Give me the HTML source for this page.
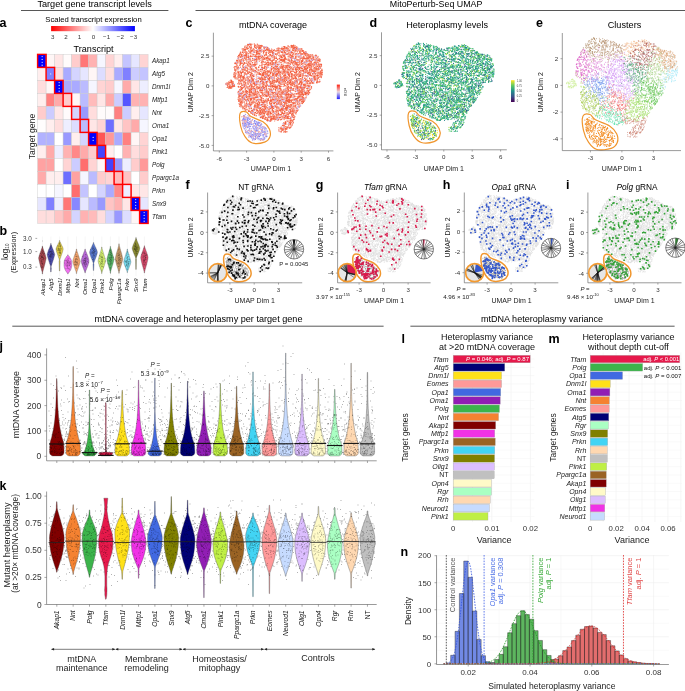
<!DOCTYPE html>
<html><head><meta charset="utf-8"><style>html,body{margin:0;padding:0;background:#fff;overflow:hidden}svg{display:block;will-change:transform}text{font-family:"Liberation Sans",sans-serif}</style></head>
<body><svg width="685" height="691" viewBox="0 0 685 691" font-family='"Liberation Sans", sans-serif'>
<text x="94.60" y="6.60" font-size="9" text-anchor="middle" textLength="114.4" lengthAdjust="spacingAndGlyphs">Target gene transcript levels</text>
<line x1="21.00" y1="10.50" x2="168.40" y2="10.50" stroke="#444" stroke-width="0.9"/>
<text x="436.10" y="6.60" font-size="9" text-anchor="middle" textLength="92.5" lengthAdjust="spacingAndGlyphs">MitoPerturb-Seq UMAP</text>
<line x1="195.50" y1="10.50" x2="685.00" y2="10.50" stroke="#444" stroke-width="0.9"/>
<text x="198.50" y="322.00" font-size="9" text-anchor="middle" textLength="207.9" lengthAdjust="spacingAndGlyphs">mtDNA coverage and heteroplasmy per target gene</text>
<line x1="12.30" y1="326.20" x2="383.60" y2="326.20" stroke="#444" stroke-width="0.9"/>
<text x="542.00" y="322.00" font-size="9" text-anchor="middle" textLength="122" lengthAdjust="spacingAndGlyphs">mtDNA heteroplasmy variance</text>
<line x1="410.40" y1="326.20" x2="674.60" y2="326.20" stroke="#444" stroke-width="0.9"/>
<text x="-0.60" y="26.80" font-size="12.5" font-weight="bold">a</text>
<text x="93.50" y="22.40" font-size="7.6" text-anchor="middle" textLength="96.3" lengthAdjust="spacingAndGlyphs">Scaled transcript expression</text>
<defs><linearGradient id="hmg" x1="0" x2="1" y1="0" y2="0"><stop offset="0" stop-color="#ff0000"/><stop offset="0.5" stop-color="#ffffff"/><stop offset="1" stop-color="#0000ff"/></linearGradient></defs>
<rect x="51.10" y="26.00" width="83.80" height="5.20" fill="url(#hmg)"/>
<text x="52.70" y="39.00" font-size="6.2" text-anchor="middle" fill="#333">3</text>
<text x="66.10" y="39.00" font-size="6.2" text-anchor="middle" fill="#333">2</text>
<text x="79.60" y="39.00" font-size="6.2" text-anchor="middle" fill="#333">1</text>
<text x="93.40" y="39.00" font-size="6.2" text-anchor="middle" fill="#333">0</text>
<text x="106.60" y="39.00" font-size="6.2" text-anchor="middle" fill="#333">−1</text>
<text x="120.30" y="39.00" font-size="6.2" text-anchor="middle" fill="#333">−2</text>
<text x="133.60" y="39.00" font-size="6.2" text-anchor="middle" fill="#333">−3</text>
<text x="93.60" y="51.80" font-size="9" text-anchor="middle" textLength="40" lengthAdjust="spacingAndGlyphs">Transcript</text>
<rect x="37.60" y="54.40" width="8.50" height="13.00" fill="#0000ff" stroke="#c8c8c8" stroke-width="0.4"/>
<rect x="46.10" y="54.40" width="8.50" height="13.00" fill="#fff6f6" stroke="#c8c8c8" stroke-width="0.4"/>
<rect x="54.60" y="54.40" width="8.50" height="13.00" fill="#ffe6e6" stroke="#c8c8c8" stroke-width="0.4"/>
<rect x="63.10" y="54.40" width="8.50" height="13.00" fill="#fffbfb" stroke="#c8c8c8" stroke-width="0.4"/>
<rect x="71.60" y="54.40" width="8.50" height="13.00" fill="#ffcccc" stroke="#c8c8c8" stroke-width="0.4"/>
<rect x="80.10" y="54.40" width="8.50" height="13.00" fill="#ff7777" stroke="#c8c8c8" stroke-width="0.4"/>
<rect x="88.60" y="54.40" width="8.50" height="13.00" fill="#ffb2b2" stroke="#c8c8c8" stroke-width="0.4"/>
<rect x="97.10" y="54.40" width="8.50" height="13.00" fill="#f6f6ff" stroke="#c8c8c8" stroke-width="0.4"/>
<rect x="105.60" y="54.40" width="8.50" height="13.00" fill="#ffd4d4" stroke="#c8c8c8" stroke-width="0.4"/>
<rect x="114.10" y="54.40" width="8.50" height="13.00" fill="#ffeeee" stroke="#c8c8c8" stroke-width="0.4"/>
<rect x="122.60" y="54.40" width="8.50" height="13.00" fill="#c4c4ff" stroke="#c8c8c8" stroke-width="0.4"/>
<rect x="131.10" y="54.40" width="8.50" height="13.00" fill="#e6e6ff" stroke="#c8c8c8" stroke-width="0.4"/>
<rect x="139.60" y="54.40" width="8.50" height="13.00" fill="#ffd4d4" stroke="#c8c8c8" stroke-width="0.4"/>
<rect x="37.60" y="67.40" width="8.50" height="13.00" fill="#ffeeee" stroke="#c8c8c8" stroke-width="0.4"/>
<rect x="46.10" y="67.40" width="8.50" height="13.00" fill="#8080ff" stroke="#c8c8c8" stroke-width="0.4"/>
<rect x="54.60" y="67.40" width="8.50" height="13.00" fill="#ffdddd" stroke="#c8c8c8" stroke-width="0.4"/>
<rect x="63.10" y="67.40" width="8.50" height="13.00" fill="#aaaaff" stroke="#c8c8c8" stroke-width="0.4"/>
<rect x="71.60" y="67.40" width="8.50" height="13.00" fill="#d4d4ff" stroke="#c8c8c8" stroke-width="0.4"/>
<rect x="80.10" y="67.40" width="8.50" height="13.00" fill="#e6e6ff" stroke="#c8c8c8" stroke-width="0.4"/>
<rect x="88.60" y="67.40" width="8.50" height="13.00" fill="#fff6f6" stroke="#c8c8c8" stroke-width="0.4"/>
<rect x="97.10" y="67.40" width="8.50" height="13.00" fill="#ddddff" stroke="#c8c8c8" stroke-width="0.4"/>
<rect x="105.60" y="67.40" width="8.50" height="13.00" fill="#ffdddd" stroke="#c8c8c8" stroke-width="0.4"/>
<rect x="114.10" y="67.40" width="8.50" height="13.00" fill="#aaaaff" stroke="#c8c8c8" stroke-width="0.4"/>
<rect x="122.60" y="67.40" width="8.50" height="13.00" fill="#8080ff" stroke="#c8c8c8" stroke-width="0.4"/>
<rect x="131.10" y="67.40" width="8.50" height="13.00" fill="#ccccff" stroke="#c8c8c8" stroke-width="0.4"/>
<rect x="139.60" y="67.40" width="8.50" height="13.00" fill="#c4c4ff" stroke="#c8c8c8" stroke-width="0.4"/>
<rect x="37.60" y="80.40" width="8.50" height="13.00" fill="#ffdddd" stroke="#c8c8c8" stroke-width="0.4"/>
<rect x="46.10" y="80.40" width="8.50" height="13.00" fill="#fff6f6" stroke="#c8c8c8" stroke-width="0.4"/>
<rect x="54.60" y="80.40" width="8.50" height="13.00" fill="#0000ff" stroke="#c8c8c8" stroke-width="0.4"/>
<rect x="63.10" y="80.40" width="8.50" height="13.00" fill="#aaaaff" stroke="#c8c8c8" stroke-width="0.4"/>
<rect x="71.60" y="80.40" width="8.50" height="13.00" fill="#aaaaff" stroke="#c8c8c8" stroke-width="0.4"/>
<rect x="80.10" y="80.40" width="8.50" height="13.00" fill="#bbbbff" stroke="#c8c8c8" stroke-width="0.4"/>
<rect x="88.60" y="80.40" width="8.50" height="13.00" fill="#f6f6ff" stroke="#c8c8c8" stroke-width="0.4"/>
<rect x="97.10" y="80.40" width="8.50" height="13.00" fill="#ffd4d4" stroke="#c8c8c8" stroke-width="0.4"/>
<rect x="105.60" y="80.40" width="8.50" height="13.00" fill="#ffcccc" stroke="#c8c8c8" stroke-width="0.4"/>
<rect x="114.10" y="80.40" width="8.50" height="13.00" fill="#f6f6ff" stroke="#c8c8c8" stroke-width="0.4"/>
<rect x="122.60" y="80.40" width="8.50" height="13.00" fill="#ffaaaa" stroke="#c8c8c8" stroke-width="0.4"/>
<rect x="131.10" y="80.40" width="8.50" height="13.00" fill="#ffe6e6" stroke="#c8c8c8" stroke-width="0.4"/>
<rect x="139.60" y="80.40" width="8.50" height="13.00" fill="#eeeeff" stroke="#c8c8c8" stroke-width="0.4"/>
<rect x="37.60" y="93.40" width="8.50" height="13.00" fill="#ffeeee" stroke="#c8c8c8" stroke-width="0.4"/>
<rect x="46.10" y="93.40" width="8.50" height="13.00" fill="#ff8080" stroke="#c8c8c8" stroke-width="0.4"/>
<rect x="54.60" y="93.40" width="8.50" height="13.00" fill="#ffaaaa" stroke="#c8c8c8" stroke-width="0.4"/>
<rect x="63.10" y="93.40" width="8.50" height="13.00" fill="#ffcccc" stroke="#c8c8c8" stroke-width="0.4"/>
<rect x="71.60" y="93.40" width="8.50" height="13.00" fill="#fff6f6" stroke="#c8c8c8" stroke-width="0.4"/>
<rect x="80.10" y="93.40" width="8.50" height="13.00" fill="#bbbbff" stroke="#c8c8c8" stroke-width="0.4"/>
<rect x="88.60" y="93.40" width="8.50" height="13.00" fill="#ffbbbb" stroke="#c8c8c8" stroke-width="0.4"/>
<rect x="97.10" y="93.40" width="8.50" height="13.00" fill="#ffe6e6" stroke="#c8c8c8" stroke-width="0.4"/>
<rect x="105.60" y="93.40" width="8.50" height="13.00" fill="#ffaaaa" stroke="#c8c8c8" stroke-width="0.4"/>
<rect x="114.10" y="93.40" width="8.50" height="13.00" fill="#ccccff" stroke="#c8c8c8" stroke-width="0.4"/>
<rect x="122.60" y="93.40" width="8.50" height="13.00" fill="#5555ff" stroke="#c8c8c8" stroke-width="0.4"/>
<rect x="131.10" y="93.40" width="8.50" height="13.00" fill="#ffb2b2" stroke="#c8c8c8" stroke-width="0.4"/>
<rect x="139.60" y="93.40" width="8.50" height="13.00" fill="#ffb2b2" stroke="#c8c8c8" stroke-width="0.4"/>
<rect x="37.60" y="106.40" width="8.50" height="13.00" fill="#ffcccc" stroke="#c8c8c8" stroke-width="0.4"/>
<rect x="46.10" y="106.40" width="8.50" height="13.00" fill="#ccccff" stroke="#c8c8c8" stroke-width="0.4"/>
<rect x="54.60" y="106.40" width="8.50" height="13.00" fill="#ffe6e6" stroke="#c8c8c8" stroke-width="0.4"/>
<rect x="63.10" y="106.40" width="8.50" height="13.00" fill="#fffbfb" stroke="#c8c8c8" stroke-width="0.4"/>
<rect x="71.60" y="106.40" width="8.50" height="13.00" fill="#d4d4ff" stroke="#c8c8c8" stroke-width="0.4"/>
<rect x="80.10" y="106.40" width="8.50" height="13.00" fill="#9999ff" stroke="#c8c8c8" stroke-width="0.4"/>
<rect x="88.60" y="106.40" width="8.50" height="13.00" fill="#ffdddd" stroke="#c8c8c8" stroke-width="0.4"/>
<rect x="97.10" y="106.40" width="8.50" height="13.00" fill="#fffbfb" stroke="#c8c8c8" stroke-width="0.4"/>
<rect x="105.60" y="106.40" width="8.50" height="13.00" fill="#fffbfb" stroke="#c8c8c8" stroke-width="0.4"/>
<rect x="114.10" y="106.40" width="8.50" height="13.00" fill="#ff8080" stroke="#c8c8c8" stroke-width="0.4"/>
<rect x="122.60" y="106.40" width="8.50" height="13.00" fill="#ccccff" stroke="#c8c8c8" stroke-width="0.4"/>
<rect x="131.10" y="106.40" width="8.50" height="13.00" fill="#ffeeee" stroke="#c8c8c8" stroke-width="0.4"/>
<rect x="139.60" y="106.40" width="8.50" height="13.00" fill="#e6e6ff" stroke="#c8c8c8" stroke-width="0.4"/>
<rect x="37.60" y="119.40" width="8.50" height="13.00" fill="#fffdfd" stroke="#c8c8c8" stroke-width="0.4"/>
<rect x="46.10" y="119.40" width="8.50" height="13.00" fill="#ffeeee" stroke="#c8c8c8" stroke-width="0.4"/>
<rect x="54.60" y="119.40" width="8.50" height="13.00" fill="#ffdddd" stroke="#c8c8c8" stroke-width="0.4"/>
<rect x="63.10" y="119.40" width="8.50" height="13.00" fill="#eeeeff" stroke="#c8c8c8" stroke-width="0.4"/>
<rect x="71.60" y="119.40" width="8.50" height="13.00" fill="#ddddff" stroke="#c8c8c8" stroke-width="0.4"/>
<rect x="80.10" y="119.40" width="8.50" height="13.00" fill="#bbbbff" stroke="#c8c8c8" stroke-width="0.4"/>
<rect x="88.60" y="119.40" width="8.50" height="13.00" fill="#ffe6e6" stroke="#c8c8c8" stroke-width="0.4"/>
<rect x="97.10" y="119.40" width="8.50" height="13.00" fill="#ffd4d4" stroke="#c8c8c8" stroke-width="0.4"/>
<rect x="105.60" y="119.40" width="8.50" height="13.00" fill="#6e6eff" stroke="#c8c8c8" stroke-width="0.4"/>
<rect x="114.10" y="119.40" width="8.50" height="13.00" fill="#ffe6e6" stroke="#c8c8c8" stroke-width="0.4"/>
<rect x="122.60" y="119.40" width="8.50" height="13.00" fill="#ffc4c4" stroke="#c8c8c8" stroke-width="0.4"/>
<rect x="131.10" y="119.40" width="8.50" height="13.00" fill="#ffaaaa" stroke="#c8c8c8" stroke-width="0.4"/>
<rect x="139.60" y="119.40" width="8.50" height="13.00" fill="#f6f6ff" stroke="#c8c8c8" stroke-width="0.4"/>
<rect x="37.60" y="132.40" width="8.50" height="13.00" fill="#b2b2ff" stroke="#c8c8c8" stroke-width="0.4"/>
<rect x="46.10" y="132.40" width="8.50" height="13.00" fill="#b2b2ff" stroke="#c8c8c8" stroke-width="0.4"/>
<rect x="54.60" y="132.40" width="8.50" height="13.00" fill="#ffffff" stroke="#c8c8c8" stroke-width="0.4"/>
<rect x="63.10" y="132.40" width="8.50" height="13.00" fill="#9999ff" stroke="#c8c8c8" stroke-width="0.4"/>
<rect x="71.60" y="132.40" width="8.50" height="13.00" fill="#ffeeee" stroke="#c8c8c8" stroke-width="0.4"/>
<rect x="80.10" y="132.40" width="8.50" height="13.00" fill="#d4d4ff" stroke="#c8c8c8" stroke-width="0.4"/>
<rect x="88.60" y="132.40" width="8.50" height="13.00" fill="#0000ff" stroke="#c8c8c8" stroke-width="0.4"/>
<rect x="97.10" y="132.40" width="8.50" height="13.00" fill="#ff5555" stroke="#c8c8c8" stroke-width="0.4"/>
<rect x="105.60" y="132.40" width="8.50" height="13.00" fill="#ff9999" stroke="#c8c8c8" stroke-width="0.4"/>
<rect x="114.10" y="132.40" width="8.50" height="13.00" fill="#aaaaff" stroke="#c8c8c8" stroke-width="0.4"/>
<rect x="122.60" y="132.40" width="8.50" height="13.00" fill="#ff8080" stroke="#c8c8c8" stroke-width="0.4"/>
<rect x="131.10" y="132.40" width="8.50" height="13.00" fill="#fff6f6" stroke="#c8c8c8" stroke-width="0.4"/>
<rect x="139.60" y="132.40" width="8.50" height="13.00" fill="#ffd4d4" stroke="#c8c8c8" stroke-width="0.4"/>
<rect x="37.60" y="145.40" width="8.50" height="13.00" fill="#ffeeee" stroke="#c8c8c8" stroke-width="0.4"/>
<rect x="46.10" y="145.40" width="8.50" height="13.00" fill="#ffaaaa" stroke="#c8c8c8" stroke-width="0.4"/>
<rect x="54.60" y="145.40" width="8.50" height="13.00" fill="#eeeeff" stroke="#c8c8c8" stroke-width="0.4"/>
<rect x="63.10" y="145.40" width="8.50" height="13.00" fill="#ffb2b2" stroke="#c8c8c8" stroke-width="0.4"/>
<rect x="71.60" y="145.40" width="8.50" height="13.00" fill="#ff8888" stroke="#c8c8c8" stroke-width="0.4"/>
<rect x="80.10" y="145.40" width="8.50" height="13.00" fill="#ffaaaa" stroke="#c8c8c8" stroke-width="0.4"/>
<rect x="88.60" y="145.40" width="8.50" height="13.00" fill="#ffcccc" stroke="#c8c8c8" stroke-width="0.4"/>
<rect x="97.10" y="145.40" width="8.50" height="13.00" fill="#4444ff" stroke="#c8c8c8" stroke-width="0.4"/>
<rect x="105.60" y="145.40" width="8.50" height="13.00" fill="#ffeeee" stroke="#c8c8c8" stroke-width="0.4"/>
<rect x="114.10" y="145.40" width="8.50" height="13.00" fill="#ffffff" stroke="#c8c8c8" stroke-width="0.4"/>
<rect x="122.60" y="145.40" width="8.50" height="13.00" fill="#ffb2b2" stroke="#c8c8c8" stroke-width="0.4"/>
<rect x="131.10" y="145.40" width="8.50" height="13.00" fill="#ffdddd" stroke="#c8c8c8" stroke-width="0.4"/>
<rect x="139.60" y="145.40" width="8.50" height="13.00" fill="#ffcccc" stroke="#c8c8c8" stroke-width="0.4"/>
<rect x="37.60" y="158.40" width="8.50" height="13.00" fill="#ffa2a2" stroke="#c8c8c8" stroke-width="0.4"/>
<rect x="46.10" y="158.40" width="8.50" height="13.00" fill="#ffa2a2" stroke="#c8c8c8" stroke-width="0.4"/>
<rect x="54.60" y="158.40" width="8.50" height="13.00" fill="#ffffff" stroke="#c8c8c8" stroke-width="0.4"/>
<rect x="63.10" y="158.40" width="8.50" height="13.00" fill="#ffd4d4" stroke="#c8c8c8" stroke-width="0.4"/>
<rect x="71.60" y="158.40" width="8.50" height="13.00" fill="#ccccff" stroke="#c8c8c8" stroke-width="0.4"/>
<rect x="80.10" y="158.40" width="8.50" height="13.00" fill="#ff6e6e" stroke="#c8c8c8" stroke-width="0.4"/>
<rect x="88.60" y="158.40" width="8.50" height="13.00" fill="#ffd4d4" stroke="#c8c8c8" stroke-width="0.4"/>
<rect x="97.10" y="158.40" width="8.50" height="13.00" fill="#fff6f6" stroke="#c8c8c8" stroke-width="0.4"/>
<rect x="105.60" y="158.40" width="8.50" height="13.00" fill="#4444ff" stroke="#c8c8c8" stroke-width="0.4"/>
<rect x="114.10" y="158.40" width="8.50" height="13.00" fill="#9999ff" stroke="#c8c8c8" stroke-width="0.4"/>
<rect x="122.60" y="158.40" width="8.50" height="13.00" fill="#eeeeff" stroke="#c8c8c8" stroke-width="0.4"/>
<rect x="131.10" y="158.40" width="8.50" height="13.00" fill="#ffcccc" stroke="#c8c8c8" stroke-width="0.4"/>
<rect x="139.60" y="158.40" width="8.50" height="13.00" fill="#ff9999" stroke="#c8c8c8" stroke-width="0.4"/>
<rect x="37.60" y="171.40" width="8.50" height="13.00" fill="#ffaaaa" stroke="#c8c8c8" stroke-width="0.4"/>
<rect x="46.10" y="171.40" width="8.50" height="13.00" fill="#ffeeee" stroke="#c8c8c8" stroke-width="0.4"/>
<rect x="54.60" y="171.40" width="8.50" height="13.00" fill="#ffeeee" stroke="#c8c8c8" stroke-width="0.4"/>
<rect x="63.10" y="171.40" width="8.50" height="13.00" fill="#6e6eff" stroke="#c8c8c8" stroke-width="0.4"/>
<rect x="71.60" y="171.40" width="8.50" height="13.00" fill="#ffa2a2" stroke="#c8c8c8" stroke-width="0.4"/>
<rect x="80.10" y="171.40" width="8.50" height="13.00" fill="#f6f6ff" stroke="#c8c8c8" stroke-width="0.4"/>
<rect x="88.60" y="171.40" width="8.50" height="13.00" fill="#bbbbff" stroke="#c8c8c8" stroke-width="0.4"/>
<rect x="97.10" y="171.40" width="8.50" height="13.00" fill="#ffcccc" stroke="#c8c8c8" stroke-width="0.4"/>
<rect x="105.60" y="171.40" width="8.50" height="13.00" fill="#ffd4d4" stroke="#c8c8c8" stroke-width="0.4"/>
<rect x="114.10" y="171.40" width="8.50" height="13.00" fill="#ffbbbb" stroke="#c8c8c8" stroke-width="0.4"/>
<rect x="122.60" y="171.40" width="8.50" height="13.00" fill="#ffc4c4" stroke="#c8c8c8" stroke-width="0.4"/>
<rect x="131.10" y="171.40" width="8.50" height="13.00" fill="#ffffff" stroke="#c8c8c8" stroke-width="0.4"/>
<rect x="139.60" y="171.40" width="8.50" height="13.00" fill="#ffcccc" stroke="#c8c8c8" stroke-width="0.4"/>
<rect x="37.60" y="184.40" width="8.50" height="13.00" fill="#ffffff" stroke="#c8c8c8" stroke-width="0.4"/>
<rect x="46.10" y="184.40" width="8.50" height="13.00" fill="#ffffff" stroke="#c8c8c8" stroke-width="0.4"/>
<rect x="54.60" y="184.40" width="8.50" height="13.00" fill="#f6f6ff" stroke="#c8c8c8" stroke-width="0.4"/>
<rect x="63.10" y="184.40" width="8.50" height="13.00" fill="#ffffff" stroke="#c8c8c8" stroke-width="0.4"/>
<rect x="71.60" y="184.40" width="8.50" height="13.00" fill="#ff6e6e" stroke="#c8c8c8" stroke-width="0.4"/>
<rect x="80.10" y="184.40" width="8.50" height="13.00" fill="#c4c4ff" stroke="#c8c8c8" stroke-width="0.4"/>
<rect x="88.60" y="184.40" width="8.50" height="13.00" fill="#ffffff" stroke="#c8c8c8" stroke-width="0.4"/>
<rect x="97.10" y="184.40" width="8.50" height="13.00" fill="#d4d4ff" stroke="#c8c8c8" stroke-width="0.4"/>
<rect x="105.60" y="184.40" width="8.50" height="13.00" fill="#aaaaff" stroke="#c8c8c8" stroke-width="0.4"/>
<rect x="114.10" y="184.40" width="8.50" height="13.00" fill="#ff8888" stroke="#c8c8c8" stroke-width="0.4"/>
<rect x="122.60" y="184.40" width="8.50" height="13.00" fill="#eeeeff" stroke="#c8c8c8" stroke-width="0.4"/>
<rect x="131.10" y="184.40" width="8.50" height="13.00" fill="#ffe6e6" stroke="#c8c8c8" stroke-width="0.4"/>
<rect x="139.60" y="184.40" width="8.50" height="13.00" fill="#ffe6e6" stroke="#c8c8c8" stroke-width="0.4"/>
<rect x="37.60" y="197.40" width="8.50" height="13.00" fill="#e6e6ff" stroke="#c8c8c8" stroke-width="0.4"/>
<rect x="46.10" y="197.40" width="8.50" height="13.00" fill="#8080ff" stroke="#c8c8c8" stroke-width="0.4"/>
<rect x="54.60" y="197.40" width="8.50" height="13.00" fill="#eeeeff" stroke="#c8c8c8" stroke-width="0.4"/>
<rect x="63.10" y="197.40" width="8.50" height="13.00" fill="#ff7777" stroke="#c8c8c8" stroke-width="0.4"/>
<rect x="71.60" y="197.40" width="8.50" height="13.00" fill="#8888ff" stroke="#c8c8c8" stroke-width="0.4"/>
<rect x="80.10" y="197.40" width="8.50" height="13.00" fill="#e6e6ff" stroke="#c8c8c8" stroke-width="0.4"/>
<rect x="88.60" y="197.40" width="8.50" height="13.00" fill="#bbbbff" stroke="#c8c8c8" stroke-width="0.4"/>
<rect x="97.10" y="197.40" width="8.50" height="13.00" fill="#9999ff" stroke="#c8c8c8" stroke-width="0.4"/>
<rect x="105.60" y="197.40" width="8.50" height="13.00" fill="#ffc4c4" stroke="#c8c8c8" stroke-width="0.4"/>
<rect x="114.10" y="197.40" width="8.50" height="13.00" fill="#ffb2b2" stroke="#c8c8c8" stroke-width="0.4"/>
<rect x="122.60" y="197.40" width="8.50" height="13.00" fill="#ffe6e6" stroke="#c8c8c8" stroke-width="0.4"/>
<rect x="131.10" y="197.40" width="8.50" height="13.00" fill="#0000ff" stroke="#c8c8c8" stroke-width="0.4"/>
<rect x="139.60" y="197.40" width="8.50" height="13.00" fill="#e6e6ff" stroke="#c8c8c8" stroke-width="0.4"/>
<rect x="37.60" y="210.40" width="8.50" height="13.00" fill="#ffdddd" stroke="#c8c8c8" stroke-width="0.4"/>
<rect x="46.10" y="210.40" width="8.50" height="13.00" fill="#ffdddd" stroke="#c8c8c8" stroke-width="0.4"/>
<rect x="54.60" y="210.40" width="8.50" height="13.00" fill="#ffc4c4" stroke="#c8c8c8" stroke-width="0.4"/>
<rect x="63.10" y="210.40" width="8.50" height="13.00" fill="#ffaaaa" stroke="#c8c8c8" stroke-width="0.4"/>
<rect x="71.60" y="210.40" width="8.50" height="13.00" fill="#d4d4ff" stroke="#c8c8c8" stroke-width="0.4"/>
<rect x="80.10" y="210.40" width="8.50" height="13.00" fill="#ffb2b2" stroke="#c8c8c8" stroke-width="0.4"/>
<rect x="88.60" y="210.40" width="8.50" height="13.00" fill="#ffbbbb" stroke="#c8c8c8" stroke-width="0.4"/>
<rect x="97.10" y="210.40" width="8.50" height="13.00" fill="#ffdddd" stroke="#c8c8c8" stroke-width="0.4"/>
<rect x="105.60" y="210.40" width="8.50" height="13.00" fill="#d4d4ff" stroke="#c8c8c8" stroke-width="0.4"/>
<rect x="114.10" y="210.40" width="8.50" height="13.00" fill="#9999ff" stroke="#c8c8c8" stroke-width="0.4"/>
<rect x="122.60" y="210.40" width="8.50" height="13.00" fill="#ddddff" stroke="#c8c8c8" stroke-width="0.4"/>
<rect x="131.10" y="210.40" width="8.50" height="13.00" fill="#fff6f6" stroke="#c8c8c8" stroke-width="0.4"/>
<rect x="139.60" y="210.40" width="8.50" height="13.00" fill="#0000ff" stroke="#c8c8c8" stroke-width="0.4"/>
<rect x="37.60" y="54.40" width="8.50" height="13.00" fill="none" stroke="#ff0000" stroke-width="1.45"/>
<circle cx="42.15" cy="56.55" r="0.65" fill="#dde" />
<circle cx="42.15" cy="59.45" r="0.65" fill="#dde" />
<circle cx="42.15" cy="62.35" r="0.65" fill="#dde" />
<circle cx="42.15" cy="65.25" r="0.65" fill="#dde" />
<rect x="46.10" y="67.40" width="8.50" height="13.00" fill="none" stroke="#ff0000" stroke-width="1.45"/>
<circle cx="50.65" cy="73.90" r="0.65" fill="#dde" />
<rect x="54.60" y="80.40" width="8.50" height="13.00" fill="none" stroke="#ff0000" stroke-width="1.45"/>
<circle cx="59.15" cy="82.55" r="0.65" fill="#dde" />
<circle cx="59.15" cy="85.45" r="0.65" fill="#dde" />
<circle cx="59.15" cy="88.35" r="0.65" fill="#dde" />
<circle cx="59.15" cy="91.25" r="0.65" fill="#dde" />
<rect x="63.10" y="93.40" width="8.50" height="13.00" fill="none" stroke="#ff0000" stroke-width="1.45"/>
<rect x="71.60" y="106.40" width="8.50" height="13.00" fill="none" stroke="#ff0000" stroke-width="1.45"/>
<rect x="80.10" y="119.40" width="8.50" height="13.00" fill="none" stroke="#ff0000" stroke-width="1.45"/>
<rect x="88.60" y="132.40" width="8.50" height="13.00" fill="none" stroke="#ff0000" stroke-width="1.45"/>
<circle cx="93.15" cy="137.45" r="0.65" fill="#dde" />
<circle cx="93.15" cy="140.35" r="0.65" fill="#dde" />
<rect x="97.10" y="145.40" width="8.50" height="13.00" fill="none" stroke="#ff0000" stroke-width="1.45"/>
<rect x="105.60" y="158.40" width="8.50" height="13.00" fill="none" stroke="#ff0000" stroke-width="1.45"/>
<rect x="114.10" y="171.40" width="8.50" height="13.00" fill="none" stroke="#ff0000" stroke-width="1.45"/>
<rect x="122.60" y="184.40" width="8.50" height="13.00" fill="none" stroke="#ff0000" stroke-width="1.45"/>
<rect x="131.10" y="197.40" width="8.50" height="13.00" fill="none" stroke="#ff0000" stroke-width="1.45"/>
<circle cx="135.65" cy="199.55" r="0.65" fill="#dde" />
<circle cx="135.65" cy="202.45" r="0.65" fill="#dde" />
<circle cx="135.65" cy="205.35" r="0.65" fill="#dde" />
<circle cx="135.65" cy="208.25" r="0.65" fill="#dde" />
<rect x="139.60" y="210.40" width="8.50" height="13.00" fill="none" stroke="#ff0000" stroke-width="1.45"/>
<circle cx="144.15" cy="212.55" r="0.65" fill="#dde" />
<circle cx="144.15" cy="215.45" r="0.65" fill="#dde" />
<circle cx="144.15" cy="218.35" r="0.65" fill="#dde" />
<circle cx="144.15" cy="221.25" r="0.65" fill="#dde" />
<text x="152.00" y="63.10" font-size="6.3" font-style="italic" fill="#222">Akap1</text>
<text x="152.00" y="76.10" font-size="6.3" font-style="italic" fill="#222">Atg5</text>
<text x="152.00" y="89.10" font-size="6.3" font-style="italic" fill="#222">Dnm1l</text>
<text x="152.00" y="102.10" font-size="6.3" font-style="italic" fill="#222">Mtfp1</text>
<text x="152.00" y="115.10" font-size="6.3" font-style="italic" fill="#222">Nnt</text>
<text x="152.00" y="128.10" font-size="6.3" font-style="italic" fill="#222">Oma1</text>
<text x="152.00" y="141.10" font-size="6.3" font-style="italic" fill="#222">Opa1</text>
<text x="152.00" y="154.10" font-size="6.3" font-style="italic" fill="#222">Pink1</text>
<text x="152.00" y="167.10" font-size="6.3" font-style="italic" fill="#222">Polg</text>
<text x="152.00" y="180.10" font-size="6.3" font-style="italic" fill="#222">Ppargc1a</text>
<text x="152.00" y="193.10" font-size="6.3" font-style="italic" fill="#222">Prkn</text>
<text x="152.00" y="206.10" font-size="6.3" font-style="italic" fill="#222">Snx9</text>
<text x="152.00" y="219.10" font-size="6.3" font-style="italic" fill="#222">Tfam</text>
<text transform="translate(34.60,136.50) rotate(-90)" font-size="8.6" text-anchor="middle" fill="#222">Target gene</text>
<text x="-0.50" y="234.50" font-size="12.5" font-weight="bold">b</text>
<text x="31.80" y="240.50" font-size="6.3" text-anchor="end" fill="#333">3.0</text>
<line x1="35.40" y1="238.40" x2="37.20" y2="238.40" stroke="#555" stroke-width="0.5"/>
<text x="31.80" y="253.70" font-size="6.3" text-anchor="end" fill="#333">1.0</text>
<line x1="35.40" y1="251.60" x2="37.20" y2="251.60" stroke="#555" stroke-width="0.5"/>
<text x="31.80" y="269.20" font-size="6.3" text-anchor="end" fill="#333">0.3</text>
<line x1="35.40" y1="267.10" x2="37.20" y2="267.10" stroke="#555" stroke-width="0.5"/>
<text transform="translate(7.6,251.8) rotate(-90)" font-size="8.6" text-anchor="middle" fill="#222">log<tspan font-size="4.6" dy="1.4">10</tspan></text>
<text transform="translate(15.80,252.40) rotate(-90)" font-size="7.3" text-anchor="middle" fill="#222">(Expression)</text>
<line x1="42.40" y1="236.50" x2="42.40" y2="276.00" stroke="#e4e4e4" stroke-width="0.35"/>
<line x1="50.90" y1="236.50" x2="50.90" y2="276.00" stroke="#e4e4e4" stroke-width="0.35"/>
<line x1="59.60" y1="236.50" x2="59.60" y2="276.00" stroke="#e4e4e4" stroke-width="0.35"/>
<line x1="67.90" y1="236.50" x2="67.90" y2="276.00" stroke="#e4e4e4" stroke-width="0.35"/>
<line x1="76.50" y1="236.50" x2="76.50" y2="276.00" stroke="#e4e4e4" stroke-width="0.35"/>
<line x1="85.10" y1="236.50" x2="85.10" y2="276.00" stroke="#e4e4e4" stroke-width="0.35"/>
<line x1="93.50" y1="236.50" x2="93.50" y2="276.00" stroke="#e4e4e4" stroke-width="0.35"/>
<line x1="101.80" y1="236.50" x2="101.80" y2="276.00" stroke="#e4e4e4" stroke-width="0.35"/>
<line x1="110.40" y1="236.50" x2="110.40" y2="276.00" stroke="#e4e4e4" stroke-width="0.35"/>
<line x1="119.00" y1="236.50" x2="119.00" y2="276.00" stroke="#e4e4e4" stroke-width="0.35"/>
<line x1="127.30" y1="236.50" x2="127.30" y2="276.00" stroke="#e4e4e4" stroke-width="0.35"/>
<line x1="136.00" y1="236.50" x2="136.00" y2="276.00" stroke="#e4e4e4" stroke-width="0.35"/>
<line x1="144.40" y1="236.50" x2="144.40" y2="276.00" stroke="#e4e4e4" stroke-width="0.35"/>
<path d="M42.2 246.0L42.2 246.7L42.1 247.3L41.9 248.0L41.6 248.7L41.4 249.3L41.2 250.0L40.9 250.7L40.7 251.3L40.4 252.0L40.2 252.7L39.9 253.3L39.7 254.0L39.5 254.7L39.3 255.3L39.1 256.0L38.9 256.7L38.7 257.3L38.6 258.0L38.7 258.9L38.9 259.8L39.1 260.7L39.3 261.6L39.5 262.4L39.7 263.3L39.9 264.2L40.2 265.1L40.4 266.0L40.7 266.9L40.9 267.8L41.2 268.7L41.4 269.6L41.6 270.4L41.9 271.3L42.1 272.2L42.2 273.1L42.2 274.0L42.6 274.0L42.6 273.1L42.7 272.2L42.9 271.3L43.2 270.4L43.4 269.6L43.6 268.7L43.9 267.8L44.1 266.9L44.4 266.0L44.6 265.1L44.9 264.2L45.1 263.3L45.3 262.4L45.5 261.6L45.7 260.7L45.9 259.8L46.1 258.9L46.2 258.0L46.1 257.3L45.9 256.7L45.7 256.0L45.5 255.3L45.3 254.7L45.1 254.0L44.9 253.3L44.6 252.7L44.4 252.0L44.1 251.3L43.9 250.7L43.6 250.0L43.4 249.3L43.2 248.7L42.9 248.0L42.7 247.3L42.6 246.7L42.6 246.0Z" fill="#a84850" stroke="#444" stroke-width="0.3"/>
<path d="M50.7 243.5L50.7 244.1L50.6 244.7L50.4 245.3L50.1 245.9L49.9 246.6L49.7 247.2L49.4 247.8L49.2 248.4L48.9 249.0L48.7 249.6L48.4 250.2L48.2 250.8L48.0 251.4L47.8 252.1L47.6 252.7L47.4 253.3L47.2 253.9L47.1 254.5L47.2 255.2L47.4 256.0L47.6 256.8L47.8 257.5L48.0 258.2L48.2 259.0L48.4 259.8L48.7 260.5L48.9 261.2L49.2 262.0L49.4 262.8L49.7 263.5L49.9 264.2L50.1 265.0L50.4 265.8L50.6 266.5L50.7 267.2L50.4 268.0L50.7 272.0L51.1 272.0L51.4 268.0L51.1 267.2L51.2 266.5L51.4 265.8L51.7 265.0L51.9 264.2L52.1 263.5L52.4 262.8L52.6 262.0L52.9 261.2L53.1 260.5L53.4 259.8L53.6 259.0L53.8 258.2L54.0 257.5L54.2 256.8L54.4 256.0L54.6 255.2L54.7 254.5L54.6 253.9L54.4 253.3L54.2 252.7L54.0 252.1L53.8 251.4L53.6 250.8L53.4 250.2L53.1 249.6L52.9 249.0L52.6 248.4L52.4 247.8L52.1 247.2L51.9 246.6L51.7 245.9L51.4 245.3L51.2 244.7L51.1 244.1L51.1 243.5Z" fill="#4c4cac" stroke="#444" stroke-width="0.3"/>
<path d="M59.4 240.5L59.4 241.0L59.3 241.4L59.1 241.9L58.9 242.4L58.6 242.9L58.4 243.3L58.2 243.8L58.0 244.3L57.7 244.8L57.5 245.2L57.3 245.7L57.0 246.2L56.8 246.6L56.6 247.1L56.4 247.6L56.3 248.1L56.1 248.5L56.0 249.0L56.1 249.7L56.3 250.3L56.4 251.0L56.6 251.7L56.8 252.3L57.0 253.0L57.3 253.7L57.5 254.3L57.7 255.0L58.0 255.7L58.2 256.3L58.4 257.0L58.6 257.7L58.9 258.3L59.1 259.0L59.3 259.7L59.4 260.3L59.1 261.0L59.4 271.0L59.8 271.0L60.1 261.0L59.8 260.3L59.9 259.7L60.1 259.0L60.3 258.3L60.6 257.7L60.8 257.0L61.0 256.3L61.2 255.7L61.5 255.0L61.7 254.3L61.9 253.7L62.2 253.0L62.4 252.3L62.6 251.7L62.8 251.0L62.9 250.3L63.1 249.7L63.2 249.0L63.1 248.5L62.9 248.1L62.8 247.6L62.6 247.1L62.4 246.6L62.2 246.2L61.9 245.7L61.7 245.2L61.5 244.8L61.2 244.3L61.0 243.8L60.8 243.3L60.6 242.9L60.3 242.4L60.1 241.9L59.9 241.4L59.8 241.0L59.8 240.5Z" fill="#e0cc48" stroke="#444" stroke-width="0.3"/>
<path d="M67.7 254.8L67.6 255.3L67.2 255.8L66.7 256.3L66.3 256.8L66.0 257.4L65.6 257.9L65.3 258.4L65.0 258.9L64.8 259.4L64.6 259.9L64.4 260.4L64.3 260.9L64.2 261.4L64.1 262.0L64.0 262.5L64.0 263.0L64.0 263.5L64.0 264.0L64.0 264.6L64.0 265.1L64.0 265.7L64.1 266.2L64.2 266.8L64.3 267.3L64.4 267.9L64.6 268.4L64.8 269.0L65.0 269.6L65.3 270.1L65.6 270.7L66.0 271.2L66.3 271.8L66.7 272.3L67.2 272.9L67.6 273.4L67.7 274.0L68.1 274.0L68.2 273.4L68.6 272.9L69.1 272.3L69.5 271.8L69.8 271.2L70.2 270.7L70.5 270.1L70.8 269.6L71.0 269.0L71.2 268.4L71.4 267.9L71.5 267.3L71.6 266.8L71.7 266.2L71.8 265.7L71.8 265.1L71.8 264.6L71.8 264.0L71.8 263.5L71.8 263.0L71.8 262.5L71.7 262.0L71.6 261.4L71.5 260.9L71.4 260.4L71.2 259.9L71.0 259.4L70.8 258.9L70.5 258.4L70.2 257.9L69.8 257.4L69.5 256.8L69.1 256.3L68.6 255.8L68.2 255.3L68.1 254.8Z" fill="#f070f0" stroke="#444" stroke-width="0.3"/>
<path d="M76.3 249.0L76.3 249.7L76.2 250.4L76.0 251.1L75.8 251.8L75.5 252.5L75.3 253.2L75.0 253.9L74.8 254.6L74.6 255.2L74.3 255.9L74.1 256.6L73.9 257.3L73.7 258.0L73.4 258.7L73.2 259.4L73.1 260.1L72.9 260.8L72.8 261.5L72.9 262.2L73.1 262.8L73.2 263.5L73.4 264.2L73.7 264.9L73.9 265.5L74.1 266.2L74.3 266.9L74.6 267.6L74.8 268.2L75.0 268.9L75.3 269.6L75.5 270.2L75.8 270.9L76.0 271.6L76.2 272.3L76.3 272.9L76.3 273.6L76.7 273.6L76.7 272.9L76.8 272.3L77.0 271.6L77.2 270.9L77.5 270.2L77.7 269.6L78.0 268.9L78.2 268.2L78.4 267.6L78.7 266.9L78.9 266.2L79.1 265.5L79.3 264.9L79.6 264.2L79.8 263.5L79.9 262.8L80.1 262.2L80.2 261.5L80.1 260.8L79.9 260.1L79.8 259.4L79.6 258.7L79.3 258.0L79.1 257.3L78.9 256.6L78.7 255.9L78.4 255.2L78.2 254.6L78.0 253.9L77.7 253.2L77.5 252.5L77.2 251.8L77.0 251.1L76.8 250.4L76.7 249.7L76.7 249.0Z" fill="#f8a870" stroke="#444" stroke-width="0.3"/>
<path d="M84.9 249.0L84.9 249.7L84.7 250.3L84.4 251.0L84.2 251.7L83.9 252.3L83.6 253.0L83.4 253.7L83.1 254.3L82.8 255.0L82.6 255.7L82.3 256.3L82.1 257.0L81.9 257.7L81.7 258.3L81.5 259.0L81.4 259.7L81.3 260.3L81.2 261.0L81.3 261.7L81.4 262.3L81.5 263.0L81.7 263.7L81.9 264.3L82.1 265.0L82.3 265.7L82.6 266.3L82.8 267.0L83.1 267.7L83.4 268.3L83.6 269.0L83.9 269.7L84.2 270.3L84.4 271.0L84.7 271.7L84.9 272.3L84.9 273.0L85.3 273.0L85.3 272.3L85.5 271.7L85.8 271.0L86.0 270.3L86.3 269.7L86.6 269.0L86.8 268.3L87.1 267.7L87.4 267.0L87.6 266.3L87.9 265.7L88.1 265.0L88.3 264.3L88.5 263.7L88.7 263.0L88.8 262.3L88.9 261.7L89.0 261.0L88.9 260.3L88.8 259.7L88.7 259.0L88.5 258.3L88.3 257.7L88.1 257.0L87.9 256.3L87.6 255.7L87.4 255.0L87.1 254.3L86.8 253.7L86.6 253.0L86.3 252.3L86.0 251.7L85.8 251.0L85.5 250.3L85.3 249.7L85.3 249.0Z" fill="#b466d4" stroke="#444" stroke-width="0.3"/>
<path d="M93.3 242.5L93.3 243.0L93.1 243.6L92.9 244.1L92.6 244.7L92.4 245.2L92.1 245.8L91.9 246.3L91.6 246.9L91.3 247.4L91.1 247.9L90.9 248.5L90.6 249.0L90.4 249.6L90.2 250.1L90.0 250.7L89.8 251.2L89.7 251.8L89.6 252.3L89.7 253.0L89.8 253.6L90.0 254.2L90.2 254.9L90.4 255.6L90.6 256.2L90.9 256.9L91.1 257.5L91.3 258.1L91.6 258.8L91.9 259.4L92.1 260.1L92.4 260.8L92.6 261.4L92.9 262.1L93.1 262.7L93.3 263.4L93.0 264.0L93.3 270.5L93.7 270.5L94.0 264.0L93.7 263.4L93.9 262.7L94.1 262.1L94.4 261.4L94.6 260.8L94.9 260.1L95.1 259.4L95.4 258.8L95.7 258.1L95.9 257.5L96.1 256.9L96.4 256.2L96.6 255.6L96.8 254.9L97.0 254.2L97.2 253.6L97.3 253.0L97.4 252.3L97.3 251.8L97.2 251.2L97.0 250.7L96.8 250.1L96.6 249.6L96.4 249.0L96.1 248.5L95.9 247.9L95.7 247.4L95.4 246.9L95.1 246.3L94.9 245.8L94.6 245.2L94.4 244.7L94.1 244.1L93.9 243.6L93.7 243.0L93.7 242.5Z" fill="#5878d0" stroke="#444" stroke-width="0.3"/>
<path d="M101.6 247.0L101.6 247.8L101.5 248.6L101.3 249.3L101.1 250.1L100.8 250.9L100.6 251.7L100.3 252.4L100.1 253.2L99.9 254.0L99.6 254.8L99.4 255.6L99.2 256.3L99.0 257.1L98.7 257.9L98.5 258.7L98.4 259.4L98.2 260.2L98.1 261.0L98.2 261.7L98.4 262.4L98.5 263.1L98.7 263.8L99.0 264.5L99.2 265.2L99.4 265.9L99.6 266.6L99.9 267.2L100.1 267.9L100.3 268.6L100.6 269.3L100.8 270.0L101.1 270.7L101.3 271.4L101.5 272.1L101.6 272.8L101.6 273.5L102.0 273.5L102.0 272.8L102.1 272.1L102.3 271.4L102.5 270.7L102.8 270.0L103.0 269.3L103.3 268.6L103.5 267.9L103.7 267.2L104.0 266.6L104.2 265.9L104.4 265.2L104.6 264.5L104.9 263.8L105.1 263.1L105.2 262.4L105.4 261.7L105.5 261.0L105.4 260.2L105.2 259.4L105.1 258.7L104.9 257.9L104.6 257.1L104.4 256.3L104.2 255.6L104.0 254.8L103.7 254.0L103.5 253.2L103.3 252.4L103.0 251.7L102.8 250.9L102.5 250.1L102.3 249.3L102.1 248.6L102.0 247.8L102.0 247.0Z" fill="#d4f070" stroke="#444" stroke-width="0.3"/>
<path d="M110.2 246.4L110.2 247.1L110.1 247.9L109.9 248.6L109.7 249.3L109.5 250.1L109.3 250.8L109.0 251.5L108.8 252.3L108.6 253.0L108.4 253.7L108.1 254.5L107.9 255.2L107.7 255.9L107.5 256.7L107.3 257.4L107.1 258.1L107.0 258.9L106.9 259.6L107.0 260.3L107.1 261.1L107.3 261.8L107.5 262.6L107.7 263.3L107.9 264.1L108.1 264.8L108.4 265.6L108.6 266.3L108.8 267.0L109.0 267.8L109.3 268.5L109.5 269.3L109.7 270.0L109.9 270.8L110.1 271.5L110.2 272.3L110.2 273.0L110.6 273.0L110.6 272.3L110.7 271.5L110.9 270.8L111.1 270.0L111.3 269.3L111.5 268.5L111.8 267.8L112.0 267.0L112.2 266.3L112.4 265.6L112.7 264.8L112.9 264.1L113.1 263.3L113.3 262.6L113.5 261.8L113.7 261.1L113.8 260.3L113.9 259.6L113.8 258.9L113.7 258.1L113.5 257.4L113.3 256.7L113.1 255.9L112.9 255.2L112.7 254.5L112.4 253.7L112.2 253.0L112.0 252.3L111.8 251.5L111.5 250.8L111.3 250.1L111.1 249.3L110.9 248.6L110.7 247.9L110.6 247.1L110.6 246.4Z" fill="#58b468" stroke="#444" stroke-width="0.3"/>
<path d="M118.8 243.8L118.8 244.6L118.7 245.5L118.5 246.3L118.2 247.2L118.0 248.0L117.8 248.9L117.5 249.7L117.3 250.6L117.0 251.4L116.8 252.2L116.5 253.1L116.3 253.9L116.1 254.8L115.9 255.6L115.7 256.5L115.5 257.3L115.3 258.2L115.2 259.0L115.3 259.8L115.5 260.6L115.7 261.4L115.9 262.2L116.1 263.0L116.3 263.8L116.5 264.6L116.8 265.4L117.0 266.1L117.3 266.9L117.5 267.7L117.8 268.5L118.0 269.3L118.2 270.1L118.5 270.9L118.7 271.7L118.8 272.5L118.8 273.3L119.2 273.3L119.2 272.5L119.3 271.7L119.5 270.9L119.8 270.1L120.0 269.3L120.2 268.5L120.5 267.7L120.7 266.9L121.0 266.1L121.2 265.4L121.5 264.6L121.7 263.8L121.9 263.0L122.1 262.2L122.3 261.4L122.5 260.6L122.7 259.8L122.8 259.0L122.7 258.2L122.5 257.3L122.3 256.5L122.1 255.6L121.9 254.8L121.7 253.9L121.5 253.1L121.2 252.2L121.0 251.4L120.7 250.6L120.5 249.7L120.2 248.9L120.0 248.0L119.8 247.2L119.5 246.3L119.3 245.5L119.2 244.6L119.2 243.8Z" fill="#c89868" stroke="#444" stroke-width="0.3"/>
<path d="M127.1 249.0L127.1 249.7L127.0 250.4L126.8 251.2L126.6 251.9L126.3 252.6L126.1 253.3L125.9 254.1L125.7 254.8L125.4 255.5L125.2 256.2L125.0 256.9L124.7 257.7L124.5 258.4L124.3 259.1L124.1 259.8L124.0 260.6L123.8 261.3L123.7 262.0L123.8 262.6L124.0 263.2L124.1 263.8L124.3 264.4L124.5 264.9L124.7 265.5L125.0 266.1L125.2 266.7L125.4 267.3L125.7 267.9L125.9 268.5L126.1 269.1L126.3 269.7L126.6 270.2L126.8 270.8L127.0 271.4L127.1 272.0L127.1 272.6L127.5 272.6L127.5 272.0L127.6 271.4L127.8 270.8L128.0 270.2L128.3 269.7L128.5 269.1L128.7 268.5L128.9 267.9L129.2 267.3L129.4 266.7L129.6 266.1L129.9 265.5L130.1 264.9L130.3 264.4L130.5 263.8L130.6 263.2L130.8 262.6L130.9 262.0L130.8 261.3L130.6 260.6L130.5 259.8L130.3 259.1L130.1 258.4L129.9 257.7L129.6 256.9L129.4 256.2L129.2 255.5L128.9 254.8L128.7 254.1L128.5 253.3L128.3 252.6L128.0 251.9L127.8 251.2L127.6 250.4L127.5 249.7L127.5 249.0Z" fill="#78dcf0" stroke="#444" stroke-width="0.3"/>
<path d="M135.8 237.9L135.8 238.5L135.6 239.1L135.4 239.7L135.2 240.2L134.9 240.8L134.7 241.4L134.4 242.0L134.2 242.6L133.9 243.2L133.7 243.7L133.4 244.3L133.2 244.9L133.0 245.5L132.8 246.1L132.6 246.7L132.4 247.2L132.3 247.8L132.2 248.4L132.3 249.0L132.4 249.6L132.6 250.2L132.8 250.8L133.0 251.3L133.2 251.9L133.4 252.5L133.7 253.1L133.9 253.7L134.2 254.3L134.4 254.9L134.7 255.5L134.9 256.1L135.2 256.6L135.4 257.2L135.6 257.8L135.8 258.4L135.6 259.0L135.8 269.4L136.2 269.4L136.4 259.0L136.2 258.4L136.4 257.8L136.6 257.2L136.8 256.6L137.1 256.1L137.3 255.5L137.6 254.9L137.8 254.3L138.1 253.7L138.3 253.1L138.6 252.5L138.8 251.9L139.0 251.3L139.2 250.8L139.4 250.2L139.6 249.6L139.7 249.0L139.8 248.4L139.7 247.8L139.6 247.2L139.4 246.7L139.2 246.1L139.0 245.5L138.8 244.9L138.6 244.3L138.3 243.7L138.1 243.2L137.8 242.6L137.6 242.0L137.3 241.4L137.1 240.8L136.8 240.2L136.6 239.7L136.4 239.1L136.2 238.5L136.2 237.9Z" fill="#8c8c34" stroke="#444" stroke-width="0.3"/>
<path d="M144.2 245.8L144.2 246.5L144.0 247.1L143.8 247.8L143.6 248.4L143.3 249.1L143.1 249.7L142.9 250.4L142.6 251.0L142.4 251.7L142.1 252.4L141.9 253.0L141.7 253.7L141.5 254.3L141.3 255.0L141.1 255.6L140.9 256.3L140.8 256.9L140.7 257.6L140.8 258.5L140.9 259.3L141.1 260.2L141.3 261.0L141.5 261.9L141.7 262.7L141.9 263.6L142.1 264.4L142.4 265.3L142.6 266.2L142.9 267.0L143.1 267.9L143.3 268.7L143.6 269.6L143.8 270.4L144.0 271.3L144.2 272.1L144.2 273.0L144.6 273.0L144.6 272.1L144.8 271.3L145.0 270.4L145.2 269.6L145.5 268.7L145.7 267.9L145.9 267.0L146.2 266.2L146.4 265.3L146.7 264.4L146.9 263.6L147.1 262.7L147.3 261.9L147.5 261.0L147.7 260.2L147.9 259.3L148.0 258.5L148.1 257.6L148.0 256.9L147.9 256.3L147.7 255.6L147.5 255.0L147.3 254.3L147.1 253.7L146.9 253.0L146.7 252.4L146.4 251.7L146.2 251.0L145.9 250.4L145.7 249.7L145.5 249.1L145.2 248.4L145.0 247.8L144.8 247.1L144.6 246.5L144.6 245.8Z" fill="#d44c6c" stroke="#444" stroke-width="0.3"/>
<path transform="scale(0.5)" d="M88 517h0M87 507h0M84 514h0M85 534h0M87 516h0M85 527h0M83 521h0M84 513h0M83 504h0M85 501h0M84 514h0M81 517h0M85 515h0M83 523h0M80 512h0M80 511h0M86 503h0M85 495h0M84 519h0M86 520h0M84 526h0M83 510h0M85 507h0M87 509h0M84 499h0M81 507h0M82 534h0M83 513h0M82 531h0M83 526h0M83 515h0M82 522h0M86 515h0M82 533h0M86 530h0M86 511h0M89 512h0M84 518h0M84 514h0M83 514h0M83 535h0M85 482h0M86 515h0M84 514h0M87 519h0M84 512h0M85 534h0M89 507h0M84 523h0M85 505h0M83 508h0M84 504h0M84 526h0M86 502h0M87 517h0M85 527h0M85 515h0M86 505h0M85 529h0M84 514h0M100 503h0M100 506h0M98 505h0M102 512h0M98 500h0M105 509h0M101 503h0M103 504h0M104 502h0M104 507h0M101 509h0M101 497h0M104 507h0M100 511h0M104 512h0M101 508h0M104 506h0M100 513h0M101 512h0M104 503h0M100 516h0M103 510h0M102 504h0M98 514h0M104 512h0M99 513h0M100 512h0M103 514h0M100 511h0M104 504h0M103 502h0M101 513h0M102 529h0M100 527h0M102 491h0M101 514h0M97 509h0M100 504h0M104 507h0M103 509h0M101 503h0M101 510h0M100 519h0M101 524h0M100 518h0M102 522h0M104 512h0M100 504h0M103 492h0M100 503h0M107 509h0M102 495h0M103 506h0M101 494h0M105 516h0M101 522h0M102 509h0M100 498h0M102 515h0M105 508h0M120 491h0M119 498h0M120 501h0M120 500h0M119 511h0M120 505h0M121 496h0M121 492h0M118 492h0M121 500h0M121 504h0M117 497h0M120 502h0M121 491h0M117 499h0M116 501h0M120 492h0M119 487h0M120 489h0M120 493h0M119 488h0M120 504h0M120 485h0M118 504h0M118 508h0M122 497h0M121 507h0M116 491h0M116 501h0M116 497h0M121 505h0M119 502h0M118 498h0M120 501h0M118 501h0M120 511h0M121 508h0M116 492h0M119 507h0M119 499h0M116 499h0M118 497h0M113 498h0M120 504h0M119 486h0M121 498h0M123 498h0M117 498h0M121 493h0M121 494h0M120 505h0M119 505h0M118 498h0M116 494h0M117 494h0M119 488h0M118 501h0M121 507h0M118 505h0M120 488h0M138 530h0M139 531h0M138 526h0M130 522h0M140 525h0M138 517h0M135 524h0M136 528h0M136 522h0M138 531h0M140 523h0M140 540h0M136 519h0M136 516h0M133 532h0M136 518h0M134 532h0M129 526h0M136 523h0M140 529h0M130 521h0M134 531h0M138 530h0M140 532h0M132 537h0M141 528h0M138 525h0M135 528h0M138 538h0M138 526h0M134 520h0M136 534h0M137 521h0M139 530h0M135 534h0M135 525h0M140 527h0M139 538h0M135 530h0M135 534h0M131 530h0M140 525h0M132 521h0M140 527h0M135 537h0M135 525h0M136 522h0M132 526h0M135 524h0M133 522h0M141 534h0M135 526h0M135 531h0M140 523h0M134 521h0M133 524h0M137 526h0M137 537h0M132 528h0M133 528h0M156 522h0M152 525h0M153 517h0M151 524h0M155 519h0M152 509h0M156 513h0M154 528h0M154 526h0M149 525h0M154 525h0M154 511h0M150 528h0M152 519h0M154 519h0M153 513h0M155 525h0M152 523h0M149 529h0M152 531h0M152 513h0M151 508h0M151 520h0M151 529h0M151 512h0M153 537h0M151 518h0M153 514h0M156 527h0M153 532h0M151 518h0M152 504h0M152 526h0M150 526h0M154 530h0M154 523h0M153 505h0M157 516h0M152 521h0M151 530h0M152 535h0M151 523h0M149 530h0M151 529h0M150 523h0M153 525h0M154 528h0M155 528h0M150 520h0M154 513h0M156 520h0M150 523h0M157 530h0M151 522h0M155 516h0M152 518h0M153 529h0M152 524h0M153 518h0M154 524h0M171 518h0M170 526h0M173 527h0M170 524h0M171 514h0M169 521h0M172 515h0M170 542h0M171 523h0M170 517h0M169 517h0M171 524h0M168 521h0M167 524h0M169 528h0M172 522h0M167 526h0M171 520h0M165 513h0M170 521h0M170 525h0M171 523h0M171 533h0M169 526h0M170 531h0M165 528h0M170 524h0M174 518h0M170 525h0M175 518h0M172 528h0M173 516h0M170 526h0M166 521h0M168 527h0M169 529h0M171 517h0M167 524h0M172 521h0M167 520h0M168 520h0M170 517h0M170 522h0M171 509h0M169 520h0M175 523h0M167 512h0M168 528h0M168 532h0M172 518h0M171 529h0M170 526h0M170 518h0M171 532h0M171 522h0M173 529h0M170 521h0M177 525h0M173 524h0M172 510h0M185 495h0M187 500h0M188 506h0M186 506h0M187 523h0M192 509h0M188 511h0M192 507h0M185 497h0M182 506h0M189 499h0M187 501h0M184 510h0M185 507h0M186 497h0M186 504h0M189 500h0M188 513h0M184 504h0M185 499h0M189 506h0M187 511h0M187 502h0M189 505h0M186 515h0M185 519h0M185 492h0M187 497h0M186 519h0M186 512h0M184 506h0M187 521h0M192 500h0M188 506h0M185 504h0M187 494h0M188 516h0M190 503h0M190 498h0M185 504h0M188 509h0M188 502h0M190 512h0M181 499h0M187 519h0M188 502h0M190 502h0M187 496h0M190 496h0M190 503h0M185 514h0M189 503h0M187 505h0M189 511h0M187 500h0M187 509h0M184 506h0M187 517h0M187 507h0M187 505h0M204 515h0M204 533h0M205 528h0M208 522h0M204 516h0M204 531h0M201 513h0M202 536h0M205 522h0M199 523h0M203 505h0M203 515h0M204 523h0M201 510h0M202 530h0M200 512h0M201 527h0M205 513h0M205 525h0M199 511h0M203 513h0M206 516h0M201 525h0M203 527h0M206 518h0M205 507h0M200 532h0M203 520h0M203 512h0M204 515h0M199 517h0M205 533h0M205 515h0M203 540h0M202 518h0M203 527h0M206 510h0M205 519h0M203 542h0M206 518h0M205 521h0M211 522h0M204 528h0M205 523h0M203 508h0M201 529h0M203 522h0M210 517h0M204 528h0M204 515h0M203 519h0M210 524h0M206 534h0M207 534h0M201 516h0M204 524h0M202 522h0M207 528h0M203 524h0M203 533h0M222 516h0M222 499h0M222 518h0M222 522h0M223 507h0M221 524h0M221 547h0M221 526h0M223 506h0M221 505h0M221 518h0M223 511h0M218 521h0M221 508h0M222 509h0M219 522h0M220 502h0M220 522h0M220 536h0M222 523h0M222 520h0M221 528h0M220 522h0M221 537h0M216 527h0M218 515h0M220 520h0M220 510h0M223 526h0M223 515h0M222 514h0M223 512h0M221 540h0M219 530h0M227 514h0M222 519h0M221 505h0M223 512h0M226 515h0M221 510h0M220 501h0M221 530h0M222 508h0M222 528h0M218 528h0M221 535h0M222 501h0M222 515h0M220 502h0M222 503h0M219 517h0M223 516h0M222 512h0M218 509h0M220 515h0M223 521h0M220 516h0M222 526h0M221 519h0M220 500h0M238 502h0M235 527h0M237 527h0M237 516h0M237 525h0M238 498h0M240 517h0M235 524h0M238 520h0M238 517h0M237 521h0M241 517h0M238 508h0M236 508h0M238 514h0M238 533h0M239 527h0M230 519h0M238 519h0M238 508h0M237 533h0M240 513h0M237 500h0M240 521h0M239 530h0M238 541h0M238 505h0M239 524h0M238 499h0M238 510h0M238 532h0M238 511h0M243 512h0M240 526h0M237 511h0M233 521h0M236 528h0M239 519h0M239 510h0M242 525h0M242 522h0M238 523h0M237 526h0M240 519h0M238 529h0M240 504h0M237 520h0M239 510h0M240 521h0M242 517h0M239 515h0M241 520h0M237 511h0M236 516h0M235 512h0M241 525h0M240 508h0M236 507h0M238 515h0M233 522h0M255 514h0M260 522h0M253 522h0M251 533h0M258 509h0M255 519h0M252 523h0M251 523h0M256 532h0M253 529h0M254 509h0M255 515h0M253 511h0M256 525h0M252 525h0M259 519h0M253 531h0M255 539h0M253 524h0M255 536h0M252 523h0M255 514h0M258 524h0M254 517h0M256 532h0M258 519h0M256 528h0M257 527h0M254 521h0M255 532h0M257 527h0M256 526h0M254 507h0M253 530h0M255 522h0M257 523h0M254 528h0M254 532h0M255 518h0M254 529h0M254 516h0M256 526h0M254 538h0M249 522h0M256 534h0M253 524h0M255 503h0M258 518h0M257 530h0M258 523h0M257 513h0M252 524h0M252 521h0M253 526h0M254 514h0M255 522h0M257 529h0M258 527h0M255 505h0M252 531h0M273 495h0M271 486h0M271 501h0M275 508h0M269 496h0M270 497h0M271 487h0M271 493h0M274 503h0M271 500h0M272 500h0M270 498h0M272 475h0M271 493h0M272 497h0M276 495h0M273 498h0M272 491h0M272 500h0M270 499h0M270 499h0M270 494h0M275 498h0M270 499h0M275 498h0M273 502h0M271 489h0M271 492h0M272 498h0M273 494h0M271 492h0M268 498h0M269 491h0M272 489h0M273 496h0M269 499h0M273 510h0M271 488h0M272 493h0M272 501h0M273 479h0M274 503h0M272 492h0M271 503h0M272 505h0M272 508h0M270 507h0M273 507h0M275 494h0M274 495h0M274 503h0M273 512h0M272 514h0M273 498h0M269 497h0M269 498h0M271 495h0M269 493h0M272 498h0M273 506h0M288 524h0M286 512h0M290 507h0M288 513h0M292 510h0M292 515h0M291 515h0M286 506h0M288 525h0M291 518h0M289 521h0M288 504h0M290 516h0M290 520h0M289 508h0M287 524h0M291 510h0M289 529h0M286 515h0M287 514h0M291 516h0M292 519h0M286 506h0M290 527h0M289 506h0M289 506h0M291 518h0M286 506h0M288 520h0M287 528h0M283 509h0M291 525h0M288 519h0M288 497h0M293 510h0M288 523h0M290 519h0M287 520h0M291 511h0M288 521h0M289 537h0M291 512h0M289 522h0M290 531h0M291 515h0M288 521h0M288 522h0M290 513h0M288 504h0M290 507h0M293 510h0M288 529h0M288 517h0M291 515h0M292 529h0M287 532h0M288 511h0M289 512h0M288 521h0M294 510h0" stroke="#000" stroke-width="1.0" stroke-linecap="round" opacity="0.5"/>
<text transform="translate(44.50,278.50) rotate(-90)" font-size="6.0" text-anchor="end" font-style="italic" fill="#111">Akap1</text>
<text transform="translate(53.00,278.50) rotate(-90)" font-size="6.0" text-anchor="end" font-style="italic" fill="#111">Atg5</text>
<text transform="translate(61.70,278.50) rotate(-90)" font-size="6.0" text-anchor="end" font-style="italic" fill="#111">Dnm1l</text>
<text transform="translate(70.00,278.50) rotate(-90)" font-size="6.0" text-anchor="end" font-style="italic" fill="#111">Mtfp1</text>
<text transform="translate(78.60,278.50) rotate(-90)" font-size="6.0" text-anchor="end" font-style="italic" fill="#111">Nnt</text>
<text transform="translate(87.20,278.50) rotate(-90)" font-size="6.0" text-anchor="end" font-style="italic" fill="#111">Oma1</text>
<text transform="translate(95.60,278.50) rotate(-90)" font-size="6.0" text-anchor="end" font-style="italic" fill="#111">Opa1</text>
<text transform="translate(103.90,278.50) rotate(-90)" font-size="6.0" text-anchor="end" font-style="italic" fill="#111">Pink1</text>
<text transform="translate(112.50,278.50) rotate(-90)" font-size="6.0" text-anchor="end" font-style="italic" fill="#111">Polg</text>
<text transform="translate(121.10,278.50) rotate(-90)" font-size="6.0" text-anchor="end" font-style="italic" fill="#111">Ppargc1a</text>
<text transform="translate(129.40,278.50) rotate(-90)" font-size="6.0" text-anchor="end" font-style="italic" fill="#111">Prkn</text>
<text transform="translate(138.10,278.50) rotate(-90)" font-size="6.0" text-anchor="end" font-style="italic" fill="#111">Snx9</text>
<text transform="translate(146.50,278.50) rotate(-90)" font-size="6.0" text-anchor="end" font-style="italic" fill="#111">Tfam</text>
<defs>
<g id="K0">
<path id="p0_0" vector-effect="non-scaling-stroke" d="M-105 139h0M-85 119h0M-49 100h0M-88 85h0M-107 132h0M-102 112h0M-121 94h0M-86 89h0M-105 141h0M-101 108h0M-85 131h0M-147 97h0M-117 125h0M-111 96h0"/>
<path id="p0_1" vector-effect="non-scaling-stroke" d="M-136 119h0M-126 118h0M-157 91h0M-117 125h0M-63 126h0M-120 106h0M-128 113h0"/>
<path id="p0_2" vector-effect="non-scaling-stroke" d="M-55 95h0M-134 111h0M-139 113h0M-72 108h0M-75 131h0M-80 89h0M-77 112h0M-116 71h0M-76 108h0M-88 123h0M-99 118h0"/>
<path id="p0_3" vector-effect="non-scaling-stroke" d="M-62 109h0M-123 101h0M-132 103h0M-115 139h0M-127 94h0M-111 100h0M-85 113h0M-103 128h0"/>
<path id="p0_4" vector-effect="non-scaling-stroke" d="M-147 113h0M-105 87h0M-94 118h0M-103 138h0M-52 70h0M-103 100h0M-79 72h0M-121 104h0M-92 106h0M-104 99h0"/>
<path id="p0_5" vector-effect="non-scaling-stroke" d="M-125 101h0M-74 90h0M-147 109h0M-73 140h0M-111 108h0M-114 76h0M-133 121h0M-89 105h0M-106 141h0"/>
<path id="p0_6" vector-effect="non-scaling-stroke" d="M-80 128h0M-139 124h0M-128 57h0M-95 86h0M-105 115h0M-60 129h0"/>
<path id="p0_7" vector-effect="non-scaling-stroke" d="M-128 119h0M-127 133h0M-157 84h0M-136 116h0M-111 118h0M-99 129h0M-90 125h0M-126 92h0M-118 110h0"/>
<path id="p0_8" vector-effect="non-scaling-stroke" d="M-77 126h0M-88 120h0M-107 141h0M-117 89h0M-121 131h0"/>
<path id="p0_9" vector-effect="non-scaling-stroke" d="M-103 87h0M-134 86h0M-111 88h0M-113 98h0M-64 91h0M-76 82h0M-61 38h0M-105 129h0"/>
<path id="p0_10" vector-effect="non-scaling-stroke" d="M-102 101h0M-75 91h0M-120 113h0M-123 103h0M-128 103h0M-100 134h0"/>
<path id="p0_11" vector-effect="non-scaling-stroke" d="M-54 115h0M-121 128h0M-105 138h0M-99 82h0M-104 121h0M-122 110h0M-118 96h0M-112 101h0M-132 125h0"/>
<path id="p0_12" vector-effect="non-scaling-stroke" d="M-112 138h0M-129 122h0M-137 100h0M-112 96h0M-73 117h0M-106 76h0M-110 93h0M-70 134h0M-74 99h0M-123 107h0"/>
<path id="p0_13" vector-effect="non-scaling-stroke" d="M-119 104h0M-150 106h0M-120 104h0M-103 125h0M-113 126h0M-96 119h0M-128 130h0M-115 131h0M-74 96h0M-77 90h0M-121 98h0M-75 134h0"/>
<path id="p0_14" vector-effect="non-scaling-stroke" d="M-80 98h0M-98 127h0M-123 123h0M-126 123h0M-100 116h0M-84 132h0M-123 114h0"/>
<path id="p0_15" vector-effect="non-scaling-stroke" d="M-99 124h0M-107 73h0M-120 114h0M-106 111h0M-64 83h0M-111 116h0M-144 97h0M-123 134h0M-122 85h0M-92 100h0"/>
<path id="p0_16" vector-effect="non-scaling-stroke" d="M-107 91h0M-66 127h0M-97 140h0M-109 56h0M-85 77h0M-97 99h0M-155 102h0"/>
<path id="p0_17" vector-effect="non-scaling-stroke" d="M-88 113h0M-102 125h0M-63 134h0M-106 113h0M-117 111h0M-117 136h0"/>
<path id="p0_18" vector-effect="non-scaling-stroke" d="M-96 108h0M-107 79h0M-70 131h0M-132 114h0M-115 111h0M-137 120h0M-65 103h0M-86 120h0M-92 102h0"/>
<path id="p0_19" vector-effect="non-scaling-stroke" d="M-72 80h0M-139 94h0M-60 122h0M-108 143h0M-109 91h0M-82 94h0M-114 101h0"/>
</g>
<g id="K1">
<path id="p1_0" vector-effect="non-scaling-stroke" d="M-9 120h0M-30 93h0M-7 115h0M-13 118h0M-84 137h0M-65 128h0M-7 102h0M-44 119h0M-20 120h0"/>
<path id="p1_1" vector-effect="non-scaling-stroke" d="M-65 88h0M-20 123h0M-11 84h0M-6 110h0M-1 111h0M-16 105h0M-65 120h0M-63 98h0M-39 90h0M-17 119h0M-34 108h0M-61 116h0M-62 133h0M-23 110h0"/>
<path id="p1_2" vector-effect="non-scaling-stroke" d="M-20 113h0M-41 128h0M-48 80h0M-67 131h0M-42 125h0M-1 119h0M-9 99h0M-15 91h0"/>
<path id="p1_3" vector-effect="non-scaling-stroke" d="M-65 124h0M-73 130h0M-53 63h0M-41 63h0M-66 137h0M-55 102h0M-44 128h0M-26 84h0"/>
<path id="p1_4" vector-effect="non-scaling-stroke" d="M-4 113h0M-40 101h0M-49 89h0M-34 106h0M-35 130h0M-34 94h0"/>
<path id="p1_5" vector-effect="non-scaling-stroke" d="M-7 95h0M-80 103h0M-58 126h0M-77 106h0M-92 122h0M10 117h0M-70 115h0M-29 129h0M-35 105h0M-86 100h0M-41 92h0M-67 94h0M-10 123h0"/>
<path id="p1_6" vector-effect="non-scaling-stroke" d="M-66 91h0M0 89h0M-13 118h0M-31 87h0M-1 97h0M-41 103h0M-27 128h0M-33 123h0M-5 113h0"/>
<path id="p1_7" vector-effect="non-scaling-stroke" d="M-31 125h0M-71 121h0M-31 79h0M-20 122h0M-50 77h0M-44 89h0M-33 103h0M-80 118h0M-65 126h0M-17 85h0M-69 110h0"/>
<path id="p1_8" vector-effect="non-scaling-stroke" d="M-11 75h0M-38 82h0M-32 106h0M-22 86h0M-6 97h0M-11 102h0M1 102h0M-1 101h0M-51 76h0M-44 98h0"/>
<path id="p1_9" vector-effect="non-scaling-stroke" d="M-59 100h0M-47 116h0M-61 120h0M-75 105h0M-16 113h0M-46 95h0M-77 126h0M-46 82h0M-31 119h0M-20 114h0M-52 101h0M-25 120h0M-85 134h0M-78 128h0M-65 134h0M-86 141h0M-33 111h0"/>
<path id="p1_10" vector-effect="non-scaling-stroke" d="M-59 119h0M-65 129h0M-76 117h0M-51 134h0M-56 136h0M-42 93h0M-56 131h0M-58 117h0"/>
<path id="p1_11" vector-effect="non-scaling-stroke" d="M-78 98h0M-13 102h0M-29 96h0M-33 106h0M-26 99h0M-43 116h0M-65 108h0M-83 84h0M-28 121h0"/>
<path id="p1_12" vector-effect="non-scaling-stroke" d="M-65 128h0M2 121h0M-24 124h0M-74 114h0M-82 137h0M-19 89h0M-32 112h0"/>
<path id="p1_13" vector-effect="non-scaling-stroke" d="M-13 114h0M-62 100h0M-34 95h0M-65 127h0M-3 104h0M-63 134h0M-21 91h0M-11 114h0M7 107h0M-114 137h0M-53 121h0"/>
<path id="p1_14" vector-effect="non-scaling-stroke" d="M-90 114h0M-52 97h0M-28 78h0M-74 119h0M-55 78h0M-22 117h0M-70 114h0M-68 108h0"/>
<path id="p1_15" vector-effect="non-scaling-stroke" d="M-68 104h0M-61 113h0M-52 89h0M-49 85h0M-53 121h0"/>
<path id="p1_16" vector-effect="non-scaling-stroke" d="M-15 106h0M-16 104h0M-3 107h0M-70 131h0M-38 120h0M-37 119h0M-31 122h0M-29 123h0M-62 106h0M-67 96h0M-45 112h0M-61 118h0M-59 135h0M-34 112h0M-86 119h0M-33 93h0M-67 99h0"/>
<path id="p1_17" vector-effect="non-scaling-stroke" d="M-53 83h0M-25 101h0M-18 103h0M-49 93h0M-13 117h0M-38 129h0M-58 93h0M-44 132h0M-3 78h0M-46 108h0M-25 89h0M-33 110h0"/>
<path id="p1_18" vector-effect="non-scaling-stroke" d="M-31 117h0M-18 99h0M-75 131h0M-9 122h0M-22 98h0"/>
<path id="p1_19" vector-effect="non-scaling-stroke" d="M-32 131h0M-72 121h0M-2 104h0M-54 102h0M-42 132h0M-42 123h0M1 110h0M-56 116h0M-20 125h0"/>
</g>
<g id="K2">
<path id="p2_0" vector-effect="non-scaling-stroke" d="M-134 84h0M-170 53h0M-173 30h0"/>
<path id="p2_1" vector-effect="non-scaling-stroke" d="M-140 32h0M-167 65h0M-141 54h0M-159 78h0M-122 61h0M-137 29h0M-172 57h0"/>
<path id="p2_2" vector-effect="non-scaling-stroke" d="M-135 87h0M-174 37h0M-144 86h0M-151 84h0M-138 92h0M-148 72h0M-155 45h0M-130 93h0"/>
<path id="p2_3" vector-effect="non-scaling-stroke" d="M-130 97h0M-131 28h0M-158 98h0M-153 48h0M-169 33h0M-169 51h0M-166 27h0M-130 76h0M-146 45h0M-147 49h0M-170 35h0"/>
<path id="p2_4" vector-effect="non-scaling-stroke" d="M-171 55h0M-163 84h0M-170 51h0M-152 103h0M-152 32h0M-139 76h0M-146 83h0M-144 75h0M-157 44h0M-156 38h0"/>
<path id="p2_5" vector-effect="non-scaling-stroke" d="M-141 105h0M-174 62h0M-159 84h0M-171 75h0M-142 99h0M-138 54h0M-136 46h0M-137 67h0"/>
<path id="p2_6" vector-effect="non-scaling-stroke" d="M-147 23h0M-146 77h0M-133 29h0M-154 20h0"/>
<path id="p2_7" vector-effect="non-scaling-stroke" d="M-97 39h0M-158 25h0M-176 43h0M-157 57h0M-147 63h0M-155 11h0M-158 65h0M-136 62h0M-130 33h0M-129 60h0M-126 41h0"/>
<path id="p2_8" vector-effect="non-scaling-stroke" d="M-154 78h0M-150 48h0M-135 89h0M-164 84h0M-138 67h0M-164 72h0M-172 40h0M-163 78h0M-145 36h0M-141 56h0M-172 42h0M-143 15h0"/>
<path id="p2_9" vector-effect="non-scaling-stroke" d="M-153 29h0M-109 14h0M-136 67h0M-167 51h0M-155 96h0M-156 61h0M-143 81h0M-135 74h0"/>
<path id="p2_10" vector-effect="non-scaling-stroke" d="M-144 99h0M-134 31h0M-135 54h0M-154 29h0M-130 37h0M-136 55h0M-124 20h0M-162 85h0"/>
<path id="p2_11" vector-effect="non-scaling-stroke" d="M-162 62h0M-141 105h0M-150 69h0M-108 79h0M-148 35h0M-126 43h0M-142 103h0M-169 75h0M-161 58h0M-143 45h0M-163 67h0M-153 33h0M-156 39h0M-138 46h0M-171 64h0M-163 57h0"/>
<path id="p2_12" vector-effect="non-scaling-stroke" d="M-147 14h0M-169 78h0M-124 61h0M-151 31h0M-162 86h0M-147 77h0M-144 20h0M-167 40h0M-176 31h0"/>
<path id="p2_13" vector-effect="non-scaling-stroke" d="M-132 21h0M-162 23h0M-158 49h0M-171 28h0M-143 80h0M-156 62h0M-143 42h0M-139 22h0"/>
<path id="p2_14" vector-effect="non-scaling-stroke" d="M-144 104h0M-168 78h0M-156 33h0M-160 67h0M-151 39h0M-142 20h0M-153 18h0M-110 79h0M-173 64h0M-163 74h0"/>
<path id="p2_15" vector-effect="non-scaling-stroke" d="M-129 52h0M-140 58h0M-135 47h0M-173 63h0M-146 21h0M-125 39h0M-165 43h0M-126 45h0M-140 22h0M-152 99h0"/>
<path id="p2_16" vector-effect="non-scaling-stroke" d="M-133 62h0M-146 30h0M-172 44h0M-144 89h0M-142 36h0M-153 87h0M-156 35h0M-133 72h0"/>
<path id="p2_17" vector-effect="non-scaling-stroke" d="M-155 92h0M-170 41h0M-169 79h0M-172 55h0M-128 44h0M-145 108h0M-151 7h0M-149 43h0M-168 43h0"/>
<path id="p2_18" vector-effect="non-scaling-stroke" d="M-160 66h0M-140 78h0M-154 37h0M-129 86h0M-155 85h0M-177 37h0M-132 13h0M-153 31h0"/>
<path id="p2_19" vector-effect="non-scaling-stroke" d="M-165 79h0M-158 93h0M-141 83h0M-142 58h0M-129 62h0M-134 100h0M-153 59h0"/>
</g>
<g id="K3">
<path id="p3_0" vector-effect="non-scaling-stroke" d="M-156 -20h0M-154 13h0M-192 12h0M-182 12h0M-196 10h0"/>
<path id="p3_1" vector-effect="non-scaling-stroke" d="M-191 17h0M-198 -8h0M-201 -5h0M-205 -5h0M-186 12h0"/>
<path id="p3_2" vector-effect="non-scaling-stroke" d="M-157 44h0M-135 -5h0M-185 14h0M-179 9h0M-188 17h0"/>
<path id="p3_3" vector-effect="non-scaling-stroke" d="M-146 -15h0M-158 7h0M-179 4h0M-175 3h0"/>
<path id="p3_4" vector-effect="non-scaling-stroke" d="M-145 27h0M-202 9h0M-187 -3h0M-189 11h0M-200 6h0"/>
<path id="p3_5" vector-effect="non-scaling-stroke" d="M-194 -3h0M-186 -7h0M-191 0h0"/>
<path id="p3_6" vector-effect="non-scaling-stroke" d="M-138 -9h0M-176 38h0M-174 39h0M-152 6h0M-210 8h0M-179 -2h0M-186 18h0"/>
<path id="p3_7" vector-effect="non-scaling-stroke" d="M-170 24h0M-159 30h0M-184 -3h0M-180 -1h0M-206 10h0M-194 5h0"/>
<path id="p3_8" vector-effect="non-scaling-stroke" d="M-148 -13h0M-156 -4h0M-205 9h0"/>
<path id="p3_9" vector-effect="non-scaling-stroke" d="M-184 5h0M-175 5h0M-186 -5h0"/>
<path id="p3_11" vector-effect="non-scaling-stroke" d="M-146 31h0M-156 -2h0M-191 -6h0M-193 -7h0M-183 1h0"/>
<path id="p3_12" vector-effect="non-scaling-stroke" d="M-147 -3h0M-144 -5h0M-196 -4h0M-192 -7h0M-204 1h0M-198 13h0M-189 19h0M-184 8h0"/>
<path id="p3_13" vector-effect="non-scaling-stroke" d="M-201 -4h0M-183 -2h0M-180 14h0M-173 -1h0"/>
<path id="p3_14" vector-effect="non-scaling-stroke" d="M-155 -3h0M-149 18h0M-145 -5h0M-210 5h0M-175 1h0M-181 6h0M-195 0h0"/>
<path id="p3_15" vector-effect="non-scaling-stroke" d="M-154 -5h0M-155 8h0M-200 -4h0M-179 12h0M-191 17h0"/>
<path id="p3_16" vector-effect="non-scaling-stroke" d="M-172 32h0M-202 6h0M-204 6h0M-179 0h0"/>
<path id="p3_17" vector-effect="non-scaling-stroke" d="M-173 28h0M-145 9h0M-135 21h0M-202 -4h0M-203 -4h0M-201 4h0"/>
<path id="p3_18" vector-effect="non-scaling-stroke" d="M-158 23h0M-147 -6h0M-188 6h0"/>
<path id="p3_19" vector-effect="non-scaling-stroke" d="M-151 -18h0M-177 5h0M-210 6h0"/>
</g>
<g id="K4">
<path id="p4_0" vector-effect="non-scaling-stroke" d="M-54 23h0M-84 8h0M-142 3h0M-91 -30h0M-107 -13h0M-77 -39h0M-90 8h0M-73 -18h0M-114 31h0M-86 8h0M-89 16h0M-69 26h0"/>
<path id="p4_1" vector-effect="non-scaling-stroke" d="M-80 2h0M-66 -24h0M-78 -29h0M-103 3h0M-95 -8h0M-75 5h0M-126 -13h0M-42 -13h0M-104 -8h0M-77 -6h0M-148 -12h0M-133 11h0M-97 -31h0M-112 -11h0M-57 -22h0M-129 -2h0M-124 11h0M-130 2h0M-68 -53h0M-139 1h0"/>
<path id="p4_2" vector-effect="non-scaling-stroke" d="M-74 12h0M-96 3h0M-77 14h0M-83 -39h0M-116 -19h0M-50 -24h0M-104 -21h0M-54 -23h0M-97 2h0M-96 14h0M-82 -28h0M-60 11h0M-89 -8h0"/>
<path id="p4_3" vector-effect="non-scaling-stroke" d="M-106 -16h0M-131 10h0M-61 -3h0M-52 8h0M-79 -24h0M-116 12h0M-68 -21h0M-99 -19h0"/>
<path id="p4_4" vector-effect="non-scaling-stroke" d="M-84 -21h0M-41 -7h0M-108 -35h0M-110 14h0M-80 -22h0M-20 13h0M-78 21h0M-52 -16h0M-62 -16h0M-133 -21h0M-101 -43h0M-85 8h0M-116 20h0M-79 9h0M-65 -30h0"/>
<path id="p4_5" vector-effect="non-scaling-stroke" d="M-127 26h0M-117 -26h0M-57 16h0M-68 17h0M-102 7h0M-122 -21h0M-112 6h0M-107 18h0M-100 -19h0M-31 1h0M-137 -26h0M-142 21h0M-133 -39h0M-97 -3h0M-91 -14h0M-74 -47h0"/>
<path id="p4_6" vector-effect="non-scaling-stroke" d="M-98 -22h0M-75 -25h0M-102 -14h0M-49 -7h0M-105 19h0M-87 9h0M-85 -45h0M-97 18h0M-60 -35h0M-120 -17h0M-34 10h0M-85 -10h0"/>
<path id="p4_7" vector-effect="non-scaling-stroke" d="M-87 -28h0M-89 -9h0M-112 19h0M-129 -53h0M-37 -20h0M-107 11h0M-82 -21h0M-73 -24h0M-125 -9h0M-82 -13h0"/>
<path id="p4_8" vector-effect="non-scaling-stroke" d="M-88 -37h0M-63 22h0M-64 -11h0M-59 6h0M-96 1h0M-106 1h0M-115 12h0M-72 15h0M-64 -2h0M-66 -45h0M-72 12h0M-95 -32h0M-129 -1h0M-124 17h0M-68 5h0M-95 -39h0M-75 43h0"/>
<path id="p4_9" vector-effect="non-scaling-stroke" d="M-53 -43h0M-71 -2h0M-99 5h0M-135 -38h0M-75 6h0M-68 14h0M-74 16h0M-86 -1h0M-128 13h0M-112 -8h0M-88 -12h0M-137 -6h0M-64 24h0M-137 -34h0M-114 8h0M-56 -12h0M-125 -8h0M-93 -2h0M-132 -32h0"/>
<path id="p4_10" vector-effect="non-scaling-stroke" d="M-52 -12h0M-42 -6h0M-131 4h0M-99 -4h0M-62 -6h0M-106 -21h0M-89 8h0M-66 -6h0M-74 -10h0"/>
<path id="p4_11" vector-effect="non-scaling-stroke" d="M-99 14h0M-96 -7h0M-57 26h0M-72 -7h0M-84 -68h0M-91 9h0M-124 7h0M-82 4h0M-82 -40h0M-129 14h0M-115 17h0M-102 11h0M-55 -16h0M-112 24h0M-54 15h0M-49 23h0"/>
<path id="p4_12" vector-effect="non-scaling-stroke" d="M-50 13h0M-100 0h0M-86 -44h0M-47 -25h0M-71 -36h0M-154 -19h0M-80 7h0M-109 20h0M-121 -4h0M-90 32h0M-68 -8h0M-59 38h0M-82 -10h0M-60 24h0M-87 -9h0M-80 -18h0M-98 -12h0"/>
<path id="p4_13" vector-effect="non-scaling-stroke" d="M-92 19h0M-82 -15h0M-120 -27h0M-89 -4h0M-54 -6h0M-87 12h0M-24 -23h0M-64 -6h0M-78 4h0M-84 -30h0M-82 -14h0M-142 8h0M-97 29h0"/>
<path id="p4_14" vector-effect="non-scaling-stroke" d="M-73 -39h0M-99 -75h0M-96 -9h0M-73 -58h0M-107 -17h0M-93 -26h0M-88 -26h0M-94 22h0M-107 -29h0M-69 -47h0M-84 -27h0M-80 -38h0M-59 -11h0M-59 -16h0"/>
<path id="p4_15" vector-effect="non-scaling-stroke" d="M-120 1h0M-86 -22h0M-88 -17h0M-82 -47h0M-137 -22h0M-90 -54h0M-113 -6h0M-71 6h0M-81 3h0M-86 -13h0M-81 -56h0M-71 -32h0M-74 -10h0"/>
<path id="p4_16" vector-effect="non-scaling-stroke" d="M-133 24h0M-98 -33h0M-87 -32h0M-108 -1h0M-92 35h0M-74 -27h0M-93 17h0M-125 3h0M-85 4h0M-109 -17h0M-130 -3h0M-96 22h0M-114 -37h0M-48 -8h0M-115 -6h0"/>
<path id="p4_17" vector-effect="non-scaling-stroke" d="M-63 3h0M-135 -20h0M-82 -72h0M-77 -3h0M-84 -54h0M-90 -21h0M-102 16h0M-74 -36h0M-109 -7h0M-136 4h0M-77 8h0"/>
<path id="p4_18" vector-effect="non-scaling-stroke" d="M-99 -51h0M-93 13h0M-110 12h0M-69 5h0M-115 23h0M-92 -21h0M-56 -10h0M-45 -26h0M-39 -26h0M-145 12h0M-80 -9h0M-77 21h0M-94 -6h0M-122 4h0M-112 -11h0M-114 -40h0M-76 -24h0"/>
<path id="p4_19" vector-effect="non-scaling-stroke" d="M-108 -67h0M-101 17h0M-114 18h0M-89 37h0M-54 -11h0M-102 11h0M-89 -12h0M-80 8h0M-91 -15h0M-74 9h0M-102 12h0M-133 1h0M-60 9h0M-71 19h0M-68 -40h0M-81 14h0"/>
</g>
<g id="K5">
<path id="p5_0" vector-effect="non-scaling-stroke" d="M-30 64h0M8 41h0M-57 27h0M-49 81h0M-39 79h0M-44 23h0M-51 35h0M-6 34h0M24 48h0M43 68h0M-22 34h0M5 41h0M-28 16h0"/>
<path id="p5_1" vector-effect="non-scaling-stroke" d="M-33 11h0M51 40h0M-15 75h0M-38 46h0M-54 28h0M-40 25h0M-45 46h0M-8 80h0M41 6h0"/>
<path id="p5_2" vector-effect="non-scaling-stroke" d="M31 89h0M-15 42h0M8 75h0M-26 34h0M-19 19h0M-42 61h0M9 39h0M-11 59h0M-48 35h0M-37 22h0M-36 64h0M-31 13h0M10 65h0"/>
<path id="p5_3" vector-effect="non-scaling-stroke" d="M-39 42h0M-11 55h0M-37 56h0M-10 75h0M-4 27h0M-5 59h0M-22 48h0M-64 28h0M5 49h0M-19 51h0M6 54h0M-16 9h0M-24 79h0M-21 -10h0M22 55h0M-6 77h0M-26 46h0M-48 6h0M-2 36h0"/>
<path id="p5_4" vector-effect="non-scaling-stroke" d="M-31 35h0M-14 77h0M-35 36h0M-46 12h0M-43 51h0M-23 93h0M-15 86h0M-32 10h0M11 40h0M-33 14h0M-12 53h0M-48 2h0M-60 22h0M-2 40h0M-13 32h0M7 58h0M10 38h0"/>
<path id="p5_5" vector-effect="non-scaling-stroke" d="M7 64h0M10 17h0M-32 -10h0M-48 7h0M-48 15h0M33 65h0M-47 39h0M-40 66h0M21 47h0M-32 34h0M-33 75h0M-4 17h0M-7 83h0"/>
<path id="p5_6" vector-effect="non-scaling-stroke" d="M-24 35h0M-65 41h0M-51 41h0M-39 46h0M-36 14h0M-45 35h0M-44 21h0M-62 42h0M0 -10h0"/>
<path id="p5_7" vector-effect="non-scaling-stroke" d="M-27 51h0M7 15h0M-28 29h0M-29 3h0M-12 24h0M10 48h0M-36 22h0M-6 22h0M-27 26h0"/>
<path id="p5_8" vector-effect="non-scaling-stroke" d="M-1 5h0M-1 76h0M-30 28h0M-29 11h0M-22 39h0M0 48h0M-32 36h0M-41 50h0M10 98h0M-36 -4h0M-2 87h0M-39 25h0M16 43h0M-32 61h0M10 32h0M-60 26h0M-7 87h0M-24 17h0M10 12h0M-58 3h0M4 36h0M-45 43h0M-3 96h0"/>
<path id="p5_9" vector-effect="non-scaling-stroke" d="M-10 65h0M-48 46h0M-21 77h0M1 72h0M-40 3h0M-17 106h0M-42 10h0M-1 86h0M-58 38h0M-48 27h0M-28 85h0M-7 40h0M-37 21h0M27 37h0M-21 22h0"/>
<path id="p5_10" vector-effect="non-scaling-stroke" d="M4 77h0M-47 41h0M-39 39h0M11 93h0M-19 24h0M-45 45h0M-29 41h0M-59 55h0M-17 70h0M-30 49h0M-8 72h0M0 40h0M-31 -14h0"/>
<path id="p5_11" vector-effect="non-scaling-stroke" d="M-25 70h0M-23 33h0M17 35h0M-8 46h0M-42 31h0M-40 52h0M-34 55h0M-25 24h0M-51 26h0M-23 70h0M-7 85h0M-9 66h0M-37 72h0"/>
<path id="p5_12" vector-effect="non-scaling-stroke" d="M4 64h0M-30 39h0M21 23h0M-59 15h0M-31 60h0M-30 70h0M-25 71h0M-5 40h0M-39 28h0M-1 62h0M-46 37h0M-15 46h0M-34 30h0M-35 48h0M-26 49h0M-52 55h0M-51 61h0"/>
<path id="p5_13" vector-effect="non-scaling-stroke" d="M4 54h0M-6 15h0M-46 4h0M-13 27h0M-34 30h0M-14 15h0M-50 60h0M-1 51h0M-35 30h0M-4 71h0M-40 21h0M-37 0h0M11 34h0M-33 43h0"/>
<path id="p5_14" vector-effect="non-scaling-stroke" d="M-6 28h0M-27 94h0M-21 24h0M-23 74h0M-43 72h0M-2 60h0M0 17h0M-24 22h0M-44 59h0M-19 28h0M-51 54h0M-45 -3h0M-18 37h0M-2 58h0M-14 0h0M14 41h0M-3 77h0M-10 55h0M-51 21h0"/>
<path id="p5_15" vector-effect="non-scaling-stroke" d="M-1 23h0M-51 4h0M-21 0h0M-33 78h0M-16 93h0M6 47h0M-28 43h0M2 32h0M0 58h0M-4 46h0M-45 49h0"/>
<path id="p5_16" vector-effect="non-scaling-stroke" d="M-44 6h0M-64 39h0M-50 39h0M-27 45h0M4 59h0M7 71h0M-28 -27h0M35 86h0M48 27h0M20 47h0M-16 76h0M-33 74h0M16 66h0"/>
<path id="p5_17" vector-effect="non-scaling-stroke" d="M-55 26h0M21 71h0M-31 2h0M29 38h0M-25 63h0M-17 -17h0M-3 58h0M12 81h0M-27 27h0M5 54h0M-28 46h0M-16 72h0"/>
<path id="p5_18" vector-effect="non-scaling-stroke" d="M31 15h0M-53 46h0M-36 56h0M4 85h0M6 62h0M21 80h0M-8 61h0M-40 -21h0M8 73h0M4 53h0"/>
<path id="p5_19" vector-effect="non-scaling-stroke" d="M7 42h0M-29 20h0M2 74h0M1 67h0M-50 -7h0M-61 28h0M-53 16h0M-30 29h0M-36 34h0M-16 60h0M21 61h0M-38 15h0M-27 63h0M11 71h0M-60 10h0"/>
</g>
<g id="K6">
<path id="p6_0" vector-effect="non-scaling-stroke" d="M36 114h0M121 108h0M76 113h0M29 100h0M47 130h0M27 119h0M65 132h0M46 132h0M4 97h0M37 123h0M126 107h0M58 124h0M95 126h0M66 114h0"/>
<path id="p6_1" vector-effect="non-scaling-stroke" d="M63 109h0M108 122h0M44 132h0M89 131h0M95 93h0M83 106h0M42 126h0"/>
<path id="p6_2" vector-effect="non-scaling-stroke" d="M85 135h0M54 129h0M33 86h0M93 134h0M70 98h0M55 128h0M49 89h0M94 120h0M91 126h0M76 131h0M114 113h0"/>
<path id="p6_3" vector-effect="non-scaling-stroke" d="M46 112h0M53 126h0M64 122h0M35 115h0M49 112h0"/>
<path id="p6_4" vector-effect="non-scaling-stroke" d="M76 136h0M81 80h0M2 91h0M100 131h0M33 99h0M83 112h0M106 122h0M46 102h0M23 114h0M46 125h0M33 113h0M7 106h0"/>
<path id="p6_5" vector-effect="non-scaling-stroke" d="M117 117h0M98 107h0M22 102h0M87 126h0M15 108h0M39 121h0M76 101h0"/>
<path id="p6_6" vector-effect="non-scaling-stroke" d="M91 128h0M40 102h0M44 102h0M16 89h0M21 113h0M92 121h0M85 108h0"/>
<path id="p6_7" vector-effect="non-scaling-stroke" d="M70 131h0M11 93h0M100 121h0M12 104h0M17 124h0M23 110h0M42 122h0M43 98h0M10 107h0M84 131h0M29 97h0"/>
<path id="p6_8" vector-effect="non-scaling-stroke" d="M24 103h0M72 127h0M54 118h0M102 116h0M37 104h0M107 125h0M93 134h0M65 123h0M93 115h0M120 119h0M12 125h0M37 85h0M104 106h0"/>
<path id="p6_9" vector-effect="non-scaling-stroke" d="M45 90h0M36 95h0M21 124h0M36 115h0M39 122h0M47 120h0M77 115h0M61 119h0M63 110h0"/>
<path id="p6_10" vector-effect="non-scaling-stroke" d="M22 127h0M84 121h0M48 91h0M80 134h0M74 95h0M106 118h0M39 113h0"/>
<path id="p6_11" vector-effect="non-scaling-stroke" d="M80 101h0M79 113h0M55 128h0M56 106h0M116 110h0M35 126h0M40 90h0M23 81h0M9 93h0M54 126h0"/>
<path id="p6_12" vector-effect="non-scaling-stroke" d="M81 127h0M40 107h0M19 119h0M92 128h0M52 111h0M77 112h0"/>
<path id="p6_13" vector-effect="non-scaling-stroke" d="M18 127h0M58 117h0M16 108h0M27 125h0M56 127h0M34 124h0"/>
<path id="p6_14" vector-effect="non-scaling-stroke" d="M114 117h0M106 125h0M46 87h0M77 84h0M62 126h0M80 131h0M50 96h0M25 92h0M87 137h0"/>
<path id="p6_15" vector-effect="non-scaling-stroke" d="M92 121h0M27 118h0M25 103h0M91 111h0M25 98h0M48 119h0M32 77h0M17 112h0M72 112h0M33 115h0M28 117h0M90 117h0M36 130h0"/>
<path id="p6_16" vector-effect="non-scaling-stroke" d="M8 79h0M77 110h0M46 115h0M36 96h0M17 123h0M60 107h0M35 126h0M84 134h0M31 103h0M109 108h0M44 85h0M78 135h0M48 132h0M33 114h0M62 134h0"/>
<path id="p6_17" vector-effect="non-scaling-stroke" d="M59 128h0M7 117h0M12 119h0M16 109h0M4 118h0M51 125h0M72 114h0M58 117h0M68 104h0M39 103h0M23 126h0"/>
<path id="p6_18" vector-effect="non-scaling-stroke" d="M54 109h0M19 91h0M74 121h0M24 87h0M77 108h0M15 123h0M65 106h0M104 120h0"/>
<path id="p6_19" vector-effect="non-scaling-stroke" d="M110 125h0M36 118h0M57 120h0M107 124h0"/>
</g>
<g id="K7">
<path id="p7_0" vector-effect="non-scaling-stroke" d="M70 105h0M62 54h0M92 74h0M116 93h0M88 34h0M114 77h0M96 85h0M97 60h0M91 64h0M47 86h0M60 68h0M52 119h0"/>
<path id="p7_1" vector-effect="non-scaling-stroke" d="M78 61h0M96 77h0M92 80h0M84 77h0M39 82h0M96 96h0M16 72h0M123 124h0M114 84h0M63 105h0M103 66h0M94 123h0M65 87h0"/>
<path id="p7_2" vector-effect="non-scaling-stroke" d="M62 120h0M48 93h0M52 106h0M84 95h0M48 81h0M69 120h0"/>
<path id="p7_3" vector-effect="non-scaling-stroke" d="M80 33h0M40 58h0M100 98h0M72 48h0M77 90h0M82 121h0M68 69h0M44 81h0M78 86h0M97 80h0M108 71h0"/>
<path id="p7_4" vector-effect="non-scaling-stroke" d="M103 115h0M120 124h0M94 92h0M96 120h0M126 90h0M114 124h0M55 61h0M112 99h0M53 107h0M109 87h0M86 130h0M94 116h0M102 121h0"/>
<path id="p7_5" vector-effect="non-scaling-stroke" d="M95 100h0M81 101h0M72 94h0M94 125h0M87 61h0M114 73h0M72 105h0M100 77h0"/>
<path id="p7_6" vector-effect="non-scaling-stroke" d="M77 78h0M118 104h0M2 97h0M83 99h0M62 68h0M104 87h0M99 126h0"/>
<path id="p7_7" vector-effect="non-scaling-stroke" d="M110 72h0M74 65h0M82 85h0M86 79h0M114 116h0M121 117h0M88 104h0M126 95h0M49 68h0"/>
<path id="p7_8" vector-effect="non-scaling-stroke" d="M120 115h0M98 91h0M64 133h0M80 64h0M89 120h0M61 41h0M88 63h0M70 53h0M125 85h0M66 60h0M7 66h0M113 83h0M41 74h0M104 78h0"/>
<path id="p7_9" vector-effect="non-scaling-stroke" d="M87 48h0M73 112h0M102 89h0M97 71h0M54 108h0M126 85h0M112 62h0M62 79h0M57 64h0M128 74h0M40 89h0"/>
<path id="p7_10" vector-effect="non-scaling-stroke" d="M68 62h0M125 117h0M82 74h0M75 80h0M44 118h0M44 49h0M71 64h0M88 126h0M130 97h0M85 54h0"/>
<path id="p7_11" vector-effect="non-scaling-stroke" d="M106 79h0M98 108h0M130 117h0M88 93h0M40 86h0M86 119h0M52 92h0M68 66h0M33 95h0M81 96h0M124 65h0"/>
<path id="p7_12" vector-effect="non-scaling-stroke" d="M95 106h0M96 54h0M120 108h0M67 87h0M70 107h0M33 88h0M96 128h0M78 48h0M118 109h0M90 84h0M33 97h0M42 86h0M86 69h0M78 97h0M75 102h0M50 107h0"/>
<path id="p7_13" vector-effect="non-scaling-stroke" d="M47 98h0M102 59h0M53 68h0M49 105h0M57 77h0M80 92h0M103 61h0M93 74h0M86 81h0M98 39h0M129 93h0M67 76h0M60 60h0M79 131h0"/>
<path id="p7_14" vector-effect="non-scaling-stroke" d="M99 36h0M67 65h0M45 102h0M70 63h0M104 73h0M-3 77h0M57 89h0M47 53h0M57 69h0M126 119h0"/>
<path id="p7_15" vector-effect="non-scaling-stroke" d="M28 79h0M119 109h0M104 129h0M61 76h0M54 80h0M114 90h0M73 63h0M30 67h0M38 70h0M116 101h0M67 100h0M103 107h0M63 91h0"/>
<path id="p7_16" vector-effect="non-scaling-stroke" d="M97 63h0M43 101h0M68 40h0M100 105h0M68 84h0M15 118h0M71 84h0"/>
<path id="p7_17" vector-effect="non-scaling-stroke" d="M81 95h0M115 88h0M109 124h0M95 107h0M64 76h0M61 108h0M101 88h0M109 52h0M122 96h0M44 61h0M72 76h0"/>
<path id="p7_18" vector-effect="non-scaling-stroke" d="M60 87h0M76 54h0M88 72h0M113 97h0M84 93h0M103 100h0M99 105h0M102 98h0M105 107h0M55 53h0M123 97h0M56 78h0"/>
<path id="p7_19" vector-effect="non-scaling-stroke" d="M116 95h0M73 92h0M91 89h0M93 63h0M23 74h0M122 64h0M110 103h0M94 86h0M94 125h0M103 105h0M50 105h0M85 95h0M74 115h0M70 67h0"/>
</g>
<g id="K8">
<path id="p8_0" vector-effect="non-scaling-stroke" d="M172 94h0M137 108h0M193 57h0M187 88h0M175 74h0M161 70h0M175 68h0M178 71h0M173 94h0M140 102h0M161 102h0M163 75h0"/>
<path id="p8_1" vector-effect="non-scaling-stroke" d="M131 48h0M169 73h0M137 105h0M166 90h0M209 52h0"/>
<path id="p8_2" vector-effect="non-scaling-stroke" d="M144 68h0M184 90h0M162 104h0M180 77h0M192 55h0M170 50h0M171 42h0M153 93h0M184 84h0M166 54h0M191 65h0M164 81h0M178 22h0M186 74h0M153 91h0M160 98h0M170 104h0M164 78h0M170 86h0"/>
<path id="p8_3" vector-effect="non-scaling-stroke" d="M159 67h0M179 80h0M142 102h0M187 72h0M192 56h0M190 70h0M191 87h0M150 99h0M150 87h0M173 90h0M157 69h0M186 57h0M191 55h0M195 77h0M193 53h0M162 57h0M165 57h0M182 59h0M193 86h0M140 91h0"/>
<path id="p8_4" vector-effect="non-scaling-stroke" d="M168 91h0M162 82h0M151 95h0M135 78h0M158 75h0M209 72h0M169 85h0M206 73h0M171 96h0"/>
<path id="p8_5" vector-effect="non-scaling-stroke" d="M154 86h0M137 109h0M124 107h0M163 68h0M211 56h0M154 104h0M204 49h0M153 106h0M165 63h0M183 73h0M198 59h0M151 101h0M184 97h0"/>
<path id="p8_6" vector-effect="non-scaling-stroke" d="M167 75h0M155 61h0M145 100h0M155 72h0M200 67h0M192 80h0M139 72h0M147 91h0M172 49h0M202 85h0M155 81h0M177 79h0M140 111h0M153 72h0M163 50h0"/>
<path id="p8_7" vector-effect="non-scaling-stroke" d="M158 101h0M186 72h0M140 106h0M188 92h0M194 84h0M186 66h0M178 57h0M147 104h0M196 85h0"/>
<path id="p8_8" vector-effect="non-scaling-stroke" d="M143 96h0M194 70h0M170 95h0M165 103h0M176 69h0M179 87h0M188 61h0M138 90h0M164 62h0M185 73h0M143 77h0M181 88h0M197 64h0"/>
<path id="p8_9" vector-effect="non-scaling-stroke" d="M136 107h0M201 82h0M203 89h0M133 80h0M188 80h0M161 83h0M180 43h0M179 90h0M186 86h0M135 92h0M192 95h0M201 88h0"/>
<path id="p8_10" vector-effect="non-scaling-stroke" d="M165 64h0M182 49h0M186 74h0M142 79h0M178 61h0M144 69h0M132 108h0M125 58h0M158 99h0"/>
<path id="p8_11" vector-effect="non-scaling-stroke" d="M173 89h0M163 91h0M171 92h0M185 50h0M165 73h0M184 78h0M155 45h0M151 96h0"/>
<path id="p8_12" vector-effect="non-scaling-stroke" d="M155 67h0M145 93h0M176 50h0M202 64h0M145 70h0M127 117h0M169 53h0M206 64h0M187 58h0M159 61h0M145 108h0M183 64h0M198 60h0M185 103h0M198 55h0M199 73h0M172 64h0"/>
<path id="p8_13" vector-effect="non-scaling-stroke" d="M183 102h0M155 95h0M200 65h0M187 101h0M196 91h0M197 70h0M165 18h0M148 98h0M159 95h0"/>
<path id="p8_14" vector-effect="non-scaling-stroke" d="M134 94h0M151 68h0M165 51h0M128 87h0M133 92h0M149 103h0M141 92h0M205 47h0M207 70h0M163 69h0M137 114h0"/>
<path id="p8_15" vector-effect="non-scaling-stroke" d="M171 91h0M175 57h0M189 53h0M200 91h0M150 82h0M143 102h0M173 100h0M163 53h0M160 61h0M169 96h0"/>
<path id="p8_16" vector-effect="non-scaling-stroke" d="M175 96h0M139 109h0M157 86h0M135 111h0M163 56h0M148 58h0M185 54h0M199 86h0M199 63h0M161 105h0"/>
<path id="p8_17" vector-effect="non-scaling-stroke" d="M168 50h0M194 99h0M202 83h0M146 97h0M186 63h0M145 89h0M183 39h0M163 101h0M184 60h0M168 98h0M159 78h0M148 106h0M154 102h0M144 83h0M146 108h0"/>
<path id="p8_18" vector-effect="non-scaling-stroke" d="M147 100h0M196 93h0M182 97h0M178 101h0M162 104h0M130 105h0M167 74h0M140 85h0M172 57h0M191 53h0M151 89h0M183 67h0M201 59h0"/>
<path id="p8_19" vector-effect="non-scaling-stroke" d="M149 85h0M183 73h0M141 112h0M184 99h0M170 88h0M187 87h0M201 61h0M164 86h0"/>
</g>
<g id="K9">
<path id="p9_0" vector-effect="non-scaling-stroke" d="M70 53h0M72 11h0M79 36h0M84 98h0M40 22h0M56 19h0M57 63h0M63 98h0M54 47h0M56 65h0M86 25h0"/>
<path id="p9_1" vector-effect="non-scaling-stroke" d="M52 -18h0M17 50h0M51 57h0M51 12h0M59 49h0M99 77h0M87 61h0M34 62h0M69 31h0M52 64h0M45 27h0M36 17h0M94 54h0M79 38h0"/>
<path id="p9_2" vector-effect="non-scaling-stroke" d="M67 34h0M52 10h0M101 55h0M11 84h0M40 50h0M78 32h0M75 20h0M47 20h0M65 16h0"/>
<path id="p9_3" vector-effect="non-scaling-stroke" d="M67 37h0M62 23h0M15 39h0M37 64h0M63 43h0M29 61h0M41 65h0M56 26h0M55 48h0M61 14h0M62 87h0M79 24h0M71 -17h0M61 3h0M36 67h0M31 86h0"/>
<path id="p9_4" vector-effect="non-scaling-stroke" d="M45 63h0M33 71h0M47 1h0M104 62h0M62 45h0M68 -7h0M62 -1h0M70 55h0M38 22h0M36 19h0M76 49h0M47 34h0M89 38h0"/>
<path id="p9_5" vector-effect="non-scaling-stroke" d="M64 26h0M91 45h0M81 40h0M75 60h0M48 10h0M44 33h0M100 47h0M52 35h0M46 24h0M62 78h0"/>
<path id="p9_6" vector-effect="non-scaling-stroke" d="M36 46h0M43 55h0M69 19h0M19 22h0M34 60h0M12 56h0M21 57h0M34 27h0M24 46h0M113 57h0M61 -20h0"/>
<path id="p9_7" vector-effect="non-scaling-stroke" d="M3 45h0M43 34h0M32 14h0M92 38h0M41 -2h0M38 29h0M14 78h0M20 27h0"/>
<path id="p9_8" vector-effect="non-scaling-stroke" d="M27 22h0M69 25h0M65 15h0M53 1h0M79 20h0M39 61h0"/>
<path id="p9_9" vector-effect="non-scaling-stroke" d="M52 61h0M12 33h0M28 62h0M67 7h0M27 65h0M-1 6h0M72 44h0M91 35h0M45 35h0"/>
<path id="p9_10" vector-effect="non-scaling-stroke" d="M58 43h0M22 58h0M54 30h0M84 23h0M58 43h0M16 58h0M46 17h0M63 55h0M31 63h0M114 97h0M49 1h0M38 57h0M9 47h0M74 17h0M55 19h0M27 87h0M70 8h0M50 15h0M67 35h0M63 50h0"/>
<path id="p9_11" vector-effect="non-scaling-stroke" d="M51 23h0M31 46h0M83 49h0M23 42h0M62 45h0M28 31h0M82 9h0M94 29h0"/>
<path id="p9_12" vector-effect="non-scaling-stroke" d="M54 -28h0M24 13h0M89 26h0M38 62h0M77 40h0M21 72h0M65 -3h0M101 49h0M47 37h0M73 20h0M65 39h0M62 38h0M50 48h0M31 30h0"/>
<path id="p9_13" vector-effect="non-scaling-stroke" d="M96 43h0M62 -29h0M50 -10h0M51 49h0M59 6h0M66 27h0M22 53h0M114 20h0M9 66h0M44 43h0M72 73h0"/>
<path id="p9_14" vector-effect="non-scaling-stroke" d="M26 13h0M80 28h0M49 78h0M62 14h0M77 40h0M9 66h0M50 35h0M81 56h0M44 46h0"/>
<path id="p9_15" vector-effect="non-scaling-stroke" d="M44 9h0M30 35h0M26 46h0M56 9h0M57 -1h0M95 21h0M44 -1h0M76 19h0M80 50h0M51 51h0M55 48h0M42 -17h0M28 43h0"/>
<path id="p9_16" vector-effect="non-scaling-stroke" d="M46 5h0M62 70h0M76 -7h0M51 28h0M73 45h0M29 46h0M1 -3h0M76 31h0M45 50h0M8 84h0M32 80h0"/>
<path id="p9_17" vector-effect="non-scaling-stroke" d="M42 32h0M35 24h0M89 27h0M12 62h0M20 35h0M45 40h0M32 61h0M83 58h0M53 -17h0M33 20h0M31 49h0M27 59h0M27 37h0"/>
<path id="p9_18" vector-effect="non-scaling-stroke" d="M35 45h0M62 51h0M73 37h0M96 20h0M17 35h0M35 50h0M23 61h0"/>
<path id="p9_19" vector-effect="non-scaling-stroke" d="M38 25h0M62 17h0M59 39h0M22 22h0M21 33h0M33 16h0M49 -12h0"/>
</g>
<g id="K10">
<path id="p10_0" vector-effect="non-scaling-stroke" d="M119 -3h0M129 -5h0M85 -14h0M113 -4h0M82 14h0M105 -55h0M106 -26h0M71 -16h0M129 -11h0M88 -46h0M76 -33h0M127 -56h0M101 -44h0M93 -26h0M107 -21h0M123 -12h0M92 -48h0M97 19h0M132 -52h0M111 -28h0M118 -29h0M89 -34h0M68 -55h0M125 -40h0M122 14h0"/>
<path id="p10_1" vector-effect="non-scaling-stroke" d="M101 2h0M100 -49h0M63 -48h0M99 17h0M71 14h0M62 -40h0M138 -28h0M103 -6h0M120 -29h0M112 -50h0M94 -43h0M139 -23h0M90 4h0M108 -12h0M125 -29h0M64 -34h0M129 -53h0"/>
<path id="p10_2" vector-effect="non-scaling-stroke" d="M130 -10h0M95 -68h0M152 -28h0M107 -10h0M142 -20h0M88 11h0M120 -28h0M111 -12h0M58 -9h0M125 -42h0M76 -6h0M76 5h0M129 4h0M100 -2h0M119 -34h0M128 -56h0"/>
<path id="p10_3" vector-effect="non-scaling-stroke" d="M120 -47h0M156 0h0M125 -22h0M87 -9h0M118 -34h0M109 -5h0M60 -21h0M55 -64h0M125 -58h0M97 -8h0M68 -72h0M138 -23h0M65 -26h0M103 -9h0M110 -24h0M139 18h0M151 -18h0M132 3h0M124 -28h0M85 -30h0"/>
<path id="p10_4" vector-effect="non-scaling-stroke" d="M132 5h0M51 -26h0M106 33h0M60 30h0M122 -54h0M95 0h0M131 -48h0M134 -50h0M83 -10h0M121 3h0M83 9h0M132 -42h0M100 -26h0M113 -48h0M122 -21h0M117 38h0M115 -19h0"/>
<path id="p10_5" vector-effect="non-scaling-stroke" d="M128 -4h0M125 -46h0M130 -28h0M108 5h0M102 13h0M130 -46h0M131 -39h0M135 -17h0M103 -10h0M151 -1h0M116 12h0M57 -15h0M147 -8h0M144 -26h0M75 -15h0M127 -49h0M114 -51h0M49 -13h0M93 7h0M69 -44h0M124 12h0M110 -38h0M117 -7h0M142 16h0M84 9h0M125 -18h0M73 -21h0"/>
<path id="p10_6" vector-effect="non-scaling-stroke" d="M74 16h0M37 -18h0M114 6h0M123 -16h0M123 8h0M130 -30h0M79 -47h0M120 -45h0M83 7h0M129 -32h0"/>
<path id="p10_7" vector-effect="non-scaling-stroke" d="M125 -25h0M79 -13h0M121 -55h0M54 -4h0M145 -17h0M124 -36h0M85 -38h0M155 -16h0M48 1h0M114 -69h0M92 -31h0M119 -38h0M100 -6h0M154 -7h0"/>
<path id="p10_8" vector-effect="non-scaling-stroke" d="M158 -8h0M127 8h0M135 -1h0M148 8h0M136 -48h0M81 -72h0M62 23h0M110 -7h0M85 -63h0M111 -66h0"/>
<path id="p10_9" vector-effect="non-scaling-stroke" d="M93 -3h0M80 8h0M111 -30h0M106 -36h0M89 -45h0M86 -49h0M95 -19h0M112 -35h0M119 -5h0M124 -6h0M75 -8h0"/>
<path id="p10_10" vector-effect="non-scaling-stroke" d="M79 -49h0M57 -38h0M86 -47h0M114 -58h0M84 -29h0M151 -28h0M144 -25h0M102 10h0M81 1h0"/>
<path id="p10_11" vector-effect="non-scaling-stroke" d="M120 -16h0M112 -35h0M154 -23h0M64 -17h0M126 -26h0M63 6h0M147 -10h0M54 -42h0M104 -16h0M84 -45h0M125 -36h0M145 -9h0M73 -35h0M103 -16h0"/>
<path id="p10_12" vector-effect="non-scaling-stroke" d="M125 -42h0M94 9h0M140 -28h0M113 -37h0M116 -8h0M92 13h0M91 -36h0M73 4h0M137 -23h0M116 -16h0M84 -15h0M132 -19h0M133 1h0M135 -7h0M108 -17h0M118 -4h0M123 -9h0M103 -6h0M75 -7h0M74 12h0M128 -8h0"/>
<path id="p10_13" vector-effect="non-scaling-stroke" d="M114 -15h0M77 -27h0M106 -15h0M89 -2h0M146 -23h0M130 -11h0M112 -47h0M124 -14h0M75 -7h0M108 -24h0M136 -44h0M111 7h0M103 22h0M68 11h0M84 5h0M106 -63h0M112 -24h0M59 -37h0"/>
<path id="p10_14" vector-effect="non-scaling-stroke" d="M77 8h0M157 -23h0M93 -48h0M139 -25h0M72 -31h0M119 -21h0M64 -12h0M149 -24h0M120 4h0M124 -52h0M54 -21h0M90 -29h0M87 -67h0M136 -5h0M104 -3h0M137 -29h0M117 -47h0M111 -21h0M115 -44h0M102 2h0"/>
<path id="p10_15" vector-effect="non-scaling-stroke" d="M96 -36h0M95 9h0M118 -17h0M97 -2h0M108 -3h0M74 -12h0M132 -14h0"/>
<path id="p10_16" vector-effect="non-scaling-stroke" d="M134 -23h0M107 -35h0M115 14h0M107 -40h0M128 -55h0M99 -48h0M104 -51h0M123 -52h0M109 43h0M141 -40h0M146 8h0M105 -12h0M63 -7h0M119 1h0M118 -20h0"/>
<path id="p10_17" vector-effect="non-scaling-stroke" d="M77 1h0M119 -27h0M109 -70h0M83 -30h0M142 -34h0M111 -4h0M76 -10h0M95 -13h0M114 -47h0M80 -29h0M90 1h0M115 23h0M141 13h0M97 -62h0M71 -31h0M77 21h0M75 -1h0M78 10h0M60 -13h0M97 -49h0"/>
<path id="p10_18" vector-effect="non-scaling-stroke" d="M95 -26h0M115 -40h0M64 -42h0M128 -47h0M123 -56h0M107 -20h0M48 -20h0M150 5h0M117 -10h0M90 -30h0M88 -49h0M146 -19h0M107 -13h0M85 15h0M138 8h0M109 -66h0M90 -16h0M117 -68h0"/>
<path id="p10_19" vector-effect="non-scaling-stroke" d="M102 -19h0M131 14h0M102 -77h0M101 -13h0M52 -24h0M103 20h0M94 9h0M121 0h0M133 -20h0M76 -12h0M97 13h0M99 -10h0M128 -8h0M149 -31h0M123 -42h0M136 -44h0M75 -25h0M96 -50h0"/>
</g>
<g id="K11">
<path id="p11_0" vector-effect="non-scaling-stroke" d="M169 35h0M208 44h0M211 37h0M190 24h0M181 27h0"/>
<path id="p11_1" vector-effect="non-scaling-stroke" d="M203 32h0M189 43h0M161 8h0M190 43h0M192 23h0M156 37h0"/>
<path id="p11_2" vector-effect="non-scaling-stroke" d="M157 54h0"/>
<path id="p11_3" vector-effect="non-scaling-stroke" d="M165 -7h0M209 67h0M163 20h0M191 36h0M192 37h0"/>
<path id="p11_4" vector-effect="non-scaling-stroke" d="M176 42h0M181 23h0M211 47h0M157 26h0M175 43h0M206 37h0"/>
<path id="p11_5" vector-effect="non-scaling-stroke" d="M207 32h0M204 45h0M150 33h0M206 43h0M156 10h0M168 10h0"/>
<path id="p11_6" vector-effect="non-scaling-stroke" d="M154 -2h0M165 -3h0M156 -14h0M189 11h0M182 42h0M197 45h0"/>
<path id="p11_7" vector-effect="non-scaling-stroke" d="M153 -7h0M183 33h0M185 30h0M149 32h0M159 1h0M175 30h0M187 35h0M190 17h0"/>
<path id="p11_8" vector-effect="non-scaling-stroke" d="M178 17h0M185 21h0M165 19h0M206 46h0M163 17h0M201 21h0M191 46h0"/>
<path id="p11_9" vector-effect="non-scaling-stroke" d="M160 20h0M211 40h0M204 37h0M197 35h0M208 31h0M192 29h0M165 -4h0M195 26h0"/>
<path id="p11_10" vector-effect="non-scaling-stroke" d="M189 11h0M188 56h0M171 50h0M193 44h0"/>
<path id="p11_11" vector-effect="non-scaling-stroke" d="M188 22h0M176 36h0M180 25h0M208 28h0M211 39h0M175 10h0M176 46h0M196 28h0M179 32h0"/>
<path id="p11_12" vector-effect="non-scaling-stroke" d="M149 18h0M206 42h0M152 -18h0M191 16h0M191 35h0M168 11h0M165 15h0M189 13h0"/>
<path id="p11_13" vector-effect="non-scaling-stroke" d="M199 42h0M175 58h0M178 50h0M209 32h0M201 43h0M204 59h0M158 37h0M140 0h0"/>
<path id="p11_14" vector-effect="non-scaling-stroke" d="M169 36h0M178 31h0M182 21h0M199 40h0M201 61h0M170 19h0M172 33h0"/>
<path id="p11_15" vector-effect="non-scaling-stroke" d="M192 44h0M185 87h0M174 24h0M207 31h0M164 23h0M179 18h0M157 19h0"/>
<path id="p11_16" vector-effect="non-scaling-stroke" d="M199 13h0M192 30h0M178 46h0M202 15h0M212 45h0M170 71h0M197 86h0"/>
<path id="p11_17" vector-effect="non-scaling-stroke" d="M201 41h0M174 29h0M182 55h0M174 29h0M196 44h0M176 41h0M199 29h0M213 52h0M195 13h0"/>
<path id="p11_18" vector-effect="non-scaling-stroke" d="M147 -3h0M173 36h0M204 15h0M188 22h0M170 34h0M165 9h0M194 49h0M188 27h0M190 29h0"/>
<path id="p11_19" vector-effect="non-scaling-stroke" d="M169 23h0M153 -5h0M176 15h0"/>
</g>
<g id="K12">
<path id="p12_0" vector-effect="non-scaling-stroke" d="M-120 -32h0M-93 -38h0M-86 -74h0M-141 -44h0M-96 -91h0M-106 -77h0M-147 -61h0M-153 -52h0M-143 -23h0M-146 -56h0M-101 -27h0M-154 -19h0M-126 -36h0M-135 14h0M-136 -18h0M-121 -17h0"/>
<path id="p12_1" vector-effect="non-scaling-stroke" d="M-111 -33h0M-71 -64h0M-94 -54h0M-124 -65h0M-144 -65h0M-156 -27h0M-129 -68h0M-150 -68h0M-145 -57h0M-136 -68h0"/>
<path id="p12_2" vector-effect="non-scaling-stroke" d="M-119 -65h0M-107 -68h0M-154 -49h0M-154 -51h0M-129 -77h0M-122 -48h0M-95 -40h0M-132 1h0M-106 -29h0M-122 -48h0M-103 -50h0"/>
<path id="p12_3" vector-effect="non-scaling-stroke" d="M-86 -76h0M-142 -52h0M-154 -36h0M-129 -45h0M-96 -86h0M-107 -54h0M-103 -64h0M-137 -38h0M-105 -70h0M-120 -54h0M-115 -63h0M-111 -50h0M-100 -45h0M-117 -45h0M-128 -41h0M-98 -62h0M-113 -47h0"/>
<path id="p12_4" vector-effect="non-scaling-stroke" d="M-100 -45h0M-149 -42h0M-122 -72h0M-105 -33h0M-76 -84h0M-127 -76h0M-145 -4h0M-151 -47h0M-129 -29h0M-106 -57h0"/>
<path id="p12_5" vector-effect="non-scaling-stroke" d="M-101 -61h0M-136 -45h0M-141 -59h0M-126 -24h0M-75 -38h0M-111 -31h0M-103 -88h0M-122 -70h0M-54 -51h0M-139 18h0M-142 -37h0M-150 -27h0M-136 -37h0"/>
<path id="p12_6" vector-effect="non-scaling-stroke" d="M-109 -22h0M-88 -78h0M-96 -22h0M-96 -82h0M-140 -48h0M-88 -56h0M-106 -85h0M-104 -43h0"/>
<path id="p12_7" vector-effect="non-scaling-stroke" d="M-153 -21h0M-128 -61h0M-142 -23h0M-156 -39h0M-134 -20h0M-126 -30h0M-147 -46h0M-88 -57h0M-111 -31h0"/>
<path id="p12_8" vector-effect="non-scaling-stroke" d="M-99 -75h0M-78 -69h0M-113 -82h0M-158 -21h0M-124 -77h0M-136 -71h0M-84 -64h0M-150 -29h0M-75 -32h0M-135 -40h0M-69 -70h0M-105 -38h0M-87 -89h0"/>
<path id="p12_9" vector-effect="non-scaling-stroke" d="M-91 -43h0M-97 -50h0M-115 -49h0M-137 -39h0M-72 -58h0M-104 -46h0M-89 -52h0M-148 -35h0M-96 -57h0M-135 -18h0M-153 -60h0M-136 -51h0M-80 -68h0M-99 -56h0M-88 -56h0"/>
<path id="p12_10" vector-effect="non-scaling-stroke" d="M-126 -18h0M-119 -23h0M-153 -32h0M-133 -43h0M-145 -7h0M-138 -71h0M-152 -28h0M-106 -35h0M-110 -84h0M-121 -60h0M-126 -66h0M-149 -33h0M-122 -80h0M-78 -80h0M-73 -47h0M-147 -49h0"/>
<path id="p12_11" vector-effect="non-scaling-stroke" d="M-102 -45h0M-157 -45h0M-152 -51h0M-104 -68h0M-83 -64h0M-87 -79h0M-134 -73h0M-86 -68h0M-146 -26h0"/>
<path id="p12_12" vector-effect="non-scaling-stroke" d="M-141 -25h0M-90 -54h0M-120 -39h0M-143 -63h0M-144 -28h0M-78 -34h0M-144 -31h0M-119 -25h0M-150 -63h0M-138 -22h0M-124 -47h0M-151 -34h0M-96 -83h0M-140 -56h0"/>
<path id="p12_13" vector-effect="non-scaling-stroke" d="M-102 -67h0M-97 -60h0M-108 -27h0M-105 -31h0M-90 -47h0M-144 -66h0M-141 -53h0M-101 -14h0M-126 -82h0"/>
<path id="p12_14" vector-effect="non-scaling-stroke" d="M-143 -7h0M-101 -63h0M-126 -30h0M-92 -57h0M-138 -70h0M-114 -43h0M-107 -64h0M-89 -83h0M-110 -62h0M-91 -41h0M-121 -16h0M-119 -37h0M-100 -42h0M-136 -41h0M-142 -12h0"/>
<path id="p12_15" vector-effect="non-scaling-stroke" d="M-151 -52h0M-137 -73h0M-124 -14h0M-82 -74h0M-88 -47h0M-147 -70h0M-100 -60h0M-118 -7h0M-143 -61h0M-157 -22h0M-110 -74h0M-143 -68h0M-123 -67h0M-138 -47h0M-116 -79h0M-137 -50h0M-148 -50h0"/>
<path id="p12_16" vector-effect="non-scaling-stroke" d="M-109 -60h0M-85 -70h0M-149 -53h0M-113 -36h0M-123 -35h0M-102 -46h0M-113 -69h0M-95 -83h0M-150 -14h0M-133 -31h0M-109 -41h0M-136 -77h0M-111 -85h0"/>
<path id="p12_17" vector-effect="non-scaling-stroke" d="M-150 -53h0M-131 -56h0M-127 -65h0M-88 -22h0M-132 -73h0M-153 -40h0M-101 -33h0M-78 -64h0M-78 -64h0M-139 -69h0M-91 -85h0M-110 -33h0M-139 -72h0"/>
<path id="p12_18" vector-effect="non-scaling-stroke" d="M-128 -63h0M-126 -5h0M-111 -65h0M-98 -38h0M-131 -51h0M-111 -32h0M-123 -74h0M-107 -71h0M-97 -31h0M-115 -59h0M-141 -23h0M-143 -43h0"/>
<path id="p12_19" vector-effect="non-scaling-stroke" d="M-86 24h0M-124 -32h0M-96 -89h0M-149 -30h0M-87 -76h0M-89 -82h0M-146 -20h0M-132 -40h0M-135 -45h0M-69 -49h0M-98 -38h0M-113 -63h0M-119 -27h0M-102 -69h0M-156 -26h0M-145 -29h0M-126 -36h0M-117 -50h0"/>
</g>
<g id="K13">
<path id="p13_0" vector-effect="non-scaling-stroke" d="M-3 -97h0M29 -82h0M-9 -57h0M-73 -60h0M10 -72h0M2 -101h0M-13 -19h0M-77 -51h0M-31 -54h0M-17 -58h0M-24 -49h0M-46 -56h0M-14 -118h0M-31 -18h0"/>
<path id="p13_1" vector-effect="non-scaling-stroke" d="M-42 -64h0M-27 -34h0M3 -50h0M-34 -23h0M-17 -61h0M-24 -79h0M-30 -48h0M-47 -26h0M-17 -104h0M-24 -25h0"/>
<path id="p13_2" vector-effect="non-scaling-stroke" d="M-6 -73h0M12 -111h0M-4 -51h0M-62 -56h0M-5 -40h0M-2 -26h0M3 -47h0M-12 -67h0M-59 -75h0M28 -49h0"/>
<path id="p13_3" vector-effect="non-scaling-stroke" d="M-1 -69h0M-13 -60h0M-61 -84h0M-10 -69h0M-50 -30h0M-19 -36h0M14 -62h0M2 -58h0M-13 -63h0M15 -33h0M-50 -69h0M-57 -50h0M-1 -75h0M-41 -75h0M-12 -52h0"/>
<path id="p13_4" vector-effect="non-scaling-stroke" d="M-51 -2h0M13 -77h0M-36 -49h0M5 -65h0M-63 -81h0M-49 -16h0M-3 -37h0M-8 -30h0"/>
<path id="p13_5" vector-effect="non-scaling-stroke" d="M-79 -58h0M-19 -56h0M4 -107h0M-15 -40h0M-7 -46h0M-60 -45h0M-25 -24h0M-35 -69h0M-4 -108h0M12 -73h0M-55 -40h0M-53 -13h0M-39 -54h0M28 -40h0M-45 -70h0M-13 -60h0M-7 -72h0M14 -28h0"/>
<path id="p13_6" vector-effect="non-scaling-stroke" d="M-4 -86h0M-38 -56h0M-38 -13h0M-69 -63h0M59 -90h0M-67 -65h0"/>
<path id="p13_7" vector-effect="non-scaling-stroke" d="M-16 -76h0M8 -31h0M-54 -38h0M-48 -6h0M-35 -23h0M-11 -63h0M-46 -59h0M1 -58h0M-16 -39h0M-22 -33h0M-41 -22h0M10 -40h0M22 -50h0M-30 -35h0M24 -62h0M6 -30h0M0 -57h0"/>
<path id="p13_8" vector-effect="non-scaling-stroke" d="M-12 -60h0M-32 -32h0M-41 -67h0M-39 -16h0M-48 -35h0M23 -52h0M16 -74h0M-33 -43h0M5 -86h0M38 -109h0M15 -57h0M-36 -46h0M-2 -60h0M6 -80h0M12 -64h0"/>
<path id="p13_9" vector-effect="non-scaling-stroke" d="M10 -102h0M-50 -84h0M-11 -23h0M-6 -44h0M-83 -68h0M-13 -36h0M-22 -105h0M7 -68h0M7 -25h0M-24 -19h0M-38 -29h0M-17 -60h0M1 -59h0"/>
<path id="p13_10" vector-effect="non-scaling-stroke" d="M-38 -33h0M-54 -40h0M-2 -46h0M-4 -76h0M19 -91h0M-29 -29h0M-10 -67h0M-27 -74h0M5 -69h0M-36 -64h0M-10 -50h0M-7 -70h0M-16 -76h0M3 -58h0M-44 -61h0M-15 -91h0"/>
<path id="p13_11" vector-effect="non-scaling-stroke" d="M26 -29h0M-32 -32h0M-9 -37h0M43 -68h0M-45 -50h0M-27 -22h0M-27 -47h0M-53 -49h0M-60 -65h0M-11 -59h0M29 -65h0M6 -44h0M-47 -32h0M-46 -7h0M9 -36h0"/>
<path id="p13_12" vector-effect="non-scaling-stroke" d="M-75 -93h0M-10 -74h0M-32 -36h0M1 -59h0M13 -82h0M-42 -29h0M-43 -83h0M-42 -53h0M-14 -49h0M-23 -31h0M-16 -52h0M-13 -46h0M24 -50h0"/>
<path id="p13_13" vector-effect="non-scaling-stroke" d="M-22 -29h0M-66 -54h0M-69 -70h0M-33 3h0M-62 -47h0M7 -55h0M-3 -34h0M-16 -69h0M-35 -33h0M13 -46h0M15 -62h0M-39 -52h0M-15 -90h0"/>
<path id="p13_14" vector-effect="non-scaling-stroke" d="M-49 -91h0M-3 -46h0M-25 -42h0M-15 -87h0M-30 -87h0M-25 -27h0M-34 -85h0"/>
<path id="p13_15" vector-effect="non-scaling-stroke" d="M-36 -23h0M44 -39h0M15 -70h0M-55 -67h0M26 -62h0M-75 -75h0M-41 -48h0M12 -59h0M7 -104h0M29 -53h0M-28 -66h0M-55 -32h0M-69 -48h0M-39 -65h0M11 -44h0M-42 -76h0"/>
<path id="p13_16" vector-effect="non-scaling-stroke" d="M-6 -22h0M-35 -2h0M14 -8h0M22 -56h0M-30 -53h0M-1 -34h0M-42 -52h0M2 -92h0M-32 -19h0M-2 -84h0M-50 -55h0M-1 -85h0M-60 -33h0M-9 -71h0M-56 -8h0M-49 -84h0M13 -61h0"/>
<path id="p13_17" vector-effect="non-scaling-stroke" d="M-37 -64h0M-28 -30h0M-30 -22h0M-39 -36h0M4 -106h0M-28 -47h0M-28 -50h0M15 -72h0M-22 -83h0M-12 -15h0M-4 -56h0M-30 -60h0M-66 -66h0"/>
<path id="p13_18" vector-effect="non-scaling-stroke" d="M-16 -69h0M-5 -35h0M-49 -35h0M-32 -84h0M2 -71h0M-9 -36h0M-3 -39h0M-37 -55h0M-18 -22h0M23 -46h0M-2 -29h0M14 -101h0M11 -66h0M22 -46h0"/>
<path id="p13_19" vector-effect="non-scaling-stroke" d="M-6 -17h0M-59 -65h0M5 -49h0M-29 -27h0M-16 -73h0M28 -70h0M5 -43h0M-9 -40h0M-38 -13h0M-47 -61h0M18 -62h0M-15 -69h0M3 -92h0M43 -38h0M-6 -65h0M16 -55h0M2 -70h0M14 -112h0M-22 -71h0"/>
</g>
<g id="K14">
<path id="p14_0" vector-effect="non-scaling-stroke" d="M-31 -95h0M-21 -78h0M-81 -66h0M-73 -70h0M-24 -86h0M-5 -110h0"/>
<path id="p14_1" vector-effect="non-scaling-stroke" d="M-11 -114h0M-56 -46h0M-65 -90h0M0 -103h0M-21 -88h0M-6 -101h0M-57 -38h0M-10 -93h0M-72 -73h0M-74 -78h0M-51 -77h0M-43 -101h0"/>
<path id="p14_2" vector-effect="non-scaling-stroke" d="M-19 -71h0M-64 -59h0M-49 -82h0M20 -98h0M-93 -95h0M-100 -90h0M-48 -81h0M15 -106h0M-49 -87h0M-72 -61h0"/>
<path id="p14_3" vector-effect="non-scaling-stroke" d="M-85 -98h0M-21 -117h0M-2 -107h0M-83 -94h0"/>
<path id="p14_4" vector-effect="non-scaling-stroke" d="M-31 -82h0M14 -99h0M-42 -98h0M-58 -95h0M-11 -109h0M-67 -85h0M-27 -116h0M-60 -75h0"/>
<path id="p14_5" vector-effect="non-scaling-stroke" d="M-29 -92h0M-10 -113h0M-86 -98h0M-41 -111h0M-17 -107h0M-62 -92h0M16 -100h0M-85 -90h0M-1 -110h0"/>
<path id="p14_6" vector-effect="non-scaling-stroke" d="M-58 -82h0M-59 -106h0M-34 -72h0M-46 -79h0M-71 -90h0M1 -104h0M5 -109h0M-2 -88h0M-62 -74h0M-33 -84h0M-53 -91h0M-5 -86h0M-24 -103h0M-26 -97h0M-41 -86h0M-22 -93h0M-25 -97h0M-66 -73h0M-57 -95h0"/>
<path id="p14_7" vector-effect="non-scaling-stroke" d="M-8 -114h0M-28 -116h0M-17 -98h0M-36 -87h0M-4 -96h0M-4 -88h0M-31 -73h0M-40 -91h0M-19 -116h0M-30 -116h0M-23 -83h0M-30 -107h0"/>
<path id="p14_8" vector-effect="non-scaling-stroke" d="M-41 -79h0M-53 -82h0M-20 -95h0M-8 -94h0M15 -105h0M3 -118h0M-49 -104h0M-7 -99h0M13 -77h0"/>
<path id="p14_9" vector-effect="non-scaling-stroke" d="M-63 -61h0M-27 -116h0M2 -111h0M-50 -109h0M-100 -92h0M-21 -80h0M-56 -102h0M-15 -87h0M-57 -86h0M-23 -106h0M-23 -105h0"/>
<path id="p14_10" vector-effect="non-scaling-stroke" d="M-78 -100h0M-81 -89h0M-12 -109h0M-50 -108h0M-17 -102h0M-51 -63h0M-59 -87h0M-7 -79h0M-1 -111h0M-72 -83h0M-64 -94h0M-37 -77h0"/>
<path id="p14_11" vector-effect="non-scaling-stroke" d="M-27 -113h0M-75 -73h0M-49 -109h0M2 -107h0M-36 -112h0M-13 -114h0M-89 -80h0M-46 -103h0M-29 -116h0M6 -113h0M-41 -93h0M-18 -86h0M-7 -110h0"/>
<path id="p14_12" vector-effect="non-scaling-stroke" d="M-47 -43h0M-55 -91h0M-51 -57h0M-67 -64h0M-42 -66h0M-43 -87h0M-41 -70h0M-48 -100h0M-17 -118h0M-55 -80h0M-54 -63h0M-44 -108h0M-13 -113h0M-14 -94h0M-65 -98h0"/>
<path id="p14_13" vector-effect="non-scaling-stroke" d="M-10 -104h0M-35 -107h0M-30 -114h0M-36 -88h0M-27 -98h0M-48 -104h0M-48 -90h0"/>
<path id="p14_14" vector-effect="non-scaling-stroke" d="M-67 -74h0M-7 -83h0M-14 -93h0M-6 -82h0M-36 -77h0M-39 -72h0M-52 -56h0M-60 -89h0M-39 -54h0M-54 -105h0M-45 -92h0M-28 -111h0"/>
<path id="p14_15" vector-effect="non-scaling-stroke" d="M-93 -94h0M-39 -102h0M-73 -87h0M4 -94h0M-48 -77h0M-42 -84h0M-64 -36h0M-85 -70h0M-7 -86h0"/>
<path id="p14_16" vector-effect="non-scaling-stroke" d="M-25 -90h0M-36 -107h0M-42 -81h0M-74 -67h0M10 -95h0M-89 -82h0"/>
<path id="p14_17" vector-effect="non-scaling-stroke" d="M-56 -73h0M-66 -88h0M-18 -38h0M-49 -81h0M-92 -94h0M-68 -73h0"/>
<path id="p14_18" vector-effect="non-scaling-stroke" d="M-47 -97h0M-51 -95h0M-16 -85h0M-23 -82h0"/>
<path id="p14_19" vector-effect="non-scaling-stroke" d="M-60 -102h0M-92 -90h0M-21 -103h0M-19 -118h0M-32 -82h0M5 -51h0M-64 -71h0"/>
</g>
<g id="K15">
<path id="p15_0" vector-effect="non-scaling-stroke" d="M23 -107h0M49 -100h0M11 -105h0M13 -70h0M81 -131h0M85 -124h0M43 -142h0"/>
<path id="p15_1" vector-effect="non-scaling-stroke" d="M21 -100h0M21 -113h0M51 -121h0M78 -133h0M53 -144h0M38 -133h0M61 -119h0M69 -140h0"/>
<path id="p15_2" vector-effect="non-scaling-stroke" d="M28 -106h0M44 -107h0M97 -94h0M51 -155h0"/>
<path id="p15_3" vector-effect="non-scaling-stroke" d="M34 -112h0M53 -128h0M79 -105h0M74 -109h0M29 -144h0M34 -142h0M47 -140h0M57 -154h0M39 -149h0"/>
<path id="p15_4" vector-effect="non-scaling-stroke" d="M21 -94h0M39 -107h0M44 -146h0M33 -154h0M72 -127h0M70 -110h0M80 -115h0M51 -143h0M57 -143h0M57 -145h0M33 -148h0"/>
<path id="p15_5" vector-effect="non-scaling-stroke" d="M45 -108h0M1 -105h0M64 -98h0M68 -124h0M65 -134h0"/>
<path id="p15_6" vector-effect="non-scaling-stroke" d="M19 -84h0M62 -139h0M72 -116h0M32 -139h0M44 -155h0M57 -138h0"/>
<path id="p15_7" vector-effect="non-scaling-stroke" d="M67 -93h0M21 -99h0M31 -105h0M5 -92h0M52 -136h0M70 -142h0M65 -109h0M69 -142h0M73 -117h0M22 -141h0M48 -138h0"/>
<path id="p15_8" vector-effect="non-scaling-stroke" d="M11 -95h0M85 -97h0M64 -131h0M84 -116h0M90 -108h0"/>
<path id="p15_9" vector-effect="non-scaling-stroke" d="M19 -115h0M15 -115h0M17 -96h0M71 -140h0M72 -123h0M30 -142h0M82 -104h0M84 -100h0"/>
<path id="p15_10" vector-effect="non-scaling-stroke" d="M27 -106h0M52 -103h0M88 -99h0M75 -105h0M74 -127h0M49 -153h0M48 -126h0M51 -128h0M74 -118h0M72 -127h0M87 -113h0M52 -123h0M83 -119h0"/>
<path id="p15_11" vector-effect="non-scaling-stroke" d="M67 -121h0M71 -130h0M43 -125h0M64 -109h0M34 -144h0"/>
<path id="p15_12" vector-effect="non-scaling-stroke" d="M14 -108h0M59 -109h0M49 -103h0M50 -122h0M29 -142h0M44 -133h0"/>
<path id="p15_13" vector-effect="non-scaling-stroke" d="M30 -114h0M53 -104h0M54 -144h0M74 -139h0M83 -100h0M92 -104h0M87 -106h0M44 -135h0"/>
<path id="p15_14" vector-effect="non-scaling-stroke" d="M58 -107h0M45 -105h0M60 -140h0M76 -134h0M79 -116h0M45 -131h0M22 -148h0"/>
<path id="p15_15" vector-effect="non-scaling-stroke" d="M19 -99h0M33 -140h0M45 -129h0M30 -141h0M23 -153h0M76 -113h0M82 -127h0M63 -129h0"/>
<path id="p15_16" vector-effect="non-scaling-stroke" d="M11 -100h0M35 -103h0M11 -88h0M52 -146h0M76 -122h0M55 -143h0M40 -148h0M73 -115h0M38 -145h0"/>
<path id="p15_17" vector-effect="non-scaling-stroke" d="M44 -102h0M54 -109h0M45 -113h0M54 -110h0M78 -134h0M58 -120h0M90 -112h0M68 -142h0M62 -115h0M57 -141h0M30 -154h0M50 -151h0"/>
<path id="p15_18" vector-effect="non-scaling-stroke" d="M33 -100h0M41 -108h0M63 -99h0M27 -100h0M41 -140h0M79 -132h0M57 -117h0M45 -139h0"/>
<path id="p15_19" vector-effect="non-scaling-stroke" d="M20 -109h0M40 -127h0M77 -106h0M65 -127h0M42 -141h0"/>
</g>
<g id="K16">
<path id="p16_0" vector-effect="non-scaling-stroke" d="M155 7h0M163 44h0M121 80h0M104 61h0M133 61h0M141 111h0M144 33h0M170 10h0M122 73h0M117 12h0M138 66h0"/>
<path id="p16_1" vector-effect="non-scaling-stroke" d="M148 31h0M101 40h0M114 38h0M105 69h0M110 58h0M140 23h0M152 44h0"/>
<path id="p16_2" vector-effect="non-scaling-stroke" d="M142 85h0M109 58h0M140 57h0M113 9h0M139 47h0M142 58h0"/>
<path id="p16_3" vector-effect="non-scaling-stroke" d="M99 76h0M134 17h0M134 6h0M145 49h0M100 50h0M120 77h0M127 21h0M153 1h0M96 57h0M103 56h0M179 28h0"/>
<path id="p16_4" vector-effect="non-scaling-stroke" d="M123 64h0M155 47h0M128 67h0M125 41h0M170 53h0M136 2h0M146 51h0M148 42h0M98 39h0M101 16h0M122 9h0M135 26h0M101 15h0M123 84h0M104 38h0M146 82h0M112 48h0M136 62h0"/>
<path id="p16_5" vector-effect="non-scaling-stroke" d="M119 53h0M118 51h0M150 43h0M114 46h0M154 74h0M97 25h0M130 -12h0M116 110h0M140 -28h0M107 38h0M129 35h0"/>
<path id="p16_6" vector-effect="non-scaling-stroke" d="M120 61h0M146 33h0M117 24h0M133 54h0M108 62h0M124 26h0M146 12h0M139 35h0M149 73h0M147 62h0M139 58h0M160 41h0M134 57h0M140 49h0"/>
<path id="p16_7" vector-effect="non-scaling-stroke" d="M169 12h0M159 42h0M145 23h0M110 72h0M148 50h0M130 49h0M123 40h0M122 48h0M133 34h0M118 16h0M110 21h0"/>
<path id="p16_8" vector-effect="non-scaling-stroke" d="M112 40h0M141 54h0M138 26h0M120 17h0M95 10h0M139 83h0M137 -3h0M139 47h0M111 67h0M117 68h0M141 51h0M160 2h0"/>
<path id="p16_9" vector-effect="non-scaling-stroke" d="M165 25h0M118 34h0M148 -16h0M161 11h0M124 53h0M135 25h0M149 44h0M132 100h0M130 41h0M96 15h0M112 81h0M140 44h0M154 15h0M128 93h0"/>
<path id="p16_10" vector-effect="non-scaling-stroke" d="M133 80h0M99 16h0M93 46h0M112 33h0M105 68h0M93 18h0M133 64h0M144 81h0M153 74h0M124 33h0M146 16h0M116 33h0M93 81h0"/>
<path id="p16_11" vector-effect="non-scaling-stroke" d="M95 57h0M147 59h0M99 25h0M114 47h0M96 23h0M137 55h0M99 58h0M73 60h0M126 29h0"/>
<path id="p16_12" vector-effect="non-scaling-stroke" d="M123 85h0M122 81h0M98 46h0M121 20h0M136 64h0M96 31h0M118 15h0M153 40h0M146 -1h0M147 1h0M122 59h0M112 57h0M140 4h0M97 27h0M165 34h0M113 9h0"/>
<path id="p16_13" vector-effect="non-scaling-stroke" d="M109 97h0M92 33h0M116 39h0M125 51h0M160 39h0M151 -15h0M109 30h0M122 11h0M135 64h0M137 73h0M127 75h0M169 36h0M156 51h0M143 55h0M127 38h0M142 64h0"/>
<path id="p16_14" vector-effect="non-scaling-stroke" d="M133 46h0M143 33h0M140 21h0M141 114h0M130 52h0M105 20h0M101 18h0M100 71h0M132 47h0M142 46h0M125 82h0M120 93h0M103 36h0M116 32h0M150 64h0M111 58h0M148 95h0"/>
<path id="p16_15" vector-effect="non-scaling-stroke" d="M108 37h0M131 76h0M144 47h0M116 101h0M119 64h0M101 59h0M110 24h0M118 47h0"/>
<path id="p16_16" vector-effect="non-scaling-stroke" d="M143 33h0M113 33h0M115 60h0M135 61h0M162 35h0M152 16h0M144 85h0M116 61h0M128 53h0M131 112h0"/>
<path id="p16_17" vector-effect="non-scaling-stroke" d="M103 69h0M150 97h0M161 -12h0M137 64h0M130 -13h0M128 34h0M141 51h0M163 60h0M117 44h0M146 33h0"/>
<path id="p16_18" vector-effect="non-scaling-stroke" d="M101 40h0M146 -2h0M142 71h0M141 33h0M127 40h0M104 34h0M118 20h0M105 4h0M106 58h0M90 68h0M121 48h0"/>
<path id="p16_19" vector-effect="non-scaling-stroke" d="M175 44h0M134 43h0M138 15h0M168 18h0M129 22h0M126 66h0M149 32h0M144 79h0M119 102h0M132 79h0M142 78h0M170 25h0M149 37h0M105 83h0"/>
</g>
<g id="K17">
<path id="p17_0" vector-effect="non-scaling-stroke" d="M-98 67h0M-94 78h0M-115 19h0M-93 92h0M-89 71h0M-91 34h0"/>
<path id="p17_1" vector-effect="non-scaling-stroke" d="M-147 96h0M-97 42h0M-109 73h0M-54 20h0M-101 45h0M-94 18h0M-107 30h0M-67 62h0M-135 25h0M-116 51h0M-53 33h0"/>
<path id="p17_2" vector-effect="non-scaling-stroke" d="M-117 24h0M-75 86h0M-59 23h0M-88 37h0M-149 107h0M-94 23h0M-104 38h0M-51 63h0"/>
<path id="p17_3" vector-effect="non-scaling-stroke" d="M-88 106h0M-106 64h0M-42 59h0M-88 32h0M-128 77h0M-102 34h0M-82 51h0M-149 77h0"/>
<path id="p17_4" vector-effect="non-scaling-stroke" d="M-71 54h0M-62 69h0M-118 28h0M-80 79h0M-62 41h0M-83 68h0M-101 44h0M-102 71h0"/>
<path id="p17_5" vector-effect="non-scaling-stroke" d="M-77 62h0M-143 36h0M-127 64h0M-71 46h0M-132 16h0M-114 46h0M-79 77h0M-76 59h0"/>
<path id="p17_6" vector-effect="non-scaling-stroke" d="M-80 71h0M-98 34h0M-81 61h0M-119 84h0M-114 44h0M-114 68h0M-77 57h0M-103 54h0M-103 63h0"/>
<path id="p17_7" vector-effect="non-scaling-stroke" d="M-115 42h0M-100 29h0M-124 39h0M-92 67h0M-74 74h0M-123 67h0M-113 81h0M-115 48h0M-83 44h0"/>
<path id="p17_8" vector-effect="non-scaling-stroke" d="M-54 23h0M-104 52h0M-94 54h0M-119 52h0M-99 34h0M-115 41h0M-119 67h0M-102 74h0M-103 93h0M-98 59h0M-78 46h0M-146 7h0M-113 31h0M-109 29h0M-77 30h0"/>
<path id="p17_9" vector-effect="non-scaling-stroke" d="M-92 52h0M-116 60h0M-41 66h0M-92 26h0M-56 68h0M-103 65h0M-52 55h0M-107 73h0M-89 55h0M-138 48h0M-114 42h0"/>
<path id="p17_10" vector-effect="non-scaling-stroke" d="M-99 26h0M-52 84h0M-53 17h0M-130 43h0M-105 81h0M-108 47h0M-112 43h0"/>
<path id="p17_11" vector-effect="non-scaling-stroke" d="M-93 35h0M-67 53h0M-66 64h0M-65 46h0M-86 72h0M-114 -3h0M-135 49h0M-123 51h0M-110 67h0M-58 39h0M-66 53h0"/>
<path id="p17_12" vector-effect="non-scaling-stroke" d="M-94 70h0M-85 50h0M-87 67h0M-44 90h0M-106 45h0M-123 89h0M-102 57h0"/>
<path id="p17_13" vector-effect="non-scaling-stroke" d="M-98 54h0M-121 76h0M-78 48h0M-119 50h0M-97 54h0M-70 40h0"/>
<path id="p17_14" vector-effect="non-scaling-stroke" d="M-57 49h0M-123 41h0M-80 50h0M-116 57h0M-88 49h0M-77 37h0"/>
<path id="p17_15" vector-effect="non-scaling-stroke" d="M-95 69h0M-119 19h0M-100 45h0M-132 59h0M-115 6h0M-108 67h0M-96 19h0M-114 12h0M-111 47h0"/>
<path id="p17_16" vector-effect="non-scaling-stroke" d="M-97 41h0M-97 58h0M-102 14h0M-130 78h0M-90 21h0M-155 36h0M-103 34h0M-102 73h0M-127 54h0"/>
<path id="p17_17" vector-effect="non-scaling-stroke" d="M-116 22h0M-122 76h0M-52 71h0M-98 50h0M-86 50h0M-120 38h0M-92 48h0M-77 61h0"/>
<path id="p17_18" vector-effect="non-scaling-stroke" d="M-103 22h0M-59 86h0M-119 78h0M-101 82h0M-91 88h0M-89 57h0M-72 55h0M-105 56h0M-81 77h0M-96 63h0M-100 52h0M-113 -5h0M-75 25h0"/>
<path id="p17_19" vector-effect="non-scaling-stroke" d="M-119 33h0M-70 32h0M-126 65h0M-84 48h0M-85 91h0M-54 58h0M-93 66h0M-89 113h0"/>
</g>
<g id="K18">
<path id="p18_0" vector-effect="non-scaling-stroke" d="M20 -74h0M50 -108h0M58 -81h0M30 -80h0M19 -83h0M37 -93h0M89 -83h0M60 -49h0M77 -53h0M47 -58h0M56 -67h0M86 -87h0M32 -47h0M105 -41h0M55 -55h0"/>
<path id="p18_1" vector-effect="non-scaling-stroke" d="M58 -24h0M79 -37h0M58 -106h0M56 -78h0M57 -58h0M84 -28h0M40 -47h0M40 -92h0M60 -103h0M61 -49h0M74 -63h0M46 -64h0M61 -93h0M87 -70h0M44 -94h0M69 -50h0M79 -25h0M39 -74h0"/>
<path id="p18_2" vector-effect="non-scaling-stroke" d="M83 -92h0M53 -47h0M77 -32h0M27 -82h0M67 -45h0M67 -55h0M73 -64h0M25 -52h0M34 -59h0M98 -74h0M31 -87h0M48 -52h0M74 -36h0"/>
<path id="p18_3" vector-effect="non-scaling-stroke" d="M63 -66h0M43 -55h0M24 -82h0M46 -92h0M35 -45h0"/>
<path id="p18_4" vector-effect="non-scaling-stroke" d="M59 -71h0M52 -76h0M20 -99h0M50 -77h0M12 -73h0M34 -57h0M45 -27h0M24 -106h0M96 -67h0M26 -97h0M88 -60h0M98 -89h0M43 -45h0M60 -6h0M57 -96h0M24 -49h0M45 -44h0M49 -100h0M17 -71h0M54 -58h0"/>
<path id="p18_5" vector-effect="non-scaling-stroke" d="M52 -51h0M93 -67h0M97 -52h0M19 -82h0M89 -56h0M82 -57h0M79 -86h0M76 -54h0M43 -98h0M97 -87h0M60 -66h0M61 -105h0M102 -42h0M81 -87h0M70 -67h0M106 -81h0"/>
<path id="p18_6" vector-effect="non-scaling-stroke" d="M43 -54h0M28 -97h0M55 -42h0M44 -78h0M124 -59h0M88 -70h0M56 -44h0M21 -59h0M62 -42h0M53 -57h0M55 -75h0M59 -72h0M101 -45h0M81 -85h0M97 -45h0M53 -78h0M70 -56h0M83 -57h0M73 -87h0M58 -30h0M20 -93h0"/>
<path id="p18_7" vector-effect="non-scaling-stroke" d="M39 -24h0M54 -70h0M42 -80h0M36 -87h0M34 -81h0M18 -84h0M96 -50h0M85 -75h0M85 -89h0M54 -23h0M63 -57h0M97 -56h0M114 -63h0M85 -90h0M41 -74h0M78 -95h0M68 -72h0M71 -70h0M16 -74h0M43 -15h0M48 -87h0"/>
<path id="p18_8" vector-effect="non-scaling-stroke" d="M27 -77h0M97 -36h0M54 -26h0M15 -87h0M78 -80h0M30 -58h0M35 -80h0M18 -49h0M80 -89h0M68 -79h0M62 -50h0M44 -68h0M53 -81h0"/>
<path id="p18_9" vector-effect="non-scaling-stroke" d="M85 -84h0M36 -52h0M42 -70h0M83 -83h0M94 -71h0M35 -38h0M46 -66h0M49 -59h0M55 -34h0M83 -78h0M52 -32h0M56 -81h0"/>
<path id="p18_10" vector-effect="non-scaling-stroke" d="M43 -54h0M67 -29h0M47 -85h0M64 -65h0M86 -58h0M64 -96h0M36 -45h0M58 -30h0M52 -73h0M101 -27h0M88 -47h0M60 -77h0M15 -50h0M60 -94h0M44 -20h0M78 -98h0M32 -96h0M61 -39h0M55 -95h0"/>
<path id="p18_11" vector-effect="non-scaling-stroke" d="M65 -87h0M58 -90h0M20 -85h0M57 -48h0M47 -28h0M54 -100h0M104 -42h0M69 -91h0M109 -54h0M69 -54h0M65 -85h0M31 -54h0M71 -89h0M40 -83h0M63 -51h0M70 -67h0M83 -96h0M74 -48h0M98 -82h0"/>
<path id="p18_12" vector-effect="non-scaling-stroke" d="M78 -63h0M20 -46h0M103 -84h0M120 -24h0M39 -67h0M54 -81h0M39 -79h0M80 -81h0M35 -36h0M90 -78h0M102 -76h0M73 -84h0M74 -73h0M59 -74h0M63 -95h0M73 -30h0M35 -45h0"/>
<path id="p18_13" vector-effect="non-scaling-stroke" d="M47 -64h0M30 -62h0M9 -85h0M79 -96h0M71 -79h0M37 -89h0M68 -55h0M77 -77h0M47 -68h0M44 -28h0M49 -91h0M67 -48h0M36 -81h0M52 -60h0M77 -88h0M77 -90h0M72 -92h0M21 -60h0"/>
<path id="p18_14" vector-effect="non-scaling-stroke" d="M75 -69h0M72 -64h0M48 -28h0M54 -73h0M33 -59h0M31 -98h0M56 -27h0M65 -30h0M73 -81h0M35 -91h0M33 -79h0M58 -72h0M73 -39h0M44 -77h0M34 -75h0M64 -70h0M36 -77h0M49 -38h0M66 -103h0M64 -52h0M84 -78h0M55 -51h0M59 -49h0M35 -63h0"/>
<path id="p18_15" vector-effect="non-scaling-stroke" d="M78 -64h0M67 -40h0M76 -57h0M67 -86h0M109 -63h0M54 -105h0M42 -52h0M83 -71h0M78 -67h0M62 -94h0M73 -55h0M-5 -89h0M87 -37h0M90 -85h0M86 -63h0M81 -98h0M62 -52h0M71 -65h0M91 -88h0M34 -85h0M101 -47h0M12 -109h0"/>
<path id="p18_16" vector-effect="non-scaling-stroke" d="M101 -84h0M105 -60h0M59 -52h0M93 -58h0M63 -45h0M56 -49h0M78 -64h0M65 -53h0M68 -37h0M49 -56h0M70 -49h0M24 -82h0M94 -90h0M83 -94h0M90 -81h0M71 -90h0"/>
<path id="p18_17" vector-effect="non-scaling-stroke" d="M55 -54h0M11 -88h0M45 -64h0M53 -58h0M73 -72h0M66 -66h0M112 -71h0M55 -57h0M33 -58h0M37 -102h0M23 -74h0M94 -91h0"/>
<path id="p18_18" vector-effect="non-scaling-stroke" d="M78 -79h0M87 -50h0M45 -27h0M106 -55h0M85 -47h0M95 -87h0M96 -84h0M28 -67h0M33 -69h0M31 -45h0M60 -91h0M50 -37h0M77 -89h0M87 -64h0M91 -80h0M54 -95h0M38 -42h0M40 -52h0M87 -72h0M61 -78h0M21 -84h0"/>
<path id="p18_19" vector-effect="non-scaling-stroke" d="M68 -85h0M89 -39h0M110 -53h0M43 -78h0M108 -73h0M117 -66h0M24 -99h0M65 -74h0M36 -70h0M46 -102h0M36 -50h0M46 -52h0M40 -63h0M44 -47h0M29 -46h0M105 -70h0"/>
</g>
<g id="K19">
<path id="p19_0" vector-effect="non-scaling-stroke" d="M53 -27h0M31 9h0M12 14h0M18 -20h0M2 -2h0M-8 -2h0M16 19h0M-5 9h0M47 -19h0"/>
<path id="p19_1" vector-effect="non-scaling-stroke" d="M-10 8h0M17 -25h0M-2 -10h0M-7 0h0M-17 -50h0M27 37h0M-5 2h0M44 33h0M14 -27h0M18 15h0M6 -44h0"/>
<path id="p19_2" vector-effect="non-scaling-stroke" d="M14 -28h0M-14 4h0M26 -8h0M-15 -14h0M6 36h0M16 16h0M61 12h0M-15 -28h0"/>
<path id="p19_3" vector-effect="non-scaling-stroke" d="M-15 -3h0M9 -9h0M40 -21h0M32 9h0M-22 49h0M-33 1h0M32 -21h0M-5 16h0M2 12h0"/>
<path id="p19_4" vector-effect="non-scaling-stroke" d="M38 -28h0M23 1h0M42 14h0M6 -36h0M-28 2h0M-25 -46h0M-2 -1h0M7 -5h0M-13 7h0M31 5h0M16 39h0"/>
<path id="p19_5" vector-effect="non-scaling-stroke" d="M29 -8h0M15 -36h0M-8 10h0M-32 -1h0M31 -2h0M62 14h0M6 15h0M13 50h0M31 -12h0M23 23h0M3 24h0M22 -20h0M-6 -16h0M-6 -24h0M-7 0h0M-19 -14h0M37 13h0M22 -24h0"/>
<path id="p19_6" vector-effect="non-scaling-stroke" d="M-13 12h0M-8 -1h0M43 -17h0M28 26h0M23 -10h0M39 21h0M2 18h0M12 23h0M23 -53h0"/>
<path id="p19_7" vector-effect="non-scaling-stroke" d="M27 -24h0M26 -4h0M17 -5h0M19 3h0M-22 -9h0M65 -16h0M11 -25h0M8 -48h0M9 18h0M20 11h0M19 2h0M10 12h0M-7 18h0"/>
<path id="p19_8" vector-effect="non-scaling-stroke" d="M51 11h0M47 -30h0M-11 1h0M-30 -16h0M58 25h0M-10 -16h0M27 -37h0M39 -29h0M40 17h0M-9 73h0M2 23h0M-26 -24h0M9 -10h0M1 5h0"/>
<path id="p19_9" vector-effect="non-scaling-stroke" d="M-2 9h0M4 1h0M16 -69h0M39 43h0M19 -11h0M18 50h0M10 33h0"/>
<path id="p19_10" vector-effect="non-scaling-stroke" d="M-33 -7h0M-23 -1h0M7 -12h0M9 -26h0M12 -6h0M-2 -2h0M-11 -14h0M-10 -1h0M24 -18h0M20 45h0M4 -37h0M-11 -13h0M30 -10h0"/>
<path id="p19_11" vector-effect="non-scaling-stroke" d="M0 -22h0M25 -1h0M59 -12h0M16 27h0M19 56h0M8 -2h0M19 -36h0M5 -4h0M30 -1h0M-17 46h0M13 -53h0M32 43h0"/>
<path id="p19_12" vector-effect="non-scaling-stroke" d="M-6 -4h0M23 11h0M40 -39h0M17 -14h0M59 5h0M20 -41h0M8 -15h0M22 20h0"/>
<path id="p19_13" vector-effect="non-scaling-stroke" d="M36 6h0M12 -3h0M24 49h0M15 16h0M8 2h0M-12 -10h0M-4 11h0M38 40h0M34 -34h0M30 -15h0M31 -29h0M4 -22h0M44 -18h0M24 7h0M17 41h0M-10 28h0M16 -1h0M46 -19h0M48 46h0"/>
<path id="p19_14" vector-effect="non-scaling-stroke" d="M1 29h0M-22 -27h0M-21 -1h0M18 -33h0M22 1h0M-34 -21h0M29 -34h0"/>
<path id="p19_15" vector-effect="non-scaling-stroke" d="M4 -30h0M31 -25h0M42 -12h0M-15 -31h0M-8 -14h0M7 3h0M-49 3h0M28 -18h0M29 -55h0M24 -42h0M-8 -15h0M-40 -9h0M5 -35h0M40 11h0M0 8h0"/>
<path id="p19_16" vector-effect="non-scaling-stroke" d="M11 14h0M17 -28h0M29 20h0M40 -23h0M15 59h0M34 -24h0M9 -20h0M34 18h0M40 -25h0M16 21h0M24 -8h0M21 -41h0"/>
<path id="p19_17" vector-effect="non-scaling-stroke" d="M27 10h0M-11 -3h0M32 -30h0M42 17h0M51 -31h0M15 -26h0M52 -16h0M-30 -18h0M14 -42h0M6 43h0M40 25h0M-11 47h0M33 -16h0M26 -35h0M28 18h0"/>
<path id="p19_18" vector-effect="non-scaling-stroke" d="M5 -32h0M18 -42h0M-15 -8h0M21 -12h0M17 -13h0M0 29h0M-18 53h0M34 9h0"/>
<path id="p19_19" vector-effect="non-scaling-stroke" d="M20 5h0M-16 -31h0M10 -25h0M7 -38h0M-10 27h0M-7 28h0M37 26h0M20 -11h0M-15 -17h0M-23 1h0M44 -27h0M-18 2h0M-4 26h0"/>
</g>
<g id="K20">
<path id="p20_0" vector-effect="non-scaling-stroke" d="M-118 -157h0M-37 -142h0M-45 -164h0M-93 -181h0M-56 -177h0M-52 -145h0M-47 -175h0M-52 -156h0M-82 -179h0M-71 -178h0M-76 -162h0M-50 -147h0M-27 -159h0"/>
<path id="p20_1" vector-effect="non-scaling-stroke" d="M-116 -108h0M-101 -158h0M-74 -133h0M-88 -143h0M-79 -152h0M-66 -134h0M-136 -115h0M-58 -167h0M-86 -147h0M-47 -181h0M-67 -158h0M-81 -141h0M-61 -162h0M-133 -108h0M-55 -130h0M-68 -128h0M-116 -152h0M-54 -129h0M-137 -131h0M-70 -125h0"/>
<path id="p20_2" vector-effect="non-scaling-stroke" d="M-50 -143h0M-93 -178h0M-46 -179h0M-37 -169h0M-101 -120h0M-123 -152h0M-96 -163h0M-50 -155h0M-120 -134h0M-78 -138h0M-70 -149h0M-96 -169h0M-35 -145h0M-107 -143h0M-50 -137h0M-76 -146h0"/>
<path id="p20_3" vector-effect="non-scaling-stroke" d="M-113 -157h0M-66 -171h0M-83 -164h0M-58 -130h0M-73 -130h0M-103 -136h0M-47 -165h0M-89 -177h0M-82 -170h0M-41 -154h0M-49 -157h0M-126 -114h0M-62 -123h0M-44 -163h0M-129 -132h0M-67 -126h0M-52 -179h0M-101 -119h0M-58 -132h0M-111 -132h0M-132 -128h0M-64 -162h0M-87 -158h0M-72 -128h0"/>
<path id="p20_4" vector-effect="non-scaling-stroke" d="M-88 -144h0M-114 -100h0M-100 -118h0M-55 -128h0M-114 -115h0M-85 -118h0M-52 -149h0M-87 -160h0M-118 -111h0M-134 -131h0M-65 -181h0M-38 -168h0M-126 -137h0M-55 -126h0M-62 -178h0M-97 -144h0"/>
<path id="p20_5" vector-effect="non-scaling-stroke" d="M-130 -103h0M-28 -152h0M-78 -120h0M-32 -170h0M-108 -127h0M-128 -129h0M-119 -130h0M-98 -172h0M-79 -131h0M-136 -112h0M-82 -179h0M-39 -158h0M-106 -112h0M-81 -127h0M-69 -122h0M-57 -161h0M-32 -169h0M-100 -130h0"/>
<path id="p20_6" vector-effect="non-scaling-stroke" d="M-79 -147h0M-101 -126h0M-114 -125h0M-126 -115h0M-127 -134h0M-106 -142h0M-119 -121h0M-77 -143h0M-81 -154h0M-36 -155h0M-124 -115h0M-125 -134h0M-51 -156h0M-71 -162h0"/>
<path id="p20_7" vector-effect="non-scaling-stroke" d="M-52 -147h0M-126 -107h0M-82 -169h0M-132 -100h0M-78 -162h0M-99 -169h0M-120 -136h0M-96 -116h0M-106 -167h0M-121 -106h0M-71 -170h0M-90 -126h0M-67 -155h0M-121 -119h0M-62 -137h0M-83 -178h0M-76 -132h0M-129 -102h0M-99 -150h0"/>
<path id="p20_8" vector-effect="non-scaling-stroke" d="M-127 -107h0M-63 -169h0M-64 -126h0M-58 -182h0M-119 -160h0M-130 -117h0M-101 -122h0M-89 -168h0M-86 -151h0M-77 -137h0M-37 -164h0M-87 -162h0M-43 -151h0M-90 -173h0"/>
<path id="p20_9" vector-effect="non-scaling-stroke" d="M-65 -154h0M-118 -138h0M-49 -182h0M-111 -150h0M-109 -167h0M-57 -147h0M-109 -131h0M-40 -162h0M-58 -183h0M-136 -122h0M-109 -103h0M-39 -159h0M-130 -104h0M-57 -157h0M-82 -158h0"/>
<path id="p20_10" vector-effect="non-scaling-stroke" d="M-49 -165h0M-67 -177h0M-99 -154h0M-97 -153h0M-134 -138h0M-44 -139h0M-82 -162h0M-47 -169h0M-118 -107h0M-38 -158h0M-112 -137h0M-106 -128h0M-124 -141h0M-129 -136h0M-87 -120h0M-85 -135h0M-48 -165h0M-32 -165h0"/>
<path id="p20_11" vector-effect="non-scaling-stroke" d="M-133 -109h0M-107 -136h0M-64 -143h0M-80 -160h0M-45 -155h0M-115 -111h0M-124 -157h0M-72 -161h0M-93 -153h0M-110 -172h0M-56 -139h0M-69 -168h0M-53 -150h0M-106 -148h0M-43 -180h0M-97 -175h0"/>
<path id="p20_12" vector-effect="non-scaling-stroke" d="M-130 -124h0M-73 -140h0M-101 -124h0M-98 -153h0M-66 -126h0M-70 -142h0M-106 -161h0M-34 -144h0M-125 -150h0M-111 -160h0"/>
<path id="p20_13" vector-effect="non-scaling-stroke" d="M-110 -129h0M-117 -114h0M-41 -145h0M-59 -134h0M-32 -170h0M-75 -125h0M-111 -108h0M-114 -116h0M-131 -128h0M-78 -167h0M-57 -178h0M-92 -136h0M-129 -144h0M-125 -126h0M-123 -155h0M-107 -120h0M-79 -150h0M-66 -133h0M-95 -164h0M-115 -140h0M-74 -150h0"/>
<path id="p20_14" vector-effect="non-scaling-stroke" d="M-43 -175h0M-86 -181h0M-40 -140h0M-116 -152h0M-109 -148h0M-108 -159h0M-120 -128h0M-92 -170h0M-47 -141h0M-100 -158h0M-74 -153h0M-94 -182h0M-106 -152h0M-35 -151h0M-62 -161h0M-83 -166h0M-138 -116h0M-118 -127h0"/>
<path id="p20_15" vector-effect="non-scaling-stroke" d="M-84 -117h0M-115 -122h0M-64 -170h0M-84 -125h0M-91 -165h0M-132 -100h0M-109 -125h0M-129 -115h0M-115 -110h0M-80 -172h0M-137 -126h0M-54 -156h0M-132 -111h0M-103 -171h0M-40 -175h0"/>
<path id="p20_16" vector-effect="non-scaling-stroke" d="M-89 -177h0M-79 -137h0M-125 -131h0M-103 -122h0M-89 -142h0M-131 -136h0M-55 -154h0M-116 -109h0M-92 -129h0M-76 -167h0M-72 -174h0M-115 -136h0M-89 -157h0M-137 -116h0M-134 -134h0M-82 -163h0"/>
<path id="p20_17" vector-effect="non-scaling-stroke" d="M-69 -143h0M-104 -154h0M-34 -160h0M-68 -165h0M-44 -136h0M-78 -176h0M-123 -153h0M-104 -109h0M-88 -134h0M-129 -117h0M-54 -156h0M-134 -126h0M-101 -123h0M-81 -153h0M-141 -104h0M-123 -118h0M-125 -122h0M-134 -102h0M-140 -116h0"/>
<path id="p20_18" vector-effect="non-scaling-stroke" d="M-73 -146h0M-45 -142h0M-35 -160h0M-132 -142h0M-132 -130h0M-135 -119h0M-136 -134h0M-114 -135h0M-54 -156h0M-60 -131h0M-67 -142h0M-33 -165h0M-135 -136h0M-68 -144h0M-106 -122h0M-123 -104h0M-69 -146h0M-46 -175h0M-99 -118h0M-122 -146h0M-114 -162h0"/>
<path id="p20_19" vector-effect="non-scaling-stroke" d="M-127 -110h0M-110 -110h0M-53 -150h0M-136 -115h0M-92 -139h0M-66 -165h0M-94 -113h0M-75 -121h0M-77 -143h0M-125 -96h0M-129 -121h0M-81 -176h0M-104 -165h0M-98 -166h0M-119 -122h0M-38 -141h0M-60 -142h0"/>
</g>
<g id="R0"><use href="#p0_0"/><use href="#p1_0"/><use href="#p2_0"/><use href="#p3_0"/><use href="#p4_0"/><use href="#p5_0"/><use href="#p6_0"/><use href="#p7_0"/><use href="#p8_0"/><use href="#p9_0"/><use href="#p10_0"/><use href="#p11_0"/><use href="#p12_0"/><use href="#p13_0"/><use href="#p14_0"/><use href="#p15_0"/><use href="#p16_0"/><use href="#p17_0"/><use href="#p18_0"/><use href="#p19_0"/></g>
<g id="R1"><use href="#p0_1"/><use href="#p1_1"/><use href="#p2_1"/><use href="#p3_1"/><use href="#p4_1"/><use href="#p5_1"/><use href="#p6_1"/><use href="#p7_1"/><use href="#p8_1"/><use href="#p9_1"/><use href="#p10_1"/><use href="#p11_1"/><use href="#p12_1"/><use href="#p13_1"/><use href="#p14_1"/><use href="#p15_1"/><use href="#p16_1"/><use href="#p17_1"/><use href="#p18_1"/><use href="#p19_1"/></g>
<g id="R2"><use href="#p0_2"/><use href="#p1_2"/><use href="#p2_2"/><use href="#p3_2"/><use href="#p4_2"/><use href="#p5_2"/><use href="#p6_2"/><use href="#p7_2"/><use href="#p8_2"/><use href="#p9_2"/><use href="#p10_2"/><use href="#p11_2"/><use href="#p12_2"/><use href="#p13_2"/><use href="#p14_2"/><use href="#p15_2"/><use href="#p16_2"/><use href="#p17_2"/><use href="#p18_2"/><use href="#p19_2"/></g>
<g id="R3"><use href="#p0_3"/><use href="#p1_3"/><use href="#p2_3"/><use href="#p3_3"/><use href="#p4_3"/><use href="#p5_3"/><use href="#p6_3"/><use href="#p7_3"/><use href="#p8_3"/><use href="#p9_3"/><use href="#p10_3"/><use href="#p11_3"/><use href="#p12_3"/><use href="#p13_3"/><use href="#p14_3"/><use href="#p15_3"/><use href="#p16_3"/><use href="#p17_3"/><use href="#p18_3"/><use href="#p19_3"/></g>
<g id="R4"><use href="#p0_4"/><use href="#p1_4"/><use href="#p2_4"/><use href="#p3_4"/><use href="#p4_4"/><use href="#p5_4"/><use href="#p6_4"/><use href="#p7_4"/><use href="#p8_4"/><use href="#p9_4"/><use href="#p10_4"/><use href="#p11_4"/><use href="#p12_4"/><use href="#p13_4"/><use href="#p14_4"/><use href="#p15_4"/><use href="#p16_4"/><use href="#p17_4"/><use href="#p18_4"/><use href="#p19_4"/></g>
<g id="R5"><use href="#p0_5"/><use href="#p1_5"/><use href="#p2_5"/><use href="#p3_5"/><use href="#p4_5"/><use href="#p5_5"/><use href="#p6_5"/><use href="#p7_5"/><use href="#p8_5"/><use href="#p9_5"/><use href="#p10_5"/><use href="#p11_5"/><use href="#p12_5"/><use href="#p13_5"/><use href="#p14_5"/><use href="#p15_5"/><use href="#p16_5"/><use href="#p17_5"/><use href="#p18_5"/><use href="#p19_5"/></g>
<g id="R6"><use href="#p0_6"/><use href="#p1_6"/><use href="#p2_6"/><use href="#p3_6"/><use href="#p4_6"/><use href="#p5_6"/><use href="#p6_6"/><use href="#p7_6"/><use href="#p8_6"/><use href="#p9_6"/><use href="#p10_6"/><use href="#p11_6"/><use href="#p12_6"/><use href="#p13_6"/><use href="#p14_6"/><use href="#p15_6"/><use href="#p16_6"/><use href="#p17_6"/><use href="#p18_6"/><use href="#p19_6"/></g>
<g id="R7"><use href="#p0_7"/><use href="#p1_7"/><use href="#p2_7"/><use href="#p3_7"/><use href="#p4_7"/><use href="#p5_7"/><use href="#p6_7"/><use href="#p7_7"/><use href="#p8_7"/><use href="#p9_7"/><use href="#p10_7"/><use href="#p11_7"/><use href="#p12_7"/><use href="#p13_7"/><use href="#p14_7"/><use href="#p15_7"/><use href="#p16_7"/><use href="#p17_7"/><use href="#p18_7"/><use href="#p19_7"/></g>
<g id="R8"><use href="#p0_8"/><use href="#p1_8"/><use href="#p2_8"/><use href="#p3_8"/><use href="#p4_8"/><use href="#p5_8"/><use href="#p6_8"/><use href="#p7_8"/><use href="#p8_8"/><use href="#p9_8"/><use href="#p10_8"/><use href="#p11_8"/><use href="#p12_8"/><use href="#p13_8"/><use href="#p14_8"/><use href="#p15_8"/><use href="#p16_8"/><use href="#p17_8"/><use href="#p18_8"/><use href="#p19_8"/></g>
<g id="R9"><use href="#p0_9"/><use href="#p1_9"/><use href="#p2_9"/><use href="#p3_9"/><use href="#p4_9"/><use href="#p5_9"/><use href="#p6_9"/><use href="#p7_9"/><use href="#p8_9"/><use href="#p9_9"/><use href="#p10_9"/><use href="#p11_9"/><use href="#p12_9"/><use href="#p13_9"/><use href="#p14_9"/><use href="#p15_9"/><use href="#p16_9"/><use href="#p17_9"/><use href="#p18_9"/><use href="#p19_9"/></g>
<g id="R10"><use href="#p0_10"/><use href="#p1_10"/><use href="#p2_10"/><use href="#p4_10"/><use href="#p5_10"/><use href="#p6_10"/><use href="#p7_10"/><use href="#p8_10"/><use href="#p9_10"/><use href="#p10_10"/><use href="#p11_10"/><use href="#p12_10"/><use href="#p13_10"/><use href="#p14_10"/><use href="#p15_10"/><use href="#p16_10"/><use href="#p17_10"/><use href="#p18_10"/><use href="#p19_10"/></g>
<g id="R11"><use href="#p0_11"/><use href="#p1_11"/><use href="#p2_11"/><use href="#p3_11"/><use href="#p4_11"/><use href="#p5_11"/><use href="#p6_11"/><use href="#p7_11"/><use href="#p8_11"/><use href="#p9_11"/><use href="#p10_11"/><use href="#p11_11"/><use href="#p12_11"/><use href="#p13_11"/><use href="#p14_11"/><use href="#p15_11"/><use href="#p16_11"/><use href="#p17_11"/><use href="#p18_11"/><use href="#p19_11"/></g>
<g id="R12"><use href="#p0_12"/><use href="#p1_12"/><use href="#p2_12"/><use href="#p3_12"/><use href="#p4_12"/><use href="#p5_12"/><use href="#p6_12"/><use href="#p7_12"/><use href="#p8_12"/><use href="#p9_12"/><use href="#p10_12"/><use href="#p11_12"/><use href="#p12_12"/><use href="#p13_12"/><use href="#p14_12"/><use href="#p15_12"/><use href="#p16_12"/><use href="#p17_12"/><use href="#p18_12"/><use href="#p19_12"/></g>
<g id="R13"><use href="#p0_13"/><use href="#p1_13"/><use href="#p2_13"/><use href="#p3_13"/><use href="#p4_13"/><use href="#p5_13"/><use href="#p6_13"/><use href="#p7_13"/><use href="#p8_13"/><use href="#p9_13"/><use href="#p10_13"/><use href="#p11_13"/><use href="#p12_13"/><use href="#p13_13"/><use href="#p14_13"/><use href="#p15_13"/><use href="#p16_13"/><use href="#p17_13"/><use href="#p18_13"/><use href="#p19_13"/></g>
<g id="R14"><use href="#p0_14"/><use href="#p1_14"/><use href="#p2_14"/><use href="#p3_14"/><use href="#p4_14"/><use href="#p5_14"/><use href="#p6_14"/><use href="#p7_14"/><use href="#p8_14"/><use href="#p9_14"/><use href="#p10_14"/><use href="#p11_14"/><use href="#p12_14"/><use href="#p13_14"/><use href="#p14_14"/><use href="#p15_14"/><use href="#p16_14"/><use href="#p17_14"/><use href="#p18_14"/><use href="#p19_14"/></g>
<g id="R15"><use href="#p0_15"/><use href="#p1_15"/><use href="#p2_15"/><use href="#p3_15"/><use href="#p4_15"/><use href="#p5_15"/><use href="#p6_15"/><use href="#p7_15"/><use href="#p8_15"/><use href="#p9_15"/><use href="#p10_15"/><use href="#p11_15"/><use href="#p12_15"/><use href="#p13_15"/><use href="#p14_15"/><use href="#p15_15"/><use href="#p16_15"/><use href="#p17_15"/><use href="#p18_15"/><use href="#p19_15"/></g>
<g id="R16"><use href="#p0_16"/><use href="#p1_16"/><use href="#p2_16"/><use href="#p3_16"/><use href="#p4_16"/><use href="#p5_16"/><use href="#p6_16"/><use href="#p7_16"/><use href="#p8_16"/><use href="#p9_16"/><use href="#p10_16"/><use href="#p11_16"/><use href="#p12_16"/><use href="#p13_16"/><use href="#p14_16"/><use href="#p15_16"/><use href="#p16_16"/><use href="#p17_16"/><use href="#p18_16"/><use href="#p19_16"/></g>
<g id="R17"><use href="#p0_17"/><use href="#p1_17"/><use href="#p2_17"/><use href="#p3_17"/><use href="#p4_17"/><use href="#p5_17"/><use href="#p6_17"/><use href="#p7_17"/><use href="#p8_17"/><use href="#p9_17"/><use href="#p10_17"/><use href="#p11_17"/><use href="#p12_17"/><use href="#p13_17"/><use href="#p14_17"/><use href="#p15_17"/><use href="#p16_17"/><use href="#p17_17"/><use href="#p18_17"/><use href="#p19_17"/></g>
<g id="R18"><use href="#p0_18"/><use href="#p1_18"/><use href="#p2_18"/><use href="#p3_18"/><use href="#p4_18"/><use href="#p5_18"/><use href="#p6_18"/><use href="#p7_18"/><use href="#p8_18"/><use href="#p9_18"/><use href="#p10_18"/><use href="#p11_18"/><use href="#p12_18"/><use href="#p13_18"/><use href="#p14_18"/><use href="#p15_18"/><use href="#p16_18"/><use href="#p17_18"/><use href="#p18_18"/><use href="#p19_18"/></g>
<g id="R19"><use href="#p0_19"/><use href="#p1_19"/><use href="#p2_19"/><use href="#p3_19"/><use href="#p4_19"/><use href="#p5_19"/><use href="#p6_19"/><use href="#p7_19"/><use href="#p8_19"/><use href="#p9_19"/><use href="#p10_19"/><use href="#p11_19"/><use href="#p12_19"/><use href="#p13_19"/><use href="#p14_19"/><use href="#p15_19"/><use href="#p16_19"/><use href="#p17_19"/><use href="#p18_19"/><use href="#p19_19"/></g>
</defs>
<defs>
<path id="hf" vector-effect="non-scaling-stroke" d="M165 57h0M150 64h0M-9 66h0M-3 96h0M-170 51h0M95 93h0M113 9h0M59 -49h0M35 -38h0M89 -39h0M-129 -1h0M-53 -82h0M-4 11h0M-54 -40h0M-30 70h0M35 126h0M-58 39h0M-1 51h0M169 36h0M-175 1h0M-170 41h0M-130 97h0M157 -23h0M-38 -13h0M58 -9h0M70 53h0M-91 34h0M178 22h0M201 61h0M-30 -114h0M48 -126h0M-92 35h0M81 56h0M165 34h0M58 43h0M-92 19h0M29 -34h0M-133 -39h0M37 26h0M93 -67h0M54 -81h0M149 73h0M56 -27h0M88 -99h0M24 -106h0M-141 -25h0M151 -15h0M200 65h0M133 34h0M37 -18h0M40 22h0M8 -15h0M52 -51h0M-6 28h0M-111 -33h0M15 39h0M139 47h0M-120 1h0M-100 -42h0M-102 -69h0M24 7h0M76 49h0M125 -25h0M-52 -16h0M-13 -19h0M42 86h0M108 5h0M-107 73h0M-116 -79h0M70 105h0M84 -78h0M-152 -51h0M-65 129h0M-110 -74h0M-158 23h0M122 81h0M-102 -14h0M106 118h0M-7 -86h0M-145 27h0M-56 68h0M96 57h0M-43 -101h0M-39 25h0M-96 3h0M156 37h0M15 123h0M47 -85h0M125 82h0M-151 -34h0M-32 -19h0M55 -54h0M-31 -54h0M-32 -32h0M44 -28h0M-18 -22h0M114 84h0M110 -53h0M-59 23h0M28 -67h0M-105 -31h0M-92 106h0M-80 89h0M109 97h0M55 19h0M24 -18h0M-63 134h0M43 55h0M-136 119h0M149 -24h0M-138 -71h0M134 43h0M112 -35h0M-104 -21h0M-74 -67h0M23 81h0M-27 45h0M160 61h0M174 29h0M151 -18h0M184 84h0M89 -56h0M-4 -88h0M-90 -54h0M176 46h0M72 94h0M-9 122h0M2 -101h0M10 107h0M32 43h0M181 23h0M-71 19h0M-150 106h0M-159 78h0M-18 103h0M93 -48h0M-132 125h0M4 97h0M13 50h0M44 85h0M53 -57h0M-15 -87h0M54 126h0M28 -106h0M38 -133h0M63 55h0M-105 87h0M-50 60h0M-133 11h0M-68 108h0M189 11h0M123 -16h0M-111 118h0M-83 -39h0M134 94h0M-135 -20h0M132 -19h0M40 -25h0M16 108h0M-50 -55h0M45 -27h0M-20 123h0M95 10h0M-74 114h0M207 70h0M-198 13h0M196 91h0M-28 78h0M-1 -111h0M69 25h0M48 132h0M-126 -66h0M97 -94h0M82 14h0M-150 48h0M54 -70h0M-73 -24h0M54 -109h0M101 49h0M182 49h0M22 58h0M-9 -37h0M127 38h0M93 -3h0M-31 -73h0M-48 35h0M168 50h0M120 115h0M-74 90h0M-5 9h0M15 -105h0M-90 -54h0M-172 55h0M130 49h0M72 105h0M-147 109h0M158 37h0M-102 101h0M59 -74h0M-48 46h0M6 -44h0M-14 77h0M81 -87h0M4 -37h0M175 96h0M-11 1h0M42 17h0M104 -42h0M65 -30h0M-7 0h0M-81 61h0M15 -57h0M2 -70h0M-17 -60h0M-32 -36h0M40 -148h0M90 -112h0M54 129h0M-64 -6h0M-65 128h0M-87 -89h0M-171 55h0M165 73h0M180 25h0M-31 -14h0M99 126h0M169 53h0M-55 95h0M-115 111h0M114 -58h0M171 92h0M28 -18h0M72 -123h0M19 56h0M102 -76h0M67 35h0M-77 37h0M-172 40h0M44 33h0M169 36h0M104 -51h0M11 -66h0M-31 122h0M185 21h0M-146 83h0M182 21h0M39 -107h0M-135 47h0M-107 -17h0M-173 30h0M-59 -75h0M-133 62h0M-49 -82h0M49 1h0M8 75h0M45 -44h0M179 32h0M165 18h0M-130 37h0M60 68h0M-133 1h0M51 -128h0M49 -103h0M3 24h0M190 24h0M-33 1h0M178 46h0M77 -27h0M-110 12h0M3 -47h0M-45 46h0M96 96h0M-51 -2h0M108 62h0M164 78h0M-16 -52h0M78 -79h0M-131 10h0M175 74h0M-32 10h0M89 -2h0M3 -50h0M86 130h0M-154 -19h0M-49 3h0M34 -24h0M-7 -72h0M-35 -69h0M-101 -33h0M27 -77h0M72 -92h0M31 46h0M45 -64h0M1 -3h0M76 -6h0M151 89h0M74 -118h0M140 91h0M141 114h0M127 75h0M19 -36h0M27 -82h0M46 24h0M38 22h0M-120 -27h0M5 -51h0M58 -30h0M-145 -7h0M-10 65h0M67 76h0M-49 -87h0M-63 -81h0M79 131h0M199 29h0M193 57h0M-30 -16h0M-8 10h0M34 -57h0M-15 -69h0M-55 -32h0M109 30h0M-41 -93h0M87 -37h0M36 46h0M165 63h0M-117 125h0M57 -48h0M92 121h0M80 -89h0M34 -75h0M-83 44h0M-30 39h0M-84 -64h0M54 -26h0M-5 113h0M-100 -19h0M-205 9h0M7 66h0M-130 78h0M-95 -39h0M-137 -22h0M68 -142h0M32 -139h0M-97 99h0M48 -87h0M-42 -6h0M-109 73h0M-106 141h0M-202 6h0M92 121h0M43 -55h0M30 -154h0M60 -140h0M-46 37h0M-115 17h0M140 111h0M-153 48h0M-156 -4h0M-51 -95h0M84 -100h0M-87 12h0M108 71h0M68 -72h0M-112 43h0M-49 -109h0M31 86h0M12 -3h0M72 44h0M-78 98h0M31 9h0M71 -140h0M78 -95h0M-105 19h0M87 -9h0M68 -55h0M8 -31h0M55 -51h0M-11 114h0M-103 100h0M24 -82h0M-44 -163h0M-87 -120h0M-116 -152h0M-72 -174h0M-94 -182h0M-89 -157h0M-68 -128h0M-129 -144h0M-114 -135h0M-99 -169h0M-87 -162h0M-122 -146h0M-126 -107h0M-121 -106h0M-73 -130h0M-73 -146h0M-132 -142h0M-108 -127h0M-109 -148h0M-98 -172h0M-89 -177h0M-101 -122h0M-124 -157h0M-118 -107h0M-106 -167h0M-76 -146h0M-129 -132h0M-100 -118h0M-134 -134h0M-78 -120h0M-46 -175h0M-115 -140h0M-78 -167h0M-52 -156h0M-57 -161h0M-53 -150h0M-120 -134h0M-97 -175h0M-112 -137h0M-111 -160h0M-80 -160h0M-103 -171h0M-120 -136h0M-125 -134h0M-52 -179h0"/>
<path id="hg" vector-effect="non-scaling-stroke" d="M-84 -64h0M-175 5h0M23 -46h0M-86 24h0M52 -24h0M47 37h0M44 118h0M124 -36h0M-44 89h0M91 111h0M76 -54h0M-75 -75h0M9 -9h0M92 13h0M67 7h0M73 112h0M-31 2h0M-155 11h0M-105 141h0M46 115h0M46 125h0M16 19h0M38 62h0M-121 94h0M-144 20h0M-65 88h0M-17 106h0M68 -72h0M113 -48h0M15 118h0M187 101h0M-136 -68h0M-53 -13h0M49 68h0M-10 -16h0M165 51h0M-33 111h0M85 -47h0M121 20h0M-119 -23h0M40 -127h0M-7 102h0M29 38h0M89 120h0M80 92h0M-147 14h0M-83 -39h0M89 131h0M-39 79h0M187 87h0M18 -42h0M5 -32h0M-88 113h0M-66 -73h0M-78 -69h0M50 -108h0M84 -29h0M-47 -26h0M-73 -47h0M-15 -17h0M77 -106h0M-98 -38h0M95 126h0M157 26h0M-112 -11h0M163 44h0M-68 104h0M-31 122h0M-3 -39h0M2 23h0M-68 5h0M-141 56h0M93 7h0M-79 72h0M90 1h0M206 43h0M17 -14h0M-135 21h0M-117 24h0M121 0h0M160 20h0M-126 45h0M-122 -72h0M119 1h0M47 120h0M-80 89h0M-132 114h0M186 72h0M17 -5h0M56 -67h0M-44 90h0M93 115h0M46 -102h0M-7 -70h0M153 93h0M65 106h0M-62 100h0M-17 -17h0M116 61h0M-146 -56h0M-92 102h0M40 -47h0M-77 126h0M-52 89h0M107 -10h0M-84 -68h0M-87 12h0M77 -53h0M-24 17h0M-31 1h0M-14 -94h0M39 -67h0M-173 -1h0M-89 -9h0M-155 85h0M54 -144h0M108 71h0M-105 -31h0M202 15h0M123 40h0M-84 -21h0M-131 4h0M-150 69h0M-118 28h0M161 70h0M-138 46h0M75 -8h0M45 -105h0M128 -47h0M44 -102h0M-36 64h0M27 -77h0M121 108h0M-66 137h0M-154 13h0M127 -49h0M-64 -2h0M-3 96h0M17 -13h0M61 -119h0M1 -59h0M-116 12h0M72 11h0M-6 -73h0M-19 89h0M-57 26h0M184 60h0M-134 100h0M8 75h0M-64 -71h0M-35 -145h0M-124 -115h0M-50 -137h0M-118 -157h0M-126 -114h0M-127 -134h0M-137 -126h0M-101 -122h0M-95 -164h0M-115 -136h0M-36 -155h0M-136 -115h0M-50 -147h0M-57 -161h0M-89 -168h0M-79 -150h0M-123 -152h0M-98 -166h0M-140 -116h0M-70 -142h0M-104 -154h0M-130 -124h0M-106 -167h0M-32 -169h0M-59 -134h0M-99 -154h0M-75 -121h0M-74 -153h0M-82 -169h0M-58 -183h0M-115 -110h0M-43 -175h0M-125 -150h0M-82 -162h0M-32 -170h0M-119 -130h0M-129 -102h0M-124 -141h0M-78 -167h0M-82 -179h0M-68 -165h0M-81 -153h0M-125 -131h0M-65 -181h0M-103 -136h0M-76 -146h0M-83 -164h0M-99 -118h0M-54 -156h0M-126 -115h0M-54 -156h0M-120 -136h0M-86 -181h0M-76 -162h0M-77 -143h0M-109 -148h0M-58 -130h0M-118 -111h0M-106 -148h0M-111 -150h0M-54 -129h0M-116 -152h0M-101 -120h0M-87 -162h0M-81 -176h0M-51 -156h0M-55 -128h0M-92 -170h0M-116 -152h0M-132 -100h0M-101 -123h0M-40 -175h0M-133 -108h0M-106 -161h0M-119 -121h0M-41 -154h0M-66 -126h0M-119 -160h0M-55 -154h0M-130 -117h0M-107 -143h0M-46 -175h0M-114 -125h0M-52 -149h0M-84 -117h0M-96 -163h0M-126 -107h0M-133 -109h0M-78 -162h0M-73 -130h0M-128 -129h0M-89 -177h0M-90 -173h0M-101 -126h0M-76 -132h0M-49 -182h0M-125 -134h0M-137 -116h0M-132 -142h0M-82 -179h0M-28 -152h0M-129 -121h0M-72 -174h0M-135 -119h0M-55 -130h0M-62 -161h0M-55 -126h0M-131 -136h0M-131 -128h0M-125 -96h0M-84 -125h0M-100 -118h0M-47 -175h0M-53 -150h0M-109 -125h0M-109 -103h0M-127 -110h0M-35 -151h0M-50 -143h0M-37 -164h0M-49 -165h0M-126 -137h0M-106 -122h0M-49 -157h0M-97 -175h0M-94 -182h0M-39 -159h0M-123 -118h0M-136 -134h0M-108 -159h0"/>
<path id="hh" vector-effect="non-scaling-stroke" d="M17 41h0M69 31h0M87 126h0M-4 113h0M97 -45h0M-158 -21h0M62 -1h0M-135 -5h0M79 -49h0M160 41h0M6 62h0M46 115h0M-114 137h0M57 63h0M181 23h0M-169 79h0M-52 55h0M-49 -84h0M84 9h0M77 -53h0M74 16h0M-100 -60h0M31 49h0M34 -57h0M71 14h0M114 73h0M148 95h0M8 -48h0M65 -26h0M67 87h0M62 -94h0M-111 88h0M112 62h0M-163 67h0M-50 39h0M-39 -54h0M-49 -104h0M-77 112h0M18 50h0M-179 -2h0M192 23h0M201 59h0M144 85h0M21 -59h0M137 114h0M33 -154h0M-113 -6h0M31 15h0M2 18h0M-33 110h0M-6 -4h0M-60 129h0M105 107h0M-33 74h0M-87 -76h0M66 27h0M-55 -32h0M-80 103h0M202 85h0M172 49h0M-5 59h0M9 93h0M-21 -80h0M-171 55h0M53 -128h0M45 102h0M49 105h0M126 -26h0M29 -82h0M20 -11h0M54 -26h0M-27 -74h0M146 -23h0M116 101h0M-67 96h0M102 13h0M153 74h0M-20 122h0M-143 36h0M141 111h0M47 -28h0M-122 -48h0M-166 27h0M197 70h0M29 97h0M76 -113h0M140 4h0M-146 -26h0M6 -44h0M45 50h0M-24 17h0M110 -24h0M168 50h0M86 25h0M-126 -36h0M120 115h0M88 93h0M141 51h0M163 101h0M96 -36h0M81 -98h0M43 -68h0M142 78h0M121 20h0M44 -133h0M-124 11h0M80 33h0M-158 93h0M16 19h0M-34 112h0M82 74h0M72 114h0M-153 -40h0M178 71h0M47 130h0M126 85h0M104 62h0M178 57h0M-86 8h0M-181 6h0M14 -101h0M41 -108h0M101 55h0M-35 130h0M-144 97h0M-131 4h0M132 108h0M135 -17h0M-89 57h0M81 127h0M-33 75h0M101 40h0M48 81h0M-67 -74h0M75 -1h0M67 -29h0M3 45h0M80 92h0M-85 8h0M-148 -12h0M-38 46h0M-7 -99h0M136 62h0M19 -36h0M67 35h0M57 -15h0M3 -47h0M153 72h0M89 131h0M-115 17h0M94 29h0M-85 4h0M-94 18h0M34 -75h0M-30 93h0M71 -90h0M64 -17h0M70 -67h0M-13 102h0M-40 101h0M170 50h0M-121 98h0M-201 -4h0M62 -139h0M-123 103h0M161 -12h0M150 99h0M122 81h0M62 134h0M119 -5h0M-46 -7h0M-109 56h0M-71 19h0M-42 -13h0M16 21h0M93 18h0M-24 79h0M-2 87h0M-155 11h0M-19 -36h0M46 -92h0M78 -133h0M-94 54h0M-134 84h0M-36 -23h0M48 -20h0M-93 -26h0M-122 -21h0M-12 -10h0M55 48h0M80 50h0M-196 10h0M-168 78h0M16 -1h0M62 68h0M57 -48h0M-123 107h0M163 17h0M-124 -14h0M-104 -46h0M-65 126h0M36 -45h0M-10 -69h0M-106 113h0M6 15h0M92 121h0M-113 81h0M73 -115h0M149 37h0M-1 51h0M-3 -34h0M22 -50h0M17 112h0M125 -36h0M-116 60h0M97 25h0M12 -64h0M-99 5h0M191 35h0M154 86h0M62 51h0M-111 -65h0M114 84h0M6 -30h0M-105 19h0M161 102h0M175 96h0M-56 116h0M-74 -78h0M185 54h0M106 58h0M4 118h0M27 125h0M65 -87h0M-112 96h0M-49 81h0M-53 -91h0M61 119h0M10 32h0M-30 -87h0M151 -28h0M12 -111h0M-41 -22h0M-65 -90h0M-94 -54h0M47 53h0M-107 -68h0M61 108h0M-6 -101h0M10 48h0M-58 -132h0M-81 -141h0M-138 -116h0M-47 -169h0M-123 -104h0M-34 -144h0M-56 -177h0M-103 -122h0M-109 -167h0M-114 -162h0M-118 -138h0M-89 -142h0M-76 -132h0M-85 -118h0M-136 -115h0M-99 -169h0M-37 -164h0M-132 -142h0M-82 -158h0M-64 -162h0M-66 -171h0M-101 -158h0M-98 -172h0M-34 -160h0M-99 -154h0M-58 -130h0M-94 -182h0M-80 -172h0M-32 -170h0M-100 -158h0M-123 -155h0M-46 -175h0M-111 -150h0M-60 -131h0M-47 -165h0M-38 -158h0M-79 -150h0M-99 -150h0M-112 -137h0M-130 -124h0M-125 -134h0M-129 -144h0M-106 -167h0M-57 -161h0M-101 -126h0M-121 -106h0M-137 -131h0M-73 -140h0M-93 -153h0M-92 -136h0M-67 -158h0M-136 -134h0M-107 -143h0M-82 -179h0M-120 -136h0M-67 -126h0M-47 -141h0M-123 -153h0M-140 -116h0M-80 -160h0M-98 -153h0M-103 -171h0M-129 -115h0M-64 -126h0M-67 -155h0M-106 -142h0M-77 -143h0M-97 -144h0M-52 -156h0M-106 -152h0M-52 -149h0M-104 -154h0M-111 -132h0M-93 -178h0M-78 -162h0M-125 -150h0M-124 -141h0M-54 -156h0M-125 -122h0M-92 -129h0M-115 -140h0M-79 -131h0M-44 -139h0M-62 -178h0M-38 -141h0M-116 -109h0M-106 -112h0M-118 -111h0M-127 -110h0M-75 -125h0M-62 -123h0M-101 -122h0M-119 -160h0M-60 -142h0M-115 -111h0M-122 -146h0M-61 -162h0M-134 -131h0M-90 -173h0M-113 -157h0"/>
<path id="hi" vector-effect="non-scaling-stroke" d="M14 41h0M-149 -30h0M-49 93h0M96 -36h0M-10 -67h0M97 60h0M-169 51h0M-42 -53h0M-176 43h0M147 -8h0M72 11h0M9 93h0M-154 -36h0M-23 -31h0M105 -55h0M-88 -22h0M183 39h0M211 37h0M-101 17h0M-9 122h0M-4 -96h0M96 23h0M14 78h0M-71 -64h0M35 126h0M-196 10h0M-19 89h0M12 33h0M65 106h0M111 -12h0M-153 -60h0M64 -109h0M196 91h0M51 49h0M-11 -14h0M49 89h0M23 74h0M152 -28h0M-2 87h0M62 -52h0M-113 -47h0M189 53h0M-74 -10h0M-60 22h0M40 -25h0M-9 99h0M78 -80h0M-33 93h0M84 9h0M112 81h0M-116 20h0M-50 39h0M-172 44h0M69 -140h0M-136 55h0M44 -135h0M61 -119h0M140 102h0M-85 113h0M-140 32h0M5 41h0M123 -56h0M-106 -21h0M63 -95h0M47 53h0M24 -82h0M192 23h0M-108 -35h0M-59 -87h0M35 45h0M196 85h0M-142 21h0M-49 -87h0M13 -46h0M-3 107h0M59 -49h0M102 13h0M-177 5h0M20 47h0M120 77h0M105 107h0M-51 41h0M4 77h0M-104 -21h0M-71 19h0M-34 -23h0M-89 -52h0M16 19h0M125 -46h0M52 61h0M34 -142h0M-120 -27h0M128 87h0M23 81h0M-111 -33h0M206 46h0M145 -17h0M4 -30h0M-105 115h0M-15 -14h0M142 -20h0M40 -63h0M-46 -7h0M-195 0h0M-8 -2h0M-28 29h0M-36 14h0M-29 3h0M-139 94h0M-100 116h0M21 23h0M-8 72h0M153 74h0M-52 101h0M88 -60h0M-111 -85h0M171 92h0M62 134h0M145 23h0M-92 67h0M-102 11h0M-64 -59h0M44 -102h0M124 -36h0M-45 46h0M72 73h0M199 42h0M40 -23h0M156 10h0M-205 9h0M0 -103h0M-15 75h0M-47 -25h0M85 -47h0M14 -42h0M-137 -6h0M10 48h0M70 63h0M133 -20h0M-91 -14h0M74 -36h0M-110 14h0M18 -84h0M33 99h0M-144 -31h0M55 -42h0M-124 39h0M-8 -15h0M104 34h0M-38 46h0M-97 29h0M-78 -34h0M191 16h0M-45 35h0M51 -143h0M-80 -22h0M78 -133h0M11 -95h0M29 61h0M65 132h0M62 126h0M49 1h0M73 112h0M-54 -38h0M120 -45h0M146 8h0M-202 -4h0M129 -5h0M-189 11h0M20 -85h0M96 43h0M25 92h0M-154 13h0M-96 14h0M27 -82h0M-67 131h0M27 -37h0M89 120h0M-97 140h0M-89 57h0M117 -10h0M131 14h0M125 41h0M-160 67h0M-119 19h0M-75 25h0M12 125h0M22 127h0M6 -44h0M-115 42h0M11 93h0M54 -26h0M191 35h0M126 85h0M104 78h0M106 79h0M74 -127h0M-15 -87h0M-136 -68h0M70 -110h0M-185 14h0M-104 38h0M31 -105h0M137 108h0M39 61h0M-42 -98h0M201 61h0M16 43h0M108 -73h0M53 -104h0M21 -59h0M123 97h0M-111 108h0M-121 128h0M154 104h0M8 2h0M183 67h0M-51 35h0M101 59h0M-27 -22h0M-65 88h0M20 -93h0M75 -25h0M197 64h0M169 85h0M126 90h0M30 -114h0M23 42h0M-49 -109h0M57 77h0M-69 -63h0M82 74h0M32 -30h0M-127 -76h0M73 -35h0M-91 -43h0M-132 103h0M48 -138h0M-173 63h0M-77 37h0M165 103h0M-77 30h0M75 80h0M-146 45h0M-22 34h0M48 119h0M44 -1h0M11 71h0M22 -46h0M125 -42h0M141 51h0M-48 6h0M94 54h0M146 12h0M57 -1h0M-122 -21h0M20 27h0M-65 129h0M-131 -51h0M182 59h0M-81 -153h0M-84 -117h0M-79 -147h0M-131 -128h0M-75 -121h0M-95 -164h0M-109 -167h0M-66 -171h0M-56 -139h0M-101 -119h0M-129 -115h0M-62 -137h0M-54 -156h0M-40 -140h0M-41 -145h0M-48 -165h0M-78 -176h0M-70 -142h0M-98 -153h0M-54 -156h0M-81 -176h0M-87 -162h0M-57 -157h0M-115 -122h0M-98 -172h0M-118 -111h0M-106 -161h0M-33 -165h0M-124 -115h0M-79 -152h0M-89 -177h0M-94 -113h0M-32 -169h0M-140 -116h0M-118 -157h0M-93 -153h0M-116 -152h0M-137 -131h0M-84 -125h0M-57 -147h0M-34 -144h0M-82 -179h0M-43 -175h0M-96 -116h0M-125 -126h0M-109 -125h0M-45 -155h0M-85 -135h0M-127 -107h0M-61 -162h0M-120 -136h0M-115 -136h0M-126 -137h0M-65 -181h0M-92 -136h0M-123 -104h0M-66 -133h0M-60 -142h0M-136 -115h0M-106 -112h0M-35 -151h0M-39 -159h0M-32 -170h0M-132 -130h0M-82 -170h0M-136 -112h0M-66 -126h0M-76 -146h0M-101 -126h0M-125 -96h0M-97 -153h0M-101 -120h0M-77 -143h0M-40 -162h0M-103 -122h0M-79 -131h0M-111 -108h0M-55 -128h0M-75 -125h0M-130 -103h0"/>
</defs>
<text x="185.60" y="26.80" font-size="12.5" font-weight="bold">c</text>
<text x="273.00" y="28.10" font-size="9" text-anchor="middle" textLength="68" lengthAdjust="spacingAndGlyphs">mtDNA coverage</text>
<g transform="matrix(0.22750 0 0 -0.29750 273.9 85.9)" fill="none" stroke-width="1.45" stroke-linecap="round" vector-effect="non-scaling-stroke">
<use href="#R0" stroke="#f45c3c"/>
<use href="#R1" stroke="#f26444"/>
<use href="#R2" stroke="#f55a38"/>
<use href="#R3" stroke="#f0684a"/>
<use href="#R4" stroke="#f45e40"/>
<use href="#R5" stroke="#f36a4c"/>
<use href="#R6" stroke="#f26040"/>
<use href="#R7" stroke="#f48c74"/>
<use href="#R8" stroke="#f6b0a0"/>
<use href="#R9" stroke="#f47a60"/>
<use href="#R10" stroke="#f45c3c"/>
<use href="#R11" stroke="#f26444"/>
<use href="#R12" stroke="#f55a38"/>
<use href="#R13" stroke="#f0684a"/>
<use href="#R14" stroke="#f45e40"/>
<use href="#R15" stroke="#f5a090"/>
<use href="#R16" stroke="#f26040"/>
<use href="#R17" stroke="#f48c74"/>
<use href="#R18" stroke="#f4b8b0"/>
<use href="#R19" stroke="#c4b4ee"/>
<use href="#p20_0" stroke="#a8a4f4"/>
<use href="#p20_1" stroke="#9c98f0"/>
<use href="#p20_2" stroke="#b4a8ec"/>
<use href="#p20_3" stroke="#8c8cf0"/>
<use href="#p20_4" stroke="#c0b0e8"/>
<use href="#p20_5" stroke="#7878f0"/>
<use href="#p20_6" stroke="#a0a0f4"/>
<use href="#p20_7" stroke="#f4a8a0"/>
<use href="#p20_8" stroke="#e8b4c0"/>
<use href="#p20_9" stroke="#f0a098"/>
<use href="#p20_10" stroke="#a8a4f4"/>
<use href="#p20_11" stroke="#9c98f0"/>
<use href="#p20_12" stroke="#b4a8ec"/>
<use href="#p20_13" stroke="#8c8cf0"/>
<use href="#p20_14" stroke="#c0b0e8"/>
<use href="#p20_15" stroke="#7878f0"/>
<use href="#p20_16" stroke="#a0a0f4"/>
<use href="#p20_17" stroke="#f4a8a0"/>
<use href="#p20_18" stroke="#d8c0e0"/>
<use href="#p20_19" stroke="#b0a0f0"/>
</g>
<path d="M240.14 113.27C241.08 110.91 244.43 111.29 246.24 111.84C248.04 112.40 248.18 114.94 250.97 116.60C253.76 118.27 259.92 119.78 262.98 121.84C266.04 123.90 268.20 126.48 269.35 128.98C270.50 131.48 270.68 134.65 269.90 136.83C269.11 139.01 267.56 141.04 264.62 142.07C261.68 143.10 255.50 143.91 252.24 143.02C248.98 142.13 246.99 139.55 245.05 136.71C243.11 133.88 241.41 129.91 240.59 126.00C239.78 122.10 239.20 115.63 240.14 113.27Z" fill="none" stroke="#f0962e" stroke-width="1.2"/>
<line x1="213.40" y1="32.70" x2="213.40" y2="150.90" stroke="#555" stroke-width="0.6"/>
<line x1="213.40" y1="150.90" x2="333.40" y2="150.90" stroke="#555" stroke-width="0.6"/>
<line x1="219.30" y1="150.90" x2="219.30" y2="152.70" stroke="#555" stroke-width="0.5"/>
<text x="219.30" y="160.50" font-size="6.2" text-anchor="middle" fill="#333">-6</text>
<line x1="246.60" y1="150.90" x2="246.60" y2="152.70" stroke="#555" stroke-width="0.5"/>
<text x="246.60" y="160.50" font-size="6.2" text-anchor="middle" fill="#333">-3</text>
<line x1="273.90" y1="150.90" x2="273.90" y2="152.70" stroke="#555" stroke-width="0.5"/>
<text x="273.90" y="160.50" font-size="6.2" text-anchor="middle" fill="#333">0</text>
<line x1="301.20" y1="150.90" x2="301.20" y2="152.70" stroke="#555" stroke-width="0.5"/>
<text x="301.20" y="160.50" font-size="6.2" text-anchor="middle" fill="#333">3</text>
<line x1="328.50" y1="150.90" x2="328.50" y2="152.70" stroke="#555" stroke-width="0.5"/>
<text x="328.50" y="160.50" font-size="6.2" text-anchor="middle" fill="#333">6</text>
<line x1="211.60" y1="56.15" x2="213.40" y2="56.15" stroke="#555" stroke-width="0.5"/>
<text x="209.40" y="58.35" font-size="6.2" text-anchor="end" fill="#333">2.5</text>
<line x1="211.60" y1="85.90" x2="213.40" y2="85.90" stroke="#555" stroke-width="0.5"/>
<text x="209.40" y="88.10" font-size="6.2" text-anchor="end" fill="#333">0</text>
<line x1="211.60" y1="115.65" x2="213.40" y2="115.65" stroke="#555" stroke-width="0.5"/>
<text x="209.40" y="117.85" font-size="6.2" text-anchor="end" fill="#333">-2.5</text>
<line x1="211.60" y1="145.40" x2="213.40" y2="145.40" stroke="#555" stroke-width="0.5"/>
<text x="209.40" y="147.60" font-size="6.2" text-anchor="end" fill="#333">-5.0</text>
<text x="271.00" y="170.90" font-size="7.0" text-anchor="middle" fill="#222">UMAP Dim 1</text>
<text transform="translate(193.10,92.20) rotate(-90)" font-size="7.0" text-anchor="middle" fill="#222">UMAP Dim 2</text>
<defs><linearGradient id="cg" x1="0" x2="0" y1="0" y2="1"><stop offset="0" stop-color="#ff2010"/><stop offset="0.5" stop-color="#e8d8e0"/><stop offset="1" stop-color="#2020ff"/></linearGradient></defs>
<rect x="336.80" y="84.60" width="3.10" height="14.50" fill="url(#cg)"/>
<text transform="translate(344.00,91.80) rotate(90)" font-size="2.6" text-anchor="middle" fill="#444">mtDNA</text>
<text x="369.60" y="26.80" font-size="12.5" font-weight="bold">d</text>
<text x="447.10" y="28.10" font-size="9" text-anchor="middle" textLength="81.8" lengthAdjust="spacingAndGlyphs">Heteroplasmy levels</text>
<g transform="matrix(0.23675 0 0 -0.29750 443.8 85.4)" fill="none" stroke-width="1.2" stroke-linecap="round" vector-effect="non-scaling-stroke">
<use href="#R0" stroke="#22a884"/>
<use href="#R1" stroke="#2a9d8f"/>
<use href="#R2" stroke="#35b779"/>
<use href="#R3" stroke="#1fa187"/>
<use href="#R4" stroke="#5ec962"/>
<use href="#R5" stroke="#3fbc73"/>
<use href="#R6" stroke="#21908d"/>
<use href="#R7" stroke="#addc30"/>
<use href="#R8" stroke="#26828e"/>
<use href="#R9" stroke="#22a884"/>
<use href="#R10" stroke="#4ac16d"/>
<use href="#R11" stroke="#1f9e89"/>
<use href="#R12" stroke="#2a788e"/>
<use href="#R13" stroke="#35b779"/>
<use href="#R14" stroke="#5ec962"/>
<use href="#R15" stroke="#7ad151"/>
<use href="#R16" stroke="#21908d"/>
<use href="#R17" stroke="#3fbc73"/>
<use href="#R18" stroke="#3b528b"/>
<use href="#R19" stroke="#22a884"/>
<use href="#p20_0" stroke="#fde725"/>
<use href="#p20_1" stroke="#b8de29"/>
<use href="#p20_2" stroke="#5ec962"/>
<use href="#p20_3" stroke="#21908d"/>
<use href="#p20_4" stroke="#3b528b"/>
<use href="#p20_5" stroke="#d8e219"/>
<use href="#p20_6" stroke="#2c728e"/>
<use href="#p20_7" stroke="#7ad151"/>
<use href="#p20_8" stroke="#5ec962"/>
<use href="#p20_9" stroke="#28ae80"/>
<use href="#p20_10" stroke="#fde725"/>
<use href="#p20_11" stroke="#addc30"/>
<use href="#p20_12" stroke="#5ec962"/>
<use href="#p20_13" stroke="#1f9e89"/>
<use href="#p20_14" stroke="#3b528b"/>
<use href="#p20_15" stroke="#d8e219"/>
<use href="#p20_16" stroke="#2c728e"/>
<use href="#p20_17" stroke="#7ad151"/>
<use href="#p20_18" stroke="#b8de29"/>
<use href="#p20_19" stroke="#28ae80"/>
</g>
<path d="M408.67 112.77C409.64 110.41 413.13 110.79 415.01 111.34C416.89 111.90 417.03 114.44 419.94 116.10C422.84 117.77 429.25 119.28 432.44 121.34C435.62 123.40 437.87 125.98 439.06 128.48C440.26 130.98 440.45 134.15 439.63 136.33C438.81 138.51 437.20 140.54 434.14 141.57C431.08 142.60 424.65 143.41 421.26 142.52C417.87 141.63 415.80 139.05 413.78 136.21C411.76 133.38 409.99 129.41 409.14 125.50C408.29 121.60 407.69 115.13 408.67 112.77Z" fill="none" stroke="#f0962e" stroke-width="1.2"/>
<line x1="381.50" y1="32.30" x2="381.50" y2="149.80" stroke="#555" stroke-width="0.6"/>
<line x1="381.50" y1="149.80" x2="506.80" y2="149.80" stroke="#555" stroke-width="0.6"/>
<line x1="386.98" y1="149.80" x2="386.98" y2="151.60" stroke="#555" stroke-width="0.5"/>
<text x="386.98" y="159.40" font-size="6.2" text-anchor="middle" fill="#333">-6</text>
<line x1="415.39" y1="149.80" x2="415.39" y2="151.60" stroke="#555" stroke-width="0.5"/>
<text x="415.39" y="159.40" font-size="6.2" text-anchor="middle" fill="#333">-3</text>
<line x1="443.80" y1="149.80" x2="443.80" y2="151.60" stroke="#555" stroke-width="0.5"/>
<text x="443.80" y="159.40" font-size="6.2" text-anchor="middle" fill="#333">0</text>
<line x1="472.21" y1="149.80" x2="472.21" y2="151.60" stroke="#555" stroke-width="0.5"/>
<text x="472.21" y="159.40" font-size="6.2" text-anchor="middle" fill="#333">3</text>
<line x1="500.62" y1="149.80" x2="500.62" y2="151.60" stroke="#555" stroke-width="0.5"/>
<text x="500.62" y="159.40" font-size="6.2" text-anchor="middle" fill="#333">6</text>
<line x1="379.70" y1="55.65" x2="381.50" y2="55.65" stroke="#555" stroke-width="0.5"/>
<text x="377.50" y="57.85" font-size="6.2" text-anchor="end" fill="#333">2.5</text>
<line x1="379.70" y1="85.40" x2="381.50" y2="85.40" stroke="#555" stroke-width="0.5"/>
<text x="377.50" y="87.60" font-size="6.2" text-anchor="end" fill="#333">0</text>
<line x1="379.70" y1="115.15" x2="381.50" y2="115.15" stroke="#555" stroke-width="0.5"/>
<text x="377.50" y="117.35" font-size="6.2" text-anchor="end" fill="#333">-2.5</text>
<line x1="379.70" y1="144.90" x2="381.50" y2="144.90" stroke="#555" stroke-width="0.5"/>
<text x="377.50" y="147.10" font-size="6.2" text-anchor="end" fill="#333">-5.0</text>
<text x="443.80" y="170.90" font-size="7.0" text-anchor="middle" fill="#222">UMAP Dim 1</text>
<text transform="translate(360.00,92.20) rotate(-90)" font-size="7.0" text-anchor="middle" fill="#222">UMAP Dim 2</text>
<defs><linearGradient id="vg" x1="0" x2="0" y1="1" y2="0"><stop offset="0" stop-color="#440154"/><stop offset="0.25" stop-color="#3b528b"/><stop offset="0.5" stop-color="#21908d"/><stop offset="0.75" stop-color="#5ec962"/><stop offset="1" stop-color="#fde725"/></linearGradient></defs>
<rect x="511.00" y="80.20" width="3.60" height="21.80" fill="url(#vg)"/>
<text x="516.80" y="81.60" font-size="2.6" fill="#444">1.00</text>
<text x="516.80" y="86.80" font-size="2.6" fill="#444">0.75</text>
<text x="516.80" y="92.00" font-size="2.6" fill="#444">0.50</text>
<text x="516.80" y="97.20" font-size="2.6" fill="#444">0.25</text>
<text x="516.80" y="102.40" font-size="2.6" fill="#444">0</text>
<text x="536.00" y="26.80" font-size="12.5" font-weight="bold">e</text>
<text x="624.50" y="28.10" font-size="9" text-anchor="middle" textLength="33.5" lengthAdjust="spacingAndGlyphs">Clusters</text>
<g transform="matrix(0.26250 0 0 -0.33375 621.9 85.4)" fill="none" stroke-width="0.8" stroke-linecap="round" vector-effect="non-scaling-stroke">
<use href="#K0" stroke="#a8845c"/>
<use href="#K1" stroke="#b89070"/>
<use href="#K2" stroke="#d850c0"/>
<use href="#K3" stroke="#c8ec8c"/>
<use href="#K4" stroke="#6c94ec"/>
<use href="#K5" stroke="#d090f4"/>
<use href="#K6" stroke="#f4bc90"/>
<use href="#K7" stroke="#a04848"/>
<use href="#K8" stroke="#d8a070"/>
<use href="#K9" stroke="#3c9a6a"/>
<use href="#K10" stroke="#58c048"/>
<use href="#K11" stroke="#a8e8f8"/>
<use href="#K12" stroke="#a8cc50"/>
<use href="#K13" stroke="#f07070"/>
<use href="#K14" stroke="#58e0a8"/>
<use href="#K15" stroke="#c87868"/>
<use href="#K16" stroke="#b8d898"/>
<use href="#K17" stroke="#e088d8"/>
<use href="#K18" stroke="#a8e070"/>
<use href="#K19" stroke="#d8a8f8"/>
<use href="#K20" stroke="#f28a1e" stroke-width="1.15"/>
</g>
<path d="M582.94 116.11C584.03 113.46 587.90 113.88 589.98 114.50C592.06 115.13 592.22 117.97 595.44 119.84C598.66 121.71 605.76 123.40 609.30 125.72C612.83 128.03 615.32 130.92 616.65 133.73C617.98 136.53 618.19 140.09 617.28 142.54C616.37 144.99 614.58 147.25 611.19 148.41C607.79 149.57 600.67 150.48 596.91 149.48C593.15 148.48 590.86 145.59 588.62 142.40C586.38 139.22 584.42 134.77 583.47 130.39C582.52 126.01 581.86 118.75 582.94 116.11Z" fill="none" stroke="#f0962e" stroke-width="1.2"/>
<line x1="562.30" y1="33.00" x2="562.30" y2="150.60" stroke="#555" stroke-width="0.6"/>
<line x1="562.30" y1="150.60" x2="681.00" y2="150.60" stroke="#555" stroke-width="0.6"/>
<line x1="590.40" y1="150.60" x2="590.40" y2="152.40" stroke="#555" stroke-width="0.5"/>
<text x="590.40" y="160.20" font-size="6.2" text-anchor="middle" fill="#333">-3</text>
<line x1="621.90" y1="150.60" x2="621.90" y2="152.40" stroke="#555" stroke-width="0.5"/>
<text x="621.90" y="160.20" font-size="6.2" text-anchor="middle" fill="#333">0</text>
<line x1="653.40" y1="150.60" x2="653.40" y2="152.40" stroke="#555" stroke-width="0.5"/>
<text x="653.40" y="160.20" font-size="6.2" text-anchor="middle" fill="#333">3</text>
<line x1="560.50" y1="58.70" x2="562.30" y2="58.70" stroke="#555" stroke-width="0.5"/>
<text x="558.30" y="60.90" font-size="6.2" text-anchor="end" fill="#333">2</text>
<line x1="560.50" y1="85.40" x2="562.30" y2="85.40" stroke="#555" stroke-width="0.5"/>
<text x="558.30" y="87.60" font-size="6.2" text-anchor="end" fill="#333">0</text>
<line x1="560.50" y1="112.10" x2="562.30" y2="112.10" stroke="#555" stroke-width="0.5"/>
<text x="558.30" y="114.30" font-size="6.2" text-anchor="end" fill="#333">-2</text>
<line x1="560.50" y1="138.80" x2="562.30" y2="138.80" stroke="#555" stroke-width="0.5"/>
<text x="558.30" y="141.00" font-size="6.2" text-anchor="end" fill="#333">-4</text>
<text x="622.00" y="170.90" font-size="7.0" text-anchor="middle" fill="#222">UMAP Dim 1</text>
<text transform="translate(543.30,92.20) rotate(-90)" font-size="7.0" text-anchor="middle" fill="#222">UMAP Dim 2</text>
<text x="185.40" y="189.00" font-size="12.5" font-weight="bold">f</text>
<text x="256.00" y="190.40" font-size="8.3" text-anchor="middle">NT gRNA</text>
<g transform="matrix(0.20250 0 0 -0.25500 254.2 232.3)" fill="none" stroke-width="0.95" stroke-linecap="round" vector-effect="non-scaling-stroke">
<use href="#R0" stroke="#dedede"/>
<use href="#R1" stroke="#dedede"/>
<use href="#R2" stroke="#dedede"/>
<use href="#R3" stroke="#dedede"/>
<use href="#R4" stroke="#dedede"/>
<use href="#R5" stroke="#dedede"/>
<use href="#R6" stroke="#dedede"/>
<use href="#R7" stroke="#dedede"/>
<use href="#R8" stroke="#dedede"/>
<use href="#R9" stroke="#dedede"/>
<use href="#R10" stroke="#dedede"/>
<use href="#R11" stroke="#dedede"/>
<use href="#R12" stroke="#dedede"/>
<use href="#R13" stroke="#dedede"/>
<use href="#R14" stroke="#dedede"/>
<use href="#R15" stroke="#dedede"/>
<use href="#R16" stroke="#dedede"/>
<use href="#R17" stroke="#dedede"/>
<use href="#R18" stroke="#dedede"/>
<use href="#R19" stroke="#dedede"/>
<use href="#p20_0" stroke="#8a8a8a"/>
<use href="#p20_1" stroke="#9a9a9a"/>
<use href="#p20_2" stroke="#a8a8a8"/>
<use href="#p20_3" stroke="#7a7a7a"/>
<use href="#p20_4" stroke="#b0b0b0"/>
<use href="#p20_5" stroke="#8a8a8a"/>
<use href="#p20_6" stroke="#9a9a9a"/>
<use href="#p20_7" stroke="#a8a8a8"/>
<use href="#p20_8" stroke="#7a7a7a"/>
<use href="#p20_9" stroke="#b0b0b0"/>
<use href="#p20_10" stroke="#8a8a8a"/>
<use href="#p20_11" stroke="#9a9a9a"/>
<use href="#p20_12" stroke="#a8a8a8"/>
<use href="#p20_13" stroke="#7a7a7a"/>
<use href="#p20_14" stroke="#b0b0b0"/>
<use href="#p20_15" stroke="#8a8a8a"/>
<use href="#p20_16" stroke="#9a9a9a"/>
<use href="#p20_17" stroke="#a8a8a8"/>
<use href="#p20_18" stroke="#7a7a7a"/>
<use href="#p20_19" stroke="#b0b0b0"/>
</g>
<path d="M224.15 255.76C224.99 253.74 227.97 254.06 229.58 254.54C231.18 255.01 231.30 257.19 233.79 258.62C236.27 260.04 241.75 261.34 244.48 263.10C247.21 264.87 249.12 267.08 250.15 269.22C251.18 271.37 251.34 274.09 250.64 275.96C249.93 277.83 248.56 279.56 245.94 280.44C243.32 281.33 237.82 282.02 234.92 281.26C232.02 280.50 230.25 278.28 228.52 275.85C226.79 273.42 225.28 270.02 224.55 266.67C223.82 263.32 223.31 257.78 224.15 255.76Z" fill="none" stroke="#f0962e" stroke-width="1.5"/>
<line x1="207.60" y1="192.50" x2="207.60" y2="282.80" stroke="#555" stroke-width="0.6"/>
<line x1="207.60" y1="282.80" x2="302.20" y2="282.80" stroke="#555" stroke-width="0.6"/>
<line x1="229.90" y1="282.80" x2="229.90" y2="284.60" stroke="#555" stroke-width="0.5"/>
<text x="229.90" y="292.40" font-size="6.2" text-anchor="middle" fill="#333">-3</text>
<line x1="254.20" y1="282.80" x2="254.20" y2="284.60" stroke="#555" stroke-width="0.5"/>
<text x="254.20" y="292.40" font-size="6.2" text-anchor="middle" fill="#333">0</text>
<line x1="278.50" y1="282.80" x2="278.50" y2="284.60" stroke="#555" stroke-width="0.5"/>
<text x="278.50" y="292.40" font-size="6.2" text-anchor="middle" fill="#333">3</text>
<line x1="205.80" y1="211.90" x2="207.60" y2="211.90" stroke="#555" stroke-width="0.5"/>
<text x="203.60" y="214.10" font-size="6.2" text-anchor="end" fill="#333">2</text>
<line x1="205.80" y1="232.30" x2="207.60" y2="232.30" stroke="#555" stroke-width="0.5"/>
<text x="203.60" y="234.50" font-size="6.2" text-anchor="end" fill="#333">0</text>
<line x1="205.80" y1="252.70" x2="207.60" y2="252.70" stroke="#555" stroke-width="0.5"/>
<text x="203.60" y="254.90" font-size="6.2" text-anchor="end" fill="#333">-2</text>
<line x1="205.80" y1="273.10" x2="207.60" y2="273.10" stroke="#555" stroke-width="0.5"/>
<text x="203.60" y="275.30" font-size="6.2" text-anchor="end" fill="#333">-4</text>
<text x="254.70" y="303.00" font-size="7.0" text-anchor="middle" fill="#222">UMAP Dim 1</text>
<text transform="translate(193.30,237.40) rotate(-90)" font-size="7.0" text-anchor="middle" fill="#222">UMAP Dim 2</text>
<g transform="matrix(0.20250 0 0 -0.25500 254.2 232.3)" fill="none" stroke-width="1.6" stroke-linecap="square" vector-effect="non-scaling-stroke"><use href="#hf" stroke="#111"/></g>
<circle cx="294.00" cy="249.30" r="9.70" fill="#fff"/>
<path d="M294.00 249.30L292.65 239.69A9.70 9.70 0 0 1 295.35 239.69Z" fill="#111"/>
<path d="M294.00 249.30L293.57 239.61M294.00 249.30L297.13 240.12M294.00 249.30L300.33 241.95M294.00 249.30L302.00 243.82M294.00 249.30L303.22 246.27M294.00 249.30L303.69 248.98M294.00 249.30L303.40 251.71M294.00 249.30L301.32 255.66M294.00 249.30L299.35 257.39M294.00 249.30L297.40 258.39M294.00 249.30L293.84 259.00M294.00 249.30L290.67 258.41M294.00 249.30L287.76 256.72M294.00 249.30L286.38 255.30M294.00 249.30L284.88 252.60M294.00 249.30L284.31 249.83M294.00 249.30L284.82 246.16M294.00 249.30L286.59 243.04M294.00 249.30L288.62 241.23M294.00 249.30L290.43 240.28" stroke="#222" stroke-width="0.55" fill="none"/>
<circle cx="294.00" cy="249.30" r="9.70" fill="none" stroke="#333" stroke-width="0.6"/>
<circle cx="217.80" cy="272.70" r="9.00" fill="#e6e6e6"/>
<path d="M217.80 272.70L218.73 263.75M217.80 272.70L221.55 264.52M217.80 272.70L218.86 263.76M217.80 272.70L222.09 264.79M217.80 272.70L221.51 264.50M217.80 272.70L220.19 264.02M217.80 272.70L221.56 264.52M217.80 272.70L221.27 264.39M217.80 272.70L218.07 263.70M217.80 272.70L221.06 264.31M217.80 272.70L210.81 278.37M217.80 272.70L211.33 278.95M217.80 272.70L209.71 276.65M217.80 272.70L210.27 277.63M217.80 272.70L212.15 279.71M217.80 272.70L213.12 280.39M217.80 272.70L213.80 280.76M217.80 272.70L209.97 277.13M217.80 272.70L217.20 281.68M217.80 272.70L217.46 281.69M217.80 272.70L217.98 281.70M217.80 272.70L217.80 281.70M217.80 272.70L218.67 281.66M217.80 272.70L208.80 272.65M217.80 272.70L208.82 273.26" stroke="#111" stroke-width="0.45" fill="none"/>
<circle cx="217.80" cy="272.70" r="9.00" fill="none" stroke="#f39a30" stroke-width="1.7"/>
<text x="315.80" y="189.00" font-size="12.5" font-weight="bold">g</text>
<text x="385.60" y="190.4" font-size="8.3" text-anchor="middle"><tspan font-style="italic">Tfam</tspan> gRNA</text>
<g transform="matrix(0.20425 0 0 -0.25500 383.6 232.3)" fill="none" stroke-width="0.95" stroke-linecap="round" vector-effect="non-scaling-stroke">
<use href="#R0" stroke="#dedede"/>
<use href="#R1" stroke="#dedede"/>
<use href="#R2" stroke="#dedede"/>
<use href="#R3" stroke="#dedede"/>
<use href="#R4" stroke="#dedede"/>
<use href="#R5" stroke="#dedede"/>
<use href="#R6" stroke="#dedede"/>
<use href="#R7" stroke="#dedede"/>
<use href="#R8" stroke="#dedede"/>
<use href="#R9" stroke="#dedede"/>
<use href="#R10" stroke="#dedede"/>
<use href="#R11" stroke="#dedede"/>
<use href="#R12" stroke="#dedede"/>
<use href="#R13" stroke="#dedede"/>
<use href="#R14" stroke="#dedede"/>
<use href="#R15" stroke="#dedede"/>
<use href="#R16" stroke="#dedede"/>
<use href="#R17" stroke="#dedede"/>
<use href="#R18" stroke="#dedede"/>
<use href="#R19" stroke="#dedede"/>
<use href="#p20_0" stroke="#8a8a8a"/>
<use href="#p20_1" stroke="#9a9a9a"/>
<use href="#p20_2" stroke="#a8a8a8"/>
<use href="#p20_3" stroke="#7a7a7a"/>
<use href="#p20_4" stroke="#b0b0b0"/>
<use href="#p20_5" stroke="#8a8a8a"/>
<use href="#p20_6" stroke="#9a9a9a"/>
<use href="#p20_7" stroke="#a8a8a8"/>
<use href="#p20_8" stroke="#7a7a7a"/>
<use href="#p20_9" stroke="#b0b0b0"/>
<use href="#p20_10" stroke="#8a8a8a"/>
<use href="#p20_11" stroke="#9a9a9a"/>
<use href="#p20_12" stroke="#a8a8a8"/>
<use href="#p20_13" stroke="#7a7a7a"/>
<use href="#p20_14" stroke="#b0b0b0"/>
<use href="#p20_15" stroke="#8a8a8a"/>
<use href="#p20_16" stroke="#9a9a9a"/>
<use href="#p20_17" stroke="#a8a8a8"/>
<use href="#p20_18" stroke="#7a7a7a"/>
<use href="#p20_19" stroke="#b0b0b0"/>
</g>
<path d="M353.29 255.76C354.13 253.74 357.14 254.06 358.76 254.54C360.38 255.01 360.51 257.19 363.01 258.62C365.52 260.04 371.05 261.34 373.80 263.10C376.55 264.87 378.48 267.08 379.52 269.22C380.55 271.37 380.71 274.09 380.01 275.96C379.30 277.83 377.91 279.56 375.27 280.44C372.62 281.33 367.08 282.02 364.16 281.26C361.23 280.50 359.44 278.28 357.70 275.85C355.96 273.42 354.43 270.02 353.70 266.67C352.96 263.32 352.45 257.78 353.29 255.76Z" fill="none" stroke="#f0962e" stroke-width="1.5"/>
<line x1="337.60" y1="192.50" x2="337.60" y2="282.80" stroke="#555" stroke-width="0.6"/>
<line x1="337.60" y1="282.80" x2="430.60" y2="282.80" stroke="#555" stroke-width="0.6"/>
<line x1="359.09" y1="282.80" x2="359.09" y2="284.60" stroke="#555" stroke-width="0.5"/>
<text x="359.09" y="292.40" font-size="6.2" text-anchor="middle" fill="#333">-3</text>
<line x1="383.60" y1="282.80" x2="383.60" y2="284.60" stroke="#555" stroke-width="0.5"/>
<text x="383.60" y="292.40" font-size="6.2" text-anchor="middle" fill="#333">0</text>
<line x1="408.11" y1="282.80" x2="408.11" y2="284.60" stroke="#555" stroke-width="0.5"/>
<text x="408.11" y="292.40" font-size="6.2" text-anchor="middle" fill="#333">3</text>
<line x1="335.80" y1="211.90" x2="337.60" y2="211.90" stroke="#555" stroke-width="0.5"/>
<text x="333.60" y="214.10" font-size="6.2" text-anchor="end" fill="#333">2</text>
<line x1="335.80" y1="232.30" x2="337.60" y2="232.30" stroke="#555" stroke-width="0.5"/>
<text x="333.60" y="234.50" font-size="6.2" text-anchor="end" fill="#333">0</text>
<line x1="335.80" y1="252.70" x2="337.60" y2="252.70" stroke="#555" stroke-width="0.5"/>
<text x="333.60" y="254.90" font-size="6.2" text-anchor="end" fill="#333">-2</text>
<line x1="335.80" y1="273.10" x2="337.60" y2="273.10" stroke="#555" stroke-width="0.5"/>
<text x="333.60" y="275.30" font-size="6.2" text-anchor="end" fill="#333">-4</text>
<text x="384.10" y="303.00" font-size="7.0" text-anchor="middle" fill="#222">UMAP Dim 1</text>
<text transform="translate(323.30,237.40) rotate(-90)" font-size="7.0" text-anchor="middle" fill="#222">UMAP Dim 2</text>
<g transform="matrix(0.20425 0 0 -0.25500 383.6 232.3)" fill="none" stroke-width="1.6" stroke-linecap="square" vector-effect="non-scaling-stroke"><use href="#hg" stroke="#d81b4c"/></g>
<circle cx="423.80" cy="249.30" r="9.70" fill="#fff"/>
<path d="M423.80 249.30L422.95 239.64A9.70 9.70 0 0 1 424.65 239.64Z" fill="#d81b4c"/>
<path d="M423.80 249.30L423.17 239.62M423.80 249.30L427.30 240.25M423.80 249.30L430.01 241.85M423.80 249.30L431.53 243.44M423.80 249.30L432.90 245.95M423.80 249.30L433.49 248.79M423.80 249.30L433.22 251.62M423.80 249.30L431.92 254.60M423.80 249.30L429.90 256.84M423.80 249.30L426.22 258.69M423.80 249.30L424.32 258.99M423.80 249.30L421.31 258.67M423.80 249.30L417.53 256.70M423.80 249.30L415.56 254.42M423.80 249.30L414.80 252.93M423.80 249.30L414.10 249.60M423.80 249.30L414.86 245.53M423.80 249.30L415.85 243.75M423.80 249.30L418.27 241.33M423.80 249.30L421.11 239.98" stroke="#222" stroke-width="0.55" fill="none"/>
<circle cx="423.80" cy="249.30" r="9.70" fill="none" stroke="#333" stroke-width="0.6"/>
<circle cx="347.20" cy="272.70" r="9.00" fill="#e6e6e6"/>
<path d="M347.20 272.70L347.20 263.70A9.00 9.00 0 0 1 356.06 274.26Z" fill="#d81b4c"/>
<path d="M347.20 272.70L346.70 263.71M347.20 272.70L342.23 265.20M347.20 272.70L344.37 264.16M347.20 272.70L344.51 264.11M347.20 272.70L340.56 266.62M347.20 272.70L339.79 267.60M347.20 272.70L343.39 264.55M347.20 272.70L340.02 267.27M347.20 272.70L341.68 265.59M347.20 272.70L345.89 263.80M347.20 272.70L345.73 263.82M347.20 272.70L340.00 267.30M347.20 272.70L355.99 274.64M347.20 272.70L355.82 275.28M347.20 272.70L354.59 277.84M347.20 272.70L356.04 274.38M347.20 272.70L355.82 275.29M347.20 272.70L355.96 274.76M347.20 272.70L346.12 281.63M347.20 272.70L345.20 281.47M347.20 272.70L345.99 281.62M347.20 272.70L345.46 281.53M347.20 272.70L344.72 281.35M347.20 272.70L344.74 281.36" stroke="#111" stroke-width="0.45" fill="none"/>
<circle cx="347.20" cy="272.70" r="9.00" fill="none" stroke="#f39a30" stroke-width="1.7"/>
<text x="442.80" y="189.00" font-size="12.5" font-weight="bold">h</text>
<text x="513.80" y="190.4" font-size="8.3" text-anchor="middle"><tspan font-style="italic">Opa1</tspan> gRNA</text>
<g transform="matrix(0.20000 0 0 -0.25625 511.1 231.7)" fill="none" stroke-width="0.95" stroke-linecap="round" vector-effect="non-scaling-stroke">
<use href="#R0" stroke="#dedede"/>
<use href="#R1" stroke="#dedede"/>
<use href="#R2" stroke="#dedede"/>
<use href="#R3" stroke="#dedede"/>
<use href="#R4" stroke="#dedede"/>
<use href="#R5" stroke="#dedede"/>
<use href="#R6" stroke="#dedede"/>
<use href="#R7" stroke="#dedede"/>
<use href="#R8" stroke="#dedede"/>
<use href="#R9" stroke="#dedede"/>
<use href="#R10" stroke="#dedede"/>
<use href="#R11" stroke="#dedede"/>
<use href="#R12" stroke="#dedede"/>
<use href="#R13" stroke="#dedede"/>
<use href="#R14" stroke="#dedede"/>
<use href="#R15" stroke="#dedede"/>
<use href="#R16" stroke="#dedede"/>
<use href="#R17" stroke="#dedede"/>
<use href="#R18" stroke="#dedede"/>
<use href="#R19" stroke="#dedede"/>
<use href="#p20_0" stroke="#8a8a8a"/>
<use href="#p20_1" stroke="#9a9a9a"/>
<use href="#p20_2" stroke="#a8a8a8"/>
<use href="#p20_3" stroke="#7a7a7a"/>
<use href="#p20_4" stroke="#b0b0b0"/>
<use href="#p20_5" stroke="#8a8a8a"/>
<use href="#p20_6" stroke="#9a9a9a"/>
<use href="#p20_7" stroke="#a8a8a8"/>
<use href="#p20_8" stroke="#7a7a7a"/>
<use href="#p20_9" stroke="#b0b0b0"/>
<use href="#p20_10" stroke="#8a8a8a"/>
<use href="#p20_11" stroke="#9a9a9a"/>
<use href="#p20_12" stroke="#a8a8a8"/>
<use href="#p20_13" stroke="#7a7a7a"/>
<use href="#p20_14" stroke="#b0b0b0"/>
<use href="#p20_15" stroke="#8a8a8a"/>
<use href="#p20_16" stroke="#9a9a9a"/>
<use href="#p20_17" stroke="#a8a8a8"/>
<use href="#p20_18" stroke="#7a7a7a"/>
<use href="#p20_19" stroke="#b0b0b0"/>
</g>
<path d="M481.42 255.27C482.25 253.24 485.19 253.57 486.78 254.04C488.37 254.52 488.49 256.71 490.94 258.14C493.39 259.58 498.81 260.88 501.50 262.65C504.19 264.43 506.09 266.65 507.10 268.81C508.11 270.96 508.27 273.69 507.58 275.57C506.89 277.45 505.53 279.19 502.94 280.08C500.35 280.97 494.93 281.67 492.06 280.90C489.19 280.13 487.45 277.91 485.74 275.47C484.03 273.02 482.54 269.61 481.82 266.24C481.10 262.88 480.59 257.31 481.42 255.27Z" fill="none" stroke="#f0962e" stroke-width="1.5"/>
<line x1="464.30" y1="192.50" x2="464.30" y2="282.80" stroke="#555" stroke-width="0.6"/>
<line x1="464.30" y1="282.80" x2="558.30" y2="282.80" stroke="#555" stroke-width="0.6"/>
<line x1="487.10" y1="282.80" x2="487.10" y2="284.60" stroke="#555" stroke-width="0.5"/>
<text x="487.10" y="292.40" font-size="6.2" text-anchor="middle" fill="#333">-3</text>
<line x1="511.10" y1="282.80" x2="511.10" y2="284.60" stroke="#555" stroke-width="0.5"/>
<text x="511.10" y="292.40" font-size="6.2" text-anchor="middle" fill="#333">0</text>
<line x1="535.10" y1="282.80" x2="535.10" y2="284.60" stroke="#555" stroke-width="0.5"/>
<text x="535.10" y="292.40" font-size="6.2" text-anchor="middle" fill="#333">3</text>
<line x1="462.50" y1="211.20" x2="464.30" y2="211.20" stroke="#555" stroke-width="0.5"/>
<text x="460.30" y="213.40" font-size="6.2" text-anchor="end" fill="#333">2</text>
<line x1="462.50" y1="231.70" x2="464.30" y2="231.70" stroke="#555" stroke-width="0.5"/>
<text x="460.30" y="233.90" font-size="6.2" text-anchor="end" fill="#333">0</text>
<line x1="462.50" y1="252.20" x2="464.30" y2="252.20" stroke="#555" stroke-width="0.5"/>
<text x="460.30" y="254.40" font-size="6.2" text-anchor="end" fill="#333">-2</text>
<line x1="462.50" y1="272.70" x2="464.30" y2="272.70" stroke="#555" stroke-width="0.5"/>
<text x="460.30" y="274.90" font-size="6.2" text-anchor="end" fill="#333">-4</text>
<text x="511.60" y="303.00" font-size="7.0" text-anchor="middle" fill="#222">UMAP Dim 1</text>
<text transform="translate(450.40,237.40) rotate(-90)" font-size="7.0" text-anchor="middle" fill="#222">UMAP Dim 2</text>
<g transform="matrix(0.20000 0 0 -0.25625 511.1 231.7)" fill="none" stroke-width="1.6" stroke-linecap="square" vector-effect="non-scaling-stroke"><use href="#hh" stroke="#3558cc"/></g>
<circle cx="551.00" cy="248.00" r="9.70" fill="#fff"/>
<path d="M551.00 248.00L551.00 238.30A9.70 9.70 0 0 1 553.02 238.51Z" fill="#3558cc"/>
<path d="M551.00 248.00L550.63 238.31M551.00 248.00L553.93 238.75M551.00 248.00L556.77 240.20M551.00 248.00L558.43 241.77M551.00 248.00L560.23 245.01M551.00 248.00L560.67 248.77M551.00 248.00L560.19 251.10M551.00 248.00L558.83 253.73M551.00 248.00L556.30 256.13M551.00 248.00L554.08 257.20M551.00 248.00L551.38 257.69M551.00 248.00L547.46 257.03M551.00 248.00L545.76 256.17M551.00 248.00L542.78 253.16M551.00 248.00L541.59 250.37M551.00 248.00L541.30 247.92M551.00 248.00L541.78 244.98M551.00 248.00L542.74 242.91M551.00 248.00L544.86 240.49M551.00 248.00L548.44 238.64" stroke="#222" stroke-width="0.55" fill="none"/>
<circle cx="551.00" cy="248.00" r="9.70" fill="none" stroke="#333" stroke-width="0.6"/>
<circle cx="474.60" cy="272.70" r="9.00" fill="#e6e6e6"/>
<path d="M474.60 272.70L475.85 263.79A9.00 9.00 0 0 1 483.40 270.83Z" fill="#3558cc"/>
<path d="M474.60 272.70L466.74 268.31M474.60 272.70L466.61 268.55M474.60 272.70L466.42 268.95M474.60 272.70L465.89 270.44M474.60 272.70L465.98 270.13M474.60 272.70L472.16 264.04M474.60 272.70L472.44 263.96M474.60 272.70L470.15 264.88M474.60 272.70L470.56 264.66M474.60 272.70L479.79 280.05M474.60 272.70L483.26 275.17M474.60 272.70L481.21 278.81M474.60 272.70L482.66 276.71M474.60 272.70L481.26 278.75M474.60 272.70L480.00 279.90M474.60 272.70L481.59 278.37M474.60 272.70L482.43 277.14M474.60 272.70L482.68 276.66M474.60 272.70L481.39 278.61M474.60 272.70L481.35 278.65M474.60 272.70L482.36 277.26M474.60 272.70L482.12 277.64M474.60 272.70L481.81 278.09" stroke="#111" stroke-width="0.45" fill="none"/>
<circle cx="474.60" cy="272.70" r="9.00" fill="none" stroke="#f39a30" stroke-width="1.7"/>
<text x="566.00" y="189.00" font-size="12.5" font-weight="bold">i</text>
<text x="637.00" y="190.4" font-size="8.3" text-anchor="middle"><tspan font-style="italic">Polg</tspan> gRNA</text>
<g transform="matrix(0.20000 0 0 -0.25500 633.9 232.5)" fill="none" stroke-width="0.95" stroke-linecap="round" vector-effect="non-scaling-stroke">
<use href="#R0" stroke="#dedede"/>
<use href="#R1" stroke="#dedede"/>
<use href="#R2" stroke="#dedede"/>
<use href="#R3" stroke="#dedede"/>
<use href="#R4" stroke="#dedede"/>
<use href="#R5" stroke="#dedede"/>
<use href="#R6" stroke="#dedede"/>
<use href="#R7" stroke="#dedede"/>
<use href="#R8" stroke="#dedede"/>
<use href="#R9" stroke="#dedede"/>
<use href="#R10" stroke="#dedede"/>
<use href="#R11" stroke="#dedede"/>
<use href="#R12" stroke="#dedede"/>
<use href="#R13" stroke="#dedede"/>
<use href="#R14" stroke="#dedede"/>
<use href="#R15" stroke="#dedede"/>
<use href="#R16" stroke="#dedede"/>
<use href="#R17" stroke="#dedede"/>
<use href="#R18" stroke="#dedede"/>
<use href="#R19" stroke="#dedede"/>
<use href="#p20_0" stroke="#8a8a8a"/>
<use href="#p20_1" stroke="#9a9a9a"/>
<use href="#p20_2" stroke="#a8a8a8"/>
<use href="#p20_3" stroke="#7a7a7a"/>
<use href="#p20_4" stroke="#b0b0b0"/>
<use href="#p20_5" stroke="#8a8a8a"/>
<use href="#p20_6" stroke="#9a9a9a"/>
<use href="#p20_7" stroke="#a8a8a8"/>
<use href="#p20_8" stroke="#7a7a7a"/>
<use href="#p20_9" stroke="#b0b0b0"/>
<use href="#p20_10" stroke="#8a8a8a"/>
<use href="#p20_11" stroke="#9a9a9a"/>
<use href="#p20_12" stroke="#a8a8a8"/>
<use href="#p20_13" stroke="#7a7a7a"/>
<use href="#p20_14" stroke="#b0b0b0"/>
<use href="#p20_15" stroke="#8a8a8a"/>
<use href="#p20_16" stroke="#9a9a9a"/>
<use href="#p20_17" stroke="#a8a8a8"/>
<use href="#p20_18" stroke="#7a7a7a"/>
<use href="#p20_19" stroke="#b0b0b0"/>
</g>
<path d="M604.22 255.96C605.05 253.94 607.99 254.26 609.58 254.74C611.17 255.21 611.29 257.39 613.74 258.82C616.19 260.24 621.61 261.54 624.30 263.30C626.99 265.07 628.89 267.28 629.90 269.42C630.91 271.57 631.07 274.29 630.38 276.16C629.69 278.03 628.33 279.76 625.74 280.64C623.15 281.53 617.73 282.22 614.86 281.46C611.99 280.69 610.25 278.48 608.54 276.05C606.83 273.62 605.34 270.22 604.62 266.87C603.90 263.53 603.39 257.98 604.22 255.96Z" fill="none" stroke="#f0962e" stroke-width="1.5"/>
<line x1="587.90" y1="192.50" x2="587.90" y2="282.80" stroke="#555" stroke-width="0.6"/>
<line x1="587.90" y1="282.80" x2="681.50" y2="282.80" stroke="#555" stroke-width="0.6"/>
<line x1="609.90" y1="282.80" x2="609.90" y2="284.60" stroke="#555" stroke-width="0.5"/>
<text x="609.90" y="292.40" font-size="6.2" text-anchor="middle" fill="#333">-3</text>
<line x1="633.90" y1="282.80" x2="633.90" y2="284.60" stroke="#555" stroke-width="0.5"/>
<text x="633.90" y="292.40" font-size="6.2" text-anchor="middle" fill="#333">0</text>
<line x1="657.90" y1="282.80" x2="657.90" y2="284.60" stroke="#555" stroke-width="0.5"/>
<text x="657.90" y="292.40" font-size="6.2" text-anchor="middle" fill="#333">3</text>
<line x1="586.10" y1="212.10" x2="587.90" y2="212.10" stroke="#555" stroke-width="0.5"/>
<text x="583.90" y="214.30" font-size="6.2" text-anchor="end" fill="#333">2</text>
<line x1="586.10" y1="232.50" x2="587.90" y2="232.50" stroke="#555" stroke-width="0.5"/>
<text x="583.90" y="234.70" font-size="6.2" text-anchor="end" fill="#333">0</text>
<line x1="586.10" y1="252.90" x2="587.90" y2="252.90" stroke="#555" stroke-width="0.5"/>
<text x="583.90" y="255.10" font-size="6.2" text-anchor="end" fill="#333">-2</text>
<line x1="586.10" y1="273.30" x2="587.90" y2="273.30" stroke="#555" stroke-width="0.5"/>
<text x="583.90" y="275.50" font-size="6.2" text-anchor="end" fill="#333">-4</text>
<text x="634.40" y="303.00" font-size="7.0" text-anchor="middle" fill="#222">UMAP Dim 1</text>
<text transform="translate(573.60,237.40) rotate(-90)" font-size="7.0" text-anchor="middle" fill="#222">UMAP Dim 2</text>
<g transform="matrix(0.20000 0 0 -0.25500 633.9 232.5)" fill="none" stroke-width="1.6" stroke-linecap="square" vector-effect="non-scaling-stroke"><use href="#hi" stroke="#36a33a"/></g>
<circle cx="675.40" cy="247.70" r="9.70" fill="#fff"/>
<path d="M675.40 247.70L675.40 238.00A9.70 9.70 0 0 1 678.40 238.47Z" fill="#36a33a"/>
<path d="M675.40 247.70L676.13 238.03M675.40 247.70L678.22 238.42M675.40 247.70L681.53 240.18M675.40 247.70L682.99 241.66M675.40 247.70L684.62 244.67M675.40 247.70L685.09 247.32M675.40 247.70L684.60 250.77M675.40 247.70L683.65 252.80M675.40 247.70L681.21 255.46M675.40 247.70L678.69 256.82M675.40 247.70L676.18 257.37M675.40 247.70L671.90 256.75M675.40 247.70L669.15 255.12M675.40 247.70L667.91 253.87M675.40 247.70L666.11 250.48M675.40 247.70L665.70 247.65M675.40 247.70L666.14 244.82M675.40 247.70L667.64 241.88M675.40 247.70L669.92 239.70M675.40 247.70L672.05 238.60" stroke="#222" stroke-width="0.55" fill="none"/>
<circle cx="675.40" cy="247.70" r="9.70" fill="none" stroke="#333" stroke-width="0.6"/>
<circle cx="597.70" cy="272.70" r="9.00" fill="#e6e6e6"/>
<path d="M597.70 272.70L599.26 263.84A9.00 9.00 0 0 1 604.59 266.91Z" fill="#36a33a"/>
<path d="M597.70 272.70L595.76 263.91M597.70 272.70L594.18 264.42M597.70 272.70L595.49 263.97M597.70 272.70L595.99 263.86M597.70 272.70L604.72 267.07M597.70 272.70L605.52 268.25M597.70 272.70L604.76 267.12M597.70 272.70L604.42 266.71M597.70 272.70L604.79 267.15M597.70 272.70L605.50 268.20M597.70 272.70L600.51 281.25M597.70 272.70L594.22 281.00M597.70 272.70L598.00 281.70M597.70 272.70L600.25 281.33M597.70 272.70L597.01 281.67M597.70 272.70L597.56 281.70M597.70 272.70L596.63 281.64M597.70 272.70L591.86 279.54M597.70 272.70L591.49 279.21M597.70 272.70L599.54 281.51M597.70 272.70L590.90 278.60M597.70 272.70L594.78 281.21M597.70 272.70L591.14 278.86M597.70 272.70L592.49 280.04M597.70 272.70L595.82 281.50M597.70 272.70L599.25 281.57" stroke="#111" stroke-width="0.45" fill="none"/>
<circle cx="597.70" cy="272.70" r="9.00" fill="none" stroke="#f39a30" stroke-width="1.7"/>
<text x="293.80" y="265.60" font-size="6.0" text-anchor="middle" fill="#222">P = 0.0045</text>
<text x="334.10" y="290.50" font-size="6" text-anchor="middle" fill="#222"><tspan font-style="italic">P</tspan> =</text>
<text x="316.10" y="298.80" font-size="6.2" fill="#222">3.97 × 10<tspan font-size="4" dy="-2.6">-155</tspan></text>
<text x="461.20" y="290.50" font-size="6" text-anchor="middle" fill="#222"><tspan font-style="italic">P</tspan> =</text>
<text x="443.20" y="298.80" font-size="6.2" fill="#222">4.96 × 10<tspan font-size="4" dy="-2.6">-83</tspan></text>
<text x="585.00" y="290.50" font-size="6" text-anchor="middle" fill="#222"><tspan font-style="italic">P</tspan> =</text>
<text x="567.00" y="298.80" font-size="6.2" fill="#222">9.48 × 10<tspan font-size="4" dy="-2.6">-10</tspan></text>
<text x="-0.50" y="349.80" font-size="12.5" font-weight="bold">j</text>
<line x1="46.60" y1="348.40" x2="46.60" y2="460.80" stroke="#555" stroke-width="0.6"/>
<line x1="46.60" y1="460.80" x2="376.70" y2="460.80" stroke="#555" stroke-width="0.6"/>
<line x1="44.40" y1="456.30" x2="46.60" y2="456.30" stroke="#555" stroke-width="0.5"/>
<text x="41.20" y="459.30" font-size="8.5" text-anchor="end" fill="#333">0</text>
<line x1="44.40" y1="430.95" x2="46.60" y2="430.95" stroke="#555" stroke-width="0.5"/>
<text x="41.20" y="433.95" font-size="8.5" text-anchor="end" fill="#333">100</text>
<line x1="44.40" y1="405.60" x2="46.60" y2="405.60" stroke="#555" stroke-width="0.5"/>
<text x="41.20" y="408.60" font-size="8.5" text-anchor="end" fill="#333">200</text>
<line x1="44.40" y1="380.25" x2="46.60" y2="380.25" stroke="#555" stroke-width="0.5"/>
<text x="41.20" y="383.25" font-size="8.5" text-anchor="end" fill="#333">300</text>
<line x1="44.40" y1="354.90" x2="46.60" y2="354.90" stroke="#555" stroke-width="0.5"/>
<text x="41.20" y="357.90" font-size="8.5" text-anchor="end" fill="#333">400</text>
<line x1="56.80" y1="460.80" x2="56.80" y2="463.00" stroke="#555" stroke-width="0.5"/>
<line x1="73.15" y1="460.80" x2="73.15" y2="463.00" stroke="#555" stroke-width="0.5"/>
<line x1="89.50" y1="460.80" x2="89.50" y2="463.00" stroke="#555" stroke-width="0.5"/>
<line x1="105.85" y1="460.80" x2="105.85" y2="463.00" stroke="#555" stroke-width="0.5"/>
<line x1="122.20" y1="460.80" x2="122.20" y2="463.00" stroke="#555" stroke-width="0.5"/>
<line x1="138.55" y1="460.80" x2="138.55" y2="463.00" stroke="#555" stroke-width="0.5"/>
<line x1="154.90" y1="460.80" x2="154.90" y2="463.00" stroke="#555" stroke-width="0.5"/>
<line x1="171.25" y1="460.80" x2="171.25" y2="463.00" stroke="#555" stroke-width="0.5"/>
<line x1="187.60" y1="460.80" x2="187.60" y2="463.00" stroke="#555" stroke-width="0.5"/>
<line x1="203.95" y1="460.80" x2="203.95" y2="463.00" stroke="#555" stroke-width="0.5"/>
<line x1="220.30" y1="460.80" x2="220.30" y2="463.00" stroke="#555" stroke-width="0.5"/>
<line x1="236.65" y1="460.80" x2="236.65" y2="463.00" stroke="#555" stroke-width="0.5"/>
<line x1="253.00" y1="460.80" x2="253.00" y2="463.00" stroke="#555" stroke-width="0.5"/>
<line x1="269.35" y1="460.80" x2="269.35" y2="463.00" stroke="#555" stroke-width="0.5"/>
<line x1="285.70" y1="460.80" x2="285.70" y2="463.00" stroke="#555" stroke-width="0.5"/>
<line x1="302.05" y1="460.80" x2="302.05" y2="463.00" stroke="#555" stroke-width="0.5"/>
<line x1="318.40" y1="460.80" x2="318.40" y2="463.00" stroke="#555" stroke-width="0.5"/>
<line x1="334.75" y1="460.80" x2="334.75" y2="463.00" stroke="#555" stroke-width="0.5"/>
<line x1="351.10" y1="460.80" x2="351.10" y2="463.00" stroke="#555" stroke-width="0.5"/>
<line x1="367.45" y1="460.80" x2="367.45" y2="463.00" stroke="#555" stroke-width="0.5"/>
<text transform="translate(19.20,404.60) rotate(-90)" font-size="8.9" text-anchor="middle" fill="#222">mtDNA coverage</text>
<path transform="scale(0.5)" d="M120 899h0M113 849h0M123 895h0M114 811h0M105 868h0M109 910h0M100 857h0M105 815h0M99 894h0M126 829h0M99 852h0M114 886h0M128 902h0M103 882h0M102 808h0M112 752h0M109 862h0M104 870h0M125 908h0M123 894h0M129 896h0M122 775h0M116 823h0M102 831h0M124 871h0M127 896h0M111 779h0M112 883h0M129 881h0M98 880h0M121 904h0M113 869h0M122 862h0M117 895h0M118 861h0M103 898h0M127 884h0M117 884h0M101 888h0M124 906h0M110 820h0M119 841h0M128 772h0M129 878h0M126 856h0M110 869h0M126 893h0M100 899h0M122 812h0M124 870h0M106 907h0M111 889h0M100 899h0M126 885h0M113 828h0M128 892h0M121 865h0M104 908h0M123 800h0M117 782h0M116 876h0M107 796h0M106 864h0M98 822h0M128 840h0M117 908h0M125 848h0M106 857h0M128 879h0M102 768h0M101 904h0M112 908h0M125 901h0M102 846h0M108 863h0M105 869h0M103 899h0M120 881h0M99 862h0M126 835h0M123 821h0M112 909h0M122 906h0M120 898h0M120 892h0M99 887h0M108 880h0M107 771h0M115 868h0M117 904h0M121 867h0M120 888h0M116 865h0M124 906h0M108 883h0M100 903h0M124 905h0M112 824h0M98 852h0M112 848h0M110 866h0M105 879h0M111 907h0M120 893h0M121 808h0M105 873h0M113 881h0M128 850h0M113 904h0M121 869h0M123 777h0M122 851h0M125 844h0M119 838h0M127 893h0M117 881h0M128 805h0M108 909h0M110 887h0M115 900h0M140 905h0M154 737h0M134 873h0M153 722h0M141 896h0M152 848h0M161 892h0M138 886h0M135 798h0M137 841h0M139 855h0M160 881h0M144 872h0M139 852h0M143 898h0M136 891h0M131 715h0M160 810h0M131 837h0M132 868h0M153 854h0M131 893h0M133 863h0M145 888h0M142 775h0M156 901h0M147 806h0M136 907h0M148 879h0M156 894h0M160 799h0M131 781h0M133 857h0M154 772h0M136 824h0M156 906h0M150 854h0M156 872h0M139 885h0M140 884h0M159 851h0M132 905h0M152 867h0M139 897h0M131 906h0M152 869h0M135 846h0M160 903h0M143 863h0M154 839h0M133 865h0M137 804h0M142 907h0M150 864h0M153 898h0M135 869h0M156 796h0M152 768h0M155 895h0M147 770h0M161 766h0M160 880h0M156 744h0M142 909h0M150 853h0M151 825h0M160 899h0M159 864h0M162 896h0M155 861h0M159 829h0M133 883h0M136 879h0M156 863h0M134 883h0M144 908h0M131 858h0M137 844h0M160 903h0M159 865h0M134 867h0M144 893h0M155 848h0M151 826h0M144 892h0M146 881h0M148 891h0M131 873h0M149 806h0M154 812h0M162 831h0M143 881h0M152 910h0M149 858h0M138 897h0M156 830h0M132 870h0M157 882h0M145 868h0M150 880h0M152 855h0M154 790h0M138 882h0M156 818h0M137 752h0M159 797h0M140 905h0M135 850h0M139 803h0M140 841h0M137 895h0M153 869h0M152 895h0M151 885h0M136 882h0M132 901h0M144 838h0M158 902h0M131 846h0M149 832h0M179 875h0M183 882h0M175 849h0M187 884h0M178 849h0M170 867h0M164 816h0M178 848h0M182 895h0M166 857h0M168 869h0M173 814h0M170 886h0M169 907h0M183 900h0M170 797h0M180 903h0M176 902h0M170 824h0M180 838h0M171 904h0M166 855h0M181 896h0M180 808h0M163 844h0M173 888h0M174 763h0M164 818h0M192 868h0M182 821h0M193 898h0M194 905h0M186 820h0M168 864h0M184 885h0M175 846h0M165 813h0M166 889h0M188 886h0M168 826h0M167 888h0M177 845h0M175 894h0M177 790h0M183 839h0M181 871h0M169 883h0M173 869h0M169 886h0M177 763h0M164 896h0M191 895h0M184 885h0M184 894h0M187 874h0M175 865h0M182 890h0M185 803h0M174 871h0M190 777h0M185 900h0M185 821h0M171 783h0M175 886h0M176 899h0M172 851h0M188 891h0M187 853h0M191 816h0M189 775h0M185 868h0M194 867h0M177 846h0M172 844h0M175 901h0M163 901h0M178 904h0M165 823h0M167 849h0M172 867h0M186 874h0M176 878h0M167 832h0M185 884h0M194 802h0M183 892h0M185 887h0M167 797h0M193 884h0M183 884h0M172 807h0M163 818h0M168 885h0M170 884h0M189 908h0M181 898h0M190 861h0M183 797h0M187 899h0M193 904h0M171 888h0M176 895h0M190 816h0M186 828h0M173 893h0M177 888h0M195 785h0M194 905h0M178 759h0M188 839h0M183 897h0M192 782h0M186 904h0M192 870h0M181 899h0M189 902h0M164 833h0M168 888h0M183 849h0M193 906h0M214 875h0M215 883h0M210 879h0M202 827h0M220 889h0M198 895h0M209 899h0M204 887h0M213 884h0M213 902h0M198 907h0M203 896h0M205 885h0M217 801h0M220 871h0M206 840h0M220 852h0M220 864h0M225 850h0M217 891h0M225 865h0M219 904h0M220 891h0M213 877h0M204 893h0M216 789h0M199 850h0M227 889h0M213 896h0M212 838h0M227 861h0M203 819h0M209 876h0M217 841h0M218 892h0M196 876h0M208 889h0M217 897h0M223 850h0M214 869h0M207 906h0M207 882h0M198 876h0M226 842h0M202 894h0M221 885h0M220 894h0M215 898h0M217 833h0M226 905h0M211 797h0M215 792h0M208 899h0M211 807h0M201 907h0M214 897h0M210 848h0M227 879h0M217 885h0M212 896h0M199 898h0M199 885h0M217 881h0M221 862h0M198 871h0M209 832h0M227 826h0M204 865h0M212 883h0M199 887h0M217 879h0M220 808h0M209 813h0M197 848h0M218 815h0M211 891h0M221 891h0M221 876h0M208 820h0M226 885h0M207 897h0M220 817h0M210 890h0M204 904h0M225 844h0M221 872h0M203 886h0M221 892h0M213 901h0M216 896h0M227 865h0M211 867h0M200 826h0M208 812h0M209 869h0M205 894h0M201 896h0M197 831h0M215 855h0M214 830h0M199 890h0M204 857h0M222 840h0M211 893h0M207 881h0M211 882h0M197 846h0M200 863h0M215 862h0M218 887h0M225 836h0M204 858h0M197 850h0M206 828h0M200 834h0M201 855h0M204 908h0M208 797h0M221 865h0M218 892h0M254 818h0M244 884h0M236 818h0M249 870h0M236 795h0M235 844h0M244 900h0M249 847h0M245 899h0M237 871h0M233 760h0M230 892h0M249 848h0M258 895h0M235 849h0M238 795h0M233 790h0M242 884h0M241 889h0M255 896h0M256 898h0M246 885h0M237 784h0M249 865h0M241 858h0M238 848h0M229 900h0M247 854h0M233 813h0M243 843h0M255 865h0M242 866h0M233 848h0M245 786h0M244 907h0M237 876h0M229 890h0M243 893h0M231 843h0M252 885h0M234 884h0M242 835h0M244 839h0M245 809h0M251 809h0M248 869h0M231 881h0M254 780h0M256 822h0M260 862h0M260 871h0M241 905h0M255 859h0M254 866h0M250 882h0M248 814h0M249 909h0M238 910h0M253 902h0M251 899h0M235 905h0M258 839h0M248 905h0M248 879h0M229 905h0M257 905h0M248 869h0M250 901h0M235 771h0M256 819h0M249 860h0M253 884h0M248 887h0M260 851h0M231 817h0M240 898h0M251 880h0M246 892h0M238 874h0M242 848h0M257 901h0M243 849h0M249 905h0M240 812h0M245 835h0M256 904h0M244 887h0M256 824h0M240 794h0M233 797h0M242 862h0M252 789h0M254 845h0M243 884h0M240 903h0M252 896h0M258 901h0M243 855h0M243 902h0M233 860h0M242 883h0M240 890h0M256 890h0M240 905h0M244 855h0M244 886h0M238 906h0M253 876h0M242 876h0M237 846h0M235 862h0M246 852h0M256 846h0M260 815h0M259 894h0M240 874h0M258 873h0M238 812h0M235 902h0M251 843h0M261 906h0M262 885h0M264 872h0M278 809h0M291 853h0M268 902h0M281 817h0M272 875h0M291 852h0M292 760h0M262 901h0M269 804h0M276 866h0M265 875h0M290 896h0M266 808h0M284 882h0M289 860h0M262 869h0M288 861h0M288 878h0M273 874h0M268 883h0M292 868h0M286 856h0M273 898h0M273 858h0M289 909h0M282 902h0M270 889h0M278 886h0M269 900h0M270 774h0M284 844h0M262 910h0M290 824h0M276 839h0M278 903h0M271 903h0M278 908h0M270 872h0M263 895h0M265 908h0M284 908h0M280 873h0M292 888h0M274 811h0M290 876h0M289 900h0M279 852h0M280 864h0M269 904h0M268 884h0M284 904h0M285 877h0M291 880h0M277 893h0M286 877h0M279 901h0M281 874h0M278 894h0M292 903h0M264 874h0M292 869h0M285 910h0M265 819h0M266 854h0M278 904h0M282 889h0M268 865h0M261 758h0M270 813h0M281 772h0M268 873h0M289 793h0M291 856h0M282 775h0M280 885h0M287 885h0M289 861h0M285 776h0M272 896h0M272 904h0M271 900h0M265 815h0M291 760h0M269 821h0M276 889h0M291 852h0M264 909h0M262 806h0M267 775h0M280 872h0M287 805h0M276 878h0M269 817h0M289 888h0M288 782h0M272 885h0M288 903h0M267 907h0M276 908h0M269 905h0M284 891h0M267 883h0M290 839h0M263 899h0M291 878h0M266 906h0M285 848h0M263 874h0M264 862h0M263 905h0M264 744h0M287 871h0M274 896h0M279 815h0M278 897h0M292 807h0M263 908h0M294 868h0M311 889h0M307 784h0M299 823h0M317 874h0M300 872h0M305 792h0M304 764h0M298 804h0M324 842h0M307 851h0M301 806h0M313 904h0M296 901h0M324 861h0M320 891h0M296 739h0M324 901h0M300 899h0M297 835h0M299 903h0M306 858h0M299 799h0M319 773h0M313 882h0M298 842h0M308 748h0M321 866h0M302 909h0M317 908h0M317 895h0M326 834h0M307 898h0M308 817h0M315 898h0M308 815h0M298 881h0M321 879h0M324 884h0M309 883h0M323 819h0M307 798h0M298 874h0M320 863h0M304 897h0M308 906h0M325 870h0M323 843h0M308 896h0M296 837h0M314 859h0M300 908h0M299 818h0M307 849h0M322 880h0M322 879h0M312 807h0M304 903h0M313 891h0M317 896h0M322 840h0M297 856h0M312 814h0M310 738h0M308 886h0M316 860h0M321 850h0M300 864h0M317 792h0M309 899h0M312 796h0M322 902h0M300 831h0M321 839h0M324 858h0M294 863h0M320 845h0M318 761h0M320 739h0M296 871h0M295 899h0M320 754h0M319 768h0M312 874h0M299 908h0M296 879h0M310 887h0M299 899h0M308 904h0M308 801h0M317 837h0M319 812h0M295 868h0M303 899h0M313 885h0M303 868h0M317 899h0M298 837h0M319 839h0M314 863h0M309 791h0M299 836h0M312 801h0M314 897h0M308 805h0M317 887h0M309 888h0M298 881h0M303 862h0M320 871h0M325 861h0M300 896h0M316 906h0M301 890h0M325 849h0M324 826h0M311 749h0M318 895h0M296 895h0M317 882h0M340 850h0M332 902h0M342 855h0M350 863h0M354 859h0M343 758h0M343 883h0M332 893h0M341 833h0M339 908h0M328 887h0M346 908h0M353 812h0M334 855h0M335 849h0M337 894h0M330 901h0M358 905h0M350 839h0M348 903h0M343 896h0M355 874h0M327 903h0M343 857h0M329 847h0M349 882h0M337 856h0M328 909h0M335 776h0M336 905h0M344 896h0M344 907h0M344 847h0M334 855h0M350 880h0M353 890h0M342 897h0M348 773h0M338 890h0M351 890h0M353 883h0M353 838h0M336 864h0M340 840h0M341 907h0M329 897h0M357 891h0M340 843h0M339 857h0M335 860h0M352 794h0M344 875h0M351 882h0M356 802h0M356 903h0M330 895h0M347 878h0M347 902h0M353 819h0M337 899h0M338 893h0M358 780h0M344 891h0M358 854h0M330 874h0M331 904h0M329 871h0M333 839h0M350 907h0M351 873h0M339 858h0M354 905h0M335 842h0M347 905h0M350 750h0M358 756h0M332 902h0M330 872h0M353 870h0M353 892h0M353 892h0M330 905h0M345 907h0M349 908h0M355 877h0M353 881h0M338 826h0M346 819h0M340 856h0M343 900h0M340 866h0M356 899h0M330 861h0M333 860h0M342 869h0M356 821h0M355 905h0M331 744h0M341 905h0M330 908h0M333 867h0M333 855h0M346 844h0M348 905h0M358 756h0M349 907h0M340 887h0M328 873h0M331 850h0M330 794h0M344 851h0M330 908h0M339 869h0M330 900h0M353 894h0M351 901h0M353 903h0M355 821h0M358 880h0M347 878h0M364 804h0M381 907h0M366 894h0M365 869h0M366 891h0M385 904h0M383 798h0M389 875h0M377 863h0M371 909h0M380 895h0M369 851h0M362 803h0M361 812h0M391 825h0M380 870h0M383 879h0M374 863h0M389 812h0M367 890h0M371 885h0M368 862h0M368 873h0M385 875h0M389 823h0M368 747h0M381 819h0M375 851h0M377 758h0M363 743h0M363 883h0M374 833h0M370 887h0M369 870h0M379 869h0M366 909h0M380 865h0M383 856h0M388 876h0M375 822h0M385 859h0M368 890h0M375 868h0M375 907h0M387 759h0M382 863h0M361 882h0M376 806h0M379 853h0M377 888h0M381 830h0M361 765h0M360 814h0M370 887h0M388 813h0M377 861h0M360 844h0M374 882h0M369 907h0M363 890h0M371 897h0M386 845h0M384 887h0M362 835h0M387 896h0M379 901h0M385 857h0M385 820h0M382 901h0M380 774h0M374 905h0M370 888h0M371 889h0M375 876h0M375 892h0M370 750h0M389 893h0M385 836h0M391 761h0M359 888h0M380 829h0M388 880h0M377 812h0M373 853h0M369 898h0M375 832h0M380 866h0M363 744h0M384 904h0M377 895h0M381 867h0M372 849h0M389 854h0M374 800h0M368 831h0M359 755h0M384 860h0M377 764h0M379 867h0M371 825h0M367 849h0M362 905h0M372 898h0M384 901h0M371 840h0M372 898h0M386 786h0M372 840h0M375 802h0M388 885h0M361 843h0M374 906h0M373 820h0M364 864h0M372 854h0M366 883h0M386 856h0M379 864h0M382 861h0M360 838h0M393 869h0M416 833h0M411 882h0M416 907h0M418 843h0M421 871h0M392 878h0M402 904h0M399 895h0M413 904h0M422 778h0M408 884h0M411 865h0M406 832h0M402 909h0M414 909h0M414 859h0M423 859h0M410 899h0M407 886h0M417 895h0M400 885h0M392 794h0M422 897h0M398 844h0M413 901h0M424 803h0M395 826h0M406 817h0M393 864h0M408 909h0M401 848h0M420 906h0M418 904h0M406 853h0M409 875h0M407 825h0M398 873h0M419 862h0M411 849h0M423 874h0M408 795h0M418 845h0M412 892h0M416 890h0M423 888h0M409 839h0M411 859h0M393 891h0M401 874h0M399 872h0M423 896h0M416 881h0M395 901h0M406 839h0M393 813h0M411 869h0M415 895h0M395 897h0M393 900h0M417 879h0M401 898h0M399 885h0M419 788h0M413 902h0M392 768h0M393 879h0M396 887h0M398 873h0M404 830h0M410 905h0M416 873h0M400 828h0M415 881h0M411 862h0M406 885h0M408 887h0M402 890h0M395 908h0M403 789h0M404 893h0M406 775h0M417 842h0M398 880h0M420 909h0M417 859h0M411 787h0M410 903h0M395 870h0M403 909h0M420 882h0M419 887h0M404 881h0M393 858h0M394 843h0M416 857h0M413 906h0M403 867h0M402 818h0M405 897h0M418 882h0M405 896h0M407 819h0M397 885h0M409 884h0M424 819h0M408 864h0M407 824h0M414 892h0M399 803h0M394 792h0M404 897h0M407 769h0M400 884h0M410 872h0M420 855h0M415 902h0M415 854h0M420 812h0M406 887h0M430 799h0M456 874h0M438 879h0M440 877h0M428 822h0M438 873h0M434 794h0M456 887h0M447 909h0M434 909h0M446 847h0M432 849h0M452 879h0M442 890h0M452 861h0M450 812h0M448 885h0M427 775h0M439 832h0M445 881h0M454 811h0M454 814h0M441 791h0M454 839h0M427 856h0M446 879h0M428 909h0M447 799h0M450 909h0M437 853h0M428 848h0M447 901h0M444 841h0M431 875h0M455 902h0M438 889h0M425 867h0M431 887h0M454 903h0M434 898h0M450 891h0M445 788h0M444 850h0M446 908h0M454 782h0M447 902h0M434 893h0M429 893h0M435 842h0M433 851h0M443 894h0M446 876h0M432 861h0M427 896h0M447 905h0M425 886h0M452 908h0M431 851h0M453 816h0M430 906h0M449 842h0M440 891h0M437 885h0M443 801h0M454 850h0M446 762h0M436 908h0M426 871h0M442 843h0M442 832h0M437 890h0M438 901h0M429 867h0M445 907h0M449 849h0M427 872h0M434 866h0M432 768h0M445 810h0M444 889h0M433 906h0M426 836h0M454 861h0M451 822h0M436 887h0M427 892h0M426 905h0M435 895h0M440 881h0M436 802h0M450 872h0M448 874h0M434 774h0M454 800h0M429 894h0M446 831h0M456 896h0M456 872h0M448 868h0M451 901h0M432 875h0M446 876h0M449 779h0M449 760h0M430 882h0M439 767h0M450 842h0M431 857h0M446 870h0M437 903h0M432 814h0M432 909h0M434 876h0M433 865h0M454 876h0M449 803h0M442 875h0M431 813h0M429 883h0M435 873h0M469 843h0M476 846h0M471 856h0M461 877h0M468 847h0M486 890h0M461 877h0M470 851h0M477 881h0M486 868h0M483 888h0M466 798h0M462 909h0M485 864h0M465 872h0M483 856h0M475 754h0M475 897h0M464 868h0M485 903h0M485 890h0M457 860h0M489 770h0M479 898h0M486 907h0M477 901h0M476 827h0M463 781h0M461 847h0M464 907h0M470 902h0M467 902h0M480 795h0M461 890h0M467 904h0M462 906h0M484 886h0M462 906h0M474 907h0M485 785h0M483 883h0M474 880h0M468 890h0M470 848h0M468 897h0M469 907h0M475 759h0M472 891h0M462 864h0M466 863h0M465 903h0M480 885h0M473 907h0M484 858h0M482 901h0M461 885h0M480 843h0M480 892h0M479 864h0M467 902h0M463 880h0M469 902h0M473 848h0M474 866h0M481 827h0M461 886h0M469 901h0M480 877h0M464 904h0M485 828h0M475 891h0M465 862h0M459 869h0M486 893h0M470 776h0M467 899h0M459 752h0M466 891h0M489 883h0M487 875h0M458 846h0M468 883h0M465 897h0M486 895h0M472 860h0M477 889h0M458 884h0M483 899h0M480 840h0M477 876h0M478 908h0M477 801h0M479 865h0M470 818h0M478 903h0M487 848h0M476 908h0M459 767h0M478 842h0M475 805h0M483 841h0M458 895h0M463 835h0M461 902h0M486 776h0M481 871h0M461 889h0M466 853h0M480 907h0M478 910h0M466 897h0M481 883h0M460 848h0M475 887h0M483 875h0M482 807h0M462 893h0M464 816h0M471 869h0M488 853h0M492 895h0M497 821h0M499 860h0M510 791h0M501 808h0M511 896h0M492 897h0M493 797h0M493 878h0M509 906h0M521 815h0M503 770h0M511 908h0M494 870h0M495 893h0M500 748h0M513 859h0M497 820h0M520 797h0M500 904h0M509 891h0M518 818h0M522 871h0M513 848h0M510 875h0M516 857h0M500 867h0M501 890h0M508 891h0M503 891h0M501 859h0M497 905h0M505 788h0M509 907h0M519 893h0M491 831h0M493 887h0M516 889h0M518 803h0M508 872h0M499 859h0M496 725h0M497 745h0M505 819h0M515 907h0M493 859h0M510 792h0M518 904h0M521 907h0M515 821h0M511 763h0M504 881h0M506 879h0M510 841h0M514 870h0M519 908h0M500 893h0M506 831h0M493 883h0M505 835h0M503 887h0M521 859h0M500 850h0M499 902h0M496 898h0M502 827h0M495 887h0M519 830h0M498 838h0M494 873h0M494 889h0M512 869h0M514 865h0M515 793h0M510 877h0M512 854h0M517 822h0M515 873h0M517 874h0M517 874h0M520 901h0M522 906h0M493 827h0M499 889h0M497 876h0M507 899h0M501 832h0M492 906h0M521 909h0M498 838h0M490 775h0M491 732h0M492 897h0M497 821h0M502 879h0M516 857h0M494 856h0M512 906h0M506 875h0M498 902h0M521 762h0M504 885h0M515 776h0M513 886h0M494 889h0M502 764h0M507 786h0M503 761h0M495 868h0M504 909h0M502 901h0M501 870h0M515 825h0M507 871h0M505 868h0M491 833h0M496 891h0M491 867h0M515 822h0M519 873h0M535 870h0M536 903h0M546 884h0M526 804h0M540 866h0M537 880h0M536 880h0M551 860h0M554 853h0M548 883h0M552 805h0M531 864h0M543 864h0M545 903h0M531 831h0M545 888h0M552 910h0M539 831h0M533 862h0M530 809h0M523 840h0M552 908h0M525 910h0M540 826h0M550 901h0M537 903h0M549 844h0M539 840h0M530 902h0M539 861h0M554 889h0M552 825h0M553 895h0M553 864h0M530 751h0M524 896h0M527 778h0M523 867h0M550 820h0M531 762h0M545 897h0M527 864h0M535 853h0M546 835h0M529 882h0M552 907h0M542 910h0M553 842h0M554 846h0M539 849h0M534 905h0M541 906h0M552 881h0M540 781h0M540 901h0M551 816h0M523 892h0M532 836h0M532 907h0M529 871h0M544 828h0M536 864h0M538 882h0M546 887h0M537 892h0M537 867h0M548 904h0M532 890h0M550 813h0M550 851h0M525 907h0M546 766h0M554 890h0M550 825h0M548 881h0M535 906h0M531 903h0M550 890h0M554 870h0M527 810h0M529 875h0M532 898h0M554 860h0M534 807h0M536 879h0M545 890h0M536 879h0M530 891h0M554 908h0M542 839h0M546 840h0M525 893h0M547 858h0M530 778h0M551 906h0M538 839h0M548 903h0M548 909h0M533 882h0M526 812h0M550 893h0M543 890h0M545 856h0M533 895h0M553 882h0M544 901h0M554 819h0M527 901h0M548 859h0M545 849h0M551 875h0M543 868h0M543 907h0M528 902h0M552 893h0M527 774h0M524 850h0M544 904h0M544 909h0M530 767h0M576 727h0M564 908h0M562 891h0M559 875h0M579 848h0M558 880h0M566 851h0M579 890h0M558 836h0M585 829h0M565 852h0M568 893h0M573 874h0M559 763h0M575 858h0M577 857h0M570 762h0M572 909h0M558 876h0M568 806h0M575 910h0M565 865h0M566 845h0M563 765h0M572 876h0M574 879h0M581 851h0M580 883h0M569 881h0M569 908h0M581 831h0M585 867h0M571 855h0M576 871h0M562 886h0M560 812h0M577 803h0M579 778h0M576 892h0M577 863h0M570 834h0M564 865h0M557 890h0M579 877h0M577 803h0M557 885h0M586 808h0M582 846h0M583 908h0M568 855h0M556 835h0M556 741h0M558 814h0M586 707h0M580 869h0M562 878h0M571 838h0M571 843h0M568 755h0M581 893h0M572 836h0M563 907h0M586 895h0M562 739h0M564 881h0M583 901h0M580 895h0M571 872h0M569 799h0M566 898h0M561 776h0M562 897h0M578 903h0M567 900h0M567 892h0M587 892h0M586 887h0M581 877h0M556 837h0M558 894h0M572 769h0M564 801h0M558 796h0M577 868h0M567 823h0M579 887h0M566 728h0M562 909h0M566 861h0M561 879h0M575 892h0M563 874h0M569 909h0M564 857h0M576 834h0M569 901h0M574 885h0M566 692h0M573 907h0M558 765h0M568 909h0M577 786h0M585 886h0M557 879h0M557 884h0M566 907h0M569 876h0M572 726h0M556 831h0M565 771h0M559 835h0M560 862h0M569 803h0M582 713h0M564 893h0M565 822h0M556 893h0M577 797h0M587 892h0M564 895h0M594 882h0M595 909h0M594 781h0M614 873h0M606 906h0M591 815h0M609 800h0M618 882h0M617 851h0M597 803h0M589 900h0M591 902h0M595 822h0M589 847h0M591 900h0M604 899h0M595 870h0M615 737h0M608 901h0M611 882h0M597 896h0M607 899h0M601 877h0M617 797h0M591 904h0M598 856h0M608 900h0M599 826h0M592 817h0M607 792h0M611 859h0M600 859h0M607 895h0M614 854h0M604 889h0M605 897h0M597 833h0M614 898h0M599 886h0M614 856h0M609 799h0M591 789h0M613 888h0M598 883h0M597 883h0M603 907h0M619 898h0M604 779h0M596 871h0M588 749h0M592 909h0M595 893h0M595 799h0M608 842h0M589 832h0M603 760h0M613 904h0M599 844h0M602 831h0M603 865h0M614 817h0M617 883h0M610 806h0M602 838h0M613 857h0M602 829h0M605 908h0M599 887h0M603 884h0M614 866h0M601 829h0M597 778h0M611 849h0M611 877h0M611 759h0M592 876h0M607 836h0M589 864h0M592 908h0M620 906h0M617 876h0M615 878h0M594 908h0M606 829h0M591 889h0M606 788h0M605 863h0M593 804h0M599 890h0M594 866h0M591 887h0M588 826h0M592 903h0M593 796h0M607 881h0M602 840h0M591 871h0M620 906h0M612 866h0M608 901h0M606 823h0M619 740h0M596 900h0M593 875h0M597 867h0M594 903h0M597 908h0M608 878h0M615 906h0M611 816h0M591 874h0M598 898h0M620 849h0M616 895h0M614 766h0M610 889h0M614 820h0M620 811h0M602 818h0M592 892h0M647 882h0M650 902h0M625 814h0M641 810h0M636 893h0M632 858h0M623 869h0M645 885h0M650 839h0M639 875h0M650 885h0M641 825h0M642 890h0M636 785h0M632 906h0M621 885h0M631 901h0M652 839h0M650 863h0M629 856h0M634 853h0M631 759h0M624 908h0M639 848h0M647 872h0M644 830h0M642 890h0M623 832h0M635 908h0M629 846h0M629 890h0M650 857h0M635 907h0M636 888h0M645 906h0M639 838h0M624 907h0M623 890h0M640 892h0M623 745h0M635 900h0M625 828h0M624 876h0M637 873h0M628 900h0M627 862h0M622 898h0M639 900h0M630 881h0M623 882h0M645 890h0M647 863h0M652 897h0M631 900h0M628 781h0M643 860h0M636 905h0M640 780h0M647 777h0M624 871h0M650 814h0M646 828h0M634 832h0M626 890h0M645 857h0M641 781h0M632 821h0M635 898h0M631 879h0M637 854h0M650 897h0M641 828h0M640 907h0M652 903h0M637 903h0M649 898h0M649 880h0M623 875h0M625 862h0M631 884h0M631 901h0M632 816h0M642 908h0M628 826h0M628 896h0M624 816h0M641 856h0M643 909h0M635 837h0M643 878h0M635 882h0M636 813h0M621 867h0M627 881h0M635 899h0M650 788h0M625 893h0M636 909h0M651 795h0M652 819h0M634 839h0M638 891h0M626 887h0M644 846h0M651 857h0M635 909h0M639 780h0M649 880h0M647 890h0M646 827h0M625 817h0M632 892h0M642 791h0M633 906h0M642 890h0M631 780h0M630 867h0M639 908h0M652 906h0M643 885h0M677 853h0M654 878h0M672 892h0M662 846h0M672 829h0M682 837h0M684 873h0M663 907h0M675 905h0M667 906h0M681 909h0M678 853h0M659 877h0M674 892h0M672 807h0M666 885h0M683 814h0M656 847h0M670 883h0M668 886h0M655 885h0M683 884h0M678 904h0M674 897h0M668 903h0M673 883h0M675 904h0M661 841h0M683 907h0M664 871h0M660 820h0M655 832h0M667 910h0M668 903h0M668 804h0M654 860h0M681 879h0M657 847h0M665 885h0M673 903h0M679 795h0M676 908h0M663 858h0M654 908h0M670 896h0M657 887h0M675 814h0M654 892h0M675 853h0M679 819h0M683 879h0M674 900h0M682 899h0M683 900h0M658 818h0M678 841h0M672 831h0M681 908h0M660 892h0M665 835h0M658 903h0M658 759h0M677 896h0M656 848h0M669 849h0M674 877h0M661 896h0M670 861h0M656 848h0M679 897h0M669 851h0M668 771h0M666 891h0M668 899h0M657 821h0M667 885h0M660 890h0M661 848h0M684 905h0M682 835h0M663 907h0M678 861h0M679 907h0M685 860h0M654 869h0M678 883h0M670 876h0M670 861h0M660 904h0M674 793h0M657 882h0M656 804h0M675 898h0M662 887h0M663 889h0M685 809h0M655 877h0M666 875h0M673 859h0M668 793h0M673 906h0M658 794h0M677 864h0M668 899h0M664 872h0M660 902h0M658 864h0M685 905h0M660 838h0M680 798h0M683 771h0M661 867h0M666 869h0M664 854h0M673 837h0M661 897h0M656 903h0M684 853h0M669 903h0M662 856h0M689 728h0M708 787h0M714 877h0M701 900h0M697 795h0M704 875h0M714 850h0M699 870h0M687 888h0M688 793h0M687 859h0M696 834h0M696 893h0M714 880h0M693 789h0M713 892h0M689 850h0M687 872h0M692 891h0M689 895h0M692 879h0M703 753h0M691 826h0M700 900h0M706 854h0M688 909h0M705 871h0M710 866h0M690 878h0M703 815h0M703 904h0M690 863h0M715 883h0M712 849h0M708 847h0M710 802h0M704 866h0M690 858h0M688 892h0M703 900h0M695 900h0M690 881h0M717 840h0M697 879h0M697 903h0M714 776h0M710 804h0M700 909h0M695 885h0M709 779h0M691 823h0M713 864h0M705 879h0M706 908h0M705 875h0M706 844h0M710 875h0M687 908h0M691 899h0M700 879h0M715 898h0M692 849h0M705 780h0M694 784h0M697 842h0M716 832h0M690 860h0M716 819h0M697 878h0M693 874h0M697 886h0M703 864h0M703 857h0M687 803h0M688 758h0M707 810h0M704 819h0M700 896h0M699 807h0M698 902h0M688 860h0M700 895h0M696 905h0M692 908h0M688 824h0M694 865h0M693 847h0M711 850h0M694 871h0M710 907h0M694 846h0M687 905h0M709 778h0M707 881h0M715 871h0M690 883h0M710 892h0M706 909h0M696 854h0M707 857h0M695 910h0M697 900h0M694 857h0M693 787h0M717 899h0M715 856h0M698 804h0M716 853h0M690 840h0M706 901h0M705 886h0M690 903h0M705 904h0M710 742h0M702 802h0M702 851h0M693 906h0M717 840h0M695 810h0M689 854h0M721 885h0M724 775h0M749 885h0M724 883h0M734 869h0M743 900h0M721 900h0M728 880h0M732 781h0M732 772h0M745 867h0M728 873h0M746 787h0M750 837h0M744 875h0M721 906h0M742 846h0M736 906h0M723 900h0M738 861h0M724 793h0M727 836h0M734 809h0M722 876h0M735 872h0M734 887h0M734 897h0M728 888h0M719 835h0M720 858h0M732 863h0M742 779h0M723 872h0M728 865h0M749 871h0M734 862h0M728 907h0M726 902h0M735 855h0M724 862h0M745 901h0M719 884h0M731 874h0M740 891h0M744 826h0M741 802h0M745 822h0M730 910h0M748 844h0M734 839h0M744 905h0M734 890h0M745 884h0M747 852h0M744 819h0M735 864h0M723 898h0M730 896h0M734 910h0M721 759h0M747 897h0M721 857h0M722 871h0M726 852h0M747 775h0M734 792h0M731 848h0M747 901h0M745 821h0M745 870h0M737 903h0M731 892h0M728 876h0M744 906h0M745 875h0M723 807h0M722 789h0M740 891h0M735 908h0M720 890h0M744 814h0M723 899h0M737 874h0M724 875h0M721 907h0M746 856h0M732 909h0M736 868h0M739 897h0M724 895h0M727 906h0M734 893h0M729 836h0M737 861h0M749 784h0M720 904h0M742 762h0M728 894h0M744 868h0M744 883h0M725 848h0M733 876h0M722 860h0M720 885h0M728 908h0M742 867h0M729 902h0M746 880h0M744 841h0M727 873h0M729 900h0M747 905h0M722 868h0M731 895h0M720 884h0M749 878h0M744 849h0M734 803h0M725 877h0M738 901h0" stroke="#444" stroke-width="1.3" stroke-linecap="round" opacity="0.8"/>
<path d="M56.6 378.6L56.5 382.0L56.5 385.3L56.4 388.6L56.3 391.7L56.2 394.8L56.1 397.8L56.0 400.8L55.9 403.6L55.8 406.4L55.6 409.1L55.4 411.8L55.2 414.3L55.0 416.8L54.8 419.2L54.5 421.5L54.2 423.8L53.9 426.0L53.6 428.1L53.2 430.1L52.8 432.0L52.4 433.9L52.0 435.7L51.6 437.4L51.1 439.1L50.6 440.6L50.2 442.1L50.0 443.5L49.9 444.9L49.8 446.1L49.7 447.3L49.7 448.4L49.6 449.4L49.6 450.4L49.6 451.3L49.6 452.1L49.6 452.8L49.8 453.5L50.0 454.0L50.3 454.5L50.7 454.9L51.2 455.3L51.6 455.6L52.1 455.7L52.7 455.9L53.2 455.9L60.4 455.9L60.9 455.9L61.5 455.7L62.0 455.6L62.4 455.3L62.9 454.9L63.3 454.5L63.6 454.0L63.8 453.5L64.0 452.8L64.0 452.1L64.0 451.3L64.0 450.4L64.0 449.4L63.9 448.4L63.9 447.3L63.8 446.1L63.7 444.9L63.6 443.5L63.4 442.1L63.0 440.6L62.5 439.1L62.0 437.4L61.6 435.7L61.2 433.9L60.8 432.0L60.4 430.1L60.0 428.1L59.7 426.0L59.4 423.8L59.1 421.5L58.8 419.2L58.6 416.8L58.4 414.3L58.2 411.8L58.0 409.1L57.8 406.4L57.7 403.6L57.6 400.8L57.5 397.8L57.4 394.8L57.3 391.7L57.2 388.6L57.1 385.3L57.1 382.0L56.9 378.6Z" fill="#800000" stroke="#444" stroke-width="0.35"/>
<path d="M73.0 366.4L72.9 370.3L72.9 374.2L72.9 377.9L72.9 381.6L72.8 385.2L72.7 388.7L72.7 392.1L72.6 395.4L72.5 398.6L72.3 401.8L72.2 404.8L72.0 407.8L71.8 410.6L71.6 413.4L71.4 416.1L71.2 418.7L70.9 421.2L70.6 423.7L70.2 426.0L69.9 428.3L69.5 430.4L69.1 432.5L68.6 434.5L68.2 436.4L67.7 438.2L67.2 439.9L66.6 441.6L66.4 443.1L66.3 444.6L66.2 446.0L66.1 447.2L66.0 448.4L66.0 449.5L66.0 450.6L66.0 451.5L66.0 452.3L66.0 453.1L66.2 453.7L66.5 454.3L66.9 454.8L67.4 455.2L67.9 455.5L68.4 455.7L69.0 455.9L69.6 455.9L76.8 455.9L77.3 455.9L77.9 455.7L78.4 455.5L78.9 455.2L79.4 454.8L79.8 454.3L80.1 453.7L80.3 453.1L80.3 452.3L80.3 451.5L80.3 450.6L80.3 449.5L80.3 448.4L80.2 447.2L80.1 446.0L80.0 444.6L79.9 443.1L79.7 441.6L79.1 439.9L78.6 438.2L78.1 436.4L77.7 434.5L77.2 432.5L76.8 430.4L76.4 428.3L76.1 426.0L75.7 423.7L75.4 421.2L75.1 418.7L74.9 416.1L74.7 413.4L74.5 410.6L74.3 407.8L74.1 404.8L74.0 401.8L73.8 398.6L73.7 395.4L73.6 392.1L73.6 388.7L73.5 385.2L73.4 381.6L73.4 377.9L73.4 374.2L73.4 370.3L73.3 366.4Z" fill="#f58231" stroke="#444" stroke-width="0.35"/>
<path d="M89.3 390.0L89.3 392.9L89.3 395.7L89.3 398.5L89.3 401.2L89.3 403.8L89.3 406.4L89.3 408.9L89.3 411.3L89.3 413.7L89.2 416.0L89.2 418.3L89.1 420.5L89.1 422.6L89.0 424.6L88.9 426.6L88.8 428.5L88.6 430.4L88.5 432.2L88.3 433.9L88.1 435.6L87.9 437.2L87.7 438.7L87.5 440.1L87.2 441.5L87.0 442.9L86.7 444.2L86.4 445.4L86.1 446.5L85.7 447.6L85.4 448.6L85.1 449.5L84.7 450.4L84.4 451.2L84.0 452.0L82.5 452.6L82.6 453.3L82.8 453.8L83.1 454.3L83.4 454.7L83.8 455.1L84.2 455.4L84.6 455.6L85.1 455.8L85.5 455.9L86.0 455.9L93.0 455.9L93.5 455.9L93.9 455.8L94.4 455.6L94.8 455.4L95.2 455.1L95.6 454.7L95.9 454.3L96.2 453.8L96.4 453.3L96.5 452.6L95.0 452.0L94.6 451.2L94.3 450.4L93.9 449.5L93.6 448.6L93.3 447.6L92.9 446.5L92.6 445.4L92.3 444.2L92.0 442.9L91.8 441.5L91.5 440.1L91.3 438.7L91.1 437.2L90.9 435.6L90.7 433.9L90.5 432.2L90.4 430.4L90.2 428.5L90.1 426.6L90.0 424.6L89.9 422.6L89.9 420.5L89.8 418.3L89.8 416.0L89.7 413.7L89.7 411.3L89.7 408.9L89.7 406.4L89.7 403.8L89.7 401.2L89.7 398.5L89.7 395.7L89.7 392.9L89.7 390.0Z" fill="#3cb44b" stroke="#444" stroke-width="0.35"/>
<path d="M105.7 402.5L105.5 404.8L105.5 407.1L105.5 409.4L105.5 411.6L105.5 413.7L105.5 415.8L105.5 417.8L105.5 419.8L105.5 421.7L105.5 423.6L105.5 425.4L105.5 427.2L105.5 428.9L105.5 430.6L105.5 432.2L105.5 433.7L105.5 435.2L105.5 436.7L105.5 438.1L105.5 439.4L105.5 440.7L105.5 442.0L105.5 443.1L105.5 444.3L105.5 445.4L105.5 446.4L105.5 447.4L105.5 448.3L105.5 449.1L105.5 450.0L105.5 450.7L105.5 451.4L105.5 452.1L98.9 452.7L99.0 453.3L99.1 453.8L99.4 454.2L99.6 454.6L100.0 455.0L100.3 455.2L100.7 455.5L101.1 455.7L101.5 455.8L101.9 455.9L102.3 455.9L109.3 455.9L109.8 455.9L110.2 455.8L110.6 455.7L111.0 455.5L111.4 455.2L111.7 455.0L112.1 454.6L112.3 454.2L112.6 453.8L112.7 453.3L112.8 452.7L106.2 452.1L106.2 451.4L106.2 450.7L106.2 450.0L106.2 449.1L106.2 448.3L106.2 447.4L106.2 446.4L106.2 445.4L106.2 444.3L106.2 443.1L106.2 442.0L106.2 440.7L106.2 439.4L106.2 438.1L106.2 436.7L106.2 435.2L106.2 433.7L106.2 432.2L106.2 430.6L106.2 428.9L106.2 427.2L106.2 425.4L106.2 423.6L106.2 421.7L106.2 419.8L106.2 417.8L106.2 415.8L106.2 413.7L106.2 411.6L106.2 409.4L106.2 407.1L106.2 404.8L106.0 402.5Z" fill="#e6194b" stroke="#444" stroke-width="0.35"/>
<path d="M122.0 390.3L121.9 393.2L121.8 396.0L121.8 398.8L121.7 401.4L121.6 404.1L121.5 406.6L121.4 409.1L121.2 411.6L121.1 413.9L120.9 416.2L120.8 418.5L120.6 420.6L120.3 422.7L120.1 424.8L119.8 426.7L119.5 428.7L119.2 430.5L118.9 432.3L118.5 434.0L118.2 435.7L117.8 437.2L117.3 438.8L116.9 440.2L116.4 441.6L115.9 442.9L115.5 444.2L115.4 445.4L115.3 446.5L115.2 447.6L115.1 448.6L115.1 449.6L115.0 450.4L115.0 451.2L115.0 452.0L115.0 452.7L115.1 453.3L115.3 453.8L115.6 454.3L115.9 454.7L116.3 455.1L116.7 455.4L117.2 455.6L117.6 455.8L118.1 455.9L118.6 455.9L125.8 455.9L126.3 455.9L126.8 455.8L127.2 455.6L127.7 455.4L128.1 455.1L128.5 454.7L128.8 454.3L129.1 453.8L129.3 453.3L129.4 452.7L129.4 452.0L129.4 451.2L129.4 450.4L129.3 449.6L129.3 448.6L129.2 447.6L129.1 446.5L129.0 445.4L128.9 444.2L128.5 442.9L128.0 441.6L127.5 440.2L127.1 438.8L126.6 437.2L126.2 435.7L125.9 434.0L125.5 432.3L125.2 430.5L124.9 428.7L124.6 426.7L124.3 424.8L124.1 422.7L123.8 420.6L123.6 418.5L123.5 416.2L123.3 413.9L123.2 411.6L123.0 409.1L122.9 406.6L122.8 404.1L122.7 401.4L122.6 398.8L122.6 396.0L122.5 393.2L122.4 390.3Z" fill="#ffe119" stroke="#444" stroke-width="0.35"/>
<path d="M138.4 380.1L138.3 383.4L138.3 386.7L138.3 389.9L138.2 393.0L138.2 396.0L138.1 399.0L138.0 401.8L137.9 404.7L137.8 407.4L137.7 410.0L137.5 412.6L137.4 415.1L137.2 417.6L137.0 419.9L136.7 422.2L136.5 424.4L136.2 426.6L135.9 428.6L135.6 430.6L135.2 432.5L134.8 434.3L134.4 436.1L134.0 437.8L133.5 439.4L133.0 440.9L132.5 442.4L132.0 443.8L131.8 445.1L131.6 446.3L131.5 447.5L131.5 448.6L131.4 449.6L131.4 450.5L131.4 451.4L131.4 452.2L131.4 452.9L131.5 453.5L131.8 454.1L132.1 454.6L132.5 455.0L132.9 455.3L133.4 455.6L133.9 455.8L134.4 455.9L135.0 455.9L142.2 455.9L142.7 455.9L143.2 455.8L143.7 455.6L144.2 455.3L144.6 455.0L145.0 454.6L145.3 454.1L145.6 453.5L145.7 452.9L145.7 452.2L145.7 451.4L145.7 450.5L145.7 449.6L145.6 448.6L145.6 447.5L145.5 446.3L145.3 445.1L145.1 443.8L144.6 442.4L144.1 440.9L143.6 439.4L143.1 437.8L142.7 436.1L142.3 434.3L141.9 432.5L141.5 430.6L141.2 428.6L140.9 426.6L140.6 424.4L140.4 422.2L140.1 419.9L139.9 417.6L139.7 415.1L139.6 412.6L139.4 410.0L139.3 407.4L139.2 404.7L139.1 401.8L139.0 399.0L138.9 396.0L138.9 393.0L138.8 389.9L138.8 386.7L138.8 383.4L138.7 380.1Z" fill="#f032e6" stroke="#444" stroke-width="0.35"/>
<path d="M154.8 378.0L154.7 381.4L154.7 384.8L154.7 388.0L154.7 391.2L154.7 394.3L154.7 397.4L154.7 400.4L154.7 403.2L154.7 406.0L154.7 408.8L154.7 411.4L154.6 414.0L154.5 416.5L154.5 418.9L154.4 421.3L154.3 423.5L154.2 425.7L154.0 427.9L153.9 429.9L153.7 431.9L153.5 433.7L153.3 435.5L153.1 437.3L152.8 438.9L152.5 440.5L152.2 442.0L151.9 443.4L151.5 444.8L151.2 446.1L150.8 447.2L150.4 448.4L150.0 449.4L149.6 450.4L149.3 451.2L148.9 452.1L147.9 452.8L148.1 453.4L148.3 454.0L148.6 454.5L149.0 454.9L149.4 455.3L149.9 455.6L150.4 455.7L150.9 455.9L151.4 455.9L158.4 455.9L158.9 455.9L159.4 455.7L159.9 455.6L160.4 455.3L160.8 454.9L161.2 454.5L161.5 454.0L161.7 453.4L161.9 452.8L160.9 452.1L160.5 451.2L160.2 450.4L159.8 449.4L159.4 448.4L159.0 447.2L158.6 446.1L158.3 444.8L157.9 443.4L157.6 442.0L157.3 440.5L157.0 438.9L156.7 437.3L156.5 435.5L156.3 433.7L156.1 431.9L155.9 429.9L155.8 427.9L155.6 425.7L155.5 423.5L155.4 421.3L155.3 418.9L155.3 416.5L155.2 414.0L155.1 411.4L155.1 408.8L155.1 406.0L155.1 403.2L155.1 400.4L155.1 397.4L155.1 394.3L155.1 391.2L155.1 388.0L155.1 384.8L155.1 381.4L155.1 378.0Z" fill="#4169e1" stroke="#444" stroke-width="0.35"/>
<path d="M171.1 383.1L171.0 386.3L171.0 389.4L170.9 392.5L170.9 395.5L170.8 398.4L170.7 401.2L170.6 404.0L170.5 406.7L170.4 409.3L170.3 411.9L170.1 414.3L170.0 416.7L169.8 419.1L169.5 421.4L169.3 423.5L169.0 425.7L168.7 427.7L168.4 429.7L168.1 431.6L167.7 433.4L167.3 435.2L166.9 436.9L166.5 438.5L166.0 440.0L165.5 441.5L165.0 442.9L164.6 444.3L164.4 445.5L164.3 446.7L164.2 447.8L164.2 448.9L164.1 449.8L164.1 450.7L164.1 451.5L164.1 452.3L164.1 453.0L164.3 453.6L164.5 454.1L164.9 454.6L165.2 455.0L165.7 455.3L166.1 455.6L166.6 455.8L167.1 455.9L167.7 455.9L174.8 455.9L175.4 455.9L175.9 455.8L176.4 455.6L176.8 455.3L177.3 455.0L177.6 454.6L178.0 454.1L178.2 453.6L178.4 453.0L178.4 452.3L178.4 451.5L178.4 450.7L178.4 449.8L178.3 448.9L178.3 447.8L178.2 446.7L178.1 445.5L177.9 444.3L177.5 442.9L177.0 441.5L176.5 440.0L176.0 438.5L175.6 436.9L175.2 435.2L174.8 433.4L174.4 431.6L174.1 429.7L173.8 427.7L173.5 425.7L173.2 423.5L173.0 421.4L172.7 419.1L172.5 416.7L172.4 414.3L172.2 411.9L172.1 409.3L172.0 406.7L171.9 404.0L171.8 401.2L171.7 398.4L171.6 395.5L171.6 392.5L171.5 389.4L171.5 386.3L171.4 383.1Z" fill="#808000" stroke="#444" stroke-width="0.35"/>
<path d="M187.5 381.1L187.4 384.4L187.4 387.6L187.3 390.7L187.3 393.8L187.2 396.8L187.1 399.7L187.0 402.6L186.9 405.3L186.8 408.0L186.7 410.7L186.6 413.2L186.4 415.7L186.2 418.1L186.0 420.4L185.7 422.7L185.5 424.8L185.2 426.9L184.9 429.0L184.6 430.9L184.2 432.8L183.8 434.6L183.4 436.4L182.9 438.0L182.5 439.6L182.0 441.1L181.5 442.6L181.0 443.9L180.8 445.2L180.7 446.4L180.6 447.6L180.5 448.7L180.5 449.7L180.4 450.6L180.4 451.4L180.4 452.2L180.4 452.9L180.6 453.5L180.8 454.1L181.2 454.6L181.6 455.0L182.0 455.3L182.5 455.6L183.0 455.8L183.5 455.9L184.0 455.9L191.2 455.9L191.7 455.9L192.2 455.8L192.7 455.6L193.2 455.3L193.6 455.0L194.0 454.6L194.4 454.1L194.6 453.5L194.8 452.9L194.8 452.2L194.8 451.4L194.8 450.6L194.7 449.7L194.7 448.7L194.6 447.6L194.5 446.4L194.4 445.2L194.2 443.9L193.7 442.6L193.2 441.1L192.7 439.6L192.3 438.0L191.8 436.4L191.4 434.6L191.0 432.8L190.6 430.9L190.3 429.0L190.0 426.9L189.7 424.8L189.5 422.7L189.2 420.4L189.0 418.1L188.8 415.7L188.6 413.2L188.5 410.7L188.4 408.0L188.3 405.3L188.2 402.6L188.1 399.7L188.0 396.8L187.9 393.8L187.9 390.7L187.8 387.6L187.8 384.4L187.8 381.1Z" fill="#000075" stroke="#444" stroke-width="0.35"/>
<path d="M203.8 390.9L203.6 393.8L203.6 396.5L203.5 399.3L203.4 401.9L203.3 404.5L203.2 407.1L203.1 409.5L203.0 412.0L202.8 414.3L202.7 416.6L202.5 418.8L202.3 420.9L202.1 423.0L201.8 425.1L201.5 427.0L201.3 428.9L200.9 430.7L200.6 432.5L200.2 434.2L199.9 435.8L199.5 437.4L199.0 438.9L198.6 440.4L198.1 441.7L197.7 443.1L197.3 444.3L197.1 445.5L197.0 446.6L196.9 447.7L196.9 448.7L196.8 449.6L196.8 450.5L196.8 451.3L196.8 452.0L196.8 452.7L196.9 453.3L197.1 453.8L197.3 454.3L197.7 454.7L198.1 455.1L198.5 455.4L198.9 455.6L199.4 455.8L199.9 455.9L200.3 455.9L207.5 455.9L208.0 455.9L208.5 455.8L209.0 455.6L209.4 455.4L209.8 455.1L210.2 454.7L210.6 454.3L210.8 453.8L211.0 453.3L211.1 452.7L211.1 452.0L211.1 451.3L211.1 450.5L211.1 449.6L211.0 448.7L211.0 447.7L210.9 446.6L210.8 445.5L210.6 444.3L210.2 443.1L209.8 441.7L209.3 440.4L208.9 438.9L208.4 437.4L208.0 435.8L207.7 434.2L207.3 432.5L207.0 430.7L206.6 428.9L206.4 427.0L206.1 425.1L205.8 423.0L205.6 420.9L205.4 418.8L205.2 416.6L205.1 414.3L204.9 412.0L204.8 409.5L204.7 407.1L204.6 404.5L204.5 401.9L204.4 399.3L204.3 396.5L204.3 393.8L204.1 390.9Z" fill="#911eb4" stroke="#444" stroke-width="0.35"/>
<path d="M220.2 383.5L220.1 386.7L220.0 389.8L220.0 392.8L219.9 395.8L219.9 398.7L219.8 401.5L219.7 404.3L219.6 407.0L219.5 409.6L219.3 412.1L219.2 414.6L219.0 417.0L218.8 419.3L218.6 421.5L218.3 423.7L218.1 425.8L217.8 427.9L217.5 429.8L217.1 431.7L216.7 433.6L216.3 435.3L215.9 437.0L215.5 438.6L215.0 440.1L214.5 441.6L214.0 443.0L213.6 444.3L213.5 445.6L213.4 446.7L213.3 447.9L213.2 448.9L213.2 449.9L213.1 450.8L213.1 451.6L213.1 452.3L213.2 453.0L213.3 453.6L213.6 454.1L213.9 454.6L214.3 455.0L214.7 455.3L215.2 455.6L215.7 455.8L216.2 455.9L216.7 455.9L223.9 455.9L224.4 455.9L224.9 455.8L225.4 455.6L225.9 455.3L226.3 455.0L226.7 454.6L227.0 454.1L227.3 453.6L227.4 453.0L227.5 452.3L227.5 451.6L227.5 450.8L227.4 449.9L227.4 448.9L227.3 447.9L227.2 446.7L227.1 445.6L227.0 444.3L226.6 443.0L226.1 441.6L225.6 440.1L225.1 438.6L224.7 437.0L224.3 435.3L223.9 433.6L223.5 431.7L223.1 429.8L222.8 427.9L222.5 425.8L222.3 423.7L222.0 421.5L221.8 419.3L221.6 417.0L221.4 414.6L221.3 412.1L221.1 409.6L221.0 407.0L220.9 404.3L220.8 401.5L220.7 398.7L220.7 395.8L220.6 392.8L220.6 389.8L220.5 386.7L220.5 383.5Z" fill="#bfef45" stroke="#444" stroke-width="0.35"/>
<path d="M236.5 386.2L236.4 389.3L236.4 392.3L236.3 395.2L236.2 398.0L236.2 400.8L236.1 403.5L236.0 406.2L235.8 408.8L235.7 411.3L235.6 413.7L235.4 416.1L235.2 418.4L235.0 420.7L234.8 422.8L234.5 424.9L234.3 427.0L234.0 428.9L233.6 430.8L233.3 432.6L232.9 434.4L232.5 436.1L232.1 437.7L231.6 439.2L231.2 440.7L230.7 442.1L230.2 443.5L229.9 444.7L229.8 446.0L229.7 447.1L229.6 448.2L229.5 449.2L229.5 450.1L229.5 450.9L229.5 451.7L229.5 452.5L229.5 453.1L229.7 453.7L230.0 454.2L230.3 454.7L230.7 455.0L231.1 455.3L231.6 455.6L232.1 455.8L232.5 455.9L233.1 455.9L240.3 455.9L240.8 455.9L241.2 455.8L241.7 455.6L242.2 455.3L242.6 455.0L243.0 454.7L243.3 454.2L243.6 453.7L243.8 453.1L243.8 452.5L243.8 451.7L243.8 450.9L243.8 450.1L243.8 449.2L243.7 448.2L243.6 447.1L243.5 446.0L243.4 444.7L243.1 443.5L242.6 442.1L242.1 440.7L241.7 439.2L241.2 437.7L240.8 436.1L240.4 434.4L240.0 432.6L239.7 430.8L239.3 428.9L239.0 427.0L238.8 424.9L238.5 422.8L238.3 420.7L238.1 418.4L237.9 416.1L237.7 413.7L237.6 411.3L237.5 408.8L237.3 406.2L237.2 403.5L237.1 400.8L237.1 398.0L237.0 395.2L236.9 392.3L236.9 389.3L236.8 386.2Z" fill="#9a6324" stroke="#444" stroke-width="0.35"/>
<path d="M252.8 371.9L252.8 375.6L252.8 379.2L252.8 382.7L252.8 386.2L252.7 389.5L252.7 392.8L252.6 396.0L252.5 399.1L252.5 402.1L252.4 405.1L252.2 407.9L252.1 410.7L251.9 413.4L251.8 416.0L251.6 418.6L251.3 421.0L251.1 423.4L250.8 425.7L250.5 427.9L250.1 430.0L249.8 432.0L249.4 434.0L248.9 435.8L248.5 437.6L248.0 439.3L247.5 440.9L246.9 442.5L246.4 443.9L246.2 445.3L246.1 446.6L246.0 447.8L245.9 448.9L245.8 449.9L245.8 450.9L245.8 451.8L245.8 452.5L245.9 453.2L246.1 453.9L246.5 454.4L246.8 454.9L247.3 455.2L247.8 455.5L248.3 455.7L248.8 455.9L249.4 455.9L256.6 455.9L257.2 455.9L257.7 455.7L258.2 455.5L258.7 455.2L259.2 454.9L259.5 454.4L259.9 453.9L260.1 453.2L260.2 452.5L260.2 451.8L260.2 450.9L260.2 449.9L260.1 448.9L260.0 447.8L259.9 446.6L259.8 445.3L259.6 443.9L259.1 442.5L258.5 440.9L258.0 439.3L257.5 437.6L257.1 435.8L256.6 434.0L256.2 432.0L255.9 430.0L255.5 427.9L255.2 425.7L254.9 423.4L254.7 421.0L254.4 418.6L254.2 416.0L254.1 413.4L253.9 410.7L253.8 407.9L253.6 405.1L253.5 402.1L253.5 399.1L253.4 396.0L253.3 392.8L253.3 389.5L253.2 386.2L253.2 382.7L253.2 379.2L253.2 375.6L253.2 371.9Z" fill="#42d4f4" stroke="#444" stroke-width="0.35"/>
<path d="M269.2 383.5L269.1 386.7L269.1 389.8L269.0 392.8L269.0 395.8L268.9 398.7L268.8 401.5L268.7 404.3L268.6 407.0L268.5 409.6L268.4 412.1L268.2 414.6L268.0 417.0L267.8 419.3L267.6 421.5L267.4 423.7L267.1 425.8L266.8 427.9L266.5 429.8L266.2 431.7L265.8 433.6L265.4 435.3L265.0 437.0L264.5 438.6L264.1 440.1L263.6 441.6L263.1 443.0L262.7 444.3L262.5 445.6L262.4 446.7L262.3 447.9L262.2 448.9L262.2 449.9L262.2 450.8L262.2 451.6L262.2 452.3L262.2 453.0L262.4 453.6L262.6 454.1L263.0 454.6L263.3 455.0L263.8 455.3L264.2 455.6L264.7 455.8L265.2 455.9L265.8 455.9L273.0 455.9L273.5 455.9L274.0 455.8L274.5 455.6L274.9 455.3L275.4 455.0L275.7 454.6L276.1 454.1L276.3 453.6L276.5 453.0L276.5 452.3L276.5 451.6L276.5 450.8L276.5 449.9L276.5 448.9L276.4 447.9L276.3 446.7L276.2 445.6L276.0 444.3L275.6 443.0L275.1 441.6L274.6 440.1L274.2 438.6L273.7 437.0L273.3 435.3L272.9 433.6L272.5 431.7L272.2 429.8L271.9 427.9L271.6 425.8L271.3 423.7L271.1 421.5L270.9 419.3L270.7 417.0L270.5 414.6L270.3 412.1L270.2 409.6L270.1 407.0L270.0 404.3L269.9 401.5L269.8 398.7L269.7 395.8L269.7 392.8L269.6 389.8L269.6 386.7L269.5 383.5Z" fill="#ff9999" stroke="#444" stroke-width="0.35"/>
<path d="M285.6 353.1L285.5 357.6L285.5 362.0L285.5 366.3L285.5 370.6L285.5 374.7L285.5 378.7L285.4 382.6L285.3 386.4L285.3 390.1L285.2 393.7L285.1 397.2L284.9 400.6L284.8 403.9L284.6 407.1L284.4 410.2L284.2 413.2L284.0 416.1L283.7 418.9L283.4 421.6L283.1 424.2L282.7 426.7L282.3 429.0L281.9 431.3L281.4 433.5L280.9 435.6L280.4 437.6L279.9 439.5L279.3 441.2L279.0 442.9L278.8 444.5L278.7 445.9L278.6 447.3L278.6 448.6L278.5 449.8L278.5 450.8L278.5 451.8L278.5 452.7L278.7 453.4L278.9 454.1L279.3 454.6L279.8 455.1L280.3 455.4L280.9 455.7L281.5 455.8L282.1 455.9L289.3 455.9L289.9 455.8L290.5 455.7L291.1 455.4L291.6 455.1L292.1 454.6L292.5 454.1L292.7 453.4L292.9 452.7L292.9 451.8L292.9 450.8L292.9 449.8L292.8 448.6L292.8 447.3L292.7 445.9L292.6 444.5L292.4 442.9L292.1 441.2L291.5 439.5L291.0 437.6L290.5 435.6L290.0 433.5L289.5 431.3L289.1 429.0L288.7 426.7L288.3 424.2L288.0 421.6L287.7 418.9L287.4 416.1L287.2 413.2L287.0 410.2L286.8 407.1L286.6 403.9L286.5 400.6L286.3 397.2L286.2 393.7L286.1 390.1L286.1 386.4L286.0 382.6L285.9 378.7L285.9 374.7L285.9 370.6L285.9 366.3L285.9 362.0L285.9 357.6L285.9 353.1Z" fill="#c6dbff" stroke="#444" stroke-width="0.35"/>
<path d="M301.9 374.0L301.8 377.6L301.8 381.1L301.8 384.6L301.8 387.9L301.8 391.2L301.7 394.4L301.6 397.5L301.6 400.5L301.5 403.5L301.4 406.4L301.2 409.1L301.1 411.9L300.9 414.5L300.7 417.0L300.5 419.5L300.3 421.9L300.0 424.2L299.7 426.4L299.4 428.6L299.1 430.6L298.7 432.6L298.3 434.5L297.8 436.3L297.4 438.1L296.9 439.7L296.4 441.3L295.9 442.8L295.4 444.2L295.2 445.5L295.1 446.8L295.0 448.0L294.9 449.1L294.9 450.1L294.9 451.0L294.9 451.9L294.9 452.6L295.0 453.3L295.2 453.9L295.5 454.4L295.9 454.9L296.4 455.3L296.9 455.5L297.4 455.7L297.9 455.9L298.4 455.9L305.7 455.9L306.2 455.9L306.7 455.7L307.2 455.5L307.7 455.3L308.2 454.9L308.6 454.4L308.9 453.9L309.1 453.3L309.2 452.6L309.2 451.9L309.2 451.0L309.2 450.1L309.2 449.1L309.1 448.0L309.0 446.8L308.9 445.5L308.7 444.2L308.2 442.8L307.7 441.3L307.2 439.7L306.7 438.1L306.3 436.3L305.8 434.5L305.4 432.6L305.0 430.6L304.7 428.6L304.4 426.4L304.1 424.2L303.8 421.9L303.6 419.5L303.4 417.0L303.2 414.5L303.0 411.9L302.9 409.1L302.7 406.4L302.6 403.5L302.5 400.5L302.5 397.5L302.4 394.4L302.3 391.2L302.3 387.9L302.3 384.6L302.3 381.1L302.3 377.6L302.2 374.0Z" fill="#dcbeff" stroke="#444" stroke-width="0.35"/>
<path d="M318.3 378.4L318.2 381.8L318.2 385.1L318.2 388.4L318.1 391.6L318.1 394.7L318.0 397.7L317.9 400.6L317.8 403.5L317.7 406.3L317.6 409.0L317.4 411.7L317.3 414.2L317.1 416.7L316.9 419.1L316.7 421.5L316.4 423.7L316.2 425.9L315.8 428.0L315.5 430.0L315.2 432.0L314.8 433.9L314.4 435.7L313.9 437.4L313.5 439.0L313.0 440.6L312.5 442.1L311.9 443.5L311.7 444.8L311.5 446.1L311.4 447.3L311.3 448.4L311.3 449.4L311.2 450.4L311.2 451.3L311.2 452.1L311.2 452.8L311.4 453.5L311.6 454.0L311.9 454.5L312.3 454.9L312.8 455.3L313.2 455.6L313.7 455.7L314.3 455.9L314.8 455.9L322.0 455.9L322.5 455.9L323.1 455.7L323.6 455.6L324.0 455.3L324.5 454.9L324.9 454.5L325.2 454.0L325.4 453.5L325.6 452.8L325.6 452.1L325.6 451.3L325.6 450.4L325.5 449.4L325.5 448.4L325.4 447.3L325.3 446.1L325.1 444.8L324.9 443.5L324.3 442.1L323.8 440.6L323.3 439.0L322.9 437.4L322.4 435.7L322.0 433.9L321.6 432.0L321.3 430.0L321.0 428.0L320.6 425.9L320.4 423.7L320.1 421.5L319.9 419.1L319.7 416.7L319.5 414.2L319.4 411.7L319.2 409.0L319.1 406.3L319.0 403.5L318.9 400.6L318.8 397.7L318.7 394.7L318.7 391.6L318.6 388.4L318.6 385.1L318.6 381.8L318.6 378.4Z" fill="#fffac8" stroke="#444" stroke-width="0.35"/>
<path d="M334.6 389.3L334.5 392.2L334.4 395.1L334.3 397.9L334.3 400.6L334.2 403.3L334.1 405.9L334.0 408.4L333.8 410.9L333.7 413.3L333.5 415.6L333.4 417.9L333.2 420.1L332.9 422.2L332.7 424.3L332.4 426.3L332.2 428.2L331.9 430.1L331.5 431.9L331.2 433.7L330.8 435.3L330.4 437.0L330.0 438.5L329.5 440.0L329.1 441.4L328.6 442.7L328.1 444.0L328.0 445.2L327.8 446.4L327.7 447.5L327.7 448.5L327.6 449.5L327.6 450.3L327.6 451.2L327.6 451.9L327.6 452.6L327.7 453.2L327.8 453.8L328.1 454.3L328.5 454.7L328.8 455.1L329.3 455.4L329.7 455.6L330.2 455.8L330.7 455.9L331.2 455.9L338.4 455.9L338.8 455.9L339.3 455.8L339.8 455.6L340.2 455.4L340.7 455.1L341.0 454.7L341.4 454.3L341.7 453.8L341.8 453.2L341.9 452.6L341.9 451.9L341.9 451.2L341.9 450.3L341.9 449.5L341.8 448.5L341.8 447.5L341.7 446.4L341.5 445.2L341.4 444.0L340.9 442.7L340.4 441.4L340.0 440.0L339.5 438.5L339.1 437.0L338.7 435.3L338.3 433.7L338.0 431.9L337.6 430.1L337.3 428.2L337.1 426.3L336.8 424.3L336.6 422.2L336.3 420.1L336.1 417.9L336.0 415.6L335.8 413.3L335.7 410.9L335.5 408.4L335.4 405.9L335.3 403.3L335.2 400.6L335.2 397.9L335.1 395.1L335.0 392.2L334.9 389.3Z" fill="#aaffc3" stroke="#444" stroke-width="0.35"/>
<path d="M351.0 363.1L350.9 367.2L350.9 371.2L350.9 375.1L350.9 378.9L350.8 382.6L350.7 386.2L350.7 389.7L350.6 393.2L350.5 396.5L350.4 399.8L350.2 402.9L350.1 406.0L349.9 409.0L349.7 411.9L349.5 414.7L349.3 417.4L349.0 420.0L348.7 422.5L348.4 424.9L348.0 427.3L347.6 429.5L347.2 431.7L346.8 433.7L346.3 435.7L345.8 437.6L345.3 439.4L344.8 441.1L344.4 442.7L344.3 444.2L344.1 445.6L344.1 446.9L344.0 448.2L344.0 449.3L343.9 450.4L343.9 451.3L343.9 452.2L343.9 453.0L344.1 453.7L344.4 454.3L344.8 454.8L345.3 455.2L345.8 455.5L346.4 455.7L346.9 455.9L347.5 455.9L354.7 455.9L355.3 455.9L355.8 455.7L356.4 455.5L356.9 455.2L357.4 454.8L357.8 454.3L358.1 453.7L358.3 453.0L358.3 452.2L358.3 451.3L358.3 450.4L358.2 449.3L358.2 448.2L358.1 446.9L358.1 445.6L357.9 444.2L357.8 442.7L357.4 441.1L356.9 439.4L356.4 437.6L355.9 435.7L355.4 433.7L355.0 431.7L354.6 429.5L354.2 427.3L353.8 424.9L353.5 422.5L353.2 420.0L352.9 417.4L352.7 414.7L352.5 411.9L352.3 409.0L352.1 406.0L352.0 402.9L351.8 399.8L351.7 396.5L351.6 393.2L351.5 389.7L351.5 386.2L351.4 382.6L351.3 378.9L351.3 375.1L351.3 371.2L351.3 367.2L351.2 363.1Z" fill="#ffd8b1" stroke="#444" stroke-width="0.35"/>
<path d="M367.3 372.3L367.2 376.0L367.2 379.6L367.2 383.1L367.2 386.5L367.2 389.8L367.1 393.1L367.1 396.3L367.0 399.4L366.9 402.4L366.8 405.3L366.7 408.2L366.5 410.9L366.4 413.6L366.2 416.2L366.0 418.7L365.8 421.2L365.5 423.5L365.2 425.8L364.9 428.0L364.6 430.1L364.2 432.1L363.8 434.1L363.3 435.9L362.9 437.7L362.4 439.4L361.9 441.0L361.4 442.5L360.8 444.0L360.6 445.3L360.5 446.6L360.4 447.8L360.3 448.9L360.3 450.0L360.3 450.9L360.3 451.8L360.3 452.6L360.4 453.3L360.6 453.9L360.9 454.4L361.3 454.9L361.7 455.2L362.2 455.5L362.8 455.7L363.3 455.9L363.9 455.9L371.1 455.9L371.6 455.9L372.1 455.7L372.7 455.5L373.2 455.2L373.6 454.9L374.0 454.4L374.3 453.9L374.5 453.3L374.6 452.6L374.6 451.8L374.6 450.9L374.6 450.0L374.6 448.9L374.5 447.8L374.4 446.6L374.3 445.3L374.1 444.0L373.5 442.5L373.0 441.0L372.5 439.4L372.0 437.7L371.6 435.9L371.1 434.1L370.7 432.1L370.3 430.1L370.0 428.0L369.7 425.8L369.4 423.5L369.1 421.2L368.9 418.7L368.7 416.2L368.5 413.6L368.4 410.9L368.2 408.2L368.1 405.3L368.0 402.4L367.9 399.4L367.8 396.3L367.8 393.1L367.7 389.8L367.7 386.5L367.7 383.1L367.7 379.6L367.7 376.0L367.6 372.3Z" fill="#c0c0c0" stroke="#444" stroke-width="0.35"/>
<path transform="scale(0.5)" d="M109 905h0M123 903h0M111 870h0M107 898h0M116 889h0M122 910h0M105 902h0M124 905h0M108 892h0M121 895h0M118 899h0M125 907h0M106 869h0M123 904h0M125 904h0M103 903h0M111 875h0M117 865h0M123 888h0M110 904h0M105 891h0M103 906h0M108 903h0M109 860h0M109 894h0M109 896h0M103 897h0M119 898h0M113 868h0M119 890h0M120 906h0M117 885h0M123 896h0M116 845h0M111 874h0M121 909h0M122 887h0M123 906h0M116 904h0M113 907h0M111 898h0M108 871h0M123 891h0M109 872h0M101 906h0M102 895h0M123 909h0M123 909h0M102 903h0M121 905h0M102 895h0M114 898h0M104 902h0M123 909h0M119 883h0M116 883h0M122 891h0M108 887h0M119 884h0M112 904h0M123 898h0M121 889h0M125 904h0M116 875h0M122 885h0M112 893h0M103 896h0M115 906h0M125 891h0M123 899h0M117 888h0M118 864h0M125 904h0M105 904h0M112 902h0M110 868h0M122 886h0M122 907h0M109 901h0M119 907h0M152 910h0M136 881h0M152 906h0M136 901h0M154 868h0M137 902h0M151 909h0M138 868h0M142 898h0M136 903h0M146 877h0M158 886h0M159 904h0M154 888h0M146 885h0M151 899h0M143 904h0M140 870h0M143 899h0M155 906h0M152 906h0M140 902h0M136 901h0M140 901h0M156 904h0M138 901h0M150 892h0M156 883h0M151 900h0M150 871h0M147 893h0M149 896h0M153 909h0M144 830h0M152 901h0M147 893h0M151 853h0M150 847h0M141 872h0M159 903h0M134 886h0M151 907h0M149 902h0M146 891h0M141 863h0M139 897h0M141 895h0M153 905h0M138 906h0M139 899h0M150 910h0M145 910h0M137 902h0M135 902h0M140 910h0M154 902h0M143 902h0M150 861h0M146 905h0M151 904h0M140 886h0M134 893h0M145 909h0M142 884h0M154 906h0M138 877h0M156 890h0M149 830h0M138 894h0M134 895h0M157 885h0M144 898h0M145 850h0M142 860h0M147 896h0M138 909h0M148 905h0M139 907h0M147 902h0M137 894h0M185 901h0M176 900h0M177 908h0M176 910h0M178 895h0M176 908h0M177 908h0M177 902h0M173 891h0M177 910h0M186 908h0M188 909h0M183 908h0M186 908h0M180 909h0M183 908h0M178 909h0M185 910h0M187 907h0M174 910h0M187 909h0M176 909h0M187 907h0M175 905h0M177 902h0M175 909h0M180 909h0M189 907h0M180 879h0M172 907h0M185 903h0M179 909h0M174 902h0M180 904h0M189 910h0M176 905h0M186 899h0M177 899h0M180 906h0M182 901h0M180 903h0M180 897h0M178 898h0M183 886h0M175 907h0M187 908h0M187 902h0M177 909h0M178 907h0M188 908h0M181 909h0M183 891h0M177 893h0M174 897h0M183 893h0M176 905h0M168 906h0M171 903h0M172 904h0M187 906h0M174 905h0M183 908h0M189 908h0M179 910h0M185 908h0M169 909h0M183 894h0M176 907h0M189 909h0M180 908h0M180 885h0M167 906h0M176 909h0M172 896h0M171 902h0M174 910h0M175 910h0M170 904h0M186 897h0M185 902h0M205 908h0M212 903h0M212 897h0M217 908h0M223 909h0M217 908h0M205 908h0M211 909h0M221 906h0M212 899h0M217 908h0M211 898h0M212 890h0M216 909h0M207 908h0M215 910h0M212 903h0M214 909h0M211 903h0M212 889h0M221 910h0M201 909h0M201 907h0M211 908h0M212 902h0M203 910h0M203 906h0M214 906h0M212 903h0M224 905h0M201 909h0M212 903h0M211 899h0M210 908h0M212 895h0M201 905h0M214 908h0M222 906h0M204 910h0M212 873h0M214 908h0M200 905h0M215 908h0M211 892h0M222 908h0M218 909h0M212 906h0M211 902h0M211 890h0M212 910h0M212 903h0M203 907h0M209 905h0M202 906h0M211 895h0M212 888h0M212 904h0M208 910h0M220 908h0M212 897h0M222 906h0M211 910h0M212 901h0M218 906h0M211 909h0M212 903h0M212 900h0M213 907h0M212 903h0M202 909h0M212 895h0M220 910h0M212 907h0M207 905h0M202 907h0M215 910h0M212 887h0M212 903h0M221 908h0M212 910h0M241 891h0M251 904h0M250 910h0M236 909h0M238 909h0M238 885h0M241 872h0M246 909h0M246 899h0M237 905h0M249 883h0M252 906h0M235 889h0M244 862h0M247 873h0M238 869h0M246 871h0M255 902h0M247 887h0M249 910h0M242 902h0M249 888h0M239 878h0M243 876h0M253 909h0M246 906h0M234 897h0M232 904h0M233 896h0M255 906h0M243 901h0M254 909h0M239 894h0M242 894h0M242 889h0M239 902h0M250 882h0M254 888h0M253 901h0M240 894h0M250 909h0M244 908h0M234 899h0M243 865h0M249 863h0M241 909h0M244 894h0M241 881h0M253 907h0M236 903h0M235 910h0M252 902h0M238 907h0M256 903h0M249 868h0M247 905h0M252 907h0M232 897h0M244 904h0M239 903h0M245 835h0M243 843h0M239 882h0M253 883h0M232 903h0M250 885h0M241 858h0M242 844h0M232 895h0M254 895h0M233 902h0M247 901h0M240 878h0M255 886h0M243 894h0M242 879h0M244 902h0M241 902h0M250 883h0M242 887h0M282 878h0M273 902h0M280 896h0M276 830h0M289 907h0M283 905h0M277 905h0M279 909h0M269 888h0M278 903h0M271 909h0M267 905h0M267 906h0M272 907h0M270 895h0M273 892h0M278 909h0M269 908h0M278 841h0M280 903h0M285 895h0M287 907h0M278 877h0M289 900h0M271 894h0M283 871h0M266 907h0M269 904h0M288 902h0M275 839h0M279 908h0M290 905h0M277 879h0M265 892h0M277 906h0M281 896h0M274 869h0M271 896h0M275 910h0M288 907h0M267 902h0M280 905h0M265 908h0M274 907h0M268 903h0M278 908h0M269 885h0M275 904h0M286 909h0M280 892h0M264 904h0M277 895h0M282 884h0M283 908h0M270 876h0M281 885h0M283 886h0M273 847h0M287 882h0M277 897h0M289 908h0M282 859h0M268 908h0M272 909h0M279 894h0M285 910h0M272 860h0M272 909h0M284 901h0M274 902h0M289 900h0M284 902h0M288 899h0M288 905h0M280 900h0M270 898h0M283 885h0M269 890h0M269 898h0M288 904h0M318 901h0M316 905h0M306 909h0M315 899h0M317 909h0M318 908h0M306 895h0M302 907h0M307 891h0M302 910h0M310 888h0M318 908h0M305 884h0M321 905h0M311 894h0M306 905h0M310 906h0M305 909h0M314 907h0M315 904h0M303 898h0M304 902h0M309 893h0M308 910h0M319 906h0M305 909h0M310 907h0M305 898h0M306 908h0M313 909h0M307 906h0M319 909h0M312 910h0M305 907h0M307 896h0M320 910h0M308 898h0M305 901h0M318 908h0M318 903h0M311 908h0M310 909h0M302 906h0M305 908h0M314 903h0M319 908h0M313 909h0M314 892h0M312 896h0M317 893h0M320 909h0M310 906h0M310 898h0M314 900h0M307 909h0M316 906h0M311 900h0M312 904h0M307 907h0M307 910h0M311 902h0M308 901h0M314 903h0M305 909h0M313 909h0M303 904h0M314 907h0M311 906h0M306 909h0M306 901h0M310 900h0M313 909h0M321 907h0M313 898h0M318 907h0M312 907h0M315 893h0M313 893h0M317 903h0M306 909h0M349 899h0M336 878h0M331 906h0M341 905h0M339 898h0M332 895h0M347 898h0M355 899h0M333 884h0M350 894h0M335 909h0M342 874h0M341 909h0M346 906h0M343 908h0M353 892h0M347 885h0M333 905h0M346 853h0M347 909h0M337 907h0M332 891h0M331 883h0M330 902h0M339 881h0M347 878h0M348 872h0M336 900h0M349 908h0M344 836h0M343 881h0M337 867h0M337 882h0M352 905h0M350 909h0M346 883h0M337 891h0M342 906h0M345 910h0M338 908h0M353 889h0M346 908h0M332 892h0M347 867h0M343 895h0M352 884h0M340 906h0M337 867h0M331 890h0M342 892h0M338 869h0M343 863h0M335 909h0M337 908h0M344 880h0M347 901h0M334 910h0M345 901h0M333 893h0M332 904h0M338 892h0M352 903h0M334 897h0M335 899h0M338 882h0M340 845h0M332 886h0M330 898h0M346 896h0M353 905h0M344 908h0M349 894h0M330 903h0M347 893h0M337 899h0M336 904h0M342 873h0M346 909h0M340 898h0M353 905h0M368 907h0M370 903h0M380 906h0M380 909h0M379 906h0M377 908h0M368 890h0M386 884h0M367 906h0M378 910h0M372 860h0M383 904h0M364 909h0M376 894h0M379 895h0M386 905h0M385 890h0M369 902h0M380 909h0M368 898h0M379 895h0M378 885h0M365 902h0M367 884h0M375 854h0M363 901h0M373 907h0M382 899h0M365 909h0M379 909h0M375 907h0M377 909h0M372 904h0M363 906h0M373 898h0M382 902h0M377 885h0M376 904h0M365 903h0M385 909h0M385 894h0M383 896h0M380 907h0M372 910h0M368 874h0M386 908h0M380 908h0M371 867h0M369 873h0M369 900h0M373 907h0M373 848h0M370 898h0M374 909h0M379 858h0M374 907h0M385 904h0M366 902h0M374 904h0M382 891h0M368 871h0M383 876h0M372 900h0M374 879h0M385 886h0M375 882h0M364 905h0M385 909h0M363 898h0M369 875h0M372 888h0M385 885h0M373 901h0M365 881h0M383 898h0M367 895h0M385 894h0M373 888h0M365 898h0M376 830h0M407 902h0M417 903h0M414 910h0M412 881h0M412 908h0M420 900h0M407 889h0M420 894h0M412 878h0M412 890h0M410 868h0M416 897h0M407 900h0M407 830h0M404 892h0M411 900h0M414 909h0M412 908h0M419 902h0M400 905h0M414 903h0M401 887h0M411 868h0M406 897h0M411 874h0M407 909h0M409 861h0M416 876h0M407 867h0M397 909h0M407 849h0M398 902h0M416 885h0M406 891h0M413 895h0M397 881h0M397 889h0M413 902h0M410 903h0M415 908h0M397 892h0M411 877h0M415 881h0M407 848h0M419 886h0M402 897h0M400 895h0M411 910h0M396 906h0M417 899h0M414 879h0M419 904h0M413 890h0M412 901h0M411 886h0M407 849h0M410 883h0M418 890h0M412 910h0M399 902h0M407 830h0M411 906h0M412 910h0M396 903h0M403 871h0M411 879h0M412 893h0M412 904h0M396 895h0M397 904h0M398 887h0M417 898h0M397 890h0M404 891h0M418 898h0M401 909h0M403 910h0M413 903h0M406 851h0M401 904h0M444 901h0M446 905h0M447 890h0M434 903h0M439 857h0M436 883h0M435 861h0M447 891h0M429 896h0M452 886h0M436 859h0M453 904h0M440 908h0M436 900h0M435 910h0M434 879h0M442 877h0M437 904h0M435 863h0M433 883h0M430 886h0M431 897h0M430 893h0M448 909h0M447 870h0M428 890h0M434 874h0M434 894h0M440 907h0M450 890h0M453 907h0M451 905h0M440 907h0M449 910h0M436 909h0M439 896h0M429 908h0M433 906h0M449 900h0M441 906h0M447 893h0M430 888h0M443 876h0M448 909h0M434 876h0M440 886h0M442 906h0M430 903h0M438 837h0M449 904h0M432 900h0M432 900h0M438 864h0M447 909h0M431 909h0M438 910h0M429 908h0M441 875h0M441 899h0M440 846h0M439 901h0M447 895h0M448 875h0M440 830h0M448 910h0M451 883h0M438 905h0M433 896h0M436 898h0M450 907h0M446 899h0M442 903h0M438 884h0M437 910h0M443 902h0M445 899h0M443 905h0M442 901h0M437 898h0M446 893h0M480 877h0M461 902h0M479 895h0M479 905h0M474 843h0M468 910h0M461 891h0M471 880h0M475 880h0M483 895h0M467 872h0M477 862h0M471 900h0M483 884h0M485 906h0M472 886h0M473 900h0M463 900h0M472 873h0M484 893h0M461 903h0M470 877h0M480 877h0M481 902h0M461 901h0M465 873h0M483 906h0M482 899h0M475 883h0M472 900h0M466 892h0M467 883h0M469 888h0M465 892h0M468 874h0M472 908h0M464 891h0M473 906h0M471 885h0M467 875h0M475 874h0M477 900h0M481 877h0M468 879h0M472 894h0M469 888h0M483 897h0M468 910h0M474 887h0M473 893h0M470 908h0M476 902h0M481 896h0M473 895h0M466 908h0M472 906h0M470 880h0M468 898h0M469 882h0M463 888h0M486 899h0M482 904h0M469 881h0M485 900h0M480 893h0M484 906h0M465 897h0M462 902h0M467 887h0M477 880h0M484 901h0M472 908h0M470 891h0M463 896h0M486 896h0M461 902h0M467 908h0M468 908h0M471 895h0M485 901h0M511 902h0M512 903h0M516 900h0M506 910h0M503 850h0M497 891h0M503 878h0M511 863h0M518 904h0M510 871h0M507 904h0M499 881h0M501 889h0M499 877h0M517 907h0M511 895h0M519 896h0M506 830h0M511 900h0M509 898h0M517 888h0M508 907h0M501 880h0M512 896h0M509 897h0M498 901h0M494 896h0M498 902h0M499 872h0M497 894h0M512 909h0M496 891h0M506 897h0M503 892h0M506 858h0M515 904h0M509 874h0M509 910h0M497 901h0M508 900h0M508 905h0M508 899h0M515 886h0M507 904h0M503 891h0M511 909h0M504 881h0M497 908h0M508 908h0M502 848h0M516 888h0M498 896h0M515 888h0M508 895h0M517 884h0M499 876h0M509 888h0M506 855h0M498 872h0M515 889h0M500 883h0M507 897h0M511 874h0M519 905h0M509 886h0M503 909h0M497 907h0M514 909h0M511 903h0M509 906h0M510 901h0M517 898h0M513 891h0M496 889h0M512 900h0M514 902h0M505 838h0M498 895h0M499 894h0M507 896h0M543 904h0M535 909h0M531 910h0M528 908h0M533 910h0M546 867h0M543 901h0M548 902h0M541 887h0M545 891h0M544 906h0M540 855h0M548 898h0M530 904h0M533 893h0M539 901h0M538 848h0M529 892h0M549 899h0M547 904h0M536 903h0M527 903h0M536 860h0M534 863h0M539 883h0M543 901h0M550 889h0M544 862h0M537 907h0M531 903h0M532 898h0M550 895h0M544 894h0M531 901h0M541 900h0M543 899h0M536 870h0M543 899h0M538 839h0M532 879h0M528 906h0M543 898h0M534 870h0M543 909h0M548 904h0M535 884h0M547 876h0M546 881h0M543 898h0M540 830h0M534 906h0M534 897h0M536 850h0M534 888h0M547 907h0M535 878h0M527 887h0M539 887h0M549 904h0M529 890h0M529 909h0M548 891h0M548 894h0M529 885h0M546 871h0M535 862h0M534 910h0M532 883h0M541 905h0M548 885h0M532 904h0M548 902h0M545 907h0M543 861h0M543 887h0M529 893h0M541 889h0M541 848h0M527 895h0M548 902h0M565 904h0M566 889h0M574 909h0M584 895h0M575 855h0M582 909h0M562 907h0M568 883h0M573 903h0M580 898h0M582 909h0M574 895h0M580 899h0M564 884h0M569 907h0M578 898h0M571 907h0M581 905h0M577 899h0M569 878h0M578 900h0M559 907h0M581 904h0M561 895h0M566 893h0M571 896h0M583 894h0M572 901h0M582 887h0M559 884h0M575 890h0M562 904h0M569 888h0M575 894h0M570 858h0M562 876h0M567 908h0M571 904h0M580 896h0M580 898h0M565 901h0M573 887h0M580 886h0M567 902h0M562 888h0M581 895h0M566 902h0M566 900h0M575 897h0M571 869h0M570 899h0M574 907h0M579 909h0M570 898h0M575 873h0M563 876h0M560 898h0M574 897h0M574 893h0M572 894h0M559 887h0M569 895h0M577 900h0M583 892h0M567 894h0M568 888h0M581 890h0M581 904h0M566 892h0M567 906h0M565 881h0M576 867h0M565 895h0M563 909h0M579 882h0M582 896h0M575 893h0M575 870h0M584 904h0M577 908h0M614 903h0M599 896h0M594 893h0M604 862h0M610 894h0M604 891h0M604 898h0M597 881h0M597 892h0M594 901h0M610 888h0M606 910h0M597 899h0M608 909h0M609 910h0M601 885h0M615 909h0M608 909h0M606 869h0M598 906h0M606 906h0M606 840h0M606 851h0M608 890h0M605 852h0M599 905h0M610 897h0M610 894h0M602 897h0M614 907h0M599 907h0M600 866h0M597 903h0M605 854h0M597 905h0M599 886h0M603 908h0M597 902h0M606 898h0M608 888h0M592 904h0M610 875h0M609 885h0M612 910h0M598 909h0M612 892h0M595 901h0M600 875h0M599 902h0M610 899h0M615 886h0M595 909h0M593 909h0M597 898h0M606 891h0M592 898h0M603 895h0M602 891h0M599 885h0M605 903h0M595 901h0M610 907h0M598 908h0M615 899h0M609 900h0M608 904h0M603 905h0M599 889h0M597 906h0M605 897h0M606 900h0M602 903h0M592 907h0M595 890h0M597 887h0M599 900h0M604 874h0M612 903h0M600 863h0M609 908h0M638 898h0M636 899h0M630 908h0M627 904h0M643 887h0M633 887h0M643 897h0M629 877h0M628 906h0M646 905h0M636 908h0M644 910h0M634 861h0M647 908h0M639 875h0M638 860h0M638 896h0M639 906h0M636 830h0M644 889h0M643 871h0M648 896h0M631 885h0M644 899h0M626 887h0M641 860h0M634 834h0M634 858h0M640 888h0M636 886h0M632 883h0M636 880h0M639 909h0M635 880h0M649 907h0M645 897h0M626 882h0M642 886h0M630 892h0M642 894h0M626 908h0M635 904h0M642 902h0M632 886h0M629 882h0M637 880h0M648 906h0M640 905h0M633 890h0M638 830h0M645 902h0M641 897h0M626 893h0M632 897h0M636 909h0M641 859h0M635 892h0M638 830h0M638 908h0M647 884h0M635 843h0M641 883h0M637 853h0M639 844h0M646 902h0M634 858h0M628 893h0M639 907h0M628 906h0M644 901h0M634 891h0M630 900h0M638 897h0M635 895h0M640 890h0M626 908h0M632 893h0M629 897h0M630 897h0M627 906h0M669 830h0M664 897h0M677 885h0M657 900h0M674 894h0M678 905h0M680 904h0M678 894h0M662 889h0M673 872h0M669 830h0M671 874h0M670 846h0M682 903h0M669 830h0M659 910h0M673 909h0M662 909h0M669 834h0M667 875h0M666 908h0M658 908h0M669 830h0M667 909h0M665 877h0M670 830h0M676 908h0M677 879h0M664 904h0M674 879h0M670 902h0M681 906h0M673 872h0M664 909h0M669 851h0M668 830h0M660 910h0M672 830h0M678 901h0M677 897h0M664 909h0M667 858h0M664 906h0M665 891h0M669 893h0M675 876h0M661 887h0M662 896h0M673 888h0M673 847h0M665 897h0M682 893h0M679 909h0M670 886h0M664 885h0M664 908h0M670 849h0M673 904h0M660 906h0M679 907h0M667 896h0M670 908h0M679 892h0M674 900h0M667 847h0M668 889h0M675 889h0M666 879h0M669 883h0M672 863h0M677 900h0M664 905h0M666 841h0M661 906h0M668 855h0M670 900h0M661 908h0M678 881h0M664 874h0M668 879h0M690 903h0M692 909h0M692 905h0M699 906h0M704 896h0M703 854h0M696 908h0M696 904h0M703 910h0M699 907h0M696 881h0M709 895h0M708 905h0M701 902h0M708 869h0M702 909h0M703 884h0M708 910h0M709 905h0M707 890h0M694 869h0M698 899h0M710 907h0M691 902h0M707 904h0M701 882h0M694 877h0M693 900h0M691 902h0M712 909h0M703 909h0M697 890h0M699 839h0M710 888h0M709 910h0M707 907h0M705 831h0M694 872h0M704 887h0M710 908h0M708 895h0M699 894h0M701 896h0M702 872h0M711 899h0M693 904h0M692 900h0M713 901h0M699 881h0M705 830h0M694 894h0M702 893h0M712 891h0M705 903h0M712 881h0M696 856h0M710 900h0M711 872h0M698 855h0M695 909h0M698 905h0M703 901h0M693 902h0M706 883h0M715 905h0M715 899h0M707 902h0M703 859h0M713 903h0M703 868h0M702 908h0M710 899h0M711 906h0M706 840h0M695 895h0M700 910h0M708 889h0M698 848h0M711 898h0M699 834h0M729 870h0M730 907h0M740 909h0M735 890h0M745 893h0M733 855h0M726 906h0M732 892h0M730 872h0M736 858h0M730 904h0M733 909h0M732 889h0M743 905h0M729 903h0M725 903h0M746 906h0M731 881h0M736 858h0M731 857h0M743 876h0M740 897h0M735 845h0M730 908h0M735 853h0M728 866h0M730 883h0M741 874h0M727 894h0M746 908h0M744 893h0M727 907h0M741 909h0M743 909h0M722 896h0M737 889h0M737 891h0M726 888h0M739 876h0M745 896h0M735 902h0M724 891h0M724 898h0M734 907h0M743 885h0M741 878h0M734 906h0M741 908h0M736 898h0M729 904h0M724 888h0M736 874h0M735 830h0M745 890h0M734 886h0M734 866h0M734 902h0M732 869h0M731 865h0M734 900h0M728 896h0M729 897h0M743 884h0M727 897h0M740 873h0M744 903h0M724 906h0M743 898h0M737 868h0M744 883h0M748 903h0M731 901h0M732 873h0M739 895h0M732 900h0M729 907h0M730 896h0M730 906h0M728 909h0M726 910h0" stroke="#000" stroke-width="1.2" stroke-linecap="round" opacity="0.55"/>
<line x1="49.00" y1="444.00" x2="64.60" y2="444.00" stroke="#111" stroke-width="1.1"/>
<line x1="65.35" y1="443.40" x2="80.95" y2="443.40" stroke="#111" stroke-width="1.1"/>
<line x1="81.70" y1="452.60" x2="97.30" y2="452.60" stroke="#111" stroke-width="1.1"/>
<line x1="98.05" y1="455.40" x2="113.65" y2="455.40" stroke="#111" stroke-width="1.1"/>
<line x1="114.40" y1="443.80" x2="130.00" y2="443.80" stroke="#111" stroke-width="1.1"/>
<line x1="130.75" y1="443.20" x2="146.35" y2="443.20" stroke="#111" stroke-width="1.1"/>
<line x1="147.10" y1="451.20" x2="162.70" y2="451.20" stroke="#111" stroke-width="1.1"/>
<line x1="163.45" y1="443.60" x2="179.05" y2="443.60" stroke="#111" stroke-width="1.1"/>
<line x1="179.80" y1="443.40" x2="195.40" y2="443.40" stroke="#111" stroke-width="1.1"/>
<line x1="196.15" y1="443.40" x2="211.75" y2="443.40" stroke="#111" stroke-width="1.1"/>
<line x1="212.50" y1="443.60" x2="228.10" y2="443.60" stroke="#111" stroke-width="1.1"/>
<line x1="228.85" y1="443.80" x2="244.45" y2="443.80" stroke="#111" stroke-width="1.1"/>
<line x1="245.20" y1="443.40" x2="260.80" y2="443.40" stroke="#111" stroke-width="1.1"/>
<line x1="261.55" y1="443.80" x2="277.15" y2="443.80" stroke="#111" stroke-width="1.1"/>
<line x1="277.90" y1="443.80" x2="293.50" y2="443.80" stroke="#111" stroke-width="1.1"/>
<line x1="294.25" y1="443.60" x2="309.85" y2="443.60" stroke="#111" stroke-width="1.1"/>
<line x1="310.60" y1="443.40" x2="326.20" y2="443.40" stroke="#111" stroke-width="1.1"/>
<line x1="326.95" y1="445.50" x2="342.55" y2="445.50" stroke="#111" stroke-width="1.1"/>
<line x1="343.30" y1="443.40" x2="358.90" y2="443.40" stroke="#111" stroke-width="1.1"/>
<line x1="359.65" y1="443.80" x2="375.25" y2="443.80" stroke="#111" stroke-width="1.1"/>
<text x="89.9" y="378.2" font-size="6.3" text-anchor="middle" fill="#222"><tspan font-style="italic">P</tspan> =</text>
<text x="88.9" y="387.0" font-size="6.3" text-anchor="middle" fill="#222">1.8 × 10<tspan font-size="4.2" dy="-2.6">−7</tspan></text>
<text x="105.3" y="392.5" font-size="6.3" text-anchor="middle" fill="#222"><tspan font-style="italic">P</tspan> =</text>
<text x="104.7" y="401.7" font-size="6.3" text-anchor="middle" fill="#222">5.6 × 10<tspan font-size="4.2" dy="-2.6">−34</tspan></text>
<text x="155.3" y="366.5" font-size="6.3" text-anchor="middle" fill="#222"><tspan font-style="italic">P</tspan> =</text>
<text x="154.7" y="375.5" font-size="6.3" text-anchor="middle" fill="#222">5.3 × 10<tspan font-size="4.2" dy="-2.6">−9</tspan></text>
<text x="-0.50" y="489.60" font-size="12.5" font-weight="bold">k</text>
<line x1="46.60" y1="491.50" x2="46.60" y2="604.50" stroke="#555" stroke-width="0.6"/>
<line x1="46.60" y1="604.50" x2="376.70" y2="604.50" stroke="#555" stroke-width="0.6"/>
<line x1="44.40" y1="604.50" x2="46.60" y2="604.50" stroke="#555" stroke-width="0.5"/>
<text x="41.60" y="607.50" font-size="8.4" text-anchor="end" fill="#333">0</text>
<line x1="44.40" y1="577.40" x2="46.60" y2="577.40" stroke="#555" stroke-width="0.5"/>
<text x="41.60" y="580.40" font-size="8.4" text-anchor="end" fill="#333">0.25</text>
<line x1="44.40" y1="550.30" x2="46.60" y2="550.30" stroke="#555" stroke-width="0.5"/>
<text x="41.60" y="553.30" font-size="8.4" text-anchor="end" fill="#333">0.50</text>
<line x1="44.40" y1="523.20" x2="46.60" y2="523.20" stroke="#555" stroke-width="0.5"/>
<text x="41.60" y="526.20" font-size="8.4" text-anchor="end" fill="#333">0.75</text>
<line x1="44.40" y1="496.10" x2="46.60" y2="496.10" stroke="#555" stroke-width="0.5"/>
<text x="41.60" y="499.10" font-size="8.4" text-anchor="end" fill="#333">1.00</text>
<line x1="56.80" y1="604.50" x2="56.80" y2="606.70" stroke="#555" stroke-width="0.5"/>
<line x1="73.15" y1="604.50" x2="73.15" y2="606.70" stroke="#555" stroke-width="0.5"/>
<line x1="89.50" y1="604.50" x2="89.50" y2="606.70" stroke="#555" stroke-width="0.5"/>
<line x1="105.85" y1="604.50" x2="105.85" y2="606.70" stroke="#555" stroke-width="0.5"/>
<line x1="122.20" y1="604.50" x2="122.20" y2="606.70" stroke="#555" stroke-width="0.5"/>
<line x1="138.55" y1="604.50" x2="138.55" y2="606.70" stroke="#555" stroke-width="0.5"/>
<line x1="154.90" y1="604.50" x2="154.90" y2="606.70" stroke="#555" stroke-width="0.5"/>
<line x1="171.25" y1="604.50" x2="171.25" y2="606.70" stroke="#555" stroke-width="0.5"/>
<line x1="187.60" y1="604.50" x2="187.60" y2="606.70" stroke="#555" stroke-width="0.5"/>
<line x1="203.95" y1="604.50" x2="203.95" y2="606.70" stroke="#555" stroke-width="0.5"/>
<line x1="220.30" y1="604.50" x2="220.30" y2="606.70" stroke="#555" stroke-width="0.5"/>
<line x1="236.65" y1="604.50" x2="236.65" y2="606.70" stroke="#555" stroke-width="0.5"/>
<line x1="253.00" y1="604.50" x2="253.00" y2="606.70" stroke="#555" stroke-width="0.5"/>
<line x1="269.35" y1="604.50" x2="269.35" y2="606.70" stroke="#555" stroke-width="0.5"/>
<line x1="285.70" y1="604.50" x2="285.70" y2="606.70" stroke="#555" stroke-width="0.5"/>
<line x1="302.05" y1="604.50" x2="302.05" y2="606.70" stroke="#555" stroke-width="0.5"/>
<line x1="318.40" y1="604.50" x2="318.40" y2="606.70" stroke="#555" stroke-width="0.5"/>
<line x1="334.75" y1="604.50" x2="334.75" y2="606.70" stroke="#555" stroke-width="0.5"/>
<line x1="351.10" y1="604.50" x2="351.10" y2="606.70" stroke="#555" stroke-width="0.5"/>
<line x1="367.45" y1="604.50" x2="367.45" y2="606.70" stroke="#555" stroke-width="0.5"/>
<text transform="translate(9.50,545.00) rotate(-90)" font-size="9.1" text-anchor="middle" fill="#222">Mutant heteroplasmy</text>
<text transform="translate(18.40,543.40) rotate(-90)" font-size="8.3" text-anchor="middle" fill="#222">(at &gt;20× mtDNA coverage)</text>
<path transform="scale(0.5)" d="M110 1068h0M119 1082h0M105 1074h0M122 1072h0M119 1053h0M102 1043h0M111 1116h0M129 1091h0M128 1078h0M110 1080h0M109 1075h0M128 1057h0M116 1078h0M115 1063h0M109 1028h0M104 1100h0M99 1036h0M121 1161h0M105 1053h0M123 1116h0M118 1086h0M105 1103h0M108 1057h0M110 1076h0M128 1118h0M129 1129h0M107 1030h0M103 1085h0M119 1110h0M101 1110h0M117 1059h0M120 1019h0M127 1058h0M118 1066h0M112 1063h0M123 1084h0M116 1134h0M101 1065h0M101 1013h0M104 1033h0M125 1108h0M113 1042h0M106 1137h0M110 1083h0M99 1116h0M101 1111h0M120 1052h0M129 1046h0M122 1081h0M129 1106h0M110 1086h0M107 1080h0M102 1079h0M125 1075h0M104 1043h0M104 1070h0M103 1072h0M112 1106h0M125 1096h0M110 1118h0M112 1131h0M121 1091h0M102 1099h0M123 1080h0M120 1086h0M116 1156h0M101 1053h0M111 1032h0M107 1064h0M111 1060h0M105 1092h0M123 1120h0M99 1089h0M117 1140h0M104 1065h0M124 1098h0M124 1103h0M110 1060h0M109 1077h0M120 1063h0M100 1119h0M106 1045h0M114 1108h0M128 1108h0M99 1087h0M113 1064h0M98 1093h0M98 1050h0M107 1120h0M127 1048h0M122 1110h0M105 1098h0M115 1130h0M108 1119h0M104 1051h0M110 1061h0M119 1153h0M114 1102h0M110 1067h0M119 1104h0M111 1104h0M124 1090h0M99 1081h0M128 1036h0M129 1094h0M123 1108h0M113 1062h0M130 1075h0M108 1077h0M99 1076h0M112 1115h0M102 1063h0M112 1029h0M113 1075h0M126 1129h0M124 1077h0M103 1087h0M100 1111h0M116 1077h0M127 1091h0M144 1096h0M161 1056h0M132 1107h0M154 1136h0M156 1113h0M154 1074h0M159 1041h0M144 1110h0M145 1133h0M135 1102h0M158 1136h0M134 1115h0M141 1099h0M161 1068h0M139 1106h0M144 1071h0M136 1097h0M138 1108h0M136 1087h0M154 1017h0M139 1042h0M155 1050h0M133 1094h0M156 1078h0M142 1117h0M152 1092h0M150 1094h0M140 1082h0M155 1061h0M134 1115h0M158 1094h0M159 1123h0M155 1122h0M139 1096h0M149 1135h0M148 1098h0M139 1032h0M133 1148h0M161 1096h0M145 1095h0M158 1138h0M135 1095h0M145 1102h0M135 1078h0M143 1063h0M159 1103h0M146 1071h0M152 1108h0M158 1077h0M135 1068h0M149 1096h0M141 1131h0M133 1050h0M159 1125h0M136 1100h0M133 1102h0M141 1061h0M136 1138h0M140 1055h0M132 1069h0M132 1100h0M143 1029h0M131 1101h0M133 1085h0M158 1032h0M153 1019h0M138 1062h0M158 1099h0M142 1137h0M144 1126h0M136 1096h0M139 1145h0M160 1045h0M148 1080h0M151 1056h0M134 1046h0M146 1045h0M141 1106h0M142 1065h0M138 1054h0M161 1110h0M161 1119h0M142 1130h0M144 1073h0M132 1161h0M145 1118h0M161 1112h0M145 1036h0M149 1047h0M152 1064h0M148 1078h0M155 1117h0M152 1061h0M162 1079h0M161 1060h0M139 1092h0M150 1100h0M143 1078h0M134 1113h0M151 1153h0M131 1103h0M160 1098h0M134 1098h0M159 1123h0M148 1111h0M145 1063h0M152 1051h0M155 1093h0M141 1066h0M161 1091h0M159 1106h0M134 1101h0M152 1083h0M146 1072h0M138 1094h0M153 1052h0M158 1081h0M132 1113h0M134 1099h0M148 1090h0M167 1073h0M175 1077h0M167 1071h0M188 1105h0M165 1042h0M168 1176h0M180 1169h0M191 1045h0M185 1078h0M170 1049h0M189 1139h0M185 1091h0M182 1035h0M171 1172h0M192 1081h0M181 1073h0M185 1132h0M176 1120h0M171 1094h0M174 1090h0M182 1071h0M176 1126h0M165 1101h0M175 1059h0M171 1036h0M179 1113h0M174 1084h0M182 1104h0M164 1058h0M191 1022h0M172 1098h0M191 1110h0M173 1088h0M166 1104h0M173 1105h0M186 1106h0M188 1084h0M191 1066h0M186 1070h0M191 1120h0M174 1058h0M186 1077h0M171 1110h0M193 1039h0M183 1121h0M189 1067h0M177 1103h0M181 1091h0M173 1032h0M192 1058h0M186 1135h0M176 1030h0M166 1083h0M182 1084h0M186 1094h0M178 1054h0M190 1121h0M166 1116h0M170 1060h0M166 1127h0M181 1079h0M195 1071h0M168 1108h0M194 1081h0M192 1105h0M176 1090h0M171 1047h0M169 1087h0M173 1028h0M186 1077h0M179 1067h0M186 1109h0M169 1101h0M172 1106h0M184 1041h0M188 1078h0M181 1129h0M190 1065h0M182 1126h0M169 1097h0M185 1034h0M179 1057h0M186 1067h0M179 1093h0M164 1071h0M169 1073h0M165 1077h0M179 1117h0M173 1031h0M178 1092h0M184 1098h0M164 1067h0M187 1152h0M184 1072h0M172 1046h0M193 1148h0M167 1055h0M180 1105h0M171 1081h0M182 1093h0M172 1133h0M190 1064h0M191 1096h0M172 1093h0M165 1085h0M181 1072h0M189 1057h0M167 1035h0M186 1069h0M193 1055h0M191 1081h0M192 1055h0M169 1073h0M172 1106h0M179 1077h0M194 1072h0M187 1070h0M167 1097h0M183 1093h0M194 1087h0M208 1086h0M225 1088h0M207 1040h0M211 1093h0M224 1084h0M223 1057h0M228 1094h0M205 1103h0M227 1027h0M209 1018h0M218 1131h0M197 1095h0M217 1122h0M225 1069h0M227 1124h0M212 1101h0M202 1105h0M210 1069h0M211 1000h0M197 1042h0M209 1118h0M220 1105h0M216 1088h0M202 1074h0M205 1097h0M212 1106h0M207 1086h0M213 1031h0M225 1062h0M215 1143h0M212 1091h0M227 1057h0M215 1094h0M213 1070h0M206 1087h0M223 1056h0M208 1144h0M202 1010h0M222 1047h0M218 1124h0M203 1110h0M218 1106h0M217 1064h0M207 1046h0M200 1086h0M218 1121h0M197 1069h0M221 1069h0M226 1042h0M210 1052h0M215 1046h0M215 1096h0M227 1112h0M228 1045h0M224 1078h0M225 1083h0M209 1030h0M228 1107h0M202 1091h0M227 1111h0M223 1171h0M223 1149h0M209 1054h0M206 1102h0M214 1064h0M196 1150h0M215 1045h0M228 1038h0M208 1094h0M218 1131h0M214 1081h0M203 1028h0M207 1076h0M217 1054h0M206 1091h0M210 1081h0M215 1014h0M227 1088h0M201 1071h0M204 1067h0M224 1090h0M207 1046h0M226 1098h0M212 1053h0M213 1057h0M216 1086h0M200 1094h0M202 1140h0M212 1042h0M211 1051h0M227 1030h0M196 1071h0M199 1048h0M197 1086h0M209 1100h0M224 1135h0M201 1022h0M202 1082h0M224 1097h0M212 1060h0M210 1133h0M206 1059h0M225 1106h0M225 1050h0M218 1055h0M212 1079h0M197 1090h0M218 1154h0M202 1081h0M200 1039h0M216 1058h0M209 1119h0M226 1084h0M221 1072h0M196 1083h0M211 1096h0M206 1050h0M221 1059h0M209 1065h0M203 1053h0M238 1093h0M243 1066h0M257 1118h0M245 1055h0M233 1072h0M255 1049h0M258 1059h0M247 1081h0M234 1088h0M255 1076h0M234 1042h0M253 1062h0M235 1071h0M259 1073h0M257 1049h0M250 1079h0M238 1039h0M235 1079h0M246 1073h0M253 1072h0M242 1048h0M258 1109h0M260 1050h0M246 1023h0M251 1085h0M250 1125h0M244 1100h0M234 1126h0M250 1097h0M233 1060h0M258 1095h0M242 1115h0M233 1084h0M256 1100h0M242 1073h0M253 1104h0M251 1043h0M259 1060h0M232 1031h0M255 1084h0M254 1070h0M244 1062h0M256 1139h0M238 1054h0M250 1034h0M235 1163h0M238 1121h0M252 1091h0M259 1070h0M239 1071h0M254 1052h0M243 1041h0M229 1087h0M257 1083h0M250 1037h0M241 1098h0M254 1099h0M231 1037h0M251 1075h0M244 1076h0M258 1051h0M253 1067h0M235 1088h0M246 1126h0M229 1151h0M229 1059h0M239 1072h0M249 1081h0M231 1082h0M242 1138h0M237 1107h0M234 1098h0M260 1091h0M252 1072h0M232 1073h0M249 1087h0M238 1053h0M241 1088h0M233 1063h0M233 1083h0M255 1040h0M242 1091h0M243 1112h0M254 1089h0M237 1091h0M249 1099h0M230 1121h0M238 1085h0M260 1144h0M231 1059h0M242 1101h0M248 1075h0M248 1087h0M247 1123h0M244 1075h0M231 1065h0M256 1114h0M260 1054h0M247 1098h0M250 1091h0M235 1072h0M249 1027h0M253 1027h0M238 1102h0M244 1138h0M235 1051h0M259 1089h0M241 1073h0M248 1094h0M233 1082h0M244 1068h0M246 1033h0M239 1085h0M241 1071h0M243 1046h0M246 1113h0M253 1097h0M238 1131h0M240 1103h0M255 1068h0M285 1092h0M272 1080h0M290 1099h0M279 1149h0M263 1017h0M278 1076h0M289 1072h0M283 1081h0M269 1098h0M271 1096h0M280 1076h0M288 1104h0M269 1058h0M280 1066h0M272 1120h0M289 1015h0M285 1113h0M284 1063h0M276 1095h0M264 1102h0M290 1077h0M289 1050h0M293 1088h0M283 1035h0M287 1061h0M281 1108h0M280 1116h0M277 1092h0M284 1092h0M267 1086h0M288 1033h0M287 1042h0M273 1099h0M265 1075h0M275 1105h0M290 1075h0M280 1067h0M289 1089h0M285 1046h0M265 1088h0M289 1099h0M265 1037h0M264 1046h0M281 1128h0M273 1100h0M290 1029h0M277 1089h0M279 1106h0M265 1133h0M289 1054h0M283 1060h0M281 1094h0M288 1068h0M285 1093h0M278 1084h0M262 1118h0M290 1051h0M286 1050h0M279 1066h0M276 1063h0M290 1061h0M289 1123h0M291 1077h0M268 1137h0M272 1143h0M272 1053h0M289 1045h0M267 1059h0M288 1082h0M268 1066h0M282 1028h0M291 1132h0M280 1058h0M266 1108h0M264 1028h0M268 1126h0M269 1044h0M261 1057h0M279 1061h0M284 1085h0M265 1079h0M272 1085h0M289 1127h0M290 1118h0M289 1091h0M283 1104h0M270 1102h0M291 1098h0M269 1118h0M269 1092h0M281 1054h0M272 1042h0M272 1096h0M288 1046h0M287 1053h0M274 1088h0M284 1058h0M281 1083h0M269 1066h0M278 1086h0M268 1064h0M278 1124h0M280 1061h0M277 1143h0M272 1088h0M286 1045h0M265 1039h0M290 1116h0M269 1024h0M266 1073h0M282 1067h0M264 1056h0M280 1057h0M270 1076h0M267 1077h0M292 1068h0M287 1092h0M273 1089h0M265 1108h0M278 1110h0M306 1124h0M301 1028h0M295 1092h0M313 1071h0M305 1042h0M296 1105h0M315 1064h0M312 1033h0M308 1104h0M297 1102h0M322 1101h0M300 1046h0M321 1118h0M315 1088h0M323 1091h0M301 1077h0M325 1117h0M316 1128h0M313 1117h0M298 1091h0M323 1071h0M325 1089h0M320 1068h0M295 1067h0M320 1068h0M313 1114h0M314 1080h0M301 1106h0M322 1092h0M320 1088h0M316 1085h0M298 1078h0M318 1085h0M324 1106h0M307 1035h0M312 1092h0M310 1066h0M305 1064h0M317 1060h0M323 1094h0M320 1073h0M316 1142h0M300 1075h0M312 1083h0M305 1044h0M318 1096h0M301 1048h0M304 1083h0M299 1106h0M322 1070h0M313 1106h0M323 1070h0M325 1113h0M304 1092h0M297 1097h0M303 1065h0M322 1083h0M299 1122h0M300 1052h0M324 1051h0M308 1076h0M317 1085h0M305 1089h0M315 1096h0M311 1037h0M319 1097h0M296 1070h0M305 1057h0M314 1122h0M297 1110h0M308 1081h0M310 1003h0M323 1051h0M299 1109h0M310 1112h0M317 1104h0M302 1072h0M298 1094h0M301 1037h0M304 1026h0M325 1093h0M318 1090h0M298 1076h0M309 1067h0M324 1116h0M306 1099h0M304 1081h0M312 1114h0M305 1141h0M304 1095h0M306 1114h0M321 1102h0M298 1076h0M294 1059h0M300 1020h0M322 1142h0M299 1046h0M319 1092h0M319 1042h0M323 1096h0M318 1149h0M308 1049h0M323 1090h0M319 1104h0M295 1069h0M320 1109h0M317 1084h0M299 1068h0M300 1083h0M325 1111h0M317 1145h0M311 1046h0M318 1095h0M297 1069h0M303 1069h0M319 1111h0M294 1052h0M301 1124h0M318 1126h0M297 1080h0M346 1027h0M346 1087h0M337 1107h0M338 1092h0M338 1064h0M342 1106h0M348 1109h0M346 1063h0M339 1101h0M346 1098h0M337 1126h0M338 1113h0M338 1083h0M353 1072h0M350 1101h0M351 1155h0M355 1098h0M345 1086h0M346 1093h0M358 1113h0M348 1087h0M352 1056h0M348 1026h0M343 1059h0M334 1088h0M354 1074h0M336 1093h0M345 1035h0M345 1085h0M348 1084h0M343 1085h0M347 1078h0M330 1057h0M341 1084h0M352 1023h0M354 1063h0M356 1075h0M352 1052h0M355 1098h0M329 1088h0M338 1060h0M336 1074h0M350 1023h0M350 1058h0M346 1077h0M347 1107h0M346 1093h0M338 1092h0M329 1069h0M358 1113h0M329 1093h0M346 1135h0M343 1106h0M329 1026h0M345 1108h0M343 1110h0M343 1081h0M331 1144h0M336 1128h0M341 1088h0M343 1036h0M332 1090h0M346 1115h0M337 1081h0M346 1079h0M341 1088h0M327 1121h0M328 1091h0M331 1124h0M333 1080h0M343 1052h0M334 1083h0M337 1110h0M351 1048h0M337 1108h0M331 1112h0M328 1057h0M340 1098h0M330 1078h0M356 1090h0M331 1062h0M335 1144h0M343 1073h0M356 1068h0M341 1107h0M358 1094h0M329 1105h0M351 1078h0M342 1070h0M351 1121h0M333 1085h0M329 1096h0M339 1086h0M347 1075h0M335 1133h0M350 1097h0M334 1054h0M354 1061h0M333 1054h0M344 1131h0M353 1050h0M347 1115h0M347 1114h0M346 1047h0M345 1098h0M346 1091h0M353 1116h0M330 1057h0M351 1086h0M358 1076h0M351 1050h0M355 1058h0M342 1146h0M338 1078h0M355 1108h0M349 1108h0M336 1080h0M330 1130h0M354 1109h0M355 1053h0M379 1103h0M374 1065h0M374 1078h0M371 1021h0M377 1157h0M362 1106h0M378 1070h0M387 1085h0M370 1055h0M375 1088h0M388 1117h0M370 1045h0M369 1066h0M376 1078h0M384 1091h0M382 1074h0M390 1033h0M375 1068h0M366 1081h0M386 1041h0M379 1091h0M361 1067h0M391 1113h0M391 1058h0M365 1088h0M378 1133h0M370 1103h0M384 1131h0M373 1027h0M362 1138h0M382 1120h0M361 1118h0M374 1044h0M361 1155h0M374 1062h0M360 1116h0M386 1049h0M378 1097h0M381 1050h0M362 1066h0M386 1098h0M367 1069h0M375 1096h0M385 1121h0M391 1047h0M384 1079h0M388 1116h0M379 1034h0M375 1108h0M360 1083h0M371 1091h0M389 1063h0M368 1063h0M372 1054h0M374 1063h0M367 1060h0M368 1088h0M375 1082h0M388 1072h0M371 1056h0M361 1095h0M370 1044h0M373 1096h0M388 1048h0M375 1084h0M380 1055h0M374 1074h0M385 1086h0M389 1054h0M387 1111h0M371 1113h0M382 1082h0M382 1049h0M381 1052h0M381 1140h0M373 1138h0M389 1046h0M361 1089h0M372 1062h0M369 1036h0M383 1070h0M381 1125h0M383 1098h0M363 1145h0M374 1074h0M382 1084h0M369 1096h0M381 1106h0M360 1134h0M381 1063h0M376 1065h0M383 1109h0M378 1046h0M381 1078h0M362 1107h0M386 1098h0M369 1086h0M374 1105h0M360 1086h0M374 1017h0M385 1082h0M374 1075h0M362 1152h0M375 1041h0M364 1092h0M384 1132h0M390 1034h0M367 1032h0M359 1064h0M386 1042h0M363 1093h0M386 1074h0M360 1062h0M366 1046h0M377 1133h0M380 1008h0M367 1100h0M385 1147h0M388 1088h0M366 1056h0M416 1077h0M392 1071h0M400 1117h0M404 1108h0M398 1047h0M410 1122h0M401 1043h0M405 1071h0M420 1091h0M408 1072h0M405 1109h0M393 1092h0M405 1075h0M393 1125h0M402 1044h0M393 1122h0M410 1076h0M405 1087h0M410 1071h0M407 1053h0M393 1069h0M404 1068h0M422 1042h0M423 1069h0M395 1066h0M416 1054h0M399 1032h0M407 1155h0M422 1087h0M413 1099h0M395 1051h0M410 1105h0M406 1101h0M395 1070h0M418 1054h0M422 1070h0M398 1035h0M413 1108h0M415 1144h0M393 1095h0M402 1076h0M413 1033h0M415 1128h0M403 1103h0M393 1103h0M411 1037h0M413 1090h0M418 1119h0M418 1073h0M392 1061h0M405 1105h0M407 1114h0M412 1045h0M398 1064h0M409 1087h0M409 1070h0M397 1083h0M413 1063h0M421 1072h0M407 1033h0M398 1033h0M421 1114h0M411 1098h0M416 1049h0M393 1091h0M394 1057h0M413 1086h0M412 1073h0M418 1052h0M423 1078h0M421 1098h0M415 1061h0M413 1113h0M393 1088h0M404 1072h0M410 1083h0M408 1065h0M419 1138h0M415 1020h0M401 1101h0M408 1066h0M411 1058h0M398 1121h0M424 1110h0M423 1111h0M416 1122h0M399 1098h0M406 1054h0M410 1169h0M423 1068h0M405 1055h0M400 1052h0M402 1155h0M409 1128h0M419 1120h0M413 1129h0M415 1118h0M395 1117h0M399 1034h0M417 1106h0M414 1029h0M403 1142h0M414 1085h0M404 1127h0M412 1132h0M418 1078h0M416 1108h0M412 1082h0M404 1098h0M417 1059h0M412 1089h0M417 1077h0M421 1090h0M398 1126h0M405 1095h0M407 1065h0M410 1133h0M394 1055h0M394 1055h0M401 1093h0M429 1127h0M427 1078h0M433 1084h0M436 1107h0M455 1079h0M449 1074h0M425 1102h0M446 1047h0M437 1101h0M437 1149h0M425 1134h0M438 1092h0M426 1061h0M426 1079h0M435 1129h0M447 1114h0M446 1118h0M434 1135h0M435 1085h0M438 1081h0M433 1143h0M432 1123h0M450 1049h0M436 1015h0M448 1152h0M441 1085h0M453 1135h0M433 1088h0M447 1146h0M446 1038h0M453 1097h0M443 1111h0M451 1103h0M432 1072h0M447 1066h0M433 1029h0M455 1082h0M450 1058h0M438 1038h0M433 1082h0M448 1113h0M449 1060h0M432 1045h0M450 1070h0M443 1102h0M447 1075h0M438 1046h0M440 1120h0M435 1108h0M455 1111h0M426 1073h0M441 1114h0M428 1087h0M431 1064h0M455 1102h0M432 1099h0M449 1073h0M445 1161h0M432 1086h0M443 1087h0M452 1087h0M442 1045h0M437 1061h0M441 1054h0M428 1077h0M437 1043h0M439 1102h0M451 1085h0M448 1044h0M444 1033h0M434 1080h0M426 1057h0M445 1066h0M434 1061h0M433 1074h0M427 1096h0M426 1088h0M444 1074h0M456 1121h0M445 1082h0M436 1073h0M440 1043h0M429 1090h0M454 1112h0M426 1068h0M441 1106h0M445 1099h0M443 1080h0M440 1107h0M430 1078h0M427 1090h0M425 1114h0M447 1039h0M438 1113h0M455 1133h0M445 1084h0M436 1096h0M451 1115h0M449 1089h0M436 1094h0M447 1105h0M433 1139h0M440 1076h0M455 1099h0M455 1054h0M449 1085h0M448 1085h0M439 1117h0M431 1048h0M443 1099h0M430 1036h0M427 1063h0M439 1097h0M428 1067h0M452 1074h0M433 1107h0M440 1126h0M455 1115h0M439 1096h0M447 1079h0M478 1095h0M481 1096h0M475 1071h0M458 1094h0M459 1095h0M488 1055h0M471 1061h0M471 1090h0M466 1001h0M472 1053h0M469 1069h0M462 1098h0M478 1121h0M481 1109h0M461 1002h0M463 1066h0M471 1068h0M480 1027h0M486 1101h0M479 1082h0M467 1049h0M477 1051h0M462 1085h0M469 1117h0M470 1090h0M478 1083h0M481 1148h0M481 1087h0M481 1133h0M465 1060h0M487 1127h0M459 1077h0M487 1145h0M477 1028h0M485 1131h0M472 1109h0M468 1082h0M471 1109h0M479 1120h0M457 1111h0M486 1124h0M484 1081h0M478 1111h0M474 1117h0M476 1075h0M468 1099h0M480 1136h0M463 1040h0M473 1069h0M471 1034h0M481 1079h0M479 1026h0M468 1108h0M483 1086h0M475 1074h0M468 1092h0M480 1091h0M475 1117h0M465 1118h0M484 1106h0M459 1073h0M484 1086h0M465 1105h0M478 1158h0M460 1114h0M467 1035h0M488 1116h0M466 1059h0M470 1111h0M464 1104h0M480 1112h0M489 1084h0M468 1144h0M486 1057h0M488 1071h0M463 1109h0M464 1069h0M466 1031h0M476 1033h0M485 1104h0M463 1076h0M462 1033h0M468 1087h0M485 1082h0M463 1047h0M468 1130h0M467 1075h0M479 1080h0M464 1038h0M482 1096h0M477 1092h0M487 1050h0M470 1022h0M459 1010h0M460 1050h0M461 1035h0M489 1056h0M461 1135h0M481 1094h0M479 1094h0M474 1073h0M483 1020h0M475 1096h0M460 1111h0M483 1136h0M468 1081h0M485 1055h0M468 1067h0M488 1097h0M458 1078h0M483 1079h0M457 1012h0M474 1065h0M461 1131h0M473 1059h0M478 1072h0M488 1078h0M462 1027h0M484 1002h0M462 1016h0M513 1058h0M502 1042h0M511 1040h0M509 1095h0M499 1090h0M515 1070h0M515 1114h0M506 1041h0M517 1076h0M498 1098h0M504 1138h0M515 1072h0M516 1013h0M497 1107h0M513 1101h0M505 1070h0M504 1092h0M505 1083h0M508 1084h0M511 1067h0M491 1100h0M512 1039h0M519 1130h0M501 1087h0M508 1118h0M502 1052h0M501 1049h0M519 1152h0M505 1074h0M497 1082h0M499 1035h0M500 1076h0M515 1098h0M505 1107h0M513 1084h0M522 1092h0M501 1069h0M502 1139h0M517 1090h0M508 1090h0M500 1091h0M516 1100h0M509 1089h0M509 1104h0M507 1063h0M509 1057h0M495 1129h0M515 1050h0M491 1114h0M494 1077h0M506 1069h0M504 1091h0M509 1061h0M502 1129h0M494 1075h0M499 1124h0M505 1048h0M500 1117h0M495 1111h0M522 1068h0M519 1098h0M495 1047h0M496 1140h0M516 1054h0M501 1141h0M497 1169h0M505 1069h0M512 1075h0M518 1088h0M516 1083h0M521 1101h0M490 1119h0M506 1077h0M516 1030h0M514 1092h0M493 1050h0M507 1032h0M513 1083h0M500 1084h0M492 1080h0M519 1082h0M497 1055h0M507 1066h0M507 1090h0M497 1064h0M499 1099h0M517 1085h0M522 1115h0M514 1112h0M513 1109h0M508 1090h0M503 1098h0M510 1051h0M501 1102h0M505 1075h0M493 1082h0M512 1082h0M494 1130h0M497 1068h0M507 1051h0M498 1087h0M493 1073h0M491 1076h0M493 1084h0M501 1115h0M503 1083h0M518 1112h0M521 1046h0M520 1040h0M514 1109h0M522 1066h0M503 1066h0M494 1057h0M514 1043h0M518 1101h0M519 1069h0M517 1085h0M497 1120h0M498 1103h0M502 1089h0M524 1064h0M523 1053h0M531 1034h0M546 1076h0M535 1089h0M531 1086h0M530 1116h0M554 1128h0M535 1104h0M525 1083h0M532 1105h0M539 1064h0M526 1125h0M544 1128h0M540 1062h0M550 1105h0M537 1067h0M534 1083h0M553 1110h0M532 1101h0M532 1033h0M523 1076h0M550 1061h0M553 1064h0M542 1130h0M546 1083h0M554 1101h0M534 1018h0M551 1060h0M548 1063h0M539 1058h0M544 1076h0M554 1040h0M540 1089h0M555 1068h0M528 1069h0M544 1080h0M554 1125h0M533 1079h0M554 1125h0M544 1122h0M551 1084h0M525 1086h0M523 1093h0M540 1109h0M537 1085h0M535 1072h0M544 1085h0M529 1117h0M527 1043h0M544 1074h0M529 1078h0M536 1089h0M534 1082h0M544 1053h0M549 1104h0M525 1090h0M535 1079h0M548 1133h0M547 1078h0M538 1078h0M532 1087h0M552 1075h0M529 1134h0M542 1082h0M550 1085h0M536 1064h0M543 1075h0M544 1075h0M544 1077h0M541 1069h0M549 1067h0M546 1066h0M552 1058h0M531 1097h0M543 1034h0M544 1102h0M547 1000h0M547 1077h0M538 1070h0M524 1134h0M526 1106h0M541 1026h0M549 1076h0M534 1069h0M550 1105h0M547 1092h0M554 1103h0M553 1085h0M534 1124h0M534 1106h0M548 1034h0M529 1023h0M547 1112h0M549 1026h0M535 1050h0M542 1090h0M533 1110h0M547 1079h0M544 1112h0M548 1059h0M531 1130h0M533 1117h0M549 1070h0M544 1050h0M534 1076h0M528 1054h0M538 1116h0M541 1109h0M542 1121h0M546 1131h0M539 1028h0M554 1092h0M535 1038h0M542 1073h0M535 1078h0M542 1034h0M526 1065h0M533 1057h0M539 1150h0M568 1086h0M583 1050h0M585 1039h0M574 1089h0M584 1083h0M558 1088h0M582 1125h0M563 1065h0M556 1100h0M558 1025h0M562 1036h0M571 1099h0M574 1109h0M580 1075h0M576 1099h0M581 1087h0M587 1059h0M566 1086h0M567 1059h0M574 1077h0M559 1098h0M556 1068h0M579 1056h0M586 1126h0M564 1087h0M563 1115h0M576 1105h0M570 1111h0M584 1122h0M570 1121h0M573 1159h0M585 1065h0M569 1086h0M576 1132h0M574 1083h0M583 1066h0M565 1089h0M564 1085h0M573 1067h0M584 1086h0M573 1096h0M585 1092h0M578 1077h0M581 1096h0M566 1082h0M563 1020h0M578 1088h0M581 1117h0M579 1075h0M560 1090h0M563 1073h0M570 1087h0M567 1105h0M559 1081h0M587 1067h0M572 1079h0M587 1093h0M562 1035h0M560 1075h0M579 1114h0M562 1027h0M569 1031h0M570 1067h0M560 1117h0M556 1102h0M566 1117h0M561 1000h0M587 1105h0M563 1133h0M579 1133h0M581 1063h0M569 1122h0M562 1071h0M578 1080h0M581 1116h0M584 1101h0M562 1107h0M573 1115h0M580 1062h0M581 1068h0M577 1075h0M586 1083h0M572 1047h0M565 1065h0M578 1107h0M584 1055h0M576 1070h0M558 1049h0M561 1150h0M579 1043h0M577 1074h0M565 1053h0M570 1095h0M575 1109h0M573 1081h0M576 1054h0M559 1099h0M561 1077h0M565 1082h0M581 1064h0M568 1050h0M586 1078h0M562 1101h0M564 1048h0M563 1088h0M556 1123h0M579 1077h0M558 1095h0M566 1090h0M562 1100h0M582 1080h0M562 1081h0M585 1082h0M562 1087h0M576 1085h0M573 1084h0M565 1079h0M578 1106h0M580 1082h0M558 1119h0M598 1055h0M592 1015h0M594 1083h0M593 1056h0M608 1041h0M608 1059h0M594 1050h0M619 1058h0M602 1130h0M595 1121h0M593 1081h0M595 1051h0M599 1136h0M595 1090h0M598 1118h0M600 1035h0M597 1120h0M599 1137h0M595 1088h0M592 1099h0M592 1059h0M615 1064h0M600 1110h0M592 1107h0M609 1113h0M599 1085h0M592 1132h0M614 1148h0M607 1043h0M593 1046h0M593 1074h0M590 1029h0M590 1040h0M612 1114h0M602 1103h0M619 1135h0M606 1085h0M618 1056h0M597 1075h0M597 1129h0M603 1104h0M611 1071h0M615 1111h0M604 1091h0M593 1091h0M603 1063h0M599 1122h0M599 1084h0M604 1108h0M597 1098h0M598 1067h0M618 1138h0M603 1089h0M593 1116h0M605 1080h0M609 1061h0M592 1048h0M612 1094h0M592 1011h0M608 1095h0M609 1069h0M615 1055h0M600 1033h0M608 1062h0M614 1077h0M606 1081h0M596 1081h0M610 1079h0M593 1130h0M595 1057h0M618 1052h0M617 1065h0M590 1070h0M606 1068h0M602 1108h0M611 1075h0M605 1069h0M605 1067h0M596 1047h0M591 1098h0M619 1059h0M608 1100h0M593 1110h0M618 1081h0M615 1073h0M610 1104h0M605 1062h0M607 1090h0M620 1074h0M616 1119h0M593 1097h0M612 1086h0M609 1050h0M599 1111h0M591 1079h0M616 1104h0M600 1093h0M614 1077h0M611 1094h0M595 1145h0M594 1097h0M619 1088h0M603 1082h0M612 1085h0M618 1031h0M612 1084h0M603 1098h0M606 1064h0M618 1088h0M593 1071h0M619 1079h0M602 1096h0M612 1062h0M618 1069h0M601 1071h0M600 1047h0M603 1094h0M615 1052h0M602 1062h0M592 1102h0M645 1090h0M627 1069h0M624 1081h0M623 1100h0M650 1070h0M649 1071h0M627 1051h0M635 1047h0M635 1087h0M631 1093h0M633 1058h0M627 1094h0M651 1027h0M640 1118h0M639 1070h0M640 1125h0M635 1057h0M625 1080h0M626 1105h0M633 1087h0M637 1050h0M634 1094h0M646 1022h0M647 1075h0M650 1108h0M646 1061h0M631 1087h0M644 1129h0M645 1093h0M635 1029h0M631 1112h0M635 1101h0M635 1043h0M643 1054h0M632 1096h0M650 1113h0M626 1064h0M651 1079h0M633 1075h0M630 1061h0M635 1045h0M641 1100h0M630 1121h0M633 1113h0M621 1135h0M627 1097h0M638 1034h0M635 1106h0M647 1069h0M648 1056h0M638 1060h0M625 1079h0M641 1088h0M629 1073h0M628 1045h0M638 1081h0M636 1076h0M650 1084h0M650 1079h0M641 1135h0M638 1076h0M626 1105h0M628 1095h0M628 1116h0M650 1072h0M645 1115h0M628 1086h0M634 1035h0M627 1094h0M621 1082h0M621 1101h0M649 1070h0M629 1080h0M625 1067h0M625 1108h0M629 1044h0M639 1107h0M652 1136h0M635 1033h0M629 1096h0M649 1099h0M624 1060h0M637 1113h0M634 1053h0M622 1085h0M651 1074h0M639 1103h0M647 1040h0M635 1062h0M653 1136h0M627 1070h0M646 1073h0M635 1077h0M642 1113h0M628 1134h0M635 1070h0M622 1127h0M633 1151h0M641 1037h0M629 1053h0M635 1080h0M633 1103h0M627 1115h0M624 1060h0M629 1104h0M627 1095h0M623 1085h0M643 1057h0M644 1104h0M645 1121h0M626 1088h0M623 1083h0M642 1098h0M649 1034h0M636 1121h0M629 1064h0M631 1107h0M630 1130h0M627 1157h0M624 1085h0M661 1082h0M677 1117h0M666 1083h0M670 1089h0M663 1100h0M684 1124h0M681 1019h0M656 1049h0M678 1140h0M668 1051h0M667 1038h0M675 1049h0M669 1086h0M668 1032h0M665 1071h0M682 1001h0M685 1109h0M684 1046h0M659 1093h0M682 1044h0M672 1144h0M669 1086h0M681 1073h0M669 1015h0M666 1073h0M662 1085h0M667 1093h0M661 1083h0M663 1043h0M685 1085h0M657 1124h0M660 1117h0M671 1114h0M661 1050h0M656 1129h0M664 1087h0M680 1060h0M665 1117h0M684 1041h0M672 1053h0M684 1100h0M681 1080h0M681 1093h0M658 1116h0M669 1126h0M662 1086h0M655 1054h0M661 1071h0M682 1122h0M667 1086h0M677 1118h0M677 1125h0M661 1105h0M680 1072h0M685 1068h0M680 1098h0M681 1065h0M667 1095h0M674 1082h0M678 1093h0M673 1123h0M675 1018h0M685 1079h0M661 1045h0M666 1096h0M654 1070h0M673 1114h0M659 1057h0M661 1075h0M670 1045h0M664 1104h0M665 1114h0M669 1135h0M680 1106h0M667 1111h0M664 1045h0M659 1105h0M685 1033h0M684 1106h0M666 1050h0M681 1087h0M661 1045h0M683 1088h0M661 1069h0M678 1069h0M664 1078h0M662 1133h0M684 1043h0M654 1037h0M667 1098h0M680 1041h0M659 1058h0M683 1129h0M655 1048h0M659 1087h0M656 1095h0M683 1072h0M684 1086h0M670 1083h0M655 1121h0M678 1079h0M673 1062h0M680 1075h0M679 1059h0M667 1018h0M670 1077h0M661 1074h0M660 1098h0M655 1130h0M684 1085h0M669 1074h0M685 1108h0M678 1097h0M657 1093h0M667 1056h0M683 1048h0M660 1097h0M675 1089h0M676 1075h0M682 1086h0M709 1071h0M690 1089h0M712 1105h0M699 1136h0M691 1079h0M715 1126h0M700 1118h0M711 1117h0M690 1091h0M712 1084h0M710 1131h0M692 1123h0M690 1080h0M717 1091h0M716 1010h0M702 1055h0M705 1086h0M713 1146h0M717 1023h0M700 1023h0M691 1065h0M712 1157h0M700 1068h0M704 1085h0M698 1080h0M711 1118h0M695 1073h0M706 1072h0M713 1069h0M688 1091h0M688 1100h0M690 1062h0M700 1082h0M699 1047h0M713 1115h0M711 1081h0M702 1104h0M699 1081h0M705 1091h0M698 1074h0M701 1067h0M714 1067h0M704 1078h0M710 1023h0M688 1069h0M698 1092h0M697 1087h0M703 1092h0M702 1089h0M707 1121h0M698 1115h0M693 1101h0M708 1046h0M709 1094h0M717 1098h0M710 1135h0M712 1075h0M707 1155h0M696 1083h0M702 1066h0M701 1081h0M708 1054h0M705 1082h0M713 1056h0M694 1047h0M697 1084h0M702 1104h0M704 1092h0M689 1038h0M706 1064h0M702 1108h0M701 1069h0M689 1068h0M690 1058h0M692 1090h0M700 1049h0M707 1114h0M700 1070h0M704 1093h0M696 1063h0M697 1099h0M689 1119h0M700 1055h0M716 1151h0M716 1084h0M717 1064h0M717 1125h0M696 1073h0M701 1094h0M687 1072h0M712 1065h0M694 1093h0M703 1120h0M711 1129h0M700 1092h0M699 1095h0M716 1071h0M689 1109h0M713 1025h0M707 1078h0M691 1057h0M714 1105h0M717 1026h0M702 1066h0M717 1036h0M692 1027h0M689 1086h0M713 1080h0M694 1084h0M713 1117h0M705 1107h0M691 1044h0M711 1025h0M706 1114h0M713 1044h0M707 1091h0M707 1079h0M714 1065h0M688 1040h0M707 1074h0M722 1160h0M745 1081h0M727 1121h0M742 1097h0M741 1086h0M748 1058h0M743 1156h0M726 1061h0M733 1059h0M728 1046h0M748 1106h0M738 1114h0M720 1080h0M731 1099h0M722 1106h0M729 1127h0M730 1042h0M730 1063h0M732 1029h0M724 1101h0M724 1065h0M738 1068h0M723 1019h0M732 1095h0M726 1116h0M751 1088h0M742 1082h0M732 1142h0M736 1061h0M747 1077h0M730 1116h0M744 1113h0M730 1148h0M740 1113h0M743 1141h0M748 1052h0M719 1076h0M736 1091h0M725 1084h0M732 1092h0M729 1094h0M750 1090h0M733 1071h0M741 1048h0M746 1048h0M730 1110h0M734 1094h0M720 1108h0M723 1115h0M738 1118h0M740 1096h0M742 1033h0M743 1106h0M726 1054h0M731 1084h0M737 1102h0M745 1112h0M747 1104h0M749 1093h0M732 1087h0M721 1091h0M747 1102h0M724 1061h0M733 1067h0M740 1126h0M732 1077h0M726 1115h0M724 1100h0M747 1094h0M734 1049h0M725 1154h0M740 1081h0M724 1099h0M736 1083h0M720 1099h0M751 1086h0M729 1045h0M736 1119h0M748 1085h0M720 1122h0M729 1102h0M745 1072h0M735 1085h0M722 1099h0M728 1012h0M739 1076h0M749 1115h0M737 1055h0M749 1057h0M748 1056h0M729 1130h0M728 1031h0M747 1082h0M724 1090h0M740 1112h0M740 1115h0M742 1051h0M728 1107h0M738 1073h0M745 1119h0M748 1106h0M749 1010h0M720 1127h0M724 1133h0M744 1047h0M739 1072h0M720 1070h0M735 1116h0M743 1006h0M743 1128h0M731 1111h0M748 1103h0M739 1081h0M723 1088h0M747 1089h0M731 1049h0M733 1088h0M736 1127h0M745 1083h0M729 1146h0" stroke="#444" stroke-width="1.3" stroke-linecap="round" opacity="0.8"/>
<path d="M56.6 501.7L56.3 506.0L56.3 508.0L56.0 509.9L55.5 511.9L54.9 513.9L54.4 515.8L53.8 517.8L53.2 519.7L52.7 521.7L52.1 523.7L51.6 525.6L51.1 527.6L50.7 529.5L50.3 531.5L49.9 533.5L49.6 535.4L49.5 537.4L49.5 539.6L49.6 541.8L49.7 543.9L49.9 546.1L50.2 548.3L50.5 550.5L50.9 552.6L51.4 554.8L52.0 557.0L52.6 559.1L53.3 561.3L54.0 563.5L54.7 565.7L55.5 567.9L56.2 570.0L56.6 572.2L57.0 572.2L57.4 570.0L58.1 567.9L58.9 565.7L59.6 563.5L60.3 561.3L61.0 559.1L61.6 557.0L62.2 554.8L62.7 552.6L63.1 550.5L63.4 548.3L63.7 546.1L63.9 543.9L64.0 541.8L64.1 539.6L64.1 537.4L64.0 535.4L63.7 533.5L63.3 531.5L62.9 529.5L62.5 527.6L62.0 525.6L61.5 523.7L60.9 521.7L60.4 519.7L59.8 517.8L59.2 515.8L58.7 513.9L58.1 511.9L57.6 509.9L57.2 508.0L57.2 506.0L57.0 501.7Z" fill="#800000" stroke="#444" stroke-width="0.35"/>
<path d="M73.0 504.7L72.7 509.0L72.7 510.5L72.4 512.0L71.8 513.6L71.3 515.1L70.7 516.6L70.1 518.1L69.6 519.7L69.0 521.2L68.5 522.7L67.9 524.2L67.5 525.8L67.0 527.3L66.6 528.8L66.3 530.4L66.0 531.9L65.9 533.4L65.9 535.9L65.9 538.5L66.1 541.0L66.3 543.6L66.5 546.1L66.9 548.7L67.3 551.2L67.8 553.8L68.3 556.4L68.9 558.9L69.6 561.5L70.3 564.0L71.1 566.6L71.8 569.1L72.6 571.7L73.0 574.2L73.4 574.2L73.7 571.7L74.5 569.1L75.2 566.6L76.0 564.0L76.7 561.5L77.4 558.9L78.0 556.4L78.5 553.8L79.0 551.2L79.4 548.7L79.8 546.1L80.0 543.6L80.2 541.0L80.4 538.5L80.4 535.9L80.5 533.4L80.3 531.9L80.0 530.4L79.7 528.8L79.3 527.3L78.8 525.8L78.4 524.2L77.8 522.7L77.3 521.2L76.7 519.7L76.2 518.1L75.6 516.6L75.0 515.1L74.5 513.6L73.9 512.0L73.6 510.5L73.6 509.0L73.4 504.7Z" fill="#f58231" stroke="#444" stroke-width="0.35"/>
<path d="M89.3 509.9L89.0 513.0L89.0 514.4L88.7 515.8L88.2 517.2L87.6 518.6L87.1 520.0L86.5 521.4L85.9 522.8L85.4 524.2L84.8 525.6L84.3 527.0L83.8 528.4L83.4 529.8L83.0 531.2L82.6 532.6L82.3 534.0L82.2 535.4L82.2 538.0L82.3 540.6L82.4 543.3L82.6 545.9L82.9 548.5L83.2 551.1L83.6 553.7L84.1 556.3L84.7 559.0L85.3 561.6L86.0 564.2L86.7 566.8L87.4 569.4L88.2 572.1L88.9 574.7L89.3 577.3L89.7 577.3L90.1 574.7L90.8 572.1L91.6 569.4L92.3 566.8L93.0 564.2L93.7 561.6L94.3 559.0L94.9 556.3L95.4 553.7L95.8 551.1L96.1 548.5L96.4 545.9L96.6 543.3L96.7 540.6L96.8 538.0L96.8 535.4L96.7 534.0L96.4 532.6L96.0 531.2L95.6 529.8L95.2 528.4L94.7 527.0L94.2 525.6L93.6 524.2L93.1 522.8L92.5 521.4L91.9 520.0L91.4 518.6L90.8 517.2L90.3 515.8L90.0 514.4L90.0 513.0L89.7 509.9Z" fill="#3cb44b" stroke="#444" stroke-width="0.35"/>
<path d="M103.8 498.2L103.9 498.6L103.9 499.1L104.0 499.6L104.0 500.0L104.2 501.2L104.3 502.5L104.4 503.8L104.5 505.0L104.6 506.5L104.6 508.0L104.6 509.5L104.6 511.0L104.4 512.8L104.1 514.5L103.9 516.2L103.6 518.0L103.1 520.2L102.6 522.5L102.1 524.8L101.6 527.0L101.1 528.5L100.6 530.0L100.1 531.5L99.6 533.0L99.4 534.6L99.1 536.2L98.9 537.9L98.6 539.5L98.7 541.1L98.8 542.8L98.8 544.4L98.8 546.0L99.0 547.4L99.2 548.9L99.4 550.3L99.5 551.7L99.9 553.0L100.3 554.4L100.7 555.7L101.0 557.0L101.5 558.2L101.9 559.5L102.4 560.8L102.8 562.0L103.1 563.2L103.4 564.5L103.8 565.8L104.0 567.0L104.2 568.2L104.3 569.5L104.5 570.8L104.6 572.0L104.7 573.5L104.8 575.0L104.9 576.5L104.9 578.0L104.9 579.5L104.9 581.0L104.9 582.5L104.9 584.0L104.9 585.5L104.8 587.0L104.7 588.5L104.6 590.0L104.7 591.2L104.8 592.5L104.8 593.8L104.8 595.0L105.0 596.0L105.2 597.1L105.4 598.2L105.5 599.2L106.1 599.2L106.3 598.2L106.5 597.1L106.7 596.0L106.8 595.0L106.9 593.8L106.9 592.5L107.0 591.2L107.0 590.0L107.0 588.5L106.9 587.0L106.8 585.5L106.8 584.0L106.8 582.5L106.8 581.0L106.8 579.5L106.8 578.0L106.8 576.5L106.9 575.0L107.0 573.5L107.0 572.0L107.2 570.8L107.3 569.5L107.5 568.2L107.6 567.0L107.9 565.8L108.2 564.5L108.5 563.2L108.8 562.0L109.3 560.8L109.8 559.5L110.2 558.2L110.6 557.0L111.0 555.7L111.4 554.4L111.8 553.0L112.1 551.7L112.3 550.3L112.5 548.9L112.7 547.4L112.8 546.0L112.9 544.4L112.9 542.8L113.0 541.1L113.0 539.5L112.8 537.9L112.5 536.2L112.3 534.6L112.0 533.0L111.5 531.5L111.0 530.0L110.5 528.5L110.0 527.0L109.5 524.8L109.0 522.5L108.5 520.2L108.0 518.0L107.8 516.2L107.5 514.5L107.3 512.8L107.0 511.0L107.1 509.5L107.1 508.0L107.1 506.5L107.1 505.0L107.3 503.8L107.4 502.5L107.5 501.2L107.6 500.0L107.7 499.6L107.8 499.1L107.8 498.6L107.8 498.2Z" fill="#e6194b" stroke="#444" stroke-width="0.35"/>
<path d="M122.0 498.0L121.8 510.9L121.8 512.2L121.4 513.4L120.9 514.7L120.3 516.0L119.8 517.3L119.2 518.5L118.6 519.8L118.1 521.1L117.5 522.4L117.0 523.6L116.5 524.9L116.1 526.2L115.7 527.5L115.3 528.8L115.0 530.0L114.9 531.3L114.9 534.0L115.0 536.6L115.1 539.3L115.3 542.0L115.6 544.6L115.9 547.3L116.3 550.0L116.8 552.6L117.4 555.3L118.0 558.0L118.7 560.7L119.4 563.3L120.1 566.0L120.9 568.7L121.6 571.3L121.8 574.0L122.0 579.3L122.4 579.3L122.6 574.0L122.8 571.3L123.5 568.7L124.3 566.0L125.0 563.3L125.7 560.7L126.4 558.0L127.0 555.3L127.6 552.6L128.1 550.0L128.5 547.3L128.8 544.6L129.1 542.0L129.3 539.3L129.4 536.6L129.5 534.0L129.5 531.3L129.4 530.0L129.1 528.8L128.7 527.5L128.3 526.2L127.9 524.9L127.4 523.6L126.9 522.4L126.3 521.1L125.8 519.8L125.2 518.5L124.6 517.3L124.1 516.0L123.5 514.7L123.0 513.4L122.7 512.2L122.7 510.9L122.4 498.0Z" fill="#ffe119" stroke="#444" stroke-width="0.35"/>
<path d="M138.4 509.9L138.1 511.0L138.1 512.9L137.8 514.8L137.2 516.7L136.7 518.6L136.1 520.5L135.5 522.4L135.0 524.3L134.4 526.2L133.9 528.2L133.3 530.1L132.9 532.0L132.4 533.9L132.0 535.8L131.7 537.7L131.4 539.6L131.2 541.5L131.3 543.3L131.3 545.1L131.5 546.8L131.7 548.6L131.9 550.4L132.3 552.2L132.7 554.0L133.2 555.8L133.7 557.5L134.3 559.3L135.0 561.1L135.7 562.9L136.5 564.7L137.2 566.4L138.0 568.2L138.2 570.0L138.4 578.3L138.8 578.3L139.0 570.0L139.1 568.2L139.9 566.4L140.6 564.7L141.4 562.9L142.1 561.1L142.8 559.3L143.4 557.5L143.9 555.8L144.4 554.0L144.8 552.2L145.2 550.4L145.4 548.6L145.6 546.8L145.8 545.1L145.8 543.3L145.9 541.5L145.7 539.6L145.4 537.7L145.1 535.8L144.7 533.9L144.2 532.0L143.8 530.1L143.2 528.2L142.7 526.2L142.1 524.3L141.6 522.4L141.0 520.5L140.4 518.6L139.9 516.7L139.3 514.8L139.0 512.9L139.0 511.0L138.8 509.9Z" fill="#f032e6" stroke="#444" stroke-width="0.35"/>
<path d="M154.7 501.7L154.5 512.9L154.5 514.4L154.1 516.0L153.6 517.5L153.0 519.0L152.5 520.6L151.9 522.1L151.3 523.6L150.8 525.1L150.2 526.7L149.7 528.2L149.2 529.7L148.8 531.3L148.4 532.8L148.0 534.3L147.7 535.9L147.6 537.4L147.6 539.3L147.7 541.2L147.8 543.2L148.0 545.1L148.3 547.0L148.6 548.9L149.0 550.8L149.5 552.8L150.1 554.7L150.7 556.6L151.4 558.5L152.1 560.4L152.8 562.3L153.6 564.3L154.3 566.2L154.5 568.1L154.7 588.5L155.1 588.5L155.3 568.1L155.5 566.2L156.2 564.3L157.0 562.3L157.7 560.4L158.4 558.5L159.1 556.6L159.7 554.7L160.3 552.8L160.8 550.8L161.2 548.9L161.5 547.0L161.8 545.1L162.0 543.2L162.1 541.2L162.2 539.3L162.2 537.4L162.1 535.9L161.8 534.3L161.4 532.8L161.0 531.3L160.6 529.7L160.1 528.2L159.6 526.7L159.0 525.1L158.5 523.6L157.9 522.1L157.3 520.6L156.8 519.0L156.2 517.5L155.7 516.0L155.3 514.4L155.3 512.9L155.1 501.7Z" fill="#4169e1" stroke="#444" stroke-width="0.35"/>
<path d="M171.1 496.6L170.8 510.9L170.8 512.6L170.5 514.2L169.9 515.9L169.4 517.5L168.8 519.2L168.2 520.8L167.7 522.5L167.1 524.1L166.6 525.8L166.0 527.5L165.6 529.1L165.1 530.8L164.7 532.4L164.4 534.1L164.1 535.7L163.9 537.4L164.0 539.7L164.0 542.0L164.2 544.3L164.4 546.6L164.6 548.9L165.0 551.2L165.4 553.5L165.9 555.8L166.4 558.1L167.0 560.4L167.7 562.7L168.4 565.0L169.2 567.3L169.9 569.6L170.7 571.9L171.1 574.2L171.4 574.2L171.8 571.9L172.6 569.6L173.3 567.3L174.1 565.0L174.8 562.7L175.5 560.4L176.1 558.1L176.6 555.8L177.1 553.5L177.5 551.2L177.9 548.9L178.1 546.6L178.3 544.3L178.5 542.0L178.5 539.7L178.6 537.4L178.4 535.7L178.1 534.1L177.8 532.4L177.4 530.8L176.9 529.1L176.5 527.5L175.9 525.8L175.4 524.1L174.8 522.5L174.3 520.8L173.7 519.2L173.1 517.5L172.6 515.9L172.0 514.2L171.7 512.6L171.7 510.9L171.4 496.6Z" fill="#808000" stroke="#444" stroke-width="0.35"/>
<path d="M187.4 500.2L187.2 510.9L187.2 512.7L186.8 514.5L186.3 516.3L185.7 518.0L185.2 519.8L184.6 521.6L184.0 523.4L183.5 525.2L182.9 527.0L182.4 528.8L181.9 530.6L181.5 532.4L181.1 534.1L180.7 535.9L180.4 537.7L180.3 539.5L180.3 541.7L180.4 543.9L180.5 546.1L180.7 548.3L181.0 550.5L181.3 552.7L181.7 554.9L182.2 557.0L182.8 559.2L183.4 561.4L184.1 563.6L184.8 565.8L185.5 568.0L186.3 570.2L187.0 572.4L187.4 574.6L187.8 574.6L188.2 572.4L188.9 570.2L189.7 568.0L190.4 565.8L191.1 563.6L191.8 561.4L192.4 559.2L193.0 557.0L193.5 554.9L193.9 552.7L194.2 550.5L194.5 548.3L194.7 546.1L194.8 543.9L194.9 541.7L194.9 539.5L194.8 537.7L194.5 535.9L194.1 534.1L193.7 532.4L193.3 530.6L192.8 528.8L192.3 527.0L191.7 525.2L191.2 523.4L190.6 521.6L190.0 519.8L189.5 518.0L188.9 516.3L188.4 514.5L188.1 512.7L188.1 510.9L187.8 500.2Z" fill="#000075" stroke="#444" stroke-width="0.35"/>
<path d="M203.8 507.8L203.5 509.0L203.5 511.0L203.2 513.1L202.6 515.1L202.1 517.1L201.5 519.2L200.9 521.2L200.4 523.2L199.8 525.2L199.3 527.3L198.7 529.3L198.3 531.3L197.8 533.4L197.4 535.4L197.1 537.4L196.8 539.5L196.6 541.5L196.7 543.4L196.7 545.3L196.9 547.3L197.1 549.2L197.3 551.1L197.7 553.0L198.1 554.9L198.6 556.9L199.1 558.8L199.7 560.7L200.4 562.6L201.1 564.5L201.9 566.4L202.6 568.4L203.4 570.3L203.5 572.2L203.8 597.7L204.1 597.7L204.3 572.2L204.5 570.3L205.3 568.4L206.0 566.4L206.8 564.5L207.5 562.6L208.2 560.7L208.8 558.8L209.3 556.9L209.8 554.9L210.2 553.0L210.6 551.1L210.8 549.2L211.0 547.3L211.2 545.3L211.2 543.4L211.2 541.5L211.1 539.5L210.8 537.4L210.5 535.4L210.1 533.4L209.6 531.3L209.2 529.3L208.6 527.3L208.1 525.2L207.5 523.2L207.0 521.2L206.4 519.2L205.8 517.1L205.3 515.1L204.7 513.1L204.4 511.0L204.4 509.0L204.1 507.8Z" fill="#911eb4" stroke="#444" stroke-width="0.35"/>
<path d="M220.1 511.9L219.9 513.0L219.9 514.9L219.5 516.8L219.0 518.7L218.4 520.6L217.9 522.5L217.3 524.4L216.7 526.3L216.2 528.2L215.6 530.2L215.1 532.1L214.6 534.0L214.2 535.9L213.8 537.8L213.4 539.7L213.1 541.6L213.0 543.5L213.0 545.3L213.1 547.1L213.2 548.9L213.4 550.7L213.7 552.5L214.0 554.3L214.4 556.1L214.9 557.9L215.5 559.6L216.1 561.4L216.8 563.2L217.5 565.0L218.2 566.8L219.0 568.6L219.7 570.4L219.9 572.2L220.1 583.4L220.5 583.4L220.7 572.2L220.9 570.4L221.6 568.6L222.4 566.8L223.1 565.0L223.8 563.2L224.5 561.4L225.1 559.6L225.7 557.9L226.2 556.1L226.6 554.3L226.9 552.5L227.2 550.7L227.4 548.9L227.5 547.1L227.6 545.3L227.6 543.5L227.5 541.6L227.2 539.7L226.8 537.8L226.4 535.9L226.0 534.0L225.5 532.1L225.0 530.2L224.4 528.2L223.9 526.3L223.3 524.4L222.7 522.5L222.2 520.6L221.6 518.7L221.1 516.8L220.8 514.9L220.8 513.0L220.5 511.9Z" fill="#bfef45" stroke="#444" stroke-width="0.35"/>
<path d="M236.5 510.9L236.2 512.0L236.2 514.1L235.9 516.2L235.3 518.3L234.8 520.4L234.2 522.5L233.6 524.6L233.1 526.7L232.5 528.8L232.0 530.9L231.4 533.0L231.0 535.1L230.5 537.2L230.1 539.3L229.8 541.4L229.5 543.5L229.4 545.6L229.4 547.4L229.4 549.2L229.6 551.0L229.8 552.8L230.0 554.5L230.4 556.3L230.8 558.1L231.3 559.9L231.8 561.7L232.4 563.5L233.1 565.3L233.8 567.1L234.6 568.8L235.3 570.6L236.1 572.4L236.5 574.2L236.9 574.2L237.2 572.4L238.0 570.6L238.7 568.8L239.5 567.1L240.2 565.3L240.9 563.5L241.5 561.7L242.0 559.9L242.5 558.1L242.9 556.3L243.3 554.5L243.5 552.8L243.7 551.0L243.9 549.2L243.9 547.4L244.0 545.6L243.8 543.5L243.5 541.4L243.2 539.3L242.8 537.2L242.3 535.1L241.9 533.0L241.3 530.9L240.8 528.8L240.2 526.7L239.7 524.6L239.1 522.5L238.5 520.4L238.0 518.3L237.4 516.2L237.1 514.1L237.1 512.0L236.9 510.9Z" fill="#9a6324" stroke="#444" stroke-width="0.35"/>
<path d="M252.8 512.9L252.6 514.0L252.6 515.3L252.2 516.7L251.7 518.0L251.1 519.4L250.6 520.7L250.0 522.0L249.4 523.4L248.9 524.7L248.3 526.0L247.8 527.4L247.3 528.7L246.9 530.0L246.5 531.4L246.1 532.7L245.8 534.1L245.7 535.4L245.7 537.4L245.8 539.5L245.9 541.5L246.1 543.6L246.4 545.6L246.7 547.7L247.1 549.7L247.6 551.8L248.2 553.8L248.8 555.8L249.5 557.9L250.2 559.9L250.9 562.0L251.7 564.0L252.4 566.1L252.6 568.1L252.8 596.7L253.2 596.7L253.4 568.1L253.6 566.1L254.3 564.0L255.1 562.0L255.8 559.9L256.5 557.9L257.2 555.8L257.8 553.8L258.4 551.8L258.9 549.7L259.3 547.7L259.6 545.6L259.9 543.6L260.1 541.5L260.2 539.5L260.3 537.4L260.3 535.4L260.2 534.1L259.9 532.7L259.5 531.4L259.1 530.0L258.7 528.7L258.2 527.4L257.7 526.0L257.1 524.7L256.6 523.4L256.0 522.0L255.4 520.7L254.9 519.4L254.3 518.0L253.8 516.7L253.4 515.3L253.4 514.0L253.2 512.9Z" fill="#42d4f4" stroke="#444" stroke-width="0.35"/>
<path d="M269.2 505.2L268.9 509.0L268.9 510.9L268.6 512.8L268.0 514.7L267.5 516.6L266.9 518.5L266.3 520.4L265.8 522.3L265.2 524.2L264.7 526.2L264.1 528.1L263.7 530.0L263.2 531.9L262.8 533.8L262.5 535.7L262.2 537.6L262.1 539.5L262.1 541.7L262.1 543.9L262.3 546.2L262.5 548.4L262.7 550.6L263.1 552.8L263.5 555.0L264.0 557.2L264.5 559.5L265.1 561.7L265.8 563.9L266.5 566.1L267.3 568.3L268.0 570.6L268.8 572.8L269.0 575.0L269.2 593.6L269.6 593.6L269.8 575.0L269.9 572.8L270.7 570.6L271.4 568.3L272.2 566.1L272.9 563.9L273.6 561.7L274.2 559.5L274.7 557.2L275.2 555.0L275.6 552.8L276.0 550.6L276.2 548.4L276.4 546.2L276.6 543.9L276.6 541.7L276.7 539.5L276.5 537.6L276.2 535.7L275.9 533.8L275.5 531.9L275.0 530.0L274.6 528.1L274.0 526.2L273.5 524.2L272.9 522.3L272.4 520.4L271.8 518.5L271.2 516.6L270.7 514.7L270.1 512.8L269.8 510.9L269.8 509.0L269.6 505.2Z" fill="#ff9999" stroke="#444" stroke-width="0.35"/>
<path d="M285.5 512.9L285.3 514.0L285.3 515.7L284.9 517.4L284.4 519.2L283.8 520.9L283.3 522.6L282.7 524.3L282.1 526.0L281.6 527.8L281.0 529.5L280.5 531.2L280.0 532.9L279.6 534.6L279.2 536.3L278.8 538.1L278.5 539.8L278.4 541.5L278.4 543.7L278.5 545.9L278.6 548.0L278.8 550.2L279.1 552.4L279.4 554.5L279.8 556.7L280.3 558.9L280.9 561.1L281.5 563.2L282.2 565.4L282.9 567.6L283.6 569.8L284.4 571.9L285.1 574.1L285.5 576.3L285.9 576.3L286.3 574.1L287.0 571.9L287.8 569.8L288.5 567.6L289.2 565.4L289.9 563.2L290.5 561.1L291.1 558.9L291.6 556.7L292.0 554.5L292.3 552.4L292.6 550.2L292.8 548.0L292.9 545.9L293.0 543.7L293.0 541.5L292.9 539.8L292.6 538.1L292.2 536.3L291.8 534.6L291.4 532.9L290.9 531.2L290.4 529.5L289.8 527.8L289.3 526.0L288.7 524.3L288.1 522.6L287.6 520.9L287.0 519.2L286.5 517.4L286.2 515.7L286.2 514.0L285.9 512.9Z" fill="#c6dbff" stroke="#444" stroke-width="0.35"/>
<path d="M301.9 512.9L301.6 514.0L301.6 515.7L301.3 517.4L300.7 519.2L300.2 520.9L299.6 522.6L299.0 524.3L298.5 526.0L297.9 527.8L297.4 529.5L296.8 531.2L296.4 532.9L295.9 534.6L295.5 536.3L295.2 538.1L294.9 539.8L294.8 541.5L294.8 543.6L294.8 545.7L295.0 547.8L295.2 549.9L295.4 552.0L295.8 554.1L296.2 556.2L296.7 558.2L297.2 560.3L297.8 562.4L298.5 564.5L299.2 566.6L300.0 568.7L300.7 570.8L301.5 572.9L301.7 575.0L301.9 581.4L302.2 581.4L302.4 575.0L302.6 572.9L303.4 570.8L304.1 568.7L304.9 566.6L305.6 564.5L306.3 562.4L306.9 560.3L307.4 558.2L307.9 556.2L308.3 554.1L308.7 552.0L308.9 549.9L309.1 547.8L309.3 545.7L309.3 543.6L309.4 541.5L309.2 539.8L308.9 538.1L308.6 536.3L308.2 534.6L307.7 532.9L307.3 531.2L306.7 529.5L306.2 527.8L305.6 526.0L305.1 524.3L304.5 522.6L303.9 520.9L303.4 519.2L302.8 517.4L302.5 515.7L302.5 514.0L302.2 512.9Z" fill="#dcbeff" stroke="#444" stroke-width="0.35"/>
<path d="M318.2 506.4L318.0 512.0L318.0 513.7L317.6 515.4L317.1 517.2L316.5 518.9L316.0 520.6L315.4 522.3L314.8 524.0L314.3 525.8L313.7 527.5L313.2 529.2L312.7 530.9L312.3 532.6L311.9 534.3L311.5 536.1L311.2 537.8L311.1 539.5L311.1 541.7L311.2 544.0L311.3 546.2L311.5 548.4L311.8 550.7L312.1 552.9L312.5 555.1L313.0 557.4L313.6 559.6L314.2 561.8L314.9 564.0L315.6 566.3L316.3 568.5L317.1 570.7L317.8 573.0L318.2 575.2L318.6 575.2L319.0 573.0L319.7 570.7L320.5 568.5L321.2 566.3L321.9 564.0L322.6 561.8L323.2 559.6L323.8 557.4L324.3 555.1L324.7 552.9L325.0 550.7L325.3 548.4L325.5 546.2L325.6 544.0L325.7 541.7L325.7 539.5L325.6 537.8L325.3 536.1L324.9 534.3L324.5 532.6L324.1 530.9L323.6 529.2L323.1 527.5L322.5 525.8L322.0 524.0L321.4 522.3L320.8 520.6L320.3 518.9L319.7 517.2L319.2 515.4L318.9 513.7L318.9 512.0L318.6 506.4Z" fill="#fffac8" stroke="#444" stroke-width="0.35"/>
<path d="M334.6 507.8L334.3 511.0L334.3 513.0L334.0 515.1L333.4 517.1L332.9 519.1L332.3 521.2L331.7 523.2L331.2 525.2L330.6 527.2L330.1 529.3L329.5 531.3L329.1 533.3L328.6 535.4L328.2 537.4L327.9 539.4L327.6 541.5L327.5 543.5L327.5 545.5L327.5 547.4L327.7 549.4L327.9 551.4L328.1 553.3L328.5 555.3L328.9 557.3L329.4 559.2L329.9 561.2L330.5 563.2L331.2 565.2L331.9 567.1L332.7 569.1L333.4 571.1L334.2 573.0L334.4 575.0L334.6 579.3L335.0 579.3L335.2 575.0L335.3 573.0L336.1 571.1L336.8 569.1L337.6 567.1L338.3 565.2L339.0 563.2L339.6 561.2L340.1 559.2L340.6 557.3L341.0 555.3L341.4 553.3L341.6 551.4L341.8 549.4L342.0 547.4L342.0 545.5L342.1 543.5L341.9 541.5L341.6 539.4L341.3 537.4L340.9 535.4L340.4 533.3L340.0 531.3L339.4 529.3L338.9 527.2L338.3 525.2L337.8 523.2L337.2 521.2L336.6 519.1L336.1 517.1L335.5 515.1L335.2 513.0L335.2 511.0L335.0 507.8Z" fill="#aaffc3" stroke="#444" stroke-width="0.35"/>
<path d="M350.9 512.9L350.7 514.0L350.7 515.7L350.3 517.4L349.8 519.2L349.2 520.9L348.7 522.6L348.1 524.3L347.5 526.0L347.0 527.8L346.4 529.5L345.9 531.2L345.4 532.9L345.0 534.6L344.6 536.3L344.2 538.1L343.9 539.8L343.8 541.5L343.8 543.6L343.9 545.7L344.0 547.8L344.2 549.9L344.5 552.0L344.8 554.1L345.2 556.2L345.7 558.2L346.3 560.3L346.9 562.4L347.6 564.5L348.3 566.6L349.0 568.7L349.8 570.8L350.5 572.9L350.7 575.0L350.9 588.1L351.3 588.1L351.5 575.0L351.7 572.9L352.4 570.8L353.2 568.7L353.9 566.6L354.6 564.5L355.3 562.4L355.9 560.3L356.5 558.2L357.0 556.2L357.4 554.1L357.7 552.0L358.0 549.9L358.2 547.8L358.3 545.7L358.4 543.6L358.4 541.5L358.3 539.8L358.0 538.1L357.6 536.3L357.2 534.6L356.8 532.9L356.3 531.2L355.8 529.5L355.2 527.8L354.7 526.0L354.1 524.3L353.5 522.6L353.0 520.9L352.4 519.2L351.9 517.4L351.6 515.7L351.6 514.0L351.3 512.9Z" fill="#ffd8b1" stroke="#444" stroke-width="0.35"/>
<path d="M367.3 510.9L367.0 512.0L367.0 513.6L366.7 515.2L366.1 516.8L365.6 518.4L365.0 519.9L364.4 521.5L363.9 523.1L363.3 524.7L362.8 526.3L362.2 527.9L361.8 529.5L361.3 531.0L360.9 532.6L360.6 534.2L360.3 535.8L360.2 537.4L360.2 539.8L360.2 542.2L360.4 544.6L360.6 547.0L360.8 549.4L361.2 551.8L361.6 554.2L362.1 556.6L362.6 559.1L363.2 561.5L363.9 563.9L364.6 566.3L365.4 568.7L366.1 571.1L366.9 573.5L367.3 575.9L367.7 575.9L368.0 573.5L368.8 571.1L369.5 568.7L370.3 566.3L371.0 563.9L371.7 561.5L372.3 559.1L372.8 556.6L373.3 554.2L373.7 551.8L374.1 549.4L374.3 547.0L374.5 544.6L374.7 542.2L374.7 539.8L374.8 537.4L374.6 535.8L374.3 534.2L374.0 532.6L373.6 531.0L373.1 529.5L372.7 527.9L372.1 526.3L371.6 524.7L371.0 523.1L370.5 521.5L369.9 519.9L369.3 518.4L368.8 516.8L368.2 515.2L367.9 513.6L367.9 512.0L367.7 510.9Z" fill="#c0c0c0" stroke="#444" stroke-width="0.35"/>
<path transform="scale(0.5)" d="M105 1070h0M112 1048h0M107 1087h0M118 1102h0M108 1116h0M105 1070h0M102 1089h0M122 1091h0M108 1092h0M110 1074h0M115 1041h0M110 1066h0M124 1060h0M111 1113h0M116 1081h0M110 1103h0M109 1055h0M119 1084h0M114 1096h0M119 1114h0M108 1052h0M123 1063h0M120 1041h0M104 1060h0M111 1087h0M119 1082h0M116 1061h0M117 1083h0M105 1084h0M121 1104h0M103 1096h0M103 1084h0M110 1084h0M106 1076h0M111 1024h0M105 1092h0M103 1076h0M107 1096h0M110 1064h0M114 1098h0M108 1121h0M111 1042h0M114 1080h0M110 1032h0M107 1105h0M106 1083h0M114 1108h0M121 1098h0M106 1090h0M113 1097h0M105 1064h0M113 1104h0M116 1091h0M103 1083h0M114 1118h0M115 1044h0M108 1051h0M115 1122h0M114 1093h0M108 1084h0M109 1095h0M119 1075h0M112 1114h0M112 1056h0M121 1079h0M111 1042h0M104 1071h0M106 1112h0M105 1065h0M121 1094h0M115 1078h0M115 1099h0M123 1078h0M108 1116h0M111 1095h0M114 1103h0M107 1105h0M122 1088h0M115 1109h0M104 1099h0M112 1081h0M114 1106h0M118 1079h0M115 1077h0M121 1048h0M119 1099h0M120 1080h0M121 1081h0M120 1050h0M121 1068h0M154 1090h0M136 1085h0M144 1037h0M136 1083h0M143 1039h0M139 1108h0M138 1111h0M147 1121h0M152 1088h0M149 1037h0M157 1072h0M155 1078h0M140 1091h0M150 1114h0M146 1149h0M138 1064h0M149 1067h0M152 1075h0M141 1065h0M137 1103h0M141 1099h0M149 1057h0M149 1080h0M142 1052h0M152 1089h0M146 1103h0M153 1093h0M142 1062h0M144 1078h0M138 1059h0M154 1090h0M152 1117h0M143 1093h0M150 1093h0M142 1080h0M147 1116h0M138 1106h0M151 1059h0M153 1103h0M149 1044h0M143 1059h0M150 1126h0M140 1072h0M155 1072h0M145 1093h0M157 1054h0M148 1078h0M152 1094h0M155 1071h0M138 1086h0M150 1034h0M153 1058h0M150 1072h0M156 1055h0M143 1086h0M142 1075h0M140 1087h0M142 1090h0M143 1048h0M138 1075h0M147 1128h0M154 1089h0M145 1076h0M156 1094h0M138 1067h0M143 1085h0M157 1073h0M135 1090h0M138 1099h0M153 1088h0M146 1103h0M156 1095h0M140 1055h0M143 1081h0M143 1121h0M143 1082h0M146 1120h0M150 1064h0M155 1049h0M155 1098h0M145 1063h0M134 1077h0M157 1089h0M139 1082h0M136 1096h0M153 1059h0M148 1039h0M157 1088h0M137 1079h0M152 1070h0M170 1099h0M187 1058h0M183 1071h0M183 1067h0M188 1103h0M182 1071h0M171 1089h0M171 1094h0M175 1048h0M181 1092h0M176 1080h0M179 1149h0M177 1091h0M174 1104h0M187 1110h0M171 1060h0M174 1105h0M169 1096h0M185 1086h0M169 1071h0M183 1093h0M180 1053h0M169 1078h0M187 1079h0M179 1067h0M185 1081h0M175 1083h0M188 1090h0M174 1099h0M168 1088h0M174 1088h0M180 1108h0M183 1047h0M190 1060h0M172 1090h0M174 1102h0M191 1069h0M191 1078h0M172 1109h0M189 1063h0M174 1063h0M178 1063h0M181 1048h0M169 1098h0M180 1065h0M176 1111h0M189 1096h0M177 1097h0M182 1112h0M186 1089h0M176 1069h0M186 1065h0M189 1098h0M178 1064h0M178 1106h0M184 1076h0M189 1091h0M188 1079h0M174 1104h0M181 1077h0M186 1096h0M180 1094h0M179 1092h0M189 1062h0M180 1088h0M180 1032h0M184 1105h0M173 1089h0M187 1059h0M169 1097h0M177 1040h0M172 1105h0M170 1058h0M167 1070h0M187 1094h0M169 1070h0M176 1069h0M185 1082h0M176 1082h0M173 1082h0M173 1095h0M174 1071h0M187 1058h0M190 1095h0M177 1037h0M185 1084h0M191 1089h0M185 1054h0M175 1084h0M185 1097h0M211 1092h0M204 1078h0M203 1094h0M218 1069h0M207 1058h0M223 1094h0M211 1065h0M216 1043h0M208 1126h0M207 1109h0M222 1072h0M214 1092h0M213 1079h0M206 1086h0M211 1106h0M209 1080h0M216 1063h0M212 1019h0M205 1064h0M202 1093h0M209 1095h0M224 1077h0M216 1061h0M211 1106h0M213 1113h0M218 1073h0M214 1109h0M214 1085h0M202 1104h0M203 1085h0M206 1119h0M210 1093h0M207 1055h0M210 1031h0M208 1117h0M214 1079h0M215 1095h0M221 1068h0M215 1061h0M215 1083h0M204 1103h0M217 1096h0M208 1054h0M204 1112h0M208 1055h0M213 1094h0M211 1037h0M221 1090h0M205 1083h0M205 1091h0M219 1052h0M222 1071h0M204 1081h0M200 1081h0M214 1124h0M212 1065h0M209 1091h0M206 1120h0M207 1067h0M216 1044h0M218 1049h0M200 1090h0M207 1105h0M215 1073h0M210 1059h0M209 1099h0M222 1090h0M220 1059h0M223 1092h0M212 1101h0M208 1077h0M218 1078h0M210 1074h0M218 1058h0M222 1077h0M206 1097h0M214 1053h0M216 1090h0M209 1079h0M204 1067h0M209 1125h0M210 1112h0M208 1086h0M209 1058h0M205 1100h0M209 1104h0M214 1100h0M207 1077h0M214 1061h0M212 1105h0M243 1052h0M253 1056h0M245 1028h0M246 1114h0M244 1077h0M234 1083h0M254 1084h0M238 1107h0M238 1079h0M240 1088h0M235 1061h0M248 1068h0M254 1081h0M239 1077h0M243 1035h0M255 1064h0M251 1062h0M253 1085h0M234 1090h0M239 1095h0M248 1040h0M256 1059h0M242 1065h0M246 1060h0M240 1104h0M251 1101h0M253 1064h0M246 1111h0M235 1072h0M248 1081h0M248 1086h0M250 1107h0M240 1067h0M248 1082h0M252 1087h0M238 1088h0M254 1055h0M245 1069h0M239 1121h0M237 1086h0M253 1101h0M236 1094h0M244 1103h0M245 1065h0M252 1094h0M245 1051h0M245 1082h0M250 1088h0M249 1037h0M251 1076h0M243 1042h0M236 1054h0M251 1110h0M242 1081h0M249 1100h0M235 1086h0M251 1080h0M241 1089h0M244 1059h0M245 1100h0M240 1124h0M244 1014h0M250 1121h0M236 1086h0M246 1087h0M251 1099h0M249 1111h0M255 1072h0M243 1096h0M246 1062h0M248 1035h0M241 1085h0M246 1027h0M255 1085h0M243 1105h0M236 1097h0M253 1091h0M243 1101h0M240 1069h0M252 1103h0M254 1060h0M253 1074h0M253 1103h0M249 1079h0M236 1055h0M246 1092h0M248 1083h0M246 1109h0M248 1091h0M244 1083h0M276 1088h0M276 1063h0M279 1080h0M280 1106h0M273 1116h0M277 1034h0M266 1092h0M289 1091h0M280 1084h0M280 1076h0M287 1080h0M273 1079h0M270 1096h0M273 1117h0M277 1106h0M279 1116h0M279 1045h0M283 1098h0M277 1131h0M273 1096h0M289 1086h0M275 1064h0M275 1069h0M275 1091h0M285 1072h0M283 1072h0M280 1097h0M281 1086h0M282 1093h0M277 1134h0M275 1066h0M285 1090h0M269 1108h0M273 1117h0M275 1089h0M286 1093h0M267 1084h0M278 1078h0M282 1081h0M273 1093h0M269 1087h0M269 1061h0M273 1059h0M277 1129h0M268 1074h0M266 1073h0M278 1055h0M280 1098h0M287 1091h0M275 1093h0M266 1083h0M269 1074h0M286 1096h0M272 1120h0M275 1089h0M269 1079h0M283 1081h0M284 1063h0M280 1102h0M275 1037h0M283 1093h0M282 1081h0M282 1064h0M285 1105h0M283 1076h0M289 1076h0M281 1078h0M284 1064h0M275 1061h0M287 1093h0M281 1088h0M285 1064h0M269 1087h0M287 1094h0M284 1089h0M273 1070h0M274 1048h0M269 1062h0M270 1111h0M284 1090h0M284 1098h0M278 1051h0M266 1081h0M280 1111h0M268 1065h0M279 1095h0M272 1120h0M265 1083h0M280 1093h0M273 1123h0M303 1083h0M306 1057h0M310 1069h0M299 1076h0M304 1072h0M311 1043h0M310 1062h0M318 1084h0M318 1102h0M309 1096h0M315 1090h0M300 1059h0M302 1080h0M305 1107h0M315 1109h0M312 1040h0M314 1075h0M315 1072h0M310 1090h0M315 1101h0M316 1072h0M301 1072h0M310 1171h0M303 1070h0M313 1078h0M303 1098h0M313 1099h0M319 1082h0M302 1075h0M315 1090h0M309 1086h0M307 1058h0M316 1085h0M308 1049h0M307 1092h0M311 1079h0M299 1070h0M310 1046h0M308 1059h0M300 1083h0M317 1102h0M307 1077h0M315 1086h0M316 1078h0M303 1061h0M315 1103h0M311 1097h0M305 1080h0M316 1065h0M308 1121h0M315 1095h0M318 1082h0M311 1106h0M305 1078h0M304 1068h0M304 1044h0M300 1078h0M299 1089h0M301 1057h0M309 1093h0M307 1086h0M307 1066h0M312 1105h0M317 1103h0M318 1068h0M303 1065h0M306 1076h0M321 1086h0M319 1057h0M309 1105h0M322 1072h0M308 1036h0M309 1126h0M314 1094h0M309 1080h0M308 1128h0M306 1061h0M317 1081h0M299 1089h0M310 1150h0M306 1097h0M314 1077h0M317 1085h0M306 1039h0M316 1110h0M303 1051h0M310 1088h0M315 1098h0M310 1103h0M312 1064h0M339 1109h0M348 1089h0M333 1091h0M351 1105h0M339 1069h0M344 1081h0M352 1079h0M344 1047h0M338 1072h0M335 1120h0M347 1060h0M343 1127h0M351 1094h0M335 1082h0M337 1071h0M337 1091h0M345 1068h0M338 1077h0M338 1045h0M349 1084h0M340 1069h0M346 1078h0M345 1087h0M348 1052h0M352 1083h0M334 1062h0M341 1116h0M342 1144h0M335 1060h0M354 1087h0M347 1092h0M349 1049h0M348 1067h0M342 1130h0M346 1054h0M350 1061h0M342 1045h0M347 1061h0M348 1124h0M339 1082h0M332 1073h0M346 1108h0M335 1099h0M333 1077h0M344 1039h0M344 1072h0M343 1092h0M345 1116h0M336 1106h0M339 1120h0M340 1103h0M331 1074h0M346 1048h0M348 1051h0M337 1070h0M344 1048h0M349 1092h0M343 1061h0M344 1077h0M332 1065h0M334 1107h0M354 1076h0M340 1074h0M342 1052h0M349 1062h0M331 1072h0M347 1094h0M347 1110h0M345 1076h0M335 1099h0M333 1062h0M339 1085h0M350 1086h0M344 1110h0M344 1044h0M336 1110h0M354 1070h0M337 1058h0M334 1098h0M342 1101h0M352 1105h0M352 1089h0M341 1053h0M341 1059h0M335 1096h0M342 1086h0M331 1074h0M348 1074h0M342 1067h0M342 1084h0M384 1060h0M383 1083h0M372 1076h0M386 1071h0M375 1147h0M384 1060h0M365 1092h0M375 1069h0M370 1054h0M376 1042h0M381 1119h0M372 1063h0M371 1045h0M374 1081h0M381 1089h0M376 1117h0M373 1103h0M366 1058h0M379 1104h0M384 1079h0M372 1113h0M364 1074h0M372 1096h0M372 1103h0M376 1087h0M365 1102h0M380 1096h0M374 1094h0M371 1070h0M365 1103h0M372 1134h0M377 1100h0M372 1120h0M372 1052h0M381 1057h0M382 1081h0M378 1057h0M379 1059h0M370 1094h0M379 1097h0M375 1129h0M375 1099h0M376 1099h0M373 1089h0M374 1094h0M368 1095h0M374 1047h0M385 1067h0M383 1102h0M377 1056h0M371 1084h0M378 1052h0M383 1081h0M365 1102h0M367 1101h0M367 1101h0M377 1096h0M373 1068h0M364 1090h0M366 1086h0M376 1061h0M367 1089h0M373 1080h0M366 1088h0M380 1113h0M381 1121h0M369 1068h0M378 1094h0M368 1070h0M377 1053h0M367 1074h0M373 1059h0M365 1094h0M378 1061h0M383 1064h0M374 1094h0M373 1036h0M374 1084h0M368 1113h0M375 1105h0M378 1074h0M384 1085h0M377 1085h0M374 1086h0M374 1041h0M371 1045h0M387 1087h0M367 1057h0M374 1111h0M371 1083h0M396 1096h0M398 1075h0M403 1045h0M418 1074h0M405 1093h0M400 1080h0M414 1083h0M409 1113h0M411 1092h0M400 1056h0M410 1049h0M409 1097h0M404 1092h0M412 1076h0M416 1076h0M397 1079h0M411 1063h0M418 1101h0M411 1084h0M405 1074h0M405 1036h0M409 1072h0M407 1090h0M398 1101h0M418 1098h0M415 1082h0M407 1096h0M416 1062h0M415 1071h0M400 1054h0M407 1115h0M406 1076h0M413 1066h0M406 1102h0M401 1113h0M410 1041h0M410 1084h0M416 1060h0M402 1085h0M416 1103h0M403 1090h0M399 1104h0M412 1087h0M408 1068h0M405 1106h0M405 1042h0M396 1075h0M402 1090h0M403 1060h0M403 1083h0M403 1049h0M417 1083h0M419 1099h0M415 1090h0M411 1122h0M410 1040h0M415 1107h0M419 1085h0M403 1100h0M413 1096h0M409 1115h0M409 1088h0M410 1118h0M416 1113h0M404 1092h0M407 1051h0M403 1092h0M413 1053h0M399 1113h0M396 1073h0M408 1079h0M398 1072h0M404 1064h0M410 1076h0M411 1116h0M416 1067h0M404 1090h0M418 1088h0M405 1103h0M408 1078h0M403 1103h0M410 1060h0M418 1071h0M410 1055h0M407 1095h0M404 1093h0M418 1079h0M407 1109h0M401 1088h0M411 1079h0M444 1064h0M444 1114h0M445 1061h0M447 1099h0M445 1090h0M434 1057h0M448 1071h0M436 1085h0M444 1080h0M441 1138h0M434 1093h0M443 1114h0M434 1084h0M438 1071h0M433 1066h0M438 1117h0M435 1050h0M435 1051h0M439 1075h0M449 1093h0M433 1075h0M445 1115h0M436 1108h0M447 1072h0M444 1052h0M439 1047h0M435 1092h0M443 1108h0M438 1057h0M443 1099h0M429 1080h0M445 1060h0M438 1065h0M441 1034h0M441 1149h0M442 1040h0M432 1084h0M441 1122h0M441 1071h0M440 1097h0M450 1081h0M442 1107h0M443 1074h0M451 1071h0M452 1080h0M432 1075h0M450 1082h0M444 1095h0M436 1102h0M448 1084h0M452 1090h0M432 1093h0M441 1066h0M442 1063h0M442 1039h0M444 1103h0M437 1089h0M438 1044h0M448 1077h0M432 1076h0M429 1077h0M450 1109h0M442 1120h0M433 1102h0M432 1108h0M433 1106h0M436 1116h0M450 1089h0M443 1057h0M445 1093h0M448 1084h0M433 1090h0M442 1109h0M438 1099h0M451 1080h0M439 1070h0M443 1062h0M436 1087h0M430 1086h0M434 1108h0M451 1068h0M438 1069h0M442 1081h0M437 1066h0M452 1095h0M430 1089h0M435 1095h0M442 1068h0M441 1078h0M437 1109h0M476 1083h0M475 1111h0M465 1117h0M483 1099h0M469 1108h0M474 1092h0M468 1058h0M482 1069h0M480 1067h0M473 1068h0M478 1093h0M467 1055h0M474 1105h0M474 1086h0M477 1095h0M473 1104h0M472 1113h0M473 1084h0M462 1087h0M469 1115h0M471 1049h0M479 1097h0M471 1095h0M475 1074h0M477 1087h0M467 1074h0M481 1113h0M464 1064h0M462 1099h0M480 1076h0M464 1102h0M474 1087h0M477 1099h0M467 1068h0M473 1080h0M470 1120h0M481 1075h0M476 1122h0M481 1071h0M475 1039h0M467 1078h0M463 1089h0M470 1089h0M471 1045h0M477 1089h0M468 1090h0M480 1100h0M469 1092h0M473 1023h0M470 1091h0M480 1070h0M478 1064h0M478 1087h0M473 1052h0M472 1115h0M479 1094h0M463 1101h0M484 1080h0M465 1072h0M471 1074h0M467 1060h0M464 1089h0M478 1082h0M474 1069h0M474 1051h0M473 1088h0M483 1073h0M464 1098h0M481 1062h0M462 1100h0M476 1064h0M466 1085h0M468 1053h0M469 1107h0M469 1049h0M466 1114h0M474 1070h0M477 1075h0M470 1122h0M468 1103h0M477 1096h0M472 1036h0M477 1088h0M478 1061h0M466 1068h0M467 1063h0M483 1090h0M481 1098h0M469 1059h0M468 1066h0M505 1090h0M512 1071h0M517 1089h0M515 1092h0M498 1094h0M510 1097h0M503 1037h0M508 1063h0M503 1042h0M504 1034h0M504 1088h0M506 1076h0M499 1055h0M506 1128h0M497 1096h0M506 1116h0M507 1095h0M501 1065h0M496 1075h0M513 1106h0M495 1082h0M508 1081h0M507 1102h0M514 1063h0M499 1099h0M502 1059h0M501 1096h0M501 1088h0M505 1095h0M506 1115h0M502 1076h0M514 1063h0M508 1080h0M506 1048h0M502 1119h0M505 1061h0M504 1087h0M494 1078h0M514 1101h0M509 1089h0M506 1037h0M509 1085h0M497 1072h0M502 1084h0M513 1072h0M506 1136h0M516 1076h0M500 1090h0M496 1070h0M507 1091h0M500 1091h0M505 1046h0M506 1127h0M500 1094h0M501 1046h0M510 1081h0M495 1074h0M500 1102h0M498 1080h0M510 1042h0M511 1088h0M515 1097h0M515 1092h0M505 1136h0M499 1109h0M507 1099h0M499 1099h0M505 1052h0M502 1044h0M509 1055h0M511 1092h0M498 1077h0M498 1097h0M498 1072h0M506 1134h0M504 1091h0M503 1123h0M514 1107h0M503 1096h0M502 1060h0M510 1092h0M509 1090h0M513 1087h0M516 1058h0M510 1109h0M515 1064h0M500 1082h0M501 1088h0M505 1053h0M500 1114h0M538 1081h0M538 1148h0M538 1079h0M541 1053h0M537 1076h0M542 1089h0M537 1092h0M550 1072h0M544 1052h0M537 1069h0M539 1148h0M538 1049h0M546 1093h0M547 1102h0M537 1109h0M529 1067h0M530 1083h0M533 1076h0M543 1058h0M528 1065h0M549 1086h0M549 1104h0M544 1086h0M532 1094h0M538 1050h0M549 1081h0M536 1036h0M550 1079h0M550 1079h0M536 1098h0M539 1041h0M541 1091h0M543 1039h0M535 1127h0M538 1116h0M536 1072h0M548 1090h0M532 1071h0M538 1092h0M538 1084h0M533 1063h0M529 1074h0M533 1070h0M542 1072h0M549 1064h0M533 1103h0M544 1068h0M539 1077h0M533 1097h0M540 1101h0M541 1085h0M546 1103h0M534 1131h0M531 1116h0M534 1047h0M541 1102h0M546 1094h0M533 1062h0M546 1068h0M536 1107h0M543 1047h0M536 1047h0M539 1142h0M548 1085h0M534 1079h0M530 1099h0M550 1079h0M546 1060h0M537 1091h0M535 1034h0M547 1065h0M543 1102h0M531 1103h0M545 1092h0M551 1086h0M539 1151h0M531 1077h0M533 1083h0M533 1107h0M541 1081h0M547 1107h0M547 1082h0M543 1114h0M531 1076h0M531 1069h0M542 1109h0M541 1105h0M544 1054h0M545 1064h0M542 1114h0M582 1101h0M578 1100h0M566 1086h0M575 1090h0M565 1082h0M560 1076h0M573 1114h0M572 1075h0M573 1065h0M579 1073h0M576 1046h0M578 1087h0M566 1073h0M577 1117h0M566 1114h0M562 1088h0M583 1098h0M574 1135h0M572 1043h0M571 1072h0M580 1112h0M576 1132h0M573 1101h0M575 1073h0M581 1071h0M572 1087h0M563 1091h0M578 1097h0M581 1101h0M582 1093h0M568 1048h0M564 1067h0M562 1070h0M567 1079h0M577 1063h0M568 1097h0M567 1097h0M568 1051h0M569 1086h0M581 1104h0M574 1081h0M571 1091h0M574 1101h0M576 1125h0M579 1084h0M565 1085h0M562 1076h0M562 1075h0M578 1116h0M579 1078h0M570 1074h0M574 1039h0M561 1073h0M576 1050h0M569 1062h0M577 1098h0M571 1074h0M567 1060h0M565 1113h0M572 1032h0M567 1097h0M562 1092h0M568 1064h0M577 1101h0M577 1087h0M579 1076h0M561 1072h0M574 1111h0M579 1089h0M570 1123h0M560 1093h0M571 1071h0M574 1079h0M559 1076h0M563 1116h0M575 1071h0M580 1091h0M571 1072h0M563 1089h0M567 1112h0M573 1105h0M562 1093h0M561 1070h0M580 1065h0M578 1092h0M569 1132h0M569 1092h0M567 1071h0M565 1105h0M580 1085h0M608 1073h0M606 1140h0M604 1089h0M608 1064h0M607 1042h0M612 1094h0M598 1050h0M609 1107h0M615 1074h0M616 1085h0M607 1056h0M610 1097h0M603 1096h0M615 1093h0M613 1098h0M595 1084h0M612 1087h0M604 1058h0M609 1106h0M611 1078h0M607 1098h0M608 1092h0M602 1073h0M609 1089h0M614 1095h0M596 1088h0M600 1061h0M607 1085h0M605 1117h0M599 1074h0M605 1094h0M616 1092h0M610 1075h0M605 1093h0M600 1091h0M601 1131h0M610 1060h0M613 1080h0M601 1082h0M600 1102h0M605 1073h0M606 1064h0M607 1107h0M613 1092h0M594 1096h0M605 1094h0M594 1089h0M607 1132h0M603 1088h0M614 1104h0M597 1114h0M603 1090h0M613 1062h0M604 1009h0M597 1077h0M616 1082h0M604 1007h0M593 1096h0M600 1133h0M595 1068h0M615 1085h0M606 1081h0M606 1044h0M610 1106h0M607 1039h0M605 1085h0M610 1073h0M606 1058h0M603 1104h0M609 1109h0M603 1047h0M609 1052h0M611 1065h0M599 1113h0M597 1074h0M600 1058h0M615 1092h0M607 1110h0M596 1083h0M599 1068h0M604 1078h0M603 1117h0M595 1090h0M614 1077h0M598 1107h0M608 1063h0M602 1038h0M605 1141h0M603 1076h0M605 1078h0M644 1089h0M629 1076h0M643 1049h0M637 1094h0M628 1089h0M630 1098h0M645 1098h0M634 1052h0M641 1053h0M632 1053h0M629 1072h0M640 1062h0M641 1099h0M635 1066h0M642 1086h0M627 1082h0M645 1087h0M641 1073h0M638 1121h0M625 1081h0M626 1090h0M643 1070h0M628 1084h0M647 1107h0M633 1118h0M628 1074h0M629 1083h0M631 1057h0M642 1084h0M643 1085h0M643 1107h0M636 1074h0M644 1112h0M640 1089h0M639 1065h0M637 1110h0M628 1060h0M644 1080h0M640 1097h0M634 1104h0M642 1117h0M636 1068h0M628 1110h0M632 1099h0M630 1102h0M631 1107h0M639 1053h0M644 1057h0M630 1093h0M630 1068h0M636 1104h0M637 1101h0M641 1062h0M634 1116h0M627 1072h0M628 1097h0M635 1082h0M645 1083h0M630 1093h0M645 1094h0M627 1097h0M646 1091h0M636 1081h0M639 1078h0M638 1105h0M645 1117h0M641 1103h0M645 1101h0M648 1086h0M646 1106h0M630 1109h0M641 1053h0M638 1091h0M647 1074h0M641 1080h0M646 1097h0M631 1093h0M647 1069h0M644 1070h0M643 1069h0M648 1092h0M638 1082h0M638 1083h0M628 1102h0M631 1081h0M643 1066h0M638 1050h0M637 1092h0M643 1100h0M640 1123h0M673 1105h0M663 1116h0M669 1080h0M670 1120h0M671 1073h0M666 1084h0M661 1106h0M673 1060h0M662 1095h0M670 1071h0M670 1095h0M660 1067h0M680 1103h0M662 1081h0M664 1093h0M660 1070h0M669 1054h0M658 1081h0M666 1128h0M669 1030h0M669 1030h0M659 1085h0M659 1072h0M662 1113h0M672 1128h0M670 1122h0M665 1060h0M664 1054h0M657 1087h0M662 1081h0M674 1073h0M661 1077h0M670 1094h0M676 1085h0M673 1060h0M675 1088h0M679 1075h0M677 1075h0M666 1118h0M681 1086h0M669 1089h0M665 1080h0M675 1103h0M665 1100h0M662 1061h0M668 1076h0M675 1059h0M663 1057h0M664 1091h0M681 1076h0M665 1111h0M678 1069h0M672 1112h0M681 1086h0M670 1069h0M668 1091h0M676 1059h0M676 1090h0M658 1082h0M661 1101h0M675 1077h0M680 1092h0M663 1052h0M673 1067h0M663 1124h0M674 1076h0M672 1064h0M662 1100h0M660 1102h0M671 1110h0M676 1069h0M678 1067h0M676 1110h0M668 1045h0M673 1077h0M681 1085h0M666 1100h0M668 1088h0M675 1071h0M679 1100h0M659 1110h0M663 1090h0M678 1091h0M664 1078h0M671 1091h0M665 1078h0M671 1128h0M661 1074h0M671 1106h0M664 1129h0M695 1088h0M693 1108h0M708 1094h0M692 1102h0M705 1094h0M693 1076h0M694 1066h0M692 1092h0M708 1077h0M701 1057h0M706 1064h0M711 1100h0M691 1077h0M712 1082h0M710 1059h0M704 1086h0M696 1079h0M705 1092h0M697 1104h0M697 1052h0M712 1071h0M702 1076h0M701 1105h0M709 1109h0M707 1124h0M703 1144h0M701 1121h0M702 1119h0M712 1086h0M693 1067h0M701 1042h0M711 1065h0M704 1097h0M709 1100h0M704 1108h0M706 1114h0M692 1082h0M690 1081h0M706 1052h0M697 1095h0M711 1079h0M712 1082h0M704 1078h0M698 1082h0M692 1098h0M697 1075h0M695 1089h0M711 1113h0M695 1109h0M708 1084h0M695 1103h0M712 1065h0M703 1033h0M712 1092h0M711 1102h0M693 1088h0M703 1089h0M694 1106h0M707 1071h0M698 1087h0M700 1092h0M705 1067h0M714 1090h0M692 1068h0M709 1073h0M706 1063h0M704 1070h0M704 1081h0M698 1049h0M711 1082h0M696 1095h0M703 1060h0M698 1126h0M702 1025h0M692 1092h0M700 1111h0M700 1086h0M694 1081h0M704 1047h0M705 1112h0M704 1098h0M705 1089h0M704 1109h0M707 1055h0M703 1033h0M701 1069h0M705 1080h0M704 1089h0M700 1069h0M695 1067h0M733 1120h0M727 1070h0M728 1067h0M734 1110h0M737 1081h0M729 1100h0M726 1076h0M740 1080h0M746 1081h0M744 1103h0M730 1100h0M738 1111h0M736 1095h0M726 1070h0M735 1096h0M744 1091h0M742 1062h0M738 1044h0M737 1077h0M725 1072h0M743 1080h0M737 1080h0M731 1093h0M742 1084h0M742 1051h0M726 1080h0M735 1073h0M726 1065h0M732 1115h0M737 1106h0M735 1078h0M742 1086h0M742 1061h0M741 1085h0M741 1074h0M744 1061h0M740 1115h0M725 1063h0M723 1072h0M742 1119h0M727 1080h0M734 1044h0M733 1080h0M728 1103h0M736 1079h0M744 1083h0M740 1047h0M724 1083h0M732 1085h0M726 1105h0M745 1069h0M736 1030h0M740 1112h0M733 1065h0M741 1115h0M744 1080h0M743 1067h0M724 1087h0M743 1081h0M735 1093h0M745 1084h0M737 1096h0M744 1074h0M740 1061h0M738 1111h0M742 1107h0M738 1068h0M733 1054h0M728 1076h0M737 1117h0M739 1104h0M740 1089h0M736 1099h0M745 1060h0M730 1100h0M727 1064h0M734 1043h0M739 1095h0M745 1100h0M728 1080h0M736 1115h0M732 1080h0M740 1053h0M747 1077h0M735 1061h0M746 1095h0M735 1090h0M735 1089h0M736 1126h0M741 1073h0" stroke="#000" stroke-width="1.2" stroke-linecap="round" opacity="0.5"/>
<line x1="48.60" y1="542.58" x2="65.00" y2="542.58" stroke="#222" stroke-width="0.8"/>
<line x1="64.95" y1="541.14" x2="81.35" y2="541.14" stroke="#222" stroke-width="0.8"/>
<line x1="81.30" y1="541.23" x2="97.70" y2="541.23" stroke="#222" stroke-width="0.8"/>
<line x1="97.65" y1="541.39" x2="114.05" y2="541.39" stroke="#222" stroke-width="0.8"/>
<line x1="114.00" y1="542.49" x2="130.40" y2="542.49" stroke="#222" stroke-width="0.8"/>
<line x1="130.35" y1="541.96" x2="146.75" y2="541.96" stroke="#222" stroke-width="0.8"/>
<line x1="146.70" y1="541.53" x2="163.10" y2="541.53" stroke="#222" stroke-width="0.8"/>
<line x1="163.05" y1="541.66" x2="179.45" y2="541.66" stroke="#222" stroke-width="0.8"/>
<line x1="179.40" y1="541.67" x2="195.80" y2="541.67" stroke="#222" stroke-width="0.8"/>
<line x1="195.75" y1="541.89" x2="212.15" y2="541.89" stroke="#222" stroke-width="0.8"/>
<line x1="212.10" y1="541.30" x2="228.50" y2="541.30" stroke="#222" stroke-width="0.8"/>
<line x1="228.45" y1="541.93" x2="244.85" y2="541.93" stroke="#222" stroke-width="0.8"/>
<line x1="244.80" y1="541.82" x2="261.20" y2="541.82" stroke="#222" stroke-width="0.8"/>
<line x1="261.15" y1="542.31" x2="277.55" y2="542.31" stroke="#222" stroke-width="0.8"/>
<line x1="277.50" y1="541.47" x2="293.90" y2="541.47" stroke="#222" stroke-width="0.8"/>
<line x1="293.85" y1="541.39" x2="310.25" y2="541.39" stroke="#222" stroke-width="0.8"/>
<line x1="310.20" y1="542.38" x2="326.60" y2="542.38" stroke="#222" stroke-width="0.8"/>
<line x1="326.55" y1="541.56" x2="342.95" y2="541.56" stroke="#222" stroke-width="0.8"/>
<line x1="342.90" y1="541.49" x2="359.30" y2="541.49" stroke="#222" stroke-width="0.8"/>
<line x1="359.25" y1="541.74" x2="375.65" y2="541.74" stroke="#222" stroke-width="0.8"/>
<text transform="translate(59.10,610.40) rotate(-90)" font-size="6.7" text-anchor="end" font-style="italic" fill="#111">Akap1</text>
<text transform="translate(75.45,610.40) rotate(-90)" font-size="6.7" text-anchor="end" font-style="italic" fill="#111">Nnt</text>
<text transform="translate(91.80,610.40) rotate(-90)" font-size="6.7" text-anchor="end" font-style="italic" fill="#111">Polg</text>
<text transform="translate(108.15,610.40) rotate(-90)" font-size="6.7" text-anchor="end" font-style="italic" fill="#111">Tfam</text>
<text transform="translate(124.50,610.40) rotate(-90)" font-size="6.7" text-anchor="end" font-style="italic" fill="#111">Dnm1l</text>
<text transform="translate(140.85,610.40) rotate(-90)" font-size="6.7" text-anchor="end" font-style="italic" fill="#111">Mtfp1</text>
<text transform="translate(157.20,610.40) rotate(-90)" font-size="6.7" text-anchor="end" font-style="italic" fill="#111">Opa1</text>
<text transform="translate(173.55,610.40) rotate(-90)" font-size="6.7" text-anchor="end" font-style="italic" fill="#111">Snx9</text>
<text transform="translate(189.90,610.40) rotate(-90)" font-size="6.7" text-anchor="end" font-style="italic" fill="#111">Atg5</text>
<text transform="translate(206.25,610.40) rotate(-90)" font-size="6.7" text-anchor="end" font-style="italic" fill="#111">Oma1</text>
<text transform="translate(222.60,610.40) rotate(-90)" font-size="6.7" text-anchor="end" font-style="italic" fill="#111">Pink1</text>
<text transform="translate(238.95,610.40) rotate(-90)" font-size="6.7" text-anchor="end" font-style="italic" fill="#111">Ppargc1a</text>
<text transform="translate(255.30,610.40) rotate(-90)" font-size="6.7" text-anchor="end" font-style="italic" fill="#111">Prkn</text>
<text transform="translate(271.65,610.40) rotate(-90)" font-size="6.7" text-anchor="end" font-style="italic" fill="#111">Eomes</text>
<text transform="translate(288.00,610.40) rotate(-90)" font-size="6.7" text-anchor="end" font-style="italic" fill="#111">Neurod1</text>
<text transform="translate(304.35,610.40) rotate(-90)" font-size="6.7" text-anchor="end" font-style="italic" fill="#111">Olig1</text>
<text transform="translate(320.70,610.40) rotate(-90)" font-size="6.7" text-anchor="end" font-style="italic" fill="#111">Opn4</text>
<text transform="translate(337.05,610.40) rotate(-90)" font-size="6.7" text-anchor="end" font-style="italic" fill="#111">Rgr</text>
<text transform="translate(353.40,610.40) rotate(-90)" font-size="6.7" text-anchor="end" font-style="italic" fill="#111">Rrh</text>
<text transform="translate(369.75,610.40) rotate(-90)" font-size="6.7" text-anchor="end" fill="#111">NT</text>
<line x1="51.60" y1="649.30" x2="114.80" y2="649.30" stroke="#222" stroke-width="0.6"/>
<path d="M51.10 649.3l3 -1.3v2.6z M115.30 649.3l-3 -1.3v2.6z" fill="#222"/>
<line x1="115.80" y1="649.30" x2="182.00" y2="649.30" stroke="#222" stroke-width="0.6"/>
<path d="M115.30 649.3l3 -1.3v2.6z M182.50 649.3l-3 -1.3v2.6z" fill="#222"/>
<line x1="183.00" y1="649.30" x2="263.60" y2="649.30" stroke="#222" stroke-width="0.6"/>
<path d="M182.50 649.3l3 -1.3v2.6z M264.10 649.3l-3 -1.3v2.6z" fill="#222"/>
<line x1="264.60" y1="649.30" x2="374.80" y2="649.30" stroke="#222" stroke-width="0.6"/>
<path d="M264.10 649.3l3 -1.3v2.6z M375.30 649.3l-3 -1.3v2.6z" fill="#222"/>
<text x="81.80" y="661.50" font-size="9" text-anchor="middle" fill="#222">mtDNA</text>
<text x="81.80" y="671.20" font-size="9" text-anchor="middle" fill="#222">maintenance</text>
<text x="146.60" y="661.50" font-size="9" text-anchor="middle" fill="#222">Membrane</text>
<text x="146.60" y="671.20" font-size="9" text-anchor="middle" fill="#222">remodeling</text>
<text x="219.50" y="661.50" font-size="9" text-anchor="middle" fill="#222">Homeostasis/</text>
<text x="219.50" y="671.20" font-size="9" text-anchor="middle" fill="#222">mitophagy</text>
<text x="318.10" y="661.00" font-size="9" text-anchor="middle" fill="#222">Controls</text>
<text x="401.50" y="342.50" font-size="12.5" font-weight="bold">l</text>
<text x="487.00" y="340.40" font-size="9" text-anchor="middle" fill="#111">Heteroplasmy variance</text>
<text x="487.00" y="349.90" font-size="9" text-anchor="middle" fill="#111">at &gt;20 mtDNA coverage</text>
<line x1="453.20" y1="352.50" x2="453.20" y2="522.00" stroke="#ececec" stroke-width="0.5"/>
<line x1="472.50" y1="352.50" x2="472.50" y2="522.00" stroke="#ececec" stroke-width="0.5"/>
<line x1="491.80" y1="352.50" x2="491.80" y2="522.00" stroke="#ececec" stroke-width="0.5"/>
<line x1="511.10" y1="352.50" x2="511.10" y2="522.00" stroke="#ececec" stroke-width="0.5"/>
<line x1="530.40" y1="352.50" x2="530.40" y2="522.00" stroke="#ececec" stroke-width="0.5"/>
<line x1="453.20" y1="359.05" x2="534.40" y2="359.05" stroke="#f2f2f2" stroke-width="0.5"/>
<line x1="453.20" y1="367.33" x2="534.40" y2="367.33" stroke="#f2f2f2" stroke-width="0.5"/>
<line x1="453.20" y1="375.61" x2="534.40" y2="375.61" stroke="#f2f2f2" stroke-width="0.5"/>
<line x1="453.20" y1="383.89" x2="534.40" y2="383.89" stroke="#f2f2f2" stroke-width="0.5"/>
<line x1="453.20" y1="392.17" x2="534.40" y2="392.17" stroke="#f2f2f2" stroke-width="0.5"/>
<line x1="453.20" y1="400.45" x2="534.40" y2="400.45" stroke="#f2f2f2" stroke-width="0.5"/>
<line x1="453.20" y1="408.73" x2="534.40" y2="408.73" stroke="#f2f2f2" stroke-width="0.5"/>
<line x1="453.20" y1="417.01" x2="534.40" y2="417.01" stroke="#f2f2f2" stroke-width="0.5"/>
<line x1="453.20" y1="425.29" x2="534.40" y2="425.29" stroke="#f2f2f2" stroke-width="0.5"/>
<line x1="453.20" y1="433.57" x2="534.40" y2="433.57" stroke="#f2f2f2" stroke-width="0.5"/>
<line x1="453.20" y1="441.85" x2="534.40" y2="441.85" stroke="#f2f2f2" stroke-width="0.5"/>
<line x1="453.20" y1="450.13" x2="534.40" y2="450.13" stroke="#f2f2f2" stroke-width="0.5"/>
<line x1="453.20" y1="458.41" x2="534.40" y2="458.41" stroke="#f2f2f2" stroke-width="0.5"/>
<line x1="453.20" y1="466.69" x2="534.40" y2="466.69" stroke="#f2f2f2" stroke-width="0.5"/>
<line x1="453.20" y1="474.97" x2="534.40" y2="474.97" stroke="#f2f2f2" stroke-width="0.5"/>
<line x1="453.20" y1="483.25" x2="534.40" y2="483.25" stroke="#f2f2f2" stroke-width="0.5"/>
<line x1="453.20" y1="491.53" x2="534.40" y2="491.53" stroke="#f2f2f2" stroke-width="0.5"/>
<line x1="453.20" y1="499.81" x2="534.40" y2="499.81" stroke="#f2f2f2" stroke-width="0.5"/>
<line x1="453.20" y1="508.09" x2="534.40" y2="508.09" stroke="#f2f2f2" stroke-width="0.5"/>
<line x1="453.20" y1="516.37" x2="534.40" y2="516.37" stroke="#f2f2f2" stroke-width="0.5"/>
<rect x="453.20" y="355.30" width="77.00" height="7.50" fill="#e6194b" stroke="#a8a8a8" stroke-width="0.35"/>
<text x="448.60" y="361.55" font-size="7.0" text-anchor="end" font-style="italic" fill="#222">Tfam</text>
<rect x="453.20" y="363.58" width="51.60" height="7.50" fill="#000075" stroke="#a8a8a8" stroke-width="0.35"/>
<text x="448.60" y="369.83" font-size="7.0" text-anchor="end" font-style="italic" fill="#222">Atg5</text>
<rect x="453.20" y="371.86" width="48.40" height="7.50" fill="#ffe119" stroke="#a8a8a8" stroke-width="0.35"/>
<text x="448.60" y="378.11" font-size="7.0" text-anchor="end" font-style="italic" fill="#222">Dnm1l</text>
<rect x="453.20" y="380.14" width="48.40" height="7.50" fill="#ff9999" stroke="#a8a8a8" stroke-width="0.35"/>
<text x="448.60" y="386.39" font-size="7.0" text-anchor="end" font-style="italic" fill="#222">Eomes</text>
<rect x="453.20" y="388.42" width="47.60" height="7.50" fill="#4169e1" stroke="#a8a8a8" stroke-width="0.35"/>
<text x="448.60" y="394.67" font-size="7.0" text-anchor="end" font-style="italic" fill="#222">Opa1</text>
<rect x="453.20" y="396.70" width="47.10" height="7.50" fill="#911eb4" stroke="#a8a8a8" stroke-width="0.35"/>
<text x="448.60" y="402.95" font-size="7.0" text-anchor="end" font-style="italic" fill="#222">Oma1</text>
<rect x="453.20" y="404.98" width="46.30" height="7.50" fill="#3cb44b" stroke="#a8a8a8" stroke-width="0.35"/>
<text x="448.60" y="411.23" font-size="7.0" text-anchor="end" font-style="italic" fill="#222">Polg</text>
<rect x="453.20" y="413.26" width="45.40" height="7.50" fill="#f58231" stroke="#a8a8a8" stroke-width="0.35"/>
<text x="448.60" y="419.51" font-size="7.0" text-anchor="end" font-style="italic" fill="#222">Nnt</text>
<rect x="453.20" y="421.54" width="42.50" height="7.50" fill="#800000" stroke="#a8a8a8" stroke-width="0.35"/>
<text x="448.60" y="427.79" font-size="7.0" text-anchor="end" font-style="italic" fill="#222">Akap1</text>
<rect x="453.20" y="429.82" width="41.60" height="7.50" fill="#f032e6" stroke="#a8a8a8" stroke-width="0.35"/>
<text x="448.60" y="436.07" font-size="7.0" text-anchor="end" font-style="italic" fill="#222">Mtfp1</text>
<rect x="453.20" y="438.10" width="42.10" height="7.50" fill="#9a6324" stroke="#a8a8a8" stroke-width="0.35"/>
<text x="448.60" y="444.35" font-size="7.0" text-anchor="end" font-style="italic" fill="#222">Ppargc1a</text>
<rect x="453.20" y="446.38" width="41.60" height="7.50" fill="#42d4f4" stroke="#a8a8a8" stroke-width="0.35"/>
<text x="448.60" y="452.63" font-size="7.0" text-anchor="end" font-style="italic" fill="#222">Prkn</text>
<rect x="453.20" y="454.66" width="41.40" height="7.50" fill="#808000" stroke="#a8a8a8" stroke-width="0.35"/>
<text x="448.60" y="460.91" font-size="7.0" text-anchor="end" font-style="italic" fill="#222">Snx9</text>
<rect x="453.20" y="462.94" width="41.20" height="7.50" fill="#dcbeff" stroke="#a8a8a8" stroke-width="0.35"/>
<text x="448.60" y="469.19" font-size="7.0" text-anchor="end" font-style="italic" fill="#222">Olig1</text>
<rect x="453.20" y="471.22" width="41.00" height="7.50" fill="#c0c0c0" stroke="#a8a8a8" stroke-width="0.35"/>
<text x="448.60" y="477.47" font-size="7.0" text-anchor="end" fill="#222">NT</text>
<rect x="453.20" y="479.50" width="38.20" height="7.50" fill="#fffac8" stroke="#a8a8a8" stroke-width="0.35"/>
<text x="448.60" y="485.75" font-size="7.0" text-anchor="end" font-style="italic" fill="#222">Opn4</text>
<rect x="453.20" y="487.78" width="38.20" height="7.50" fill="#aaffc3" stroke="#a8a8a8" stroke-width="0.35"/>
<text x="448.60" y="494.03" font-size="7.0" text-anchor="end" font-style="italic" fill="#222">Rgr</text>
<rect x="453.20" y="496.06" width="37.00" height="7.50" fill="#ffd8b1" stroke="#a8a8a8" stroke-width="0.35"/>
<text x="448.60" y="502.31" font-size="7.0" text-anchor="end" font-style="italic" fill="#222">Rrh</text>
<rect x="453.20" y="504.34" width="36.30" height="7.50" fill="#c6dbff" stroke="#a8a8a8" stroke-width="0.35"/>
<text x="448.60" y="510.59" font-size="7.0" text-anchor="end" font-style="italic" fill="#222">Neurod1</text>
<rect x="453.20" y="512.62" width="34.80" height="7.50" fill="#bfef45" stroke="#a8a8a8" stroke-width="0.35"/>
<text x="448.60" y="518.87" font-size="7.0" text-anchor="end" font-style="italic" fill="#222">Pink1</text>
<text x="453.20" y="530.60" font-size="7.8" text-anchor="middle" fill="#333">0</text>
<text x="492.00" y="530.60" font-size="7.8" text-anchor="middle" fill="#333">0.01</text>
<text x="530.40" y="530.60" font-size="7.8" text-anchor="middle" fill="#333">0.02</text>
<text x="494.20" y="542.80" font-size="9" text-anchor="middle" fill="#222">Variance</text>
<text transform="translate(408.20,437.50) rotate(-90)" font-size="8.4" text-anchor="middle" fill="#222">Target genes</text>
<text x="548.60" y="342.50" font-size="12.5" font-weight="bold">m</text>
<text x="628.40" y="340.40" font-size="9" text-anchor="middle" fill="#111">Heteroplasmy variance</text>
<text x="628.40" y="349.90" font-size="9" text-anchor="middle" fill="#111">without depth cut-off</text>
<line x1="590.20" y1="352.50" x2="590.20" y2="522.00" stroke="#ececec" stroke-width="0.5"/>
<line x1="603.15" y1="352.50" x2="603.15" y2="522.00" stroke="#ececec" stroke-width="0.5"/>
<line x1="616.10" y1="352.50" x2="616.10" y2="522.00" stroke="#ececec" stroke-width="0.5"/>
<line x1="629.05" y1="352.50" x2="629.05" y2="522.00" stroke="#ececec" stroke-width="0.5"/>
<line x1="642.00" y1="352.50" x2="642.00" y2="522.00" stroke="#ececec" stroke-width="0.5"/>
<line x1="654.95" y1="352.50" x2="654.95" y2="522.00" stroke="#ececec" stroke-width="0.5"/>
<line x1="667.90" y1="352.50" x2="667.90" y2="522.00" stroke="#ececec" stroke-width="0.5"/>
<line x1="680.85" y1="352.50" x2="680.85" y2="522.00" stroke="#ececec" stroke-width="0.5"/>
<line x1="590.20" y1="359.05" x2="682.00" y2="359.05" stroke="#f2f2f2" stroke-width="0.5"/>
<line x1="590.20" y1="367.33" x2="682.00" y2="367.33" stroke="#f2f2f2" stroke-width="0.5"/>
<line x1="590.20" y1="375.61" x2="682.00" y2="375.61" stroke="#f2f2f2" stroke-width="0.5"/>
<line x1="590.20" y1="383.89" x2="682.00" y2="383.89" stroke="#f2f2f2" stroke-width="0.5"/>
<line x1="590.20" y1="392.17" x2="682.00" y2="392.17" stroke="#f2f2f2" stroke-width="0.5"/>
<line x1="590.20" y1="400.45" x2="682.00" y2="400.45" stroke="#f2f2f2" stroke-width="0.5"/>
<line x1="590.20" y1="408.73" x2="682.00" y2="408.73" stroke="#f2f2f2" stroke-width="0.5"/>
<line x1="590.20" y1="417.01" x2="682.00" y2="417.01" stroke="#f2f2f2" stroke-width="0.5"/>
<line x1="590.20" y1="425.29" x2="682.00" y2="425.29" stroke="#f2f2f2" stroke-width="0.5"/>
<line x1="590.20" y1="433.57" x2="682.00" y2="433.57" stroke="#f2f2f2" stroke-width="0.5"/>
<line x1="590.20" y1="441.85" x2="682.00" y2="441.85" stroke="#f2f2f2" stroke-width="0.5"/>
<line x1="590.20" y1="450.13" x2="682.00" y2="450.13" stroke="#f2f2f2" stroke-width="0.5"/>
<line x1="590.20" y1="458.41" x2="682.00" y2="458.41" stroke="#f2f2f2" stroke-width="0.5"/>
<line x1="590.20" y1="466.69" x2="682.00" y2="466.69" stroke="#f2f2f2" stroke-width="0.5"/>
<line x1="590.20" y1="474.97" x2="682.00" y2="474.97" stroke="#f2f2f2" stroke-width="0.5"/>
<line x1="590.20" y1="483.25" x2="682.00" y2="483.25" stroke="#f2f2f2" stroke-width="0.5"/>
<line x1="590.20" y1="491.53" x2="682.00" y2="491.53" stroke="#f2f2f2" stroke-width="0.5"/>
<line x1="590.20" y1="499.81" x2="682.00" y2="499.81" stroke="#f2f2f2" stroke-width="0.5"/>
<line x1="590.20" y1="508.09" x2="682.00" y2="508.09" stroke="#f2f2f2" stroke-width="0.5"/>
<line x1="590.20" y1="516.37" x2="682.00" y2="516.37" stroke="#f2f2f2" stroke-width="0.5"/>
<rect x="590.20" y="355.30" width="89.50" height="7.50" fill="#e6194b" stroke="#a8a8a8" stroke-width="0.35"/>
<text x="586.30" y="361.55" font-size="7.0" text-anchor="end" font-style="italic" fill="#222">Tfam</text>
<rect x="590.20" y="363.58" width="52.50" height="7.50" fill="#3cb44b" stroke="#a8a8a8" stroke-width="0.35"/>
<text x="586.30" y="369.83" font-size="7.0" text-anchor="end" font-style="italic" fill="#222">Polg</text>
<rect x="590.20" y="371.86" width="32.40" height="7.50" fill="#4169e1" stroke="#a8a8a8" stroke-width="0.35"/>
<text x="586.30" y="378.11" font-size="7.0" text-anchor="end" font-style="italic" fill="#222">Opa1</text>
<rect x="590.20" y="380.14" width="20.10" height="7.50" fill="#ffe119" stroke="#a8a8a8" stroke-width="0.35"/>
<text x="586.30" y="386.39" font-size="7.0" text-anchor="end" font-style="italic" fill="#222">Dnm1l</text>
<rect x="590.20" y="388.42" width="19.70" height="7.50" fill="#911eb4" stroke="#a8a8a8" stroke-width="0.35"/>
<text x="586.30" y="394.67" font-size="7.0" text-anchor="end" font-style="italic" fill="#222">Oma1</text>
<rect x="590.20" y="396.70" width="19.20" height="7.50" fill="#f58231" stroke="#a8a8a8" stroke-width="0.35"/>
<text x="586.30" y="402.95" font-size="7.0" text-anchor="end" font-style="italic" fill="#222">Nnt</text>
<rect x="590.20" y="404.98" width="19.00" height="7.50" fill="#ff9999" stroke="#a8a8a8" stroke-width="0.35"/>
<text x="586.30" y="411.23" font-size="7.0" text-anchor="end" font-style="italic" fill="#222">Eomes</text>
<rect x="590.20" y="413.26" width="18.60" height="7.50" fill="#000075" stroke="#a8a8a8" stroke-width="0.35"/>
<text x="586.30" y="419.51" font-size="7.0" text-anchor="end" font-style="italic" fill="#222">Atg5</text>
<rect x="590.20" y="421.54" width="18.20" height="7.50" fill="#aaffc3" stroke="#a8a8a8" stroke-width="0.35"/>
<text x="586.30" y="427.79" font-size="7.0" text-anchor="end" font-style="italic" fill="#222">Rgr</text>
<rect x="590.20" y="429.82" width="17.50" height="7.50" fill="#808000" stroke="#a8a8a8" stroke-width="0.35"/>
<text x="586.30" y="436.07" font-size="7.0" text-anchor="end" font-style="italic" fill="#222">Snx9</text>
<rect x="590.20" y="438.10" width="17.50" height="7.50" fill="#42d4f4" stroke="#a8a8a8" stroke-width="0.35"/>
<text x="586.30" y="444.35" font-size="7.0" text-anchor="end" font-style="italic" fill="#222">Prkn</text>
<rect x="590.20" y="446.38" width="17.10" height="7.50" fill="#ffd8b1" stroke="#a8a8a8" stroke-width="0.35"/>
<text x="586.30" y="452.63" font-size="7.0" text-anchor="end" font-style="italic" fill="#222">Rrh</text>
<rect x="590.20" y="454.66" width="17.10" height="7.50" fill="#c0c0c0" stroke="#a8a8a8" stroke-width="0.35"/>
<text x="586.30" y="460.91" font-size="7.0" text-anchor="end" fill="#222">NT</text>
<rect x="590.20" y="462.94" width="16.50" height="7.50" fill="#bfef45" stroke="#a8a8a8" stroke-width="0.35"/>
<text x="586.30" y="469.19" font-size="7.0" text-anchor="end" font-style="italic" fill="#222">Pink1</text>
<rect x="590.20" y="471.22" width="16.10" height="7.50" fill="#9a6324" stroke="#a8a8a8" stroke-width="0.35"/>
<text x="586.30" y="477.47" font-size="7.0" text-anchor="end" font-style="italic" fill="#222">Ppargc1a</text>
<rect x="590.20" y="479.50" width="16.10" height="7.50" fill="#800000" stroke="#a8a8a8" stroke-width="0.35"/>
<text x="586.30" y="485.75" font-size="7.0" text-anchor="end" font-style="italic" fill="#222">Akap1</text>
<rect x="590.20" y="487.78" width="15.40" height="7.50" fill="#fffac8" stroke="#a8a8a8" stroke-width="0.35"/>
<text x="586.30" y="494.03" font-size="7.0" text-anchor="end" font-style="italic" fill="#222">Opn4</text>
<rect x="590.20" y="496.06" width="15.00" height="7.50" fill="#dcbeff" stroke="#a8a8a8" stroke-width="0.35"/>
<text x="586.30" y="502.31" font-size="7.0" text-anchor="end" font-style="italic" fill="#222">Olig1</text>
<rect x="590.20" y="504.34" width="14.60" height="7.50" fill="#f032e6" stroke="#a8a8a8" stroke-width="0.35"/>
<text x="586.30" y="510.59" font-size="7.0" text-anchor="end" font-style="italic" fill="#222">Mtfp1</text>
<rect x="590.20" y="512.62" width="14.40" height="7.50" fill="#c6dbff" stroke="#a8a8a8" stroke-width="0.35"/>
<text x="586.30" y="518.87" font-size="7.0" text-anchor="end" font-style="italic" fill="#222">Neurod1</text>
<text x="590.20" y="530.60" font-size="7.8" text-anchor="middle" fill="#333">0</text>
<text x="616.20" y="530.60" font-size="7.8" text-anchor="middle" fill="#333">0.02</text>
<text x="642.20" y="530.60" font-size="7.8" text-anchor="middle" fill="#333">0.04</text>
<text x="668.00" y="530.60" font-size="7.8" text-anchor="middle" fill="#333">0.06</text>
<text x="632.00" y="542.80" font-size="9" text-anchor="middle" fill="#222">Variance</text>
<text transform="translate(555.60,437.50) rotate(-90)" font-size="8.4" text-anchor="middle" fill="#222">Target genes</text>
<text x="466.0" y="361.3" font-size="5.6" fill="#fff" textLength="63" lengthAdjust="spacingAndGlyphs"><tspan font-style="italic">P</tspan> = 0.046; adj. <tspan font-style="italic">P</tspan> = 0.87</text>
<text x="643.2" y="361.3" font-size="5.6" fill="#fff" textLength="36" lengthAdjust="spacingAndGlyphs">adj. <tspan font-style="italic">P</tspan> &lt; 0.001</text>
<text x="643.8" y="369.6" font-size="5.6" fill="#111" textLength="37.5" lengthAdjust="spacingAndGlyphs">adj. <tspan font-style="italic">P</tspan> &lt; 0.001</text>
<text x="643.8" y="377.9" font-size="5.6" fill="#111" textLength="37.5" lengthAdjust="spacingAndGlyphs">adj. <tspan font-style="italic">P</tspan> = 0.007</text>
<text x="400.60" y="555.60" font-size="12.5" font-weight="bold">n</text>
<line x1="436.50" y1="650.28" x2="668.90" y2="650.28" stroke="#f3f3f3" stroke-width="0.5"/>
<line x1="436.50" y1="636.77" x2="668.90" y2="636.77" stroke="#ebebeb" stroke-width="0.5"/>
<line x1="436.50" y1="623.25" x2="668.90" y2="623.25" stroke="#f3f3f3" stroke-width="0.5"/>
<line x1="436.50" y1="609.74" x2="668.90" y2="609.74" stroke="#ebebeb" stroke-width="0.5"/>
<line x1="436.50" y1="596.22" x2="668.90" y2="596.22" stroke="#f3f3f3" stroke-width="0.5"/>
<line x1="436.50" y1="582.71" x2="668.90" y2="582.71" stroke="#ebebeb" stroke-width="0.5"/>
<line x1="436.50" y1="569.19" x2="668.90" y2="569.19" stroke="#f3f3f3" stroke-width="0.5"/>
<line x1="436.50" y1="555.68" x2="668.90" y2="555.68" stroke="#ebebeb" stroke-width="0.5"/>
<line x1="437.30" y1="555.00" x2="437.30" y2="664.50" stroke="#f3f3f3" stroke-width="0.5"/>
<line x1="468.20" y1="555.00" x2="468.20" y2="664.50" stroke="#ebebeb" stroke-width="0.5"/>
<line x1="499.10" y1="555.00" x2="499.10" y2="664.50" stroke="#f3f3f3" stroke-width="0.5"/>
<line x1="530.00" y1="555.00" x2="530.00" y2="664.50" stroke="#ebebeb" stroke-width="0.5"/>
<line x1="560.90" y1="555.00" x2="560.90" y2="664.50" stroke="#f3f3f3" stroke-width="0.5"/>
<line x1="591.80" y1="555.00" x2="591.80" y2="664.50" stroke="#ebebeb" stroke-width="0.5"/>
<line x1="622.70" y1="555.00" x2="622.70" y2="664.50" stroke="#f3f3f3" stroke-width="0.5"/>
<line x1="653.60" y1="555.00" x2="653.60" y2="664.50" stroke="#ebebeb" stroke-width="0.5"/>
<path d="M446.35 663.80V662.99H450.70V663.80M450.70 663.80V655.31H455.05V663.80M455.05 663.80V631.36H459.40V663.80M459.40 663.80V593.52H463.75V663.80M463.75 663.80V561.09H468.10V663.80M468.10 663.80V577.30H472.45V663.80M472.45 663.80V610.98H476.80V663.80M476.80 663.80V639.47H481.15V663.80M481.15 663.80V655.69H485.50V663.80M485.50 663.80V661.64H489.85V663.80M489.85 663.80V662.72H494.20V663.80M494.20 663.80V663.26H498.55V663.80" fill="#7189e4" stroke="#222" stroke-width="0.4"/>
<path d="M485.90 663.80V663.26H490.25V663.80M490.25 663.80V662.72H494.60V663.80M494.60 663.80V659.48H498.95V663.80M498.95 663.80V654.34H503.30V663.80M503.30 663.80V646.72H507.65V663.80M507.65 663.80V632.72H512.00V663.80M512.00 663.80V623.63H516.35V663.80M516.35 663.80V615.69H520.70V663.80M520.70 663.80V610.82H525.05V663.80M525.05 663.80V614.61H529.40V663.80M529.40 663.80V619.25H533.75V663.80M533.75 663.80V630.66H538.10V663.80M538.10 663.80V640.45H542.45V663.80M542.45 663.80V649.64H546.80V663.80M546.80 663.80V655.47H551.15V663.80M551.15 663.80V659.48H555.50V663.80M555.50 663.80V661.64H559.85V663.80M559.85 663.80V662.99H564.20V663.80" fill="#5db65f" stroke="#222" stroke-width="0.4"/>
<path d="M549.70 663.80V662.18H554.05V663.80M554.05 663.80V658.99H558.40V663.80M558.40 663.80V655.75H562.75V663.80M562.75 663.80V650.61H567.10V663.80M567.10 663.80V646.93H571.45V663.80M571.45 663.80V640.55H575.80V663.80M575.80 663.80V635.20H580.15V663.80M580.15 663.80V629.26H584.50V663.80M584.50 663.80V626.55H588.85V663.80M588.85 663.80V626.07H593.20V663.80M593.20 663.80V628.12H597.55V663.80M597.55 663.80V632.45H601.90V663.80M601.90 663.80V634.61H606.25V663.80M606.25 663.80V640.55H610.60V663.80M610.60 663.80V645.80H614.95V663.80M614.95 663.80V650.93H619.30V663.80M619.30 663.80V654.99H623.65V663.80M623.65 663.80V658.66H628.00V663.80M628.00 663.80V660.93H632.35V663.80M632.35 663.80V661.85H636.70V663.80M636.70 663.80V662.50H641.05V663.80M641.05 663.80V663.15H645.40V663.80M645.40 663.80V663.48H649.75V663.80M649.75 663.80V663.58H654.10V663.80" fill="#e36d6d" stroke="#222" stroke-width="0.4"/>
<path d="M443.5 663.7L444.7 663.7L446.0 663.5L447.2 663.3L448.4 662.8L449.7 662.1L450.9 660.9L452.1 659.0L453.4 656.3L454.6 652.4L455.8 647.1L457.1 640.2L458.3 631.6L459.5 621.6L460.8 610.4L462.0 598.5L463.3 587.0L464.5 576.6L465.7 568.3L467.0 562.9L468.2 561.1L469.4 562.9L470.7 568.3L471.9 576.6L473.1 587.0L474.4 598.5L475.6 610.4L476.9 621.6L478.1 631.6L479.3 640.2L480.6 647.1L481.8 652.4L483.0 656.3L484.3 659.0L485.5 660.9L486.7 662.1L488.0 662.8L489.2 663.3L490.4 663.5L491.7 663.7L492.9 663.7L494.2 663.8L495.4 663.8L496.6 663.8L497.9 663.8L499.1 663.8L500.3 663.8L501.6 663.8L502.8 663.8L504.0 663.8L505.3 663.8L506.5 663.8L507.8 663.8L509.0 663.8L510.2 663.8L511.5 663.8L512.7 663.8L513.9 663.8L515.2 663.8L516.4 663.8L517.6 663.8L518.9 663.8L520.1 663.8L521.3 663.8L522.6 663.8L523.8 663.8L525.1 663.8L526.3 663.8L527.5 663.8L528.8 663.8L530.0 663.8L531.2 663.8L532.5 663.8L533.7 663.8L534.9 663.8L536.2 663.8L537.4 663.8L538.7 663.8L539.9 663.8L541.1 663.8L542.4 663.8L543.6 663.8L544.8 663.8L546.1 663.8L547.3 663.8L548.5 663.8L549.8 663.8L551.0 663.8L552.2 663.8L553.5 663.8L554.7 663.8L556.0 663.8L557.2 663.8L558.4 663.8L559.7 663.8L560.9 663.8L562.1 663.8L563.4 663.8L564.6 663.8L565.8 663.8L567.1 663.8L568.3 663.8L569.6 663.8L570.8 663.8L572.0 663.8L573.3 663.8L574.5 663.8L575.7 663.8L577.0 663.8L578.2 663.8L579.4 663.8L580.7 663.8L581.9 663.8L583.1 663.8L584.4 663.8L585.6 663.8L586.9 663.8L588.1 663.8L589.3 663.8L590.6 663.8L591.8 663.8L593.0 663.8L594.3 663.8L595.5 663.8L596.7 663.8L598.0 663.8L599.2 663.8L600.5 663.8L601.7 663.8L602.9 663.8L604.2 663.8L605.4 663.8L606.6 663.8L607.9 663.8L609.1 663.8L610.3 663.8L611.6 663.8L612.8 663.8L614.0 663.8L615.3 663.8L616.5 663.8L617.8 663.8L619.0 663.8L620.2 663.8L621.5 663.8L622.7 663.8L623.9 663.8L625.2 663.8L626.4 663.8L627.6 663.8L628.9 663.8L630.1 663.8L631.4 663.8L632.6 663.8L633.8 663.8L635.1 663.8L636.3 663.8L637.5 663.8L638.8 663.8L640.0 663.8L641.2 663.8L642.5 663.8L643.7 663.8L644.9 663.8L646.2 663.8L647.4 663.8L648.7 663.8L649.9 663.8L651.1 663.8L652.4 663.8L653.6 663.8L654.8 663.8L656.1 663.8L657.3 663.8L658.5 663.8L659.8 663.8" fill="none" stroke="#2f50e0" stroke-width="0.8" stroke-dasharray="1.6 1.2"/>
<path d="M443.5 663.8L444.7 663.8L446.0 663.8L447.2 663.8L448.4 663.8L449.7 663.8L450.9 663.8L452.1 663.8L453.4 663.8L454.6 663.8L455.8 663.8L457.1 663.8L458.3 663.8L459.5 663.8L460.8 663.8L462.0 663.8L463.3 663.8L464.5 663.8L465.7 663.8L467.0 663.8L468.2 663.8L469.4 663.8L470.7 663.8L471.9 663.8L473.1 663.8L474.4 663.8L475.6 663.7L476.9 663.7L478.1 663.7L479.3 663.6L480.6 663.6L481.8 663.5L483.0 663.4L484.3 663.2L485.5 663.1L486.7 662.8L488.0 662.5L489.2 662.1L490.4 661.6L491.7 661.0L492.9 660.3L494.2 659.4L495.4 658.4L496.6 657.2L497.9 655.7L499.1 654.1L500.3 652.2L501.6 650.1L502.8 647.8L504.0 645.3L505.3 642.5L506.5 639.6L507.8 636.6L509.0 633.5L510.2 630.3L511.5 627.2L512.7 624.2L513.9 621.3L515.2 618.6L516.4 616.3L517.6 614.3L518.9 612.7L520.1 611.6L521.3 611.0L522.6 610.8L523.8 611.2L525.1 612.1L526.3 613.4L527.5 615.2L528.8 617.4L530.0 619.9L531.2 622.7L532.5 625.7L533.7 628.7L534.9 631.9L536.2 635.0L537.4 638.1L538.7 641.1L539.9 643.9L541.1 646.6L542.4 649.0L543.6 651.2L544.8 653.2L546.1 654.9L547.3 656.5L548.5 657.8L549.8 658.9L551.0 659.9L552.2 660.7L553.5 661.4L554.7 661.9L556.0 662.3L557.2 662.7L558.4 662.9L559.7 663.2L560.9 663.3L562.1 663.5L563.4 663.5L564.6 663.6L565.8 663.7L567.1 663.7L568.3 663.7L569.6 663.8L570.8 663.8L572.0 663.8L573.3 663.8L574.5 663.8L575.7 663.8L577.0 663.8L578.2 663.8L579.4 663.8L580.7 663.8L581.9 663.8L583.1 663.8L584.4 663.8L585.6 663.8L586.9 663.8L588.1 663.8L589.3 663.8L590.6 663.8L591.8 663.8L593.0 663.8L594.3 663.8L595.5 663.8L596.7 663.8L598.0 663.8L599.2 663.8L600.5 663.8L601.7 663.8L602.9 663.8L604.2 663.8L605.4 663.8L606.6 663.8L607.9 663.8L609.1 663.8L610.3 663.8L611.6 663.8L612.8 663.8L614.0 663.8L615.3 663.8L616.5 663.8L617.8 663.8L619.0 663.8L620.2 663.8L621.5 663.8L622.7 663.8L623.9 663.8L625.2 663.8L626.4 663.8L627.6 663.8L628.9 663.8L630.1 663.8L631.4 663.8L632.6 663.8L633.8 663.8L635.1 663.8L636.3 663.8L637.5 663.8L638.8 663.8L640.0 663.8L641.2 663.8L642.5 663.8L643.7 663.8L644.9 663.8L646.2 663.8L647.4 663.8L648.7 663.8L649.9 663.8L651.1 663.8L652.4 663.8L653.6 663.8L654.8 663.8L656.1 663.8L657.3 663.8L658.5 663.8L659.8 663.8" fill="none" stroke="#1f9a1f" stroke-width="0.8" stroke-dasharray="1.6 1.2"/>
<path d="M443.5 663.8L444.7 663.8L446.0 663.8L447.2 663.8L448.4 663.8L449.7 663.8L450.9 663.8L452.1 663.8L453.4 663.8L454.6 663.8L455.8 663.8L457.1 663.8L458.3 663.8L459.5 663.8L460.8 663.8L462.0 663.8L463.3 663.8L464.5 663.8L465.7 663.8L467.0 663.8L468.2 663.8L469.4 663.8L470.7 663.8L471.9 663.8L473.1 663.8L474.4 663.8L475.6 663.8L476.9 663.8L478.1 663.8L479.3 663.8L480.6 663.8L481.8 663.8L483.0 663.8L484.3 663.8L485.5 663.8L486.7 663.8L488.0 663.8L489.2 663.8L490.4 663.8L491.7 663.8L492.9 663.8L494.2 663.8L495.4 663.8L496.6 663.8L497.9 663.8L499.1 663.8L500.3 663.8L501.6 663.8L502.8 663.8L504.0 663.8L505.3 663.8L506.5 663.8L507.8 663.8L509.0 663.8L510.2 663.8L511.5 663.8L512.7 663.8L513.9 663.8L515.2 663.8L516.4 663.8L517.6 663.8L518.9 663.8L520.1 663.8L521.3 663.8L522.6 663.8L523.8 663.8L525.1 663.8L526.3 663.8L527.5 663.7L528.8 663.7L530.0 663.7L531.2 663.7L532.5 663.6L533.7 663.6L534.9 663.6L536.2 663.5L537.4 663.4L538.7 663.3L539.9 663.2L541.1 663.1L542.4 662.9L543.6 662.8L544.8 662.6L546.1 662.3L547.3 662.0L548.5 661.7L549.8 661.3L551.0 660.9L552.2 660.4L553.5 659.8L554.7 659.2L556.0 658.5L557.2 657.7L558.4 656.9L559.7 655.9L560.9 654.9L562.1 653.8L563.4 652.6L564.6 651.4L565.8 650.0L567.1 648.6L568.3 647.1L569.6 645.6L570.8 644.1L572.0 642.5L573.3 640.9L574.5 639.2L575.7 637.7L577.0 636.1L578.2 634.6L579.4 633.2L580.7 631.8L581.9 630.6L583.1 629.4L584.4 628.4L585.6 627.6L586.9 626.9L588.1 626.4L589.3 626.1L590.6 626.0L591.8 626.0L593.0 626.2L594.3 626.7L595.5 627.3L596.7 628.0L598.0 628.9L599.2 630.0L600.5 631.2L601.7 632.5L602.9 633.9L604.2 635.3L605.4 636.9L606.6 638.4L607.9 640.0L609.1 641.7L610.3 643.3L611.6 644.8L612.8 646.4L614.0 647.9L615.3 649.3L616.5 650.7L617.8 652.0L619.0 653.2L620.2 654.4L621.5 655.4L622.7 656.4L623.9 657.3L625.2 658.1L626.4 658.9L627.6 659.5L628.9 660.1L630.1 660.6L631.4 661.1L632.6 661.5L633.8 661.9L635.1 662.2L636.3 662.4L637.5 662.7L638.8 662.9L640.0 663.0L641.2 663.2L642.5 663.3L643.7 663.4L644.9 663.5L646.2 663.5L647.4 663.6L648.7 663.6L649.9 663.7L651.1 663.7L652.4 663.7L653.6 663.7L654.8 663.7L656.1 663.8L657.3 663.8L658.5 663.8L659.8 663.8" fill="none" stroke="#e02525" stroke-width="0.8" stroke-dasharray="1.6 1.2"/>
<line x1="436.50" y1="664.50" x2="668.90" y2="664.50" stroke="#555" stroke-width="0.6"/>
<line x1="436.50" y1="555.30" x2="436.50" y2="664.50" stroke="#555" stroke-width="0.6"/>
<line x1="434.50" y1="663.80" x2="436.50" y2="663.80" stroke="#555" stroke-width="0.5"/>
<text x="431.20" y="666.60" font-size="7.9" text-anchor="end" fill="#333">0</text>
<line x1="434.50" y1="636.77" x2="436.50" y2="636.77" stroke="#555" stroke-width="0.5"/>
<text x="431.20" y="639.57" font-size="7.9" text-anchor="end" fill="#333">50</text>
<line x1="434.50" y1="609.74" x2="436.50" y2="609.74" stroke="#555" stroke-width="0.5"/>
<text x="431.20" y="612.54" font-size="7.9" text-anchor="end" fill="#333">100</text>
<line x1="434.50" y1="582.71" x2="436.50" y2="582.71" stroke="#555" stroke-width="0.5"/>
<text x="431.20" y="585.51" font-size="7.9" text-anchor="end" fill="#333">150</text>
<line x1="434.50" y1="555.68" x2="436.50" y2="555.68" stroke="#555" stroke-width="0.5"/>
<text x="431.20" y="558.48" font-size="7.9" text-anchor="end" fill="#333">200</text>
<line x1="468.20" y1="664.50" x2="468.20" y2="666.50" stroke="#555" stroke-width="0.5"/>
<text x="468.20" y="674.80" font-size="8.0" text-anchor="middle" fill="#333">0.02</text>
<line x1="530.00" y1="664.50" x2="530.00" y2="666.50" stroke="#555" stroke-width="0.5"/>
<text x="530.00" y="674.80" font-size="8.0" text-anchor="middle" fill="#333">0.04</text>
<line x1="591.80" y1="664.50" x2="591.80" y2="666.50" stroke="#555" stroke-width="0.5"/>
<text x="591.80" y="674.80" font-size="8.0" text-anchor="middle" fill="#333">0.06</text>
<line x1="653.60" y1="664.50" x2="653.60" y2="666.50" stroke="#555" stroke-width="0.5"/>
<text x="653.60" y="674.80" font-size="8.0" text-anchor="middle" fill="#333">0.08</text>
<text x="551.90" y="688.60" font-size="8.6" text-anchor="middle" fill="#222">Simulated heteroplasmy variance</text>
<text transform="translate(411.00,611.00) rotate(-90)" font-size="8.4" text-anchor="middle" fill="#222">Density</text>
<line x1="446.30" y1="555.00" x2="446.30" y2="664.50" stroke="#333" stroke-width="0.8" stroke-dasharray="1.6 1.2"/>
<line x1="484.10" y1="555.00" x2="484.10" y2="664.50" stroke="#3a5ce6" stroke-width="0.8" stroke-dasharray="1.6 1.2"/>
<line x1="532.90" y1="555.00" x2="532.90" y2="664.50" stroke="#2aa02a" stroke-width="0.8" stroke-dasharray="1.6 1.2"/>
<line x1="623.50" y1="555.00" x2="623.50" y2="664.50" stroke="#e03030" stroke-width="0.8" stroke-dasharray="1.6 1.2"/>
<text transform="translate(454.60,557.6) rotate(-90)" font-size="7.5" text-anchor="end" fill="#555">Control variance</text>
<text transform="translate(494.60,557.6) rotate(-90)" font-size="7.5" text-anchor="end" fill="#4a6ee6"><tspan font-style="italic">Opa1</tspan> variance</text>
<text transform="translate(503.30,557.6) rotate(-90)" font-size="7.5" text-anchor="end" fill="#4a6ee6">adj. <tspan font-style="italic">P</tspan> = 0.308</text>
<text transform="translate(543.00,557.6) rotate(-90)" font-size="7.5" text-anchor="end" fill="#3aaa3a"><tspan font-style="italic">Polg</tspan> variance</text>
<text transform="translate(551.40,557.6) rotate(-90)" font-size="7.5" text-anchor="end" fill="#3aaa3a">adj. <tspan font-style="italic">P</tspan> = 1</text>
<text transform="translate(632.10,557.6) rotate(-90)" font-size="7.5" text-anchor="end" fill="#e04545"><tspan font-style="italic">Tfam</tspan> variance</text>
<text transform="translate(640.50,557.6) rotate(-90)" font-size="7.5" text-anchor="end" fill="#e04545">adj. <tspan font-style="italic">P</tspan> = 1</text>
</svg></body></html>
